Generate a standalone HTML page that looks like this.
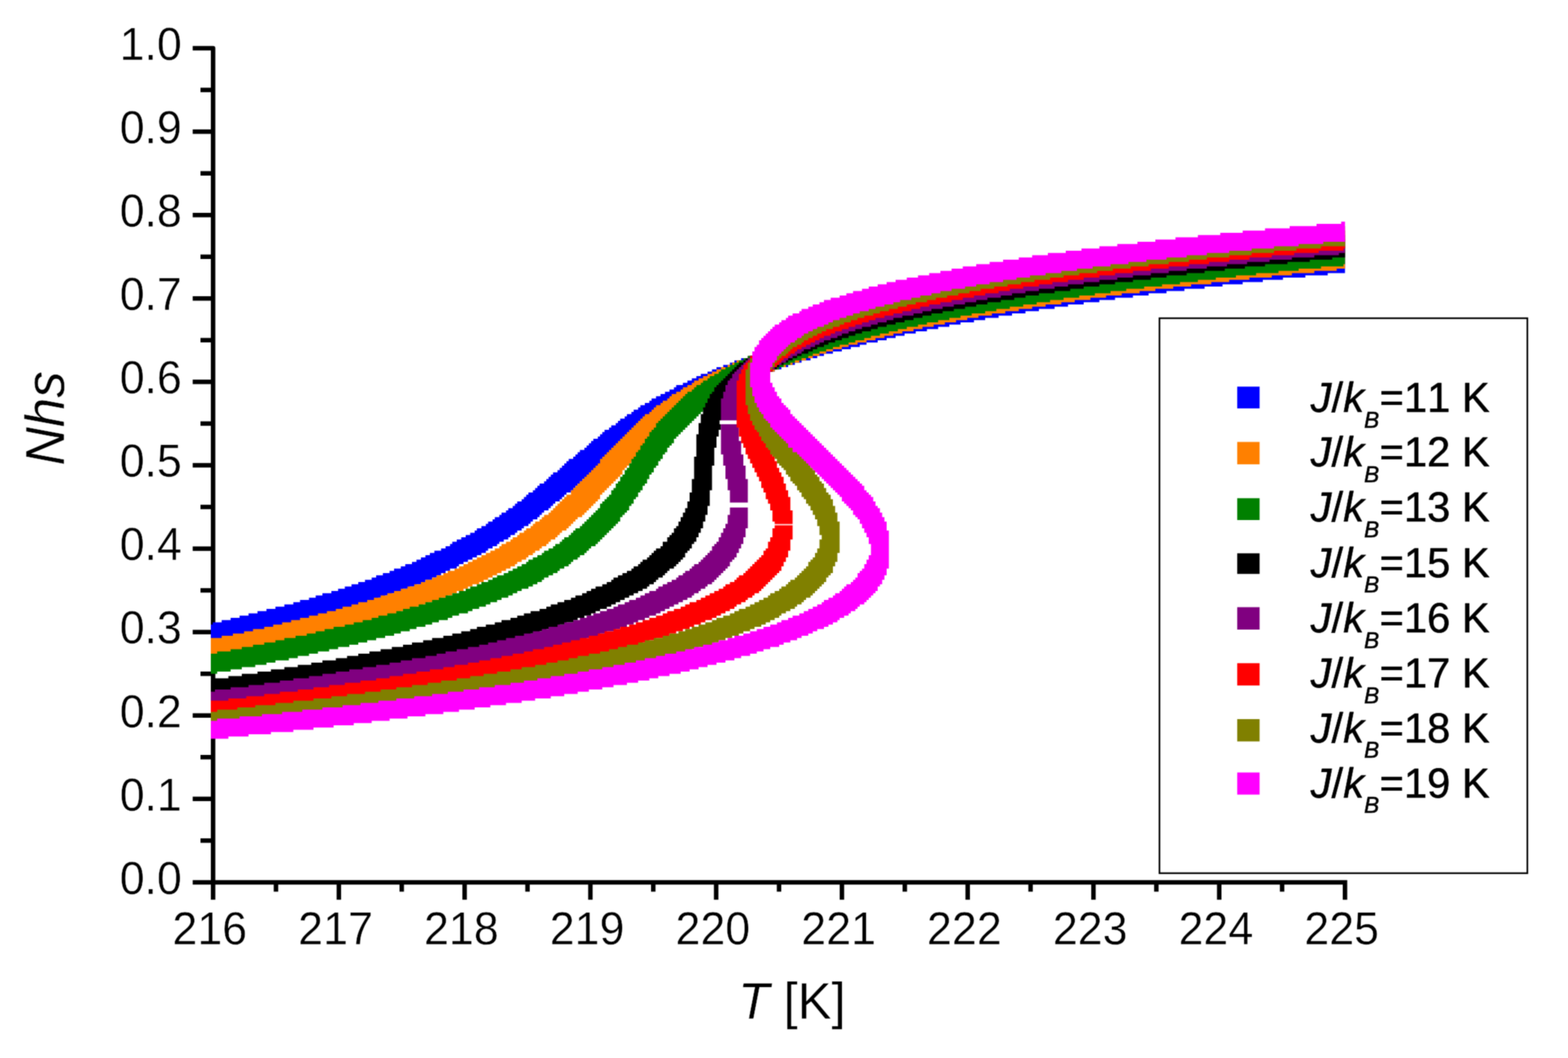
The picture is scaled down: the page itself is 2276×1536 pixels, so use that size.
<!DOCTYPE html>
<html lang="en"><head><meta charset="utf-8"><title>Nhs vs T</title>
<style>html,body{margin:0;padding:0;background:#fff;}body{width:2276px;height:1536px;overflow:hidden;}svg{display:block;}text{font-family:"Liberation Sans",sans-serif;fill:#000;font-kerning:none;font-variant-ligatures:none;text-rendering:geometricPrecision;}.lgt text{stroke:#000;stroke-width:0.7px;stroke-linejoin:round;}.tx{stroke:#fff;stroke-width:0.5px;stroke-linejoin:round;}.tk{font-size:65px;}.lg{font-size:60.5px;}.sub{font-size:33px;font-style:italic;}.it{font-style:italic;}</style></head><body>
<svg width="2276" height="1536" viewBox="0 0 2276 1536">
<rect x="0" y="0" width="2276" height="1536" fill="#fff"/>
<defs><filter id="sf" x="0" y="0" width="100%" height="100%" color-interpolation-filters="sRGB"><feConvolveMatrix order="5" kernelMatrix="0.00003 0.00101 0.00331 0.00101 0.00003 0.00101 0.03529 0.11525 0.03529 0.00101 0.00331 0.11525 0.37636 0.11525 0.00331 0.00101 0.03529 0.11525 0.03529 0.00101 0.00003 0.00101 0.00331 0.00101 0.00003" divisor="1" edgeMode="duplicate" preserveAlpha="true"/></filter></defs>
<g filter="url(#sf)">
<rect x="0" y="0" width="2276" height="1536" fill="#fff"/>
<g stroke="#000" stroke-width="6.5" fill="none" stroke-linecap="butt" stroke-linejoin="round">
<path d="M279.70 70.05 H309.30 V1280.90"/>
<path stroke-linejoin="miter" d="M279.70 1280.90 H1952.30 V1306.20"/>
<path d="M291.00 1220.36 H309.30"/>
<path d="M279.70 1159.82 H309.30"/>
<path d="M291.00 1099.27 H309.30"/>
<path d="M279.70 1038.73 H309.30"/>
<path d="M291.00 978.19 H309.30"/>
<path d="M279.70 917.64 H309.30"/>
<path d="M291.00 857.10 H309.30"/>
<path d="M279.70 796.56 H309.30"/>
<path d="M291.00 736.02 H309.30"/>
<path d="M279.70 675.48 H309.30"/>
<path d="M291.00 614.93 H309.30"/>
<path d="M279.70 554.39 H309.30"/>
<path d="M291.00 493.85 H309.30"/>
<path d="M279.70 433.30 H309.30"/>
<path d="M291.00 372.76 H309.30"/>
<path d="M279.70 312.22 H309.30"/>
<path d="M291.00 251.68 H309.30"/>
<path d="M279.70 191.13 H309.30"/>
<path d="M291.00 130.59 H309.30"/>
<path d="M309.30 1280.90 V1306.20"/>
<path d="M400.58 1280.90 V1294.50"/>
<path d="M491.86 1280.90 V1306.20"/>
<path d="M583.13 1280.90 V1294.50"/>
<path d="M674.41 1280.90 V1306.20"/>
<path d="M765.69 1280.90 V1294.50"/>
<path d="M856.97 1280.90 V1306.20"/>
<path d="M948.24 1280.90 V1294.50"/>
<path d="M1039.52 1280.90 V1306.20"/>
<path d="M1130.80 1280.90 V1294.50"/>
<path d="M1222.08 1280.90 V1306.20"/>
<path d="M1313.36 1280.90 V1294.50"/>
<path d="M1404.63 1280.90 V1306.20"/>
<path d="M1495.91 1280.90 V1294.50"/>
<path d="M1587.19 1280.90 V1306.20"/>
<path d="M1678.47 1280.90 V1294.50"/>
<path d="M1769.74 1280.90 V1306.20"/>
<path d="M1861.02 1280.90 V1294.50"/>
</g>
<defs><clipPath id="pc"><rect x="306.00" y="0" width="1646.30" height="1536"/></clipPath></defs>
<g clip-path="url(#pc)" shape-rendering="auto">
<path fill="#0000ff" d="M256.75 916.5h26v26h-26zM260 916.5h22.75v22.75h-22.75zM260 916.5h26v22.75h-26zM263.25 916.5h22.75v22.75h-22.75zM263.25 913.25h26v26h-26zM266.5 913.25h22.75v26h-22.75zM266.5 913.25h26v26h-26zM269.75 913.25h22.75v26h-22.75zM269.75 913.25h26v26h-26zM273 913.25h22.75v26h-22.75zM273 913.25h26v26h-26zM273 913.25h26v22.75h-26zM276.25 913.25h22.75v22.75h-22.75zM276.25 913.25h26v22.75h-26zM279.5 910h22.75v26h-22.75zM279.5 910h26v26h-26zM282.75 910h22.75v26h-22.75zM282.75 910h26v26h-26zM286 910h22.75v26h-22.75zM286 910h26v26h-26zM289.25 910h22.75v22.75h-22.75zM289.25 910h26v22.75h-26zM292.5 910h22.75v22.75h-22.75zM292.5 910h26v22.75h-26zM292.5 906.75h26v26h-26zM295.75 906.75h22.75v26h-22.75zM295.75 906.75h26v26h-26zM299 906.75h22.75v26h-22.75zM299 906.75h26v26h-26zM302.25 906.75h22.75v26h-22.75zM302.25 906.75h26v26h-26zM302.25 906.75h26v22.75h-26zM305.5 906.75h22.75v22.75h-22.75zM305.5 906.75h26v22.75h-26zM308.75 903.5h22.75v26h-22.75zM308.75 903.5h26v26h-26zM312 903.5h22.75v26h-22.75zM312 903.5h26v26h-26zM315.25 903.5h22.75v26h-22.75zM315.25 903.5h26v26h-26zM318.5 903.5h22.75v22.75h-22.75zM318.5 903.5h26v22.75h-26zM321.75 903.5h22.75v22.75h-22.75zM321.75 900.25h26v26h-26zM325 900.25h22.75v26h-22.75zM325 900.25h26v26h-26zM328.25 900.25h22.75v26h-22.75zM328.25 900.25h26v26h-26zM331.5 900.25h22.75v26h-22.75zM331.5 900.25h26v22.75h-26zM334.75 900.25h22.75v22.75h-22.75zM334.75 900.25h26v22.75h-26zM334.75 897h26v26h-26zM338 897h22.75v26h-22.75zM338 897h26v26h-26zM341.25 897h22.75v26h-22.75zM341.25 897h26v26h-26zM344.5 897h22.75v26h-22.75zM344.5 897h26v26h-26zM344.5 897h26v22.75h-26zM347.75 897h22.75v22.75h-22.75zM347.75 897h26v22.75h-26zM347.75 893.75h26v26h-26zM351 893.75h22.75v26h-22.75zM351 893.75h26v26h-26zM354.25 893.75h22.75v26h-22.75zM354.25 893.75h26v26h-26zM357.5 893.75h22.75v26h-22.75zM357.5 893.75h26v26h-26zM357.5 893.75h26v22.75h-26zM360.75 893.75h22.75v22.75h-22.75zM360.75 893.75h26v22.75h-26zM360.75 890.5h26v26h-26zM364 890.5h22.75v26h-22.75zM364 890.5h26v26h-26zM367.25 890.5h22.75v26h-22.75zM367.25 890.5h26v26h-26zM370.5 890.5h22.75v26h-22.75zM370.5 890.5h26v26h-26zM370.5 890.5h26v22.75h-26zM373.75 890.5h22.75v22.75h-22.75zM373.75 890.5h26v22.75h-26zM373.75 887.25h26v26h-26zM377 887.25h22.75v26h-22.75zM377 887.25h26v26h-26zM380.25 887.25h22.75v26h-22.75zM380.25 887.25h26v26h-26zM383.5 887.25h22.75v26h-22.75zM383.5 887.25h26v22.75h-26zM386.75 887.25h22.75v22.75h-22.75zM386.75 887.25h26v22.75h-26zM386.75 884h26v26h-26zM390 884h22.75v26h-22.75zM390 884h26v26h-26zM393.25 884h22.75v26h-22.75zM393.25 884h26v26h-26zM396.5 884h22.75v26h-22.75zM396.5 884h26v22.75h-26zM399.75 884h22.75v22.75h-22.75zM399.75 884h26v22.75h-26zM399.75 880.75h26v26h-26zM403 880.75h22.75v26h-22.75zM403 880.75h26v26h-26zM406.25 880.75h22.75v26h-22.75zM406.25 880.75h26v26h-26zM409.5 880.75h22.75v22.75h-22.75zM409.5 880.75h26v22.75h-26zM412.75 880.75h22.75v22.75h-22.75zM412.75 877.5h26v26h-26zM416 877.5h22.75v26h-22.75zM416 877.5h26v26h-26zM419.25 877.5h22.75v26h-22.75zM419.25 877.5h26v26h-26zM419.25 877.5h26v22.75h-26zM422.5 877.5h22.75v22.75h-22.75zM422.5 877.5h26v22.75h-26zM425.75 874.25h22.75v26h-22.75zM425.75 874.25h26v26h-26zM429 874.25h22.75v26h-22.75zM429 874.25h26v26h-26zM432.25 874.25h22.75v26h-22.75zM432.25 874.25h26v26h-26zM432.25 874.25h26v22.75h-26zM435.5 874.25h22.75v22.75h-22.75zM435.5 871h26v26h-26zM438.75 871h22.75v26h-22.75zM438.75 871h26v26h-26zM442 871h22.75v26h-22.75zM442 871h26v26h-26zM442 871h26v22.75h-26zM445.25 871h22.75v22.75h-22.75zM445.25 871h26v22.75h-26zM448.5 867.75h22.75v26h-22.75zM448.5 867.75h26v26h-26zM451.75 867.75h22.75v26h-22.75zM451.75 867.75h26v26h-26zM455 867.75h22.75v26h-22.75zM455 867.75h26v22.75h-26zM458.25 867.75h22.75v22.75h-22.75zM458.25 867.75h26v22.75h-26zM458.25 864.5h26v26h-26zM461.5 864.5h22.75v26h-22.75zM461.5 864.5h26v26h-26zM464.75 864.5h22.75v26h-22.75zM464.75 864.5h26v26h-26zM464.75 864.5h26v22.75h-26zM468 864.5h22.75v22.75h-22.75zM468 864.5h26v22.75h-26zM468 861.25h26v26h-26zM471.25 861.25h22.75v26h-22.75zM471.25 861.25h26v26h-26zM474.5 861.25h22.75v26h-22.75zM474.5 861.25h26v26h-26zM477.75 861.25h22.75v22.75h-22.75zM477.75 861.25h26v22.75h-26zM481 858h22.75v26h-22.75zM481 858h26v26h-26zM484.25 858h22.75v26h-22.75zM484.25 858h26v26h-26zM487.5 858h22.75v22.75h-22.75zM487.5 858h26v22.75h-26zM490.75 858h22.75v22.75h-22.75zM490.75 854.75h26v26h-26zM494 854.75h22.75v26h-22.75zM494 854.75h26v26h-26zM497.25 854.75h22.75v26h-22.75zM497.25 854.75h26v22.75h-26zM500.5 854.75h22.75v22.75h-22.75zM500.5 851.5h26v26h-26zM503.75 851.5h22.75v26h-22.75zM503.75 851.5h26v26h-26zM507 851.5h22.75v26h-22.75zM507 851.5h26v26h-26zM507 851.5h26v22.75h-26zM510.25 851.5h22.75v22.75h-22.75zM510.25 848.25h26v26h-26zM513.5 848.25h22.75v26h-22.75zM513.5 848.25h26v26h-26zM516.75 848.25h22.75v26h-22.75zM516.75 848.25h26v22.75h-26zM520 848.25h22.75v22.75h-22.75zM520 845h26v26h-26zM523.25 845h22.75v26h-22.75zM523.25 845h26v26h-26zM526.5 845h22.75v26h-22.75zM526.5 845h26v22.75h-26zM529.75 845h22.75v22.75h-22.75zM529.75 841.75h26v26h-26zM533 841.75h22.75v26h-22.75zM533 841.75h26v26h-26zM536.25 841.75h22.75v26h-22.75zM536.25 841.75h26v22.75h-26zM539.5 838.5h22.75v26h-22.75zM539.5 838.5h26v26h-26zM542.75 838.5h22.75v26h-22.75zM542.75 838.5h26v26h-26zM542.75 838.5h26v22.75h-26zM546 838.5h22.75v22.75h-22.75zM546 838.5h26v22.75h-26zM546 835.25h26v26h-26zM549.25 835.25h22.75v26h-22.75zM549.25 835.25h26v26h-26zM552.5 835.25h22.75v26h-22.75zM552.5 835.25h26v26h-26zM552.5 835.25h26v22.75h-26zM555.75 835.25h22.75v22.75h-22.75zM555.75 832h26v26h-26zM559 832h22.75v26h-22.75zM559 832h26v26h-26zM562.25 832h22.75v26h-22.75zM562.25 832h26v22.75h-26zM565.5 832h22.75v22.75h-22.75zM565.5 828.75h26v26h-26zM568.75 828.75h22.75v26h-22.75zM568.75 828.75h26v26h-26zM572 828.75h22.75v22.75h-22.75zM572 828.75h26v22.75h-26zM572 825.5h26v26h-26zM575.25 825.5h22.75v26h-22.75zM575.25 825.5h26v26h-26zM578.5 825.5h22.75v26h-22.75zM578.5 825.5h26v26h-26zM578.5 825.5h26v22.75h-26zM581.75 822.25h22.75v26h-22.75zM581.75 822.25h26v26h-26zM585 822.25h22.75v26h-22.75zM585 822.25h26v26h-26zM585 822.25h26v22.75h-26zM588.25 822.25h22.75v22.75h-22.75zM588.25 822.25h26v22.75h-26zM588.25 819h26v26h-26zM591.5 819h22.75v26h-22.75zM591.5 819h26v26h-26zM594.75 819h22.75v22.75h-22.75zM594.75 819h26v22.75h-26zM598 815.75h22.75v26h-22.75zM598 815.75h26v26h-26zM601.25 815.75h22.75v26h-22.75zM601.25 815.75h26v26h-26zM601.25 815.75h26v22.75h-26zM604.5 812.5h22.75v26h-22.75zM604.5 812.5h26v26h-26zM607.75 812.5h22.75v26h-22.75zM607.75 812.5h26v26h-26zM607.75 812.5h26v22.75h-26zM611 812.5h22.75v22.75h-22.75zM611 809.25h26v26h-26zM614.25 809.25h22.75v26h-22.75zM614.25 809.25h26v26h-26zM617.5 809.25h22.75v22.75h-22.75zM617.5 809.25h26v22.75h-26zM617.5 806h26v26h-26zM620.75 806h22.75v26h-22.75zM620.75 806h26v26h-26zM624 806h22.75v22.75h-22.75zM624 806h26v22.75h-26zM624 802.75h26v26h-26zM627.25 802.75h22.75v26h-22.75zM627.25 802.75h26v26h-26zM630.5 802.75h22.75v26h-22.75zM630.5 802.75h26v22.75h-26zM630.5 799.5h26v26h-26zM633.75 799.5h22.75v26h-22.75zM633.75 799.5h26v26h-26zM637 799.5h22.75v26h-22.75zM637 799.5h26v26h-26zM637 799.5h26v22.75h-26zM640.25 796.25h22.75v26h-22.75zM640.25 796.25h26v26h-26zM643.5 796.25h22.75v26h-22.75zM643.5 796.25h26v22.75h-26zM646.75 793h22.75v26h-22.75zM646.75 793h26v26h-26zM650 793h22.75v26h-22.75zM650 793h26v22.75h-26zM653.25 789.75h22.75v26h-22.75zM653.25 789.75h26v26h-26zM656.5 789.75h22.75v26h-22.75zM656.5 789.75h26v22.75h-26zM656.5 786.5h26v26h-26zM659.75 786.5h22.75v26h-22.75zM659.75 786.5h26v26h-26zM663 786.5h22.75v26h-22.75zM663 786.5h22.75v22.75h-22.75zM663 786.5h26v22.75h-26zM663 783.25h26v26h-26zM666.25 783.25h22.75v26h-22.75zM666.25 783.25h26v26h-26zM669.5 783.25h22.75v22.75h-22.75zM669.5 783.25h26v22.75h-26zM669.5 780h26v26h-26zM672.75 780h22.75v26h-22.75zM672.75 780h26v26h-26zM676 780h22.75v22.75h-22.75zM676 780h26v22.75h-26zM676 776.75h26v26h-26zM679.25 776.75h22.75v26h-22.75zM679.25 776.75h26v26h-26zM679.25 776.75h26v22.75h-26zM682.5 773.5h22.75v26h-22.75zM682.5 773.5h26v26h-26zM685.75 773.5h22.75v26h-22.75zM685.75 773.5h26v22.75h-26zM689 770.25h22.75v26h-22.75zM689 770.25h26v26h-26zM692.25 770.25h22.75v22.75h-22.75zM692.25 770.25h26v22.75h-26zM692.25 767h26v26h-26zM695.5 767h22.75v26h-22.75zM695.5 767h26v26h-26zM695.5 767h26v22.75h-26zM698.75 767h22.75v22.75h-22.75zM698.75 763.75h26v26h-26zM702 763.75h22.75v26h-22.75zM702 763.75h26v22.75h-26zM705.25 760.5h22.75v26h-22.75zM705.25 760.5h26v26h-26zM708.5 760.5h22.75v22.75h-22.75zM708.5 760.5h26v22.75h-26zM708.5 757.25h26v26h-26zM711.75 757.25h22.75v26h-22.75zM711.75 757.25h26v26h-26zM711.75 757.25h26v22.75h-26zM715 754h22.75v26h-22.75zM715 754h26v26h-26zM718.25 754h22.75v22.75h-22.75zM718.25 754h26v22.75h-26zM718.25 750.75h26v26h-26zM721.5 750.75h22.75v26h-22.75zM721.5 750.75h26v26h-26zM721.5 750.75h26v22.75h-26zM724.75 750.75h22.75v22.75h-22.75zM724.75 747.5h22.75v26h-22.75zM724.75 747.5h26v26h-26zM728 747.5h22.75v26h-22.75zM728 747.5h22.75v22.75h-22.75zM728 747.5h26v22.75h-26zM728 744.25h26v26h-26zM731.25 744.25h22.75v26h-22.75zM731.25 744.25h26v26h-26zM731.25 744.25h26v22.75h-26zM734.5 741h22.75v26h-22.75zM734.5 741h26v26h-26zM737.75 741h22.75v22.75h-22.75zM737.75 741h26v22.75h-26zM737.75 737.75h26v26h-26zM741 737.75h22.75v26h-22.75zM741 737.75h26v26h-26zM741 737.75h26v22.75h-26zM744.25 734.5h22.75v26h-22.75zM744.25 734.5h26v26h-26zM744.25 734.5h26v22.75h-26zM747.5 734.5h22.75v22.75h-22.75zM747.5 731.25h26v26h-26zM750.75 731.25h22.75v26h-22.75zM750.75 731.25h26v22.75h-26zM750.75 728h26v26h-26zM754 728h22.75v26h-22.75zM754 728h26v26h-26zM754 728h26v22.75h-26zM757.25 724.75h22.75v26h-22.75zM757.25 724.75h26v26h-26zM760.5 724.75h22.75v22.75h-22.75zM760.5 721.5h22.75v26h-22.75zM760.5 721.5h26v26h-26zM763.75 721.5h22.75v26h-22.75zM763.75 721.5h22.75v22.75h-22.75zM763.75 721.5h26v22.75h-26zM763.75 718.25h26v26h-26zM767 718.25h22.75v26h-22.75zM767 718.25h26v22.75h-26zM767 715h26v26h-26zM770.25 715h22.75v26h-22.75zM770.25 715h26v26h-26zM770.25 715h26v22.75h-26zM773.5 711.75h22.75v26h-22.75zM773.5 711.75h26v26h-26zM776.75 711.75h22.75v22.75h-22.75zM776.75 711.75h26v22.75h-26zM776.75 708.5h26v26h-26zM780 708.5h22.75v26h-22.75zM780 708.5h26v22.75h-26zM780 705.25h26v26h-26zM783.25 705.25h22.75v26h-22.75zM783.25 705.25h26v22.75h-26zM783.25 702h26v26h-26zM786.5 702h22.75v26h-22.75zM786.5 702h26v26h-26zM786.5 702h26v22.75h-26zM789.75 698.75h22.75v26h-22.75zM789.75 698.75h26v26h-26zM793 698.75h22.75v22.75h-22.75zM793 695.5h26v26h-26zM796.25 695.5h22.75v26h-22.75zM796.25 695.5h26v22.75h-26zM796.25 692.25h26v26h-26zM799.5 692.25h22.75v26h-22.75zM799.5 692.25h26v22.75h-26zM799.5 689h26v26h-26zM802.75 689h22.75v26h-22.75zM802.75 689h26v26h-26zM802.75 689h26v22.75h-26zM802.75 685.75h26v26h-26zM806 685.75h22.75v26h-22.75zM806 685.75h26v26h-26zM806 685.75h26v22.75h-26zM809.25 682.5h22.75v26h-22.75zM809.25 682.5h26v26h-26zM812.5 682.5h22.75v22.75h-22.75zM812.5 679.25h22.75v26h-22.75zM812.5 679.25h26v26h-26zM815.75 679.25h22.75v22.75h-22.75zM815.75 676h26v26h-26zM819 676h22.75v26h-22.75zM819 676h26v22.75h-26zM819 672.75h26v26h-26zM822.25 672.75h22.75v26h-22.75zM822.25 672.75h26v22.75h-26zM822.25 669.5h26v26h-26zM825.5 669.5h22.75v26h-22.75zM825.5 669.5h26v26h-26zM825.5 669.5h26v22.75h-26zM825.5 666.25h26v26h-26zM828.75 666.25h22.75v26h-22.75zM828.75 666.25h26v26h-26zM828.75 666.25h26v22.75h-26zM832 663h22.75v26h-22.75zM832 663h26v26h-26zM835.25 663h22.75v22.75h-22.75zM835.25 659.75h22.75v26h-22.75zM835.25 659.75h26v26h-26zM838.5 659.75h22.75v22.75h-22.75zM838.5 656.5h26v26h-26zM841.75 656.5h22.75v26h-22.75zM841.75 656.5h26v22.75h-26zM841.75 653.25h26v26h-26zM845 653.25h22.75v26h-22.75zM845 653.25h26v26h-26zM845 653.25h26v22.75h-26zM848.25 650h22.75v26h-22.75zM848.25 650h26v26h-26zM848.25 650h26v22.75h-26zM851.5 646.75h22.75v26h-22.75zM851.5 646.75h26v26h-26zM851.5 646.75h26v22.75h-26zM854.75 646.75h22.75v22.75h-22.75zM854.75 643.5h26v26h-26zM858 643.5h22.75v22.75h-22.75zM858 643.5h26v22.75h-26zM858 640.25h26v26h-26zM861.25 640.25h22.75v26h-22.75zM861.25 640.25h26v26h-26zM861.25 640.25h26v22.75h-26zM861.25 637h26v26h-26zM864.5 637h22.75v26h-22.75zM864.5 637h26v26h-26zM864.5 637h26v22.75h-26zM867.75 633.75h22.75v26h-22.75zM867.75 633.75h26v26h-26zM867.75 633.75h26v22.75h-26zM871 633.75h22.75v22.75h-22.75zM871 630.5h26v26h-26zM874.25 630.5h22.75v22.75h-22.75zM874.25 630.5h26v22.75h-26zM874.25 627.25h26v26h-26zM877.5 627.25h22.75v26h-22.75zM877.5 627.25h26v26h-26zM877.5 627.25h26v22.75h-26zM877.5 624h26v26h-26zM880.75 624h22.75v26h-22.75zM880.75 624h26v26h-26zM880.75 624h26v22.75h-26zM884 624h22.75v22.75h-22.75zM884 620.75h26v26h-26zM887.25 620.75h22.75v22.75h-22.75zM887.25 620.75h26v22.75h-26zM887.25 617.5h26v26h-26zM890.5 617.5h22.75v26h-22.75zM890.5 617.5h26v26h-26zM890.5 617.5h26v22.75h-26zM893.75 614.25h22.75v26h-22.75zM893.75 614.25h26v26h-26zM893.75 614.25h26v22.75h-26zM897 614.25h22.75v22.75h-22.75zM897 611h26v26h-26zM900.25 611h22.75v26h-22.75zM900.25 611h26v22.75h-26zM900.25 607.75h26v26h-26zM903.5 607.75h22.75v26h-22.75zM903.5 607.75h26v26h-26zM903.5 607.75h26v22.75h-26zM906.75 604.5h22.75v26h-22.75zM906.75 604.5h26v26h-26zM910 604.5h22.75v22.75h-22.75zM910 604.5h26v22.75h-26zM910 601.25h26v26h-26zM913.25 601.25h22.75v26h-22.75zM913.25 601.25h26v26h-26zM913.25 601.25h26v22.75h-26zM916.5 598h22.75v26h-22.75zM916.5 598h26v26h-26zM919.75 598h22.75v22.75h-22.75zM919.75 598h26v22.75h-26zM919.75 594.75h26v26h-26zM923 594.75h22.75v26h-22.75zM923 594.75h26v26h-26zM923 594.75h26v22.75h-26zM926.25 594.75h22.75v22.75h-22.75zM926.25 591.5h22.75v26h-22.75zM926.25 591.5h26v26h-26zM929.5 591.5h22.75v26h-22.75zM929.5 591.5h26v22.75h-26zM929.5 588.25h26v26h-26zM932.75 588.25h22.75v26h-22.75zM932.75 588.25h26v26h-26zM932.75 588.25h26v22.75h-26zM936 588.25h22.75v22.75h-22.75zM936 585h26v26h-26zM939.25 585h22.75v26h-22.75zM939.25 585h26v26h-26zM939.25 585h26v22.75h-26zM942.5 581.75h22.75v26h-22.75zM942.5 581.75h26v26h-26zM945.75 581.75h22.75v26h-22.75zM945.75 581.75h26v22.75h-26zM945.75 578.5h26v26h-26zM949 578.5h22.75v26h-22.75zM949 578.5h26v26h-26zM952.25 578.5h22.75v22.75h-22.75zM952.25 578.5h26v22.75h-26zM952.25 575.25h26v26h-26zM955.5 575.25h22.75v26h-22.75zM955.5 575.25h26v26h-26zM955.5 575.25h26v22.75h-26zM958.75 575.25h22.75v22.75h-22.75zM958.75 572h26v26h-26zM962 572h22.75v26h-22.75zM962 572h26v26h-26zM962 572h26v22.75h-26zM965.25 568.75h22.75v26h-22.75zM965.25 568.75h26v26h-26zM968.5 568.75h22.75v26h-22.75zM968.5 568.75h26v26h-26zM968.5 568.75h26v22.75h-26zM971.75 565.5h22.75v26h-22.75zM971.75 565.5h26v26h-26zM975 565.5h22.75v26h-22.75zM975 565.5h26v22.75h-26zM978.25 562.25h22.75v26h-22.75zM978.25 562.25h26v26h-26zM981.5 562.25h22.75v26h-22.75zM981.5 562.25h26v22.75h-26zM981.5 559h26v26h-26zM984.75 559h22.75v26h-22.75zM984.75 559h26v26h-26zM988 559h22.75v26h-22.75zM988 559h26v22.75h-26zM991.25 555.75h22.75v26h-22.75zM991.25 555.75h26v26h-26zM994.5 555.75h22.75v26h-22.75zM994.5 555.75h26v22.75h-26zM997.75 552.5h22.75v26h-22.75zM997.75 552.5h26v26h-26zM1001 552.5h22.75v26h-22.75zM1001 552.5h26v22.75h-26zM1004.25 552.5h22.75v22.75h-22.75zM1004.25 549.25h26v26h-26zM1007.5 549.25h22.75v26h-22.75zM1007.5 549.25h26v26h-26zM1007.5 549.25h26v22.75h-26zM1010.75 549.25h22.75v22.75h-22.75zM1010.75 549.25h26v22.75h-26zM1010.75 546h26v26h-26zM1014 546h22.75v26h-22.75zM1014 546h26v26h-26zM1014 546h26v22.75h-26zM1017.25 546h22.75v22.75h-22.75zM1017.25 546h26v22.75h-26zM1017.25 542.75h26v26h-26zM1020.5 542.75h22.75v26h-22.75zM1020.5 542.75h26v26h-26zM1023.75 542.75h22.75v22.75h-22.75zM1023.75 542.75h26v22.75h-26zM1027 539.5h22.75v26h-22.75zM1027 539.5h26v26h-26zM1030.25 539.5h22.75v26h-22.75zM1030.25 539.5h26v26h-26zM1030.25 539.5h26v22.75h-26zM1033.5 539.5h22.75v22.75h-22.75zM1033.5 536.25h26v26h-26zM1036.75 536.25h22.75v26h-22.75zM1036.75 536.25h26v26h-26zM1040 536.25h22.75v22.75h-22.75zM1040 536.25h26v22.75h-26zM1040 533h26v26h-26zM1043.25 533h22.75v26h-22.75zM1043.25 533h26v26h-26zM1046.5 533h22.75v26h-22.75zM1046.5 533h26v26h-26zM1046.5 533h26v22.75h-26zM1049.75 533h22.75v22.75h-22.75zM1049.75 529.75h26v26h-26zM1053 529.75h22.75v26h-22.75zM1053 529.75h26v26h-26zM1056.25 529.75h22.75v22.75h-22.75zM1056.25 529.75h26v22.75h-26zM1059.5 526.5h22.75v26h-22.75zM1059.5 526.5h26v26h-26zM1062.75 526.5h22.75v26h-22.75zM1062.75 526.5h26v26h-26zM1062.75 526.5h26v22.75h-26zM1066 526.5h22.75v22.75h-22.75zM1066 526.5h26v22.75h-26zM1066 523.25h26v26h-26zM1069.25 523.25h22.75v26h-22.75zM1069.25 523.25h26v26h-26zM1072.5 523.25h22.75v26h-22.75zM1072.5 523.25h26v22.75h-26zM1075.75 520h22.75v26h-22.75zM1075.75 520h26v26h-26zM1079 520h22.75v26h-22.75zM1079 520h26v26h-26zM1082.25 520h22.75v26h-22.75zM1082.25 520h26v22.75h-26zM1085.5 516.75h22.75v26h-22.75zM1085.5 516.75h26v26h-26zM1088.75 516.75h22.75v26h-22.75zM1088.75 516.75h26v26h-26zM1092 516.75h22.75v22.75h-22.75zM1092 516.75h26v22.75h-26zM1095.25 513.5h22.75v26h-22.75zM1095.25 513.5h26v26h-26zM1098.5 513.5h22.75v26h-22.75zM1098.5 513.5h26v26h-26zM1101.75 513.5h22.75v22.75h-22.75zM1101.75 513.5h26v22.75h-26zM1105 510.25h22.75v26h-22.75zM1105 510.25h26v26h-26zM1108.25 510.25h22.75v26h-22.75zM1108.25 510.25h26v26h-26zM1111.5 510.25h22.75v22.75h-22.75zM1111.5 510.25h26v22.75h-26zM1111.5 507h26v26h-26zM1114.75 507h22.75v26h-22.75zM1114.75 507h26v26h-26zM1118 507h22.75v26h-22.75zM1118 507h26v26h-26zM1118 507h26v22.75h-26zM1121.25 507h22.75v22.75h-22.75zM1121.25 507h26v22.75h-26zM1124.5 503.75h22.75v26h-22.75zM1124.5 503.75h26v26h-26zM1127.75 503.75h22.75v26h-22.75zM1127.75 503.75h26v26h-26zM1131 503.75h22.75v22.75h-22.75zM1131 503.75h26v22.75h-26zM1134.25 500.5h22.75v26h-22.75zM1134.25 500.5h26v26h-26zM1137.5 500.5h22.75v26h-22.75zM1137.5 500.5h26v26h-26zM1140.75 500.5h22.75v26h-22.75zM1140.75 500.5h26v22.75h-26zM1144 500.5h22.75v22.75h-22.75zM1144 497.25h26v26h-26zM1147.25 497.25h22.75v26h-22.75zM1147.25 497.25h26v26h-26zM1150.5 497.25h22.75v26h-22.75zM1150.5 497.25h26v26h-26zM1150.5 497.25h26v22.75h-26zM1153.75 497.25h22.75v22.75h-22.75zM1153.75 497.25h26v22.75h-26zM1153.75 494h26v26h-26zM1157 494h22.75v26h-22.75zM1157 494h26v26h-26zM1160.25 494h22.75v26h-22.75zM1160.25 494h26v26h-26zM1163.5 494h22.75v22.75h-22.75zM1163.5 494h26v22.75h-26zM1166.75 490.75h22.75v26h-22.75zM1166.75 490.75h26v26h-26zM1170 490.75h22.75v26h-22.75zM1170 490.75h26v26h-26zM1173.25 490.75h22.75v26h-22.75zM1173.25 490.75h26v22.75h-26zM1176.5 490.75h22.75v22.75h-22.75zM1176.5 490.75h26v22.75h-26zM1176.5 487.5h26v26h-26zM1179.75 487.5h22.75v26h-22.75zM1179.75 487.5h26v26h-26zM1183 487.5h22.75v26h-22.75zM1183 487.5h26v26h-26zM1186.25 487.5h22.75v22.75h-22.75zM1186.25 487.5h26v22.75h-26zM1189.5 484.25h22.75v26h-22.75zM1189.5 484.25h26v26h-26zM1192.75 484.25h22.75v26h-22.75zM1192.75 484.25h26v26h-26zM1196 484.25h22.75v26h-22.75zM1196 484.25h26v26h-26zM1196 484.25h26v22.75h-26zM1199.25 484.25h22.75v22.75h-22.75zM1199.25 484.25h26v22.75h-26zM1202.5 481h22.75v26h-22.75zM1202.5 481h26v26h-26zM1205.75 481h22.75v26h-22.75zM1205.75 481h26v26h-26zM1209 481h22.75v26h-22.75zM1209 481h26v26h-26zM1209 481h26v22.75h-26zM1212.25 481h22.75v22.75h-22.75zM1212.25 481h26v22.75h-26zM1212.25 477.75h26v26h-26zM1215.5 477.75h22.75v26h-22.75zM1215.5 477.75h26v26h-26zM1218.75 477.75h22.75v26h-22.75zM1218.75 477.75h26v26h-26zM1222 477.75h22.75v26h-22.75zM1222 477.75h26v26h-26zM1222 477.75h26v22.75h-26zM1225.25 477.75h22.75v22.75h-22.75zM1225.25 477.75h26v22.75h-26zM1225.25 474.5h26v26h-26zM1228.5 474.5h22.75v26h-22.75zM1228.5 474.5h26v26h-26zM1231.75 474.5h22.75v26h-22.75zM1231.75 474.5h26v26h-26zM1235 474.5h22.75v26h-22.75zM1235 474.5h26v22.75h-26zM1238.25 474.5h22.75v22.75h-22.75zM1238.25 474.5h26v22.75h-26zM1238.25 471.25h26v26h-26zM1241.5 471.25h22.75v26h-22.75zM1241.5 471.25h26v26h-26zM1244.75 471.25h22.75v26h-22.75zM1244.75 471.25h26v26h-26zM1248 471.25h22.75v26h-22.75zM1248 471.25h26v26h-26zM1248 471.25h26v22.75h-26zM1251.25 471.25h22.75v22.75h-22.75zM1251.25 471.25h26v22.75h-26zM1251.25 468h26v26h-26zM1254.5 468h22.75v26h-22.75zM1254.5 468h26v26h-26zM1257.75 468h22.75v26h-22.75zM1257.75 468h26v26h-26zM1261 468h22.75v26h-22.75zM1261 468h26v26h-26zM1261 468h26v22.75h-26zM1264.25 468h22.75v22.75h-22.75zM1264.25 468h26v22.75h-26zM1267.5 464.75h22.75v26h-22.75zM1267.5 464.75h26v26h-26zM1270.75 464.75h22.75v26h-22.75zM1270.75 464.75h26v26h-26zM1274 464.75h22.75v26h-22.75zM1274 464.75h26v26h-26zM1277.25 464.75h22.75v22.75h-22.75zM1277.25 464.75h26v22.75h-26zM1280.5 464.75h22.75v22.75h-22.75zM1280.5 461.5h26v26h-26zM1283.75 461.5h22.75v26h-22.75zM1283.75 461.5h26v26h-26zM1287 461.5h22.75v26h-22.75zM1287 461.5h26v26h-26zM1290.25 461.5h22.75v26h-22.75zM1290.25 461.5h26v22.75h-26zM1293.5 461.5h22.75v22.75h-22.75zM1293.5 461.5h26v22.75h-26zM1296.75 458.25h22.75v26h-22.75zM1296.75 458.25h26v26h-26zM1300 458.25h22.75v26h-22.75zM1300 458.25h26v26h-26zM1303.25 458.25h22.75v26h-22.75zM1303.25 458.25h26v26h-26zM1306.5 458.25h22.75v26h-22.75zM1306.5 458.25h26v22.75h-26zM1309.75 458.25h22.75v22.75h-22.75zM1309.75 458.25h26v22.75h-26zM1309.75 455h26v26h-26zM1313 455h22.75v26h-22.75zM1313 455h26v26h-26zM1316.25 455h22.75v26h-22.75zM1316.25 455h26v26h-26zM1319.5 455h22.75v26h-22.75zM1319.5 455h26v26h-26zM1322.75 455h22.75v22.75h-22.75zM1322.75 455h26v22.75h-26zM1326 455h22.75v22.75h-22.75zM1326 455h26v22.75h-26zM1326 451.75h26v26h-26zM1329.25 451.75h22.75v26h-22.75zM1329.25 451.75h26v26h-26zM1332.5 451.75h22.75v26h-22.75zM1332.5 451.75h26v26h-26zM1335.75 451.75h22.75v26h-22.75zM1335.75 451.75h26v26h-26zM1339 451.75h22.75v22.75h-22.75zM1339 451.75h26v22.75h-26zM1342.25 451.75h22.75v22.75h-22.75zM1342.25 448.5h26v26h-26zM1345.5 448.5h22.75v26h-22.75zM1345.5 448.5h26v26h-26zM1348.75 448.5h22.75v26h-22.75zM1348.75 448.5h26v26h-26zM1352 448.5h22.75v26h-22.75zM1352 448.5h26v26h-26zM1355.25 448.5h22.75v22.75h-22.75zM1355.25 448.5h26v22.75h-26zM1358.5 448.5h22.75v22.75h-22.75zM1358.5 448.5h26v22.75h-26zM1358.5 445.25h26v26h-26zM1361.75 445.25h22.75v26h-22.75zM1361.75 445.25h26v26h-26zM1365 445.25h22.75v26h-22.75zM1365 445.25h26v26h-26zM1368.25 445.25h22.75v26h-22.75zM1368.25 445.25h26v26h-26zM1371.5 445.25h22.75v26h-22.75zM1371.5 445.25h26v22.75h-26zM1374.75 445.25h22.75v22.75h-22.75zM1374.75 445.25h26v22.75h-26zM1378 442h22.75v26h-22.75zM1378 442h26v26h-26zM1381.25 442h22.75v26h-22.75zM1381.25 442h26v26h-26zM1384.5 442h22.75v26h-22.75zM1384.5 442h26v26h-26zM1387.75 442h22.75v26h-22.75zM1387.75 442h26v26h-26zM1387.75 442h26v22.75h-26zM1391 442h22.75v22.75h-22.75zM1391 442h26v22.75h-26zM1394.25 442h22.75v22.75h-22.75zM1394.25 438.75h26v26h-26zM1397.5 438.75h22.75v26h-22.75zM1397.5 438.75h26v26h-26zM1400.75 438.75h22.75v26h-22.75zM1400.75 438.75h26v26h-26zM1404 438.75h22.75v26h-22.75zM1404 438.75h26v26h-26zM1407.25 438.75h22.75v22.75h-22.75zM1407.25 438.75h26v22.75h-26zM1410.5 438.75h22.75v22.75h-22.75zM1410.5 438.75h26v22.75h-26zM1413.75 435.5h22.75v26h-22.75zM1413.75 435.5h26v26h-26zM1417 435.5h22.75v26h-22.75zM1417 435.5h26v26h-26zM1420.25 435.5h22.75v26h-22.75zM1420.25 435.5h26v26h-26zM1423.5 435.5h22.75v26h-22.75zM1423.5 435.5h26v26h-26zM1423.5 435.5h26v22.75h-26zM1426.75 435.5h22.75v22.75h-22.75zM1426.75 435.5h26v22.75h-26zM1430 435.5h22.75v22.75h-22.75zM1430 435.5h26v22.75h-26zM1430 432.25h26v26h-26zM1433.25 432.25h22.75v26h-22.75zM1433.25 432.25h26v26h-26zM1436.5 432.25h22.75v26h-22.75zM1436.5 432.25h26v26h-26zM1439.75 432.25h22.75v26h-22.75zM1439.75 432.25h26v26h-26zM1443 432.25h22.75v26h-22.75zM1443 432.25h26v26h-26zM1446.25 432.25h22.75v22.75h-22.75zM1446.25 432.25h26v22.75h-26zM1449.5 432.25h22.75v22.75h-22.75zM1449.5 432.25h26v22.75h-26zM1449.5 429h26v26h-26zM1452.75 429h22.75v26h-22.75zM1452.75 429h26v26h-26zM1456 429h22.75v26h-22.75zM1456 429h26v26h-26zM1459.25 429h22.75v26h-22.75zM1459.25 429h26v26h-26zM1462.5 429h22.75v26h-22.75zM1462.5 429h26v26h-26zM1465.75 429h22.75v22.75h-22.75zM1465.75 429h26v22.75h-26zM1469 429h22.75v22.75h-22.75zM1469 429h26v22.75h-26zM1469 425.75h26v26h-26zM1472.25 425.75h22.75v26h-22.75zM1472.25 425.75h26v26h-26zM1475.5 425.75h22.75v26h-22.75zM1475.5 425.75h26v26h-26zM1478.75 425.75h22.75v26h-22.75zM1478.75 425.75h26v26h-26zM1482 425.75h22.75v26h-22.75zM1482 425.75h26v26h-26zM1485.25 425.75h22.75v26h-22.75zM1485.25 425.75h26v22.75h-26zM1488.5 425.75h22.75v22.75h-22.75zM1488.5 425.75h26v22.75h-26zM1491.75 425.75h22.75v22.75h-22.75zM1491.75 422.5h26v26h-26zM1495 422.5h22.75v26h-22.75zM1495 422.5h26v26h-26zM1498.25 422.5h22.75v26h-22.75zM1498.25 422.5h26v26h-26zM1501.5 422.5h22.75v26h-22.75zM1501.5 422.5h26v26h-26zM1504.75 422.5h22.75v26h-22.75zM1504.75 422.5h26v26h-26zM1504.75 422.5h26v22.75h-26zM1508 422.5h22.75v22.75h-22.75zM1508 422.5h26v22.75h-26zM1511.25 422.5h22.75v22.75h-22.75zM1511.25 422.5h26v22.75h-26zM1514.5 419.25h22.75v26h-22.75zM1514.5 419.25h26v26h-26zM1517.75 419.25h22.75v26h-22.75zM1517.75 419.25h26v26h-26zM1521 419.25h22.75v26h-22.75zM1521 419.25h26v26h-26zM1524.25 419.25h22.75v26h-22.75zM1524.25 419.25h26v26h-26zM1527.5 419.25h22.75v26h-22.75zM1527.5 419.25h26v22.75h-26zM1530.75 419.25h22.75v22.75h-22.75zM1530.75 419.25h26v22.75h-26zM1534 419.25h22.75v22.75h-22.75zM1534 419.25h26v22.75h-26zM1534 416h26v26h-26zM1537.25 416h22.75v26h-22.75zM1537.25 416h26v26h-26zM1540.5 416h22.75v26h-22.75zM1540.5 416h26v26h-26zM1543.75 416h22.75v26h-22.75zM1543.75 416h26v26h-26zM1547 416h22.75v26h-22.75zM1547 416h26v26h-26zM1550.25 416h22.75v22.75h-22.75zM1550.25 416h26v22.75h-26zM1553.5 416h22.75v22.75h-22.75zM1553.5 416h26v22.75h-26zM1556.75 416h22.75v22.75h-22.75zM1556.75 412.75h26v26h-26zM1560 412.75h22.75v26h-22.75zM1560 412.75h26v26h-26zM1563.25 412.75h22.75v26h-22.75zM1563.25 412.75h26v26h-26zM1566.5 412.75h22.75v26h-22.75zM1566.5 412.75h26v26h-26zM1569.75 412.75h22.75v26h-22.75zM1569.75 412.75h26v26h-26zM1573 412.75h22.75v22.75h-22.75zM1573 412.75h26v22.75h-26zM1576.25 412.75h22.75v22.75h-22.75zM1576.25 412.75h26v22.75h-26zM1579.5 412.75h22.75v22.75h-22.75zM1579.5 409.5h26v26h-26zM1582.75 409.5h22.75v26h-22.75zM1582.75 409.5h26v26h-26zM1586 409.5h22.75v26h-22.75zM1586 409.5h26v26h-26zM1589.25 409.5h22.75v26h-22.75zM1589.25 409.5h26v26h-26zM1592.5 409.5h22.75v26h-22.75zM1592.5 409.5h26v26h-26zM1595.75 409.5h22.75v26h-22.75zM1595.75 409.5h26v22.75h-26zM1599 409.5h22.75v22.75h-22.75zM1599 409.5h26v22.75h-26zM1602.25 409.5h22.75v22.75h-22.75zM1602.25 409.5h26v22.75h-26zM1602.25 406.25h26v26h-26zM1605.5 406.25h22.75v26h-22.75zM1605.5 406.25h26v26h-26zM1608.75 406.25h22.75v26h-22.75zM1608.75 406.25h26v26h-26zM1612 406.25h22.75v26h-22.75zM1612 406.25h26v26h-26zM1615.25 406.25h22.75v26h-22.75zM1615.25 406.25h26v26h-26zM1618.5 406.25h22.75v26h-22.75zM1618.5 406.25h26v26h-26zM1618.5 406.25h26v22.75h-26zM1621.75 406.25h22.75v22.75h-22.75zM1621.75 406.25h26v22.75h-26zM1625 406.25h22.75v22.75h-22.75zM1625 406.25h26v22.75h-26zM1628.25 406.25h22.75v22.75h-22.75zM1628.25 403h26v26h-26zM1631.5 403h22.75v26h-22.75zM1631.5 403h26v26h-26zM1634.75 403h22.75v26h-22.75zM1634.75 403h26v26h-26zM1638 403h22.75v26h-22.75zM1638 403h26v26h-26zM1641.25 403h22.75v26h-22.75zM1641.25 403h26v26h-26zM1644.5 403h22.75v26h-22.75zM1644.5 403h26v22.75h-26zM1647.75 403h22.75v22.75h-22.75zM1647.75 403h26v22.75h-26zM1651 403h22.75v22.75h-22.75zM1651 403h26v22.75h-26zM1651 399.75h26v26h-26zM1654.25 399.75h22.75v26h-22.75zM1654.25 399.75h26v26h-26zM1657.5 399.75h22.75v26h-22.75zM1657.5 399.75h26v26h-26zM1660.75 399.75h22.75v26h-22.75zM1660.75 399.75h26v26h-26zM1664 399.75h22.75v26h-22.75zM1664 399.75h26v26h-26zM1667.25 399.75h22.75v26h-22.75zM1667.25 399.75h26v26h-26zM1670.5 399.75h22.75v26h-22.75zM1670.5 399.75h26v22.75h-26zM1673.75 399.75h22.75v22.75h-22.75zM1673.75 399.75h26v22.75h-26zM1677 399.75h22.75v22.75h-22.75zM1677 399.75h26v22.75h-26zM1677 396.5h26v26h-26zM1680.25 396.5h22.75v26h-22.75zM1680.25 396.5h26v26h-26zM1683.5 396.5h22.75v26h-22.75zM1683.5 396.5h26v26h-26zM1686.75 396.5h22.75v26h-22.75zM1686.75 396.5h26v26h-26zM1690 396.5h22.75v26h-22.75zM1690 396.5h26v26h-26zM1693.25 396.5h22.75v26h-22.75zM1693.25 396.5h26v26h-26zM1696.5 396.5h22.75v26h-22.75zM1696.5 396.5h26v22.75h-26zM1699.75 396.5h22.75v22.75h-22.75zM1699.75 396.5h26v22.75h-26zM1703 396.5h22.75v22.75h-22.75zM1703 396.5h26v22.75h-26zM1706.25 393.25h22.75v26h-22.75zM1706.25 393.25h26v26h-26zM1709.5 393.25h22.75v26h-22.75zM1709.5 393.25h26v26h-26zM1712.75 393.25h22.75v26h-22.75zM1712.75 393.25h26v26h-26zM1716 393.25h22.75v26h-22.75zM1716 393.25h26v26h-26zM1719.25 393.25h22.75v26h-22.75zM1719.25 393.25h26v26h-26zM1722.5 393.25h22.75v26h-22.75zM1722.5 393.25h26v26h-26zM1722.5 393.25h26v22.75h-26zM1725.75 393.25h22.75v22.75h-22.75zM1725.75 393.25h26v22.75h-26zM1729 393.25h22.75v22.75h-22.75zM1729 393.25h26v22.75h-26zM1732.25 393.25h22.75v22.75h-22.75zM1732.25 390h26v26h-26zM1735.5 390h22.75v26h-22.75zM1735.5 390h26v26h-26zM1738.75 390h22.75v26h-22.75zM1738.75 390h26v26h-26zM1742 390h22.75v26h-22.75zM1742 390h26v26h-26zM1745.25 390h22.75v26h-22.75zM1745.25 390h26v26h-26zM1748.5 390h22.75v26h-22.75zM1748.5 390h26v26h-26zM1751.75 390h22.75v26h-22.75zM1751.75 390h26v22.75h-26zM1755 390h22.75v22.75h-22.75zM1755 390h26v22.75h-26zM1758.25 390h22.75v22.75h-22.75zM1758.25 390h26v22.75h-26zM1758.25 386.75h26v26h-26zM1761.5 386.75h22.75v26h-22.75zM1761.5 386.75h26v26h-26zM1764.75 386.75h22.75v26h-22.75zM1764.75 386.75h26v26h-26zM1768 386.75h22.75v26h-22.75zM1768 386.75h26v26h-26zM1771.25 386.75h22.75v26h-22.75zM1771.25 386.75h26v26h-26zM1774.5 386.75h22.75v26h-22.75zM1774.5 386.75h26v26h-26zM1777.75 386.75h22.75v26h-22.75zM1777.75 386.75h26v26h-26zM1781 386.75h22.75v22.75h-22.75zM1781 386.75h26v22.75h-26zM1784.25 386.75h22.75v22.75h-22.75zM1784.25 386.75h26v22.75h-26zM1787.5 386.75h22.75v22.75h-22.75zM1787.5 386.75h26v22.75h-26zM1787.5 383.5h26v26h-26zM1790.75 383.5h22.75v26h-22.75zM1790.75 383.5h26v26h-26zM1794 383.5h22.75v26h-22.75zM1794 383.5h26v26h-26zM1797.25 383.5h22.75v26h-22.75zM1797.25 383.5h26v26h-26zM1800.5 383.5h22.75v26h-22.75zM1800.5 383.5h26v26h-26zM1803.75 383.5h22.75v26h-22.75zM1803.75 383.5h26v26h-26zM1807 383.5h22.75v26h-22.75zM1807 383.5h26v26h-26zM1810.25 383.5h22.75v22.75h-22.75zM1810.25 383.5h26v22.75h-26zM1813.5 383.5h22.75v22.75h-22.75zM1813.5 383.5h26v22.75h-26zM1816.75 383.5h22.75v22.75h-22.75zM1816.75 383.5h26v22.75h-26zM1820 380.25h22.75v26h-22.75zM1820 380.25h26v26h-26zM1823.25 380.25h22.75v26h-22.75zM1823.25 380.25h26v26h-26zM1826.5 380.25h22.75v26h-22.75zM1826.5 380.25h26v26h-26zM1829.75 380.25h22.75v26h-22.75zM1829.75 380.25h26v26h-26zM1833 380.25h22.75v26h-22.75zM1833 380.25h26v26h-26zM1836.25 380.25h22.75v26h-22.75zM1836.25 380.25h26v26h-26zM1839.5 380.25h22.75v26h-22.75zM1839.5 380.25h26v22.75h-26zM1842.75 380.25h22.75v22.75h-22.75zM1842.75 380.25h26v22.75h-26zM1846 380.25h22.75v22.75h-22.75zM1846 380.25h26v22.75h-26zM1849.25 380.25h22.75v22.75h-22.75zM1849.25 377h26v26h-26zM1852.5 377h22.75v26h-22.75zM1852.5 377h26v26h-26zM1855.75 377h22.75v26h-22.75zM1855.75 377h26v26h-26zM1859 377h22.75v26h-22.75zM1859 377h26v26h-26zM1862.25 377h22.75v26h-22.75zM1862.25 377h26v26h-26zM1865.5 377h22.75v26h-22.75zM1865.5 377h26v26h-26zM1868.75 377h22.75v26h-22.75zM1868.75 377h26v26h-26zM1868.75 377h26v22.75h-26zM1872 377h22.75v22.75h-22.75zM1872 377h26v22.75h-26zM1875.25 377h22.75v22.75h-22.75zM1875.25 377h26v22.75h-26zM1878.5 377h22.75v22.75h-22.75zM1878.5 377h26v22.75h-26zM1878.5 373.75h26v26h-26zM1881.75 373.75h22.75v26h-22.75zM1881.75 373.75h26v26h-26zM1885 373.75h22.75v26h-22.75zM1885 373.75h26v26h-26zM1888.25 373.75h22.75v26h-22.75zM1888.25 373.75h26v26h-26zM1891.5 373.75h22.75v26h-22.75zM1891.5 373.75h26v26h-26zM1894.75 373.75h22.75v26h-22.75zM1894.75 373.75h26v26h-26zM1898 373.75h22.75v26h-22.75zM1898 373.75h26v26h-26zM1901.25 373.75h22.75v26h-22.75zM1901.25 373.75h26v26h-26zM1904.5 373.75h22.75v22.75h-22.75zM1904.5 373.75h26v22.75h-26zM1907.75 373.75h22.75v22.75h-22.75zM1907.75 373.75h26v22.75h-26zM1911 373.75h22.75v22.75h-22.75zM1911 373.75h26v22.75h-26zM1914.25 370.5h22.75v26h-22.75zM1914.25 370.5h26v26h-26zM1917.5 370.5h22.75v26h-22.75zM1917.5 370.5h26v26h-26zM1920.75 370.5h22.75v26h-22.75zM1920.75 370.5h26v26h-26zM1924 370.5h22.75v26h-22.75zM1924 370.5h26v26h-26zM1927.25 370.5h22.75v26h-22.75zM1927.25 370.5h26v26h-26zM1930.5 370.5h22.75v26h-22.75zM1930.5 370.5h26v26h-26zM1933.75 370.5h22.75v26h-22.75zM1933.75 370.5h26v26h-26zM1937 370.5h22.75v22.75h-22.75zM1937 370.5h26v22.75h-26zM1940.25 370.5h22.75v22.75h-22.75zM1940.25 370.5h26v22.75h-26zM1943.5 370.5h22.75v22.75h-22.75zM1943.5 370.5h26v22.75h-26zM1946.75 367.25h22.75v26h-22.75zM1946.75 367.25h26v26h-26zM1950 367.25h22.75v26h-22.75zM1950 367.25h26v26h-26zM1953.25 367.25h22.75v26h-22.75zM1953.25 367.25h26v26h-26zM1956.5 367.25h22.75v26h-22.75zM1956.5 367.25h26v26h-26zM1959.75 367.25h22.75v26h-22.75zM1959.75 367.25h26v26h-26zM1963 367.25h22.75v26h-22.75zM1963 367.25h26v26h-26zM1966.25 367.25h22.75v26h-22.75zM1966.25 367.25h26v26h-26zM1969.5 367.25h22.75v26h-22.75zM1969.5 367.25h26v22.75h-26zM1972.75 367.25h22.75v22.75h-22.75zM1972.75 367.25h26v22.75h-26zM1976 367.25h22.75v22.75h-22.75zM1976 367.25h26v22.75h-26z"/>
<path fill="#ff8000" d="M256.75 936h26v26h-26zM260 936h22.75v26h-22.75zM260 936h26v26h-26zM263.25 936h22.75v26h-22.75zM263.25 936h26v26h-26zM266.5 936h22.75v26h-22.75zM266.5 936h26v26h-26zM269.75 936h22.75v26h-22.75zM269.75 936h26v22.75h-26zM273 936h22.75v22.75h-22.75zM273 936h26v22.75h-26zM273 932.75h26v26h-26zM276.25 932.75h22.75v26h-22.75zM276.25 932.75h26v26h-26zM279.5 932.75h22.75v26h-22.75zM279.5 932.75h26v26h-26zM282.75 932.75h22.75v26h-22.75zM282.75 932.75h26v26h-26zM286 932.75h22.75v26h-22.75zM286 932.75h26v22.75h-26zM289.25 932.75h22.75v22.75h-22.75zM289.25 932.75h26v22.75h-26zM289.25 929.5h26v26h-26zM292.5 929.5h22.75v26h-22.75zM292.5 929.5h26v26h-26zM295.75 929.5h22.75v26h-22.75zM295.75 929.5h26v26h-26zM299 929.5h22.75v26h-22.75zM299 929.5h26v26h-26zM302.25 929.5h22.75v22.75h-22.75zM302.25 929.5h26v22.75h-26zM305.5 929.5h22.75v22.75h-22.75zM305.5 929.5h26v22.75h-26zM305.5 926.25h26v26h-26zM308.75 926.25h22.75v26h-22.75zM308.75 926.25h26v26h-26zM312 926.25h22.75v26h-22.75zM312 926.25h26v26h-26zM315.25 926.25h22.75v26h-22.75zM315.25 926.25h26v26h-26zM318.5 926.25h22.75v26h-22.75zM318.5 926.25h26v22.75h-26zM321.75 926.25h22.75v22.75h-22.75zM321.75 926.25h26v22.75h-26zM321.75 923h26v26h-26zM325 923h22.75v26h-22.75zM325 923h26v26h-26zM328.25 923h22.75v26h-22.75zM328.25 923h26v26h-26zM331.5 923h22.75v26h-22.75zM331.5 923h26v26h-26zM331.5 923h26v22.75h-26zM334.75 923h22.75v22.75h-22.75zM334.75 923h26v22.75h-26zM338 923h22.75v22.75h-22.75zM338 919.75h26v26h-26zM341.25 919.75h22.75v26h-22.75zM341.25 919.75h26v26h-26zM344.5 919.75h22.75v26h-22.75zM344.5 919.75h26v26h-26zM347.75 919.75h22.75v26h-22.75zM347.75 919.75h26v26h-26zM347.75 919.75h26v22.75h-26zM351 919.75h22.75v22.75h-22.75zM351 919.75h26v22.75h-26zM354.25 916.5h22.75v26h-22.75zM354.25 916.5h26v26h-26zM357.5 916.5h22.75v26h-22.75zM357.5 916.5h26v26h-26zM360.75 916.5h22.75v26h-22.75zM360.75 916.5h26v26h-26zM364 916.5h22.75v22.75h-22.75zM364 916.5h26v22.75h-26zM367.25 916.5h22.75v22.75h-22.75zM367.25 916.5h26v22.75h-26zM367.25 913.25h26v26h-26zM370.5 913.25h22.75v26h-22.75zM370.5 913.25h26v26h-26zM373.75 913.25h22.75v26h-22.75zM373.75 913.25h26v26h-26zM377 913.25h22.75v26h-22.75zM377 913.25h26v26h-26zM377 913.25h26v22.75h-26zM380.25 913.25h22.75v22.75h-22.75zM380.25 913.25h26v22.75h-26zM383.5 910h22.75v26h-22.75zM383.5 910h26v26h-26zM386.75 910h22.75v26h-22.75zM386.75 910h26v26h-26zM390 910h22.75v26h-22.75zM390 910h26v26h-26zM393.25 910h22.75v22.75h-22.75zM393.25 910h26v22.75h-26zM396.5 910h22.75v22.75h-22.75zM396.5 906.75h26v26h-26zM399.75 906.75h22.75v26h-22.75zM399.75 906.75h26v26h-26zM403 906.75h22.75v26h-22.75zM403 906.75h26v26h-26zM406.25 906.75h22.75v26h-22.75zM406.25 906.75h26v22.75h-26zM409.5 906.75h22.75v22.75h-22.75zM409.5 906.75h26v22.75h-26zM409.5 903.5h26v26h-26zM412.75 903.5h22.75v26h-22.75zM412.75 903.5h26v26h-26zM416 903.5h22.75v26h-22.75zM416 903.5h26v26h-26zM419.25 903.5h22.75v26h-22.75zM419.25 903.5h26v26h-26zM419.25 903.5h26v22.75h-26zM422.5 903.5h22.75v22.75h-22.75zM422.5 903.5h26v22.75h-26zM422.5 900.25h26v26h-26zM425.75 900.25h22.75v26h-22.75zM425.75 900.25h26v26h-26zM429 900.25h22.75v26h-22.75zM429 900.25h26v26h-26zM432.25 900.25h22.75v26h-22.75zM432.25 900.25h26v22.75h-26zM435.5 900.25h22.75v22.75h-22.75zM435.5 900.25h26v22.75h-26zM435.5 897h26v26h-26zM438.75 897h22.75v26h-22.75zM438.75 897h26v26h-26zM442 897h22.75v26h-22.75zM442 897h26v26h-26zM445.25 897h22.75v26h-22.75zM445.25 897h26v26h-26zM445.25 897h26v22.75h-26zM448.5 897h22.75v22.75h-22.75zM448.5 897h26v22.75h-26zM448.5 893.75h26v26h-26zM451.75 893.75h22.75v26h-22.75zM451.75 893.75h26v26h-26zM455 893.75h22.75v26h-22.75zM455 893.75h26v26h-26zM458.25 893.75h22.75v26h-22.75zM458.25 893.75h26v22.75h-26zM461.5 893.75h22.75v22.75h-22.75zM461.5 893.75h26v22.75h-26zM461.5 890.5h26v26h-26zM464.75 890.5h22.75v26h-22.75zM464.75 890.5h26v26h-26zM468 890.5h22.75v26h-22.75zM468 890.5h26v26h-26zM471.25 890.5h22.75v26h-22.75zM471.25 890.5h26v22.75h-26zM474.5 890.5h22.75v22.75h-22.75zM474.5 890.5h26v22.75h-26zM474.5 887.25h26v26h-26zM477.75 887.25h22.75v26h-22.75zM477.75 887.25h26v26h-26zM481 887.25h22.75v26h-22.75zM481 887.25h26v26h-26zM481 887.25h26v22.75h-26zM484.25 887.25h22.75v22.75h-22.75zM484.25 887.25h26v22.75h-26zM487.5 884h22.75v26h-22.75zM487.5 884h26v26h-26zM490.75 884h22.75v26h-22.75zM490.75 884h26v26h-26zM494 884h22.75v26h-22.75zM494 884h26v22.75h-26zM497.25 884h22.75v22.75h-22.75zM497.25 884h26v22.75h-26zM497.25 880.75h26v26h-26zM500.5 880.75h22.75v26h-22.75zM500.5 880.75h26v26h-26zM503.75 880.75h22.75v26h-22.75zM503.75 880.75h26v26h-26zM507 880.75h22.75v22.75h-22.75zM507 880.75h26v22.75h-26zM510.25 877.5h22.75v26h-22.75zM510.25 877.5h26v26h-26zM513.5 877.5h22.75v26h-22.75zM513.5 877.5h26v26h-26zM516.75 877.5h22.75v26h-22.75zM516.75 877.5h26v26h-26zM516.75 877.5h26v22.75h-26zM520 877.5h22.75v22.75h-22.75zM520 877.5h26v22.75h-26zM520 874.25h26v26h-26zM523.25 874.25h22.75v26h-22.75zM523.25 874.25h26v26h-26zM526.5 874.25h22.75v26h-22.75zM526.5 874.25h26v26h-26zM529.75 874.25h22.75v22.75h-22.75zM529.75 874.25h26v22.75h-26zM533 871h22.75v26h-22.75zM533 871h26v26h-26zM536.25 871h22.75v26h-22.75zM536.25 871h26v26h-26zM539.5 871h22.75v26h-22.75zM539.5 871h26v22.75h-26zM542.75 871h22.75v22.75h-22.75zM542.75 867.75h26v26h-26zM546 867.75h22.75v26h-22.75zM546 867.75h26v26h-26zM549.25 867.75h22.75v26h-22.75zM549.25 867.75h26v26h-26zM549.25 867.75h26v22.75h-26zM552.5 867.75h22.75v22.75h-22.75zM552.5 864.5h26v26h-26zM555.75 864.5h22.75v26h-22.75zM555.75 864.5h26v26h-26zM559 864.5h22.75v26h-22.75zM559 864.5h26v22.75h-26zM562.25 864.5h22.75v22.75h-22.75zM562.25 864.5h26v22.75h-26zM562.25 861.25h26v26h-26zM565.5 861.25h22.75v26h-22.75zM565.5 861.25h26v26h-26zM568.75 861.25h22.75v26h-22.75zM568.75 861.25h26v26h-26zM568.75 861.25h26v22.75h-26zM572 861.25h22.75v22.75h-22.75zM572 861.25h26v22.75h-26zM572 858h26v26h-26zM575.25 858h22.75v26h-22.75zM575.25 858h26v26h-26zM578.5 858h22.75v26h-22.75zM578.5 858h26v26h-26zM578.5 858h26v22.75h-26zM581.75 858h22.75v22.75h-22.75zM581.75 858h26v22.75h-26zM581.75 854.75h26v26h-26zM585 854.75h22.75v26h-22.75zM585 854.75h26v26h-26zM588.25 854.75h22.75v26h-22.75zM588.25 854.75h26v26h-26zM588.25 854.75h26v22.75h-26zM591.5 854.75h22.75v22.75h-22.75zM591.5 851.5h26v26h-26zM594.75 851.5h22.75v26h-22.75zM594.75 851.5h26v26h-26zM598 851.5h22.75v26h-22.75zM598 851.5h26v22.75h-26zM601.25 851.5h22.75v22.75h-22.75zM601.25 848.25h26v26h-26zM604.5 848.25h22.75v26h-22.75zM604.5 848.25h26v26h-26zM607.75 848.25h22.75v22.75h-22.75zM607.75 848.25h26v22.75h-26zM611 845h22.75v26h-22.75zM611 845h26v26h-26zM614.25 845h22.75v26h-22.75zM614.25 845h26v26h-26zM617.5 845h22.75v22.75h-22.75zM617.5 845h26v22.75h-26zM617.5 841.75h26v26h-26zM620.75 841.75h22.75v26h-22.75zM620.75 841.75h26v26h-26zM624 841.75h22.75v26h-22.75zM624 841.75h26v26h-26zM624 841.75h26v22.75h-26zM627.25 841.75h22.75v22.75h-22.75zM627.25 838.5h26v26h-26zM630.5 838.5h22.75v26h-22.75zM630.5 838.5h26v26h-26zM633.75 838.5h22.75v22.75h-22.75zM633.75 838.5h26v22.75h-26zM633.75 835.25h26v26h-26zM637 835.25h22.75v26h-22.75zM637 835.25h26v26h-26zM640.25 835.25h22.75v26h-22.75zM640.25 835.25h26v22.75h-26zM643.5 835.25h22.75v22.75h-22.75zM643.5 832h26v26h-26zM646.75 832h22.75v26h-22.75zM646.75 832h26v26h-26zM650 832h22.75v22.75h-22.75zM650 832h26v22.75h-26zM650 828.75h26v26h-26zM653.25 828.75h22.75v26h-22.75zM653.25 828.75h26v26h-26zM656.5 828.75h22.75v26h-22.75zM656.5 828.75h22.75v22.75h-22.75zM656.5 828.75h26v22.75h-26zM659.75 825.5h22.75v26h-22.75zM659.75 825.5h26v26h-26zM663 825.5h22.75v26h-22.75zM663 825.5h26v22.75h-26zM666.25 825.5h22.75v22.75h-22.75zM666.25 822.25h26v26h-26zM669.5 822.25h22.75v26h-22.75zM669.5 822.25h26v26h-26zM669.5 822.25h26v22.75h-26zM672.75 822.25h22.75v22.75h-22.75zM672.75 822.25h26v22.75h-26zM672.75 819h26v26h-26zM676 819h22.75v26h-22.75zM676 819h26v26h-26zM679.25 819h22.75v22.75h-22.75zM679.25 815.75h26v26h-26zM682.5 815.75h22.75v26h-22.75zM682.5 815.75h26v26h-26zM682.5 815.75h26v22.75h-26zM685.75 815.75h22.75v22.75h-22.75zM685.75 815.75h26v22.75h-26zM685.75 812.5h26v26h-26zM689 812.5h22.75v26h-22.75zM689 812.5h26v26h-26zM692.25 812.5h22.75v22.75h-22.75zM692.25 812.5h26v22.75h-26zM692.25 809.25h26v26h-26zM695.5 809.25h22.75v26h-22.75zM695.5 809.25h26v26h-26zM698.75 809.25h22.75v22.75h-22.75zM698.75 809.25h26v22.75h-26zM698.75 806h26v26h-26zM702 806h22.75v26h-22.75zM702 806h26v26h-26zM705.25 806h22.75v22.75h-22.75zM705.25 802.75h26v26h-26zM708.5 802.75h22.75v26h-22.75zM708.5 802.75h26v26h-26zM708.5 802.75h26v22.75h-26zM711.75 802.75h22.75v22.75h-22.75zM711.75 799.5h26v26h-26zM715 799.5h22.75v26h-22.75zM715 799.5h26v26h-26zM715 799.5h26v22.75h-26zM718.25 799.5h22.75v22.75h-22.75zM718.25 796.25h26v26h-26zM721.5 796.25h22.75v26h-22.75zM721.5 796.25h26v26h-26zM721.5 796.25h26v22.75h-26zM724.75 793h22.75v26h-22.75zM724.75 793h26v26h-26zM728 793h22.75v26h-22.75zM728 793h22.75v22.75h-22.75zM728 793h26v22.75h-26zM728 789.75h26v26h-26zM731.25 789.75h22.75v26h-22.75zM731.25 789.75h26v26h-26zM734.5 789.75h22.75v22.75h-22.75zM734.5 786.5h26v26h-26zM737.75 786.5h22.75v26h-22.75zM737.75 786.5h26v26h-26zM737.75 786.5h26v22.75h-26zM741 783.25h22.75v26h-22.75zM741 783.25h26v26h-26zM744.25 783.25h22.75v26h-22.75zM744.25 783.25h22.75v22.75h-22.75zM744.25 783.25h26v22.75h-26zM744.25 780h26v26h-26zM747.5 780h22.75v26h-22.75zM747.5 780h26v26h-26zM747.5 780h26v22.75h-26zM750.75 780h22.75v22.75h-22.75zM750.75 776.75h26v26h-26zM754 776.75h22.75v26h-22.75zM754 776.75h26v22.75h-26zM754 773.5h26v26h-26zM757.25 773.5h22.75v26h-22.75zM757.25 773.5h26v26h-26zM757.25 773.5h26v22.75h-26zM760.5 773.5h22.75v22.75h-22.75zM760.5 770.25h26v26h-26zM763.75 770.25h22.75v26h-22.75zM763.75 770.25h26v22.75h-26zM763.75 767h26v26h-26zM767 767h22.75v26h-22.75zM767 767h26v26h-26zM767 767h26v22.75h-26zM770.25 763.75h22.75v26h-22.75zM770.25 763.75h26v26h-26zM773.5 763.75h22.75v22.75h-22.75zM773.5 763.75h26v22.75h-26zM773.5 760.5h26v26h-26zM776.75 760.5h22.75v26h-22.75zM776.75 760.5h26v22.75h-26zM776.75 757.25h26v26h-26zM780 757.25h22.75v26h-22.75zM780 757.25h26v26h-26zM780 757.25h26v22.75h-26zM783.25 754h22.75v26h-22.75zM783.25 754h26v26h-26zM786.5 754h22.75v22.75h-22.75zM786.5 754h26v22.75h-26zM786.5 750.75h26v26h-26zM789.75 750.75h22.75v26h-22.75zM789.75 750.75h26v22.75h-26zM789.75 747.5h26v26h-26zM793 747.5h22.75v26h-22.75zM793 747.5h26v22.75h-26zM796.25 744.25h22.75v26h-22.75zM796.25 744.25h26v26h-26zM796.25 744.25h26v22.75h-26zM799.5 741h22.75v26h-22.75zM799.5 741h26v26h-26zM802.75 741h22.75v22.75h-22.75zM802.75 737.75h26v26h-26zM806 737.75h22.75v26h-22.75zM806 737.75h22.75v22.75h-22.75zM806 734.5h26v26h-26zM809.25 734.5h22.75v22.75h-22.75zM809.25 734.5h26v22.75h-26zM809.25 731.25h26v26h-26zM812.5 731.25h22.75v26h-22.75zM812.5 731.25h26v22.75h-26zM812.5 728h26v26h-26zM815.75 728h22.75v26h-22.75zM815.75 728h26v22.75h-26zM815.75 724.75h26v26h-26zM819 724.75h22.75v26h-22.75zM819 724.75h26v26h-26zM819 724.75h26v22.75h-26zM819 721.5h26v26h-26zM822.25 721.5h22.75v26h-22.75zM822.25 721.5h26v26h-26zM822.25 721.5h26v22.75h-26zM822.25 718.25h26v26h-26zM825.5 718.25h22.75v26h-22.75zM825.5 718.25h26v26h-26zM825.5 718.25h26v22.75h-26zM828.75 715h22.75v26h-22.75zM828.75 715h26v26h-26zM828.75 715h26v22.75h-26zM828.75 711.75h26v26h-26zM832 711.75h22.75v26h-22.75zM832 711.75h26v26h-26zM832 711.75h26v22.75h-26zM832 708.5h26v26h-26zM835.25 708.5h22.75v26h-22.75zM835.25 708.5h26v26h-26zM835.25 708.5h26v22.75h-26zM835.25 705.25h26v26h-26zM838.5 705.25h22.75v26h-22.75zM838.5 705.25h26v26h-26zM838.5 705.25h26v22.75h-26zM838.5 702h26v26h-26zM841.75 702h22.75v26h-22.75zM841.75 702h26v26h-26zM841.75 702h26v22.75h-26zM841.75 698.75h26v26h-26zM845 698.75h22.75v26h-22.75zM845 698.75h26v26h-26zM845 698.75h26v22.75h-26zM845 695.5h26v26h-26zM848.25 695.5h22.75v26h-22.75zM848.25 695.5h26v22.75h-26zM848.25 692.25h26v26h-26zM851.5 692.25h22.75v26h-22.75zM851.5 692.25h22.75v22.75h-22.75zM851.5 692.25h26v22.75h-26zM851.5 689h26v26h-26zM854.75 689h22.75v26h-22.75zM854.75 689h26v22.75h-26zM854.75 685.75h26v26h-26zM858 685.75h22.75v22.75h-22.75zM858 685.75h26v22.75h-26zM858 682.5h26v26h-26zM861.25 682.5h22.75v22.75h-22.75zM861.25 679.25h26v26h-26zM864.5 679.25h22.75v22.75h-22.75zM864.5 676h22.75v26h-22.75zM864.5 676h26v26h-26zM864.5 676h26v22.75h-26zM867.75 676h22.75v22.75h-22.75zM867.75 672.75h22.75v26h-22.75zM867.75 672.75h26v26h-26zM867.75 672.75h26v22.75h-26zM871 669.5h22.75v26h-22.75zM871 669.5h26v26h-26zM871 669.5h26v22.75h-26zM871 666.25h26v26h-26zM874.25 666.25h22.75v26h-22.75zM874.25 666.25h26v26h-26zM874.25 666.25h26v22.75h-26zM874.25 663h26v26h-26zM877.5 663h22.75v26h-22.75zM877.5 663h26v26h-26zM877.5 663h26v22.75h-26zM877.5 659.75h26v26h-26zM880.75 659.75h22.75v26h-22.75zM880.75 659.75h26v22.75h-26zM880.75 656.5h26v26h-26zM884 656.5h22.75v26h-22.75zM884 656.5h26v22.75h-26zM884 653.25h26v26h-26zM887.25 653.25h22.75v26h-22.75zM887.25 653.25h22.75v22.75h-22.75zM887.25 650h26v26h-26zM890.5 650h22.75v22.75h-22.75zM890.5 646.75h26v26h-26zM893.75 646.75h22.75v22.75h-22.75zM893.75 643.5h26v26h-26zM893.75 643.5h26v22.75h-26zM897 643.5h22.75v22.75h-22.75zM897 640.25h26v26h-26zM900.25 640.25h22.75v22.75h-22.75zM900.25 637h22.75v26h-22.75zM900.25 637h26v26h-26zM900.25 637h26v22.75h-26zM903.5 637h22.75v22.75h-22.75zM903.5 633.75h26v26h-26zM903.5 633.75h26v22.75h-26zM906.75 630.5h22.75v26h-22.75zM906.75 630.5h26v26h-26zM910 630.5h22.75v22.75h-22.75zM910 627.25h22.75v26h-22.75zM910 627.25h26v26h-26zM910 627.25h26v22.75h-26zM913.25 627.25h22.75v22.75h-22.75zM913.25 624h26v26h-26zM916.5 624h22.75v22.75h-22.75zM916.5 620.75h22.75v26h-22.75zM916.5 620.75h26v26h-26zM919.75 620.75h22.75v22.75h-22.75zM919.75 617.5h26v26h-26zM923 617.5h22.75v22.75h-22.75zM923 614.25h26v26h-26zM926.25 614.25h22.75v22.75h-22.75zM926.25 614.25h26v22.75h-26zM926.25 611h26v26h-26zM929.5 611h22.75v26h-22.75zM929.5 611h26v22.75h-26zM929.5 607.75h26v26h-26zM932.75 607.75h22.75v26h-22.75zM932.75 607.75h26v22.75h-26zM932.75 604.5h26v26h-26zM936 604.5h22.75v26h-22.75zM936 604.5h26v26h-26zM936 604.5h26v22.75h-26zM936 601.25h26v26h-26zM939.25 601.25h22.75v26h-22.75zM939.25 601.25h26v26h-26zM939.25 601.25h26v22.75h-26zM942.5 598h22.75v26h-22.75zM942.5 598h26v26h-26zM945.75 598h22.75v22.75h-22.75zM945.75 594.75h26v26h-26zM949 594.75h22.75v22.75h-22.75zM949 594.75h26v22.75h-26zM949 591.5h26v26h-26zM952.25 591.5h22.75v26h-22.75zM952.25 591.5h26v26h-26zM952.25 591.5h26v22.75h-26zM952.25 588.25h26v26h-26zM955.5 588.25h22.75v26h-22.75zM955.5 588.25h26v26h-26zM955.5 588.25h26v22.75h-26zM958.75 588.25h22.75v22.75h-22.75zM958.75 585h26v26h-26zM962 585h22.75v22.75h-22.75zM962 585h26v22.75h-26zM962 581.75h26v26h-26zM965.25 581.75h22.75v26h-22.75zM965.25 581.75h26v26h-26zM965.25 581.75h26v22.75h-26zM968.5 578.5h22.75v26h-22.75zM968.5 578.5h26v26h-26zM971.75 578.5h22.75v22.75h-22.75zM971.75 575.25h26v26h-26zM975 575.25h22.75v26h-22.75zM975 575.25h26v22.75h-26zM975 572h26v26h-26zM978.25 572h22.75v26h-22.75zM978.25 572h26v26h-26zM978.25 572h26v22.75h-26zM981.5 572h22.75v22.75h-22.75zM981.5 568.75h26v26h-26zM984.75 568.75h22.75v26h-22.75zM984.75 568.75h26v22.75h-26zM988 565.5h22.75v26h-22.75zM988 565.5h26v26h-26zM991.25 565.5h22.75v26h-22.75zM991.25 565.5h26v22.75h-26zM991.25 562.25h26v26h-26zM994.5 562.25h22.75v26h-22.75zM994.5 562.25h26v26h-26zM994.5 562.25h26v22.75h-26zM997.75 562.25h22.75v22.75h-22.75zM997.75 559h26v26h-26zM1001 559h22.75v26h-22.75zM1001 559h26v22.75h-26zM1004.25 555.75h22.75v26h-22.75zM1004.25 555.75h26v26h-26zM1007.5 555.75h22.75v26h-22.75zM1007.5 555.75h26v22.75h-26zM1007.5 552.5h26v26h-26zM1010.75 552.5h22.75v26h-22.75zM1010.75 552.5h26v26h-26zM1014 552.5h22.75v26h-22.75zM1014 552.5h26v22.75h-26zM1014 549.25h26v26h-26zM1017.25 549.25h22.75v26h-22.75zM1017.25 549.25h26v26h-26zM1017.25 549.25h26v22.75h-26zM1020.5 549.25h22.75v22.75h-22.75zM1020.5 549.25h26v22.75h-26zM1020.5 546h26v26h-26zM1023.75 546h22.75v26h-22.75zM1023.75 546h26v26h-26zM1023.75 546h26v22.75h-26zM1027 546h22.75v22.75h-22.75zM1027 546h26v22.75h-26zM1027 542.75h26v26h-26zM1030.25 542.75h22.75v26h-22.75zM1030.25 542.75h26v26h-26zM1033.5 542.75h22.75v22.75h-22.75zM1033.5 542.75h26v22.75h-26zM1033.5 539.5h26v26h-26zM1036.75 539.5h22.75v26h-22.75zM1036.75 539.5h26v26h-26zM1036.75 539.5h26v22.75h-26zM1040 539.5h22.75v22.75h-22.75zM1040 536.25h26v26h-26zM1043.25 536.25h22.75v26h-22.75zM1043.25 536.25h26v26h-26zM1046.5 536.25h22.75v22.75h-22.75zM1046.5 536.25h26v22.75h-26zM1046.5 533h26v26h-26zM1049.75 533h22.75v26h-22.75zM1049.75 533h26v26h-26zM1053 533h22.75v22.75h-22.75zM1053 533h26v22.75h-26zM1056.25 529.75h22.75v26h-22.75zM1056.25 529.75h26v26h-26zM1059.5 529.75h22.75v26h-22.75zM1059.5 529.75h26v22.75h-26zM1062.75 526.5h22.75v26h-22.75zM1062.75 526.5h26v26h-26zM1066 526.5h22.75v26h-22.75zM1066 526.5h26v26h-26zM1066 526.5h26v22.75h-26zM1069.25 526.5h22.75v22.75h-22.75zM1069.25 523.25h26v26h-26zM1072.5 523.25h22.75v26h-22.75zM1072.5 523.25h26v26h-26zM1075.75 523.25h22.75v22.75h-22.75zM1075.75 523.25h26v22.75h-26zM1079 520h22.75v26h-22.75zM1079 520h26v26h-26zM1082.25 520h22.75v26h-22.75zM1082.25 520h26v26h-26zM1082.25 520h26v22.75h-26zM1085.5 520h22.75v22.75h-22.75zM1085.5 516.75h26v26h-26zM1088.75 516.75h22.75v26h-22.75zM1088.75 516.75h26v26h-26zM1092 516.75h22.75v22.75h-22.75zM1092 516.75h26v22.75h-26zM1092 513.5h26v26h-26zM1095.25 513.5h22.75v26h-22.75zM1095.25 513.5h26v26h-26zM1098.5 513.5h22.75v26h-22.75zM1098.5 513.5h26v26h-26zM1098.5 513.5h26v22.75h-26zM1101.75 513.5h22.75v22.75h-22.75zM1101.75 510.25h26v26h-26zM1105 510.25h22.75v26h-22.75zM1105 510.25h26v26h-26zM1108.25 510.25h22.75v26h-22.75zM1108.25 510.25h26v22.75h-26zM1111.5 510.25h22.75v22.75h-22.75zM1111.5 507h26v26h-26zM1114.75 507h22.75v26h-22.75zM1114.75 507h26v26h-26zM1118 507h22.75v22.75h-22.75zM1118 507h26v22.75h-26zM1121.25 503.75h22.75v26h-22.75zM1121.25 503.75h26v26h-26zM1124.5 503.75h22.75v26h-22.75zM1124.5 503.75h26v26h-26zM1127.75 503.75h22.75v22.75h-22.75zM1127.75 503.75h26v22.75h-26zM1127.75 500.5h26v26h-26zM1131 500.5h22.75v26h-22.75zM1131 500.5h26v26h-26zM1134.25 500.5h22.75v26h-22.75zM1134.25 500.5h26v26h-26zM1134.25 500.5h26v22.75h-26zM1137.5 500.5h22.75v22.75h-22.75zM1137.5 500.5h26v22.75h-26zM1137.5 497.25h26v26h-26zM1140.75 497.25h22.75v26h-22.75zM1140.75 497.25h26v26h-26zM1144 497.25h22.75v26h-22.75zM1144 497.25h26v26h-26zM1144 497.25h26v22.75h-26zM1147.25 497.25h22.75v22.75h-22.75zM1147.25 497.25h26v22.75h-26zM1147.25 494h26v26h-26zM1150.5 494h22.75v26h-22.75zM1150.5 494h26v26h-26zM1153.75 494h22.75v26h-22.75zM1153.75 494h26v26h-26zM1153.75 494h26v22.75h-26zM1157 494h22.75v22.75h-22.75zM1157 494h26v22.75h-26zM1157 490.75h26v26h-26zM1160.25 490.75h22.75v26h-22.75zM1160.25 490.75h26v26h-26zM1163.5 490.75h22.75v26h-22.75zM1163.5 490.75h26v26h-26zM1166.75 490.75h22.75v22.75h-22.75zM1166.75 490.75h26v22.75h-26zM1166.75 487.5h26v26h-26zM1170 487.5h22.75v26h-22.75zM1170 487.5h26v26h-26zM1173.25 487.5h22.75v26h-22.75zM1173.25 487.5h26v26h-26zM1176.5 487.5h22.75v22.75h-22.75zM1176.5 487.5h26v22.75h-26zM1179.75 484.25h22.75v26h-22.75zM1179.75 484.25h26v26h-26zM1183 484.25h22.75v26h-22.75zM1183 484.25h26v26h-26zM1186.25 484.25h22.75v26h-22.75zM1186.25 484.25h26v22.75h-26zM1189.5 484.25h22.75v22.75h-22.75zM1189.5 484.25h26v22.75h-26zM1189.5 481h26v26h-26zM1192.75 481h22.75v26h-22.75zM1192.75 481h26v26h-26zM1196 481h22.75v26h-22.75zM1196 481h26v26h-26zM1199.25 481h22.75v22.75h-22.75zM1199.25 481h26v22.75h-26zM1202.5 477.75h22.75v26h-22.75zM1202.5 477.75h26v26h-26zM1205.75 477.75h22.75v26h-22.75zM1205.75 477.75h26v26h-26zM1209 477.75h22.75v26h-22.75zM1209 477.75h26v22.75h-26zM1212.25 477.75h22.75v22.75h-22.75zM1212.25 477.75h26v22.75h-26zM1212.25 474.5h26v26h-26zM1215.5 474.5h22.75v26h-22.75zM1215.5 474.5h26v26h-26zM1218.75 474.5h22.75v26h-22.75zM1218.75 474.5h26v26h-26zM1222 474.5h22.75v22.75h-22.75zM1222 474.5h26v22.75h-26zM1225.25 474.5h22.75v22.75h-22.75zM1225.25 471.25h26v26h-26zM1228.5 471.25h22.75v26h-22.75zM1228.5 471.25h26v26h-26zM1231.75 471.25h22.75v26h-22.75zM1231.75 471.25h26v26h-26zM1235 471.25h22.75v22.75h-22.75zM1235 471.25h26v22.75h-26zM1238.25 468h22.75v26h-22.75zM1238.25 468h26v26h-26zM1241.5 468h22.75v26h-22.75zM1241.5 468h26v26h-26zM1244.75 468h22.75v26h-22.75zM1244.75 468h26v26h-26zM1244.75 468h26v22.75h-26zM1248 468h22.75v22.75h-22.75zM1248 468h26v22.75h-26zM1251.25 464.75h22.75v26h-22.75zM1251.25 464.75h26v26h-26zM1254.5 464.75h22.75v26h-22.75zM1254.5 464.75h26v26h-26zM1257.75 464.75h22.75v26h-22.75zM1257.75 464.75h26v26h-26zM1257.75 464.75h26v22.75h-26zM1261 464.75h22.75v22.75h-22.75zM1261 464.75h26v22.75h-26zM1264.25 461.5h22.75v26h-22.75zM1264.25 461.5h26v26h-26zM1267.5 461.5h22.75v26h-22.75zM1267.5 461.5h26v26h-26zM1270.75 461.5h22.75v26h-22.75zM1270.75 461.5h26v26h-26zM1270.75 461.5h26v22.75h-26zM1274 461.5h22.75v22.75h-22.75zM1274 461.5h26v22.75h-26zM1277.25 461.5h22.75v22.75h-22.75zM1277.25 458.25h26v26h-26zM1280.5 458.25h22.75v26h-22.75zM1280.5 458.25h26v26h-26zM1283.75 458.25h22.75v26h-22.75zM1283.75 458.25h26v26h-26zM1287 458.25h22.75v26h-22.75zM1287 458.25h26v22.75h-26zM1290.25 458.25h22.75v22.75h-22.75zM1290.25 458.25h26v22.75h-26zM1290.25 455h26v26h-26zM1293.5 455h22.75v26h-22.75zM1293.5 455h26v26h-26zM1296.75 455h22.75v26h-22.75zM1296.75 455h26v26h-26zM1300 455h22.75v26h-22.75zM1300 455h26v26h-26zM1300 455h26v22.75h-26zM1303.25 455h22.75v22.75h-22.75zM1303.25 455h26v22.75h-26zM1306.5 451.75h22.75v26h-22.75zM1306.5 451.75h26v26h-26zM1309.75 451.75h22.75v26h-22.75zM1309.75 451.75h26v26h-26zM1313 451.75h22.75v26h-22.75zM1313 451.75h26v26h-26zM1316.25 451.75h22.75v26h-22.75zM1316.25 451.75h26v22.75h-26zM1319.5 451.75h22.75v22.75h-22.75zM1319.5 451.75h26v22.75h-26zM1319.5 448.5h26v26h-26zM1322.75 448.5h22.75v26h-22.75zM1322.75 448.5h26v26h-26zM1326 448.5h22.75v26h-22.75zM1326 448.5h26v26h-26zM1329.25 448.5h22.75v26h-22.75zM1329.25 448.5h26v26h-26zM1329.25 448.5h26v22.75h-26zM1332.5 448.5h22.75v22.75h-22.75zM1332.5 448.5h26v22.75h-26zM1335.75 448.5h22.75v22.75h-22.75zM1335.75 445.25h26v26h-26zM1339 445.25h22.75v26h-22.75zM1339 445.25h26v26h-26zM1342.25 445.25h22.75v26h-22.75zM1342.25 445.25h26v26h-26zM1345.5 445.25h22.75v26h-22.75zM1345.5 445.25h26v26h-26zM1345.5 445.25h26v22.75h-26zM1348.75 445.25h22.75v22.75h-22.75zM1348.75 445.25h26v22.75h-26zM1352 445.25h22.75v22.75h-22.75zM1352 445.25h26v22.75h-26zM1352 442h26v26h-26zM1355.25 442h22.75v26h-22.75zM1355.25 442h26v26h-26zM1358.5 442h22.75v26h-22.75zM1358.5 442h26v26h-26zM1361.75 442h22.75v26h-22.75zM1361.75 442h26v26h-26zM1361.75 442h26v22.75h-26zM1365 442h22.75v22.75h-22.75zM1365 442h26v22.75h-26zM1368.25 442h22.75v22.75h-22.75zM1368.25 438.75h26v26h-26zM1371.5 438.75h22.75v26h-22.75zM1371.5 438.75h26v26h-26zM1374.75 438.75h22.75v26h-22.75zM1374.75 438.75h26v26h-26zM1378 438.75h22.75v26h-22.75zM1378 438.75h26v26h-26zM1381.25 438.75h22.75v22.75h-22.75zM1381.25 438.75h26v22.75h-26zM1384.5 438.75h22.75v22.75h-22.75zM1384.5 438.75h26v22.75h-26zM1384.5 435.5h26v26h-26zM1387.75 435.5h22.75v26h-22.75zM1387.75 435.5h26v26h-26zM1391 435.5h22.75v26h-22.75zM1391 435.5h26v26h-26zM1394.25 435.5h22.75v26h-22.75zM1394.25 435.5h26v26h-26zM1397.5 435.5h22.75v26h-22.75zM1397.5 435.5h26v22.75h-26zM1400.75 435.5h22.75v22.75h-22.75zM1400.75 435.5h26v22.75h-26zM1404 435.5h22.75v22.75h-22.75zM1404 432.25h26v26h-26zM1407.25 432.25h22.75v26h-22.75zM1407.25 432.25h26v26h-26zM1410.5 432.25h22.75v26h-22.75zM1410.5 432.25h26v26h-26zM1413.75 432.25h22.75v26h-22.75zM1413.75 432.25h26v26h-26zM1417 432.25h22.75v22.75h-22.75zM1417 432.25h26v22.75h-26zM1420.25 432.25h22.75v22.75h-22.75zM1420.25 432.25h26v22.75h-26zM1420.25 429h26v26h-26zM1423.5 429h22.75v26h-22.75zM1423.5 429h26v26h-26zM1426.75 429h22.75v26h-22.75zM1426.75 429h26v26h-26zM1430 429h22.75v26h-22.75zM1430 429h26v26h-26zM1433.25 429h22.75v26h-22.75zM1433.25 429h26v26h-26zM1433.25 429h26v22.75h-26zM1436.5 429h22.75v22.75h-22.75zM1436.5 429h26v22.75h-26zM1439.75 429h22.75v22.75h-22.75zM1439.75 425.75h26v26h-26zM1443 425.75h22.75v26h-22.75zM1443 425.75h26v26h-26zM1446.25 425.75h22.75v26h-22.75zM1446.25 425.75h26v26h-26zM1449.5 425.75h22.75v26h-22.75zM1449.5 425.75h26v26h-26zM1452.75 425.75h22.75v26h-22.75zM1452.75 425.75h26v26h-26zM1452.75 425.75h26v22.75h-26zM1456 425.75h22.75v22.75h-22.75zM1456 425.75h26v22.75h-26zM1459.25 425.75h22.75v22.75h-22.75zM1459.25 425.75h26v22.75h-26zM1459.25 422.5h26v26h-26zM1462.5 422.5h22.75v26h-22.75zM1462.5 422.5h26v26h-26zM1465.75 422.5h22.75v26h-22.75zM1465.75 422.5h26v26h-26zM1469 422.5h22.75v26h-22.75zM1469 422.5h26v26h-26zM1472.25 422.5h22.75v26h-22.75zM1472.25 422.5h26v26h-26zM1472.25 422.5h26v22.75h-26zM1475.5 422.5h22.75v22.75h-22.75zM1475.5 422.5h26v22.75h-26zM1478.75 422.5h22.75v22.75h-22.75zM1478.75 422.5h26v22.75h-26zM1478.75 419.25h26v26h-26zM1482 419.25h22.75v26h-22.75zM1482 419.25h26v26h-26zM1485.25 419.25h22.75v26h-22.75zM1485.25 419.25h26v26h-26zM1488.5 419.25h22.75v26h-22.75zM1488.5 419.25h26v26h-26zM1491.75 419.25h22.75v26h-22.75zM1491.75 419.25h26v26h-26zM1495 419.25h22.75v22.75h-22.75zM1495 419.25h26v22.75h-26zM1498.25 419.25h22.75v22.75h-22.75zM1498.25 419.25h26v22.75h-26zM1501.5 416h22.75v26h-22.75zM1501.5 416h26v26h-26zM1504.75 416h22.75v26h-22.75zM1504.75 416h26v26h-26zM1508 416h22.75v26h-22.75zM1508 416h26v26h-26zM1511.25 416h22.75v26h-22.75zM1511.25 416h26v26h-26zM1514.5 416h22.75v26h-22.75zM1514.5 416h26v26h-26zM1514.5 416h26v22.75h-26zM1517.75 416h22.75v22.75h-22.75zM1517.75 416h26v22.75h-26zM1521 416h22.75v22.75h-22.75zM1521 412.75h26v26h-26zM1524.25 412.75h22.75v26h-22.75zM1524.25 412.75h26v26h-26zM1527.5 412.75h22.75v26h-22.75zM1527.5 412.75h26v26h-26zM1530.75 412.75h22.75v26h-22.75zM1530.75 412.75h26v26h-26zM1534 412.75h22.75v26h-22.75zM1534 412.75h26v26h-26zM1537.25 412.75h22.75v26h-22.75zM1537.25 412.75h26v22.75h-26zM1540.5 412.75h22.75v22.75h-22.75zM1540.5 412.75h26v22.75h-26zM1543.75 409.5h22.75v26h-22.75zM1543.75 409.5h26v26h-26zM1547 409.5h22.75v26h-22.75zM1547 409.5h26v26h-26zM1550.25 409.5h22.75v26h-22.75zM1550.25 409.5h26v26h-26zM1553.5 409.5h22.75v26h-22.75zM1553.5 409.5h26v26h-26zM1556.75 409.5h22.75v26h-22.75zM1556.75 409.5h26v26h-26zM1560 409.5h22.75v22.75h-22.75zM1560 409.5h26v22.75h-26zM1563.25 409.5h22.75v22.75h-22.75zM1563.25 409.5h26v22.75h-26zM1566.5 406.25h22.75v26h-22.75zM1566.5 406.25h26v26h-26zM1569.75 406.25h22.75v26h-22.75zM1569.75 406.25h26v26h-26zM1573 406.25h22.75v26h-22.75zM1573 406.25h26v26h-26zM1576.25 406.25h22.75v26h-22.75zM1576.25 406.25h26v26h-26zM1579.5 406.25h22.75v26h-22.75zM1579.5 406.25h26v26h-26zM1582.75 406.25h22.75v22.75h-22.75zM1582.75 406.25h26v22.75h-26zM1586 406.25h22.75v22.75h-22.75zM1586 406.25h26v22.75h-26zM1589.25 403h22.75v26h-22.75zM1589.25 403h26v26h-26zM1592.5 403h22.75v26h-22.75zM1592.5 403h26v26h-26zM1595.75 403h22.75v26h-22.75zM1595.75 403h26v26h-26zM1599 403h22.75v26h-22.75zM1599 403h26v26h-26zM1602.25 403h22.75v26h-22.75zM1602.25 403h26v26h-26zM1605.5 403h22.75v26h-22.75zM1605.5 403h26v22.75h-26zM1608.75 403h22.75v22.75h-22.75zM1608.75 403h26v22.75h-26zM1612 403h22.75v22.75h-22.75zM1612 399.75h26v26h-26zM1615.25 399.75h22.75v26h-22.75zM1615.25 399.75h26v26h-26zM1618.5 399.75h22.75v26h-22.75zM1618.5 399.75h26v26h-26zM1621.75 399.75h22.75v26h-22.75zM1621.75 399.75h26v26h-26zM1625 399.75h22.75v26h-22.75zM1625 399.75h26v26h-26zM1628.25 399.75h22.75v26h-22.75zM1628.25 399.75h26v26h-26zM1628.25 399.75h26v22.75h-26zM1631.5 399.75h22.75v22.75h-22.75zM1631.5 399.75h26v22.75h-26zM1634.75 399.75h22.75v22.75h-22.75zM1634.75 399.75h26v22.75h-26zM1638 396.5h22.75v26h-22.75zM1638 396.5h26v26h-26zM1641.25 396.5h22.75v26h-22.75zM1641.25 396.5h26v26h-26zM1644.5 396.5h22.75v26h-22.75zM1644.5 396.5h26v26h-26zM1647.75 396.5h22.75v26h-22.75zM1647.75 396.5h26v26h-26zM1651 396.5h22.75v26h-22.75zM1651 396.5h26v26h-26zM1654.25 396.5h22.75v26h-22.75zM1654.25 396.5h26v22.75h-26zM1657.5 396.5h22.75v22.75h-22.75zM1657.5 396.5h26v22.75h-26zM1660.75 396.5h22.75v22.75h-22.75zM1660.75 396.5h26v22.75h-26zM1664 393.25h22.75v26h-22.75zM1664 393.25h26v26h-26zM1667.25 393.25h22.75v26h-22.75zM1667.25 393.25h26v26h-26zM1670.5 393.25h22.75v26h-22.75zM1670.5 393.25h26v26h-26zM1673.75 393.25h22.75v26h-22.75zM1673.75 393.25h26v26h-26zM1677 393.25h22.75v26h-22.75zM1677 393.25h26v26h-26zM1680.25 393.25h22.75v26h-22.75zM1680.25 393.25h26v22.75h-26zM1683.5 393.25h22.75v22.75h-22.75zM1683.5 393.25h26v22.75h-26zM1686.75 393.25h22.75v22.75h-22.75zM1686.75 393.25h26v22.75h-26zM1686.75 390h26v26h-26zM1690 390h22.75v26h-22.75zM1690 390h26v26h-26zM1693.25 390h22.75v26h-22.75zM1693.25 390h26v26h-26zM1696.5 390h22.75v26h-22.75zM1696.5 390h26v26h-26zM1699.75 390h22.75v26h-22.75zM1699.75 390h26v26h-26zM1703 390h22.75v26h-22.75zM1703 390h26v26h-26zM1706.25 390h22.75v26h-22.75zM1706.25 390h26v22.75h-26zM1709.5 390h22.75v22.75h-22.75zM1709.5 390h26v22.75h-26zM1712.75 390h22.75v22.75h-22.75zM1712.75 390h26v22.75h-26zM1716 386.75h22.75v26h-22.75zM1716 386.75h26v26h-26zM1719.25 386.75h22.75v26h-22.75zM1719.25 386.75h26v26h-26zM1722.5 386.75h22.75v26h-22.75zM1722.5 386.75h26v26h-26zM1725.75 386.75h22.75v26h-22.75zM1725.75 386.75h26v26h-26zM1729 386.75h22.75v26h-22.75zM1729 386.75h26v26h-26zM1732.25 386.75h22.75v26h-22.75zM1732.25 386.75h26v26h-26zM1735.5 386.75h22.75v22.75h-22.75zM1735.5 386.75h26v22.75h-26zM1738.75 386.75h22.75v22.75h-22.75zM1738.75 386.75h26v22.75h-26zM1742 386.75h22.75v22.75h-22.75zM1742 383.5h26v26h-26zM1745.25 383.5h22.75v26h-22.75zM1745.25 383.5h26v26h-26zM1748.5 383.5h22.75v26h-22.75zM1748.5 383.5h26v26h-26zM1751.75 383.5h22.75v26h-22.75zM1751.75 383.5h26v26h-26zM1755 383.5h22.75v26h-22.75zM1755 383.5h26v26h-26zM1758.25 383.5h22.75v26h-22.75zM1758.25 383.5h26v26h-26zM1761.5 383.5h22.75v26h-22.75zM1761.5 383.5h26v22.75h-26zM1764.75 383.5h22.75v22.75h-22.75zM1764.75 383.5h26v22.75h-26zM1768 383.5h22.75v22.75h-22.75zM1768 383.5h26v22.75h-26zM1771.25 383.5h22.75v22.75h-22.75zM1771.25 380.25h26v26h-26zM1774.5 380.25h22.75v26h-22.75zM1774.5 380.25h26v26h-26zM1777.75 380.25h22.75v26h-22.75zM1777.75 380.25h26v26h-26zM1781 380.25h22.75v26h-22.75zM1781 380.25h26v26h-26zM1784.25 380.25h22.75v26h-22.75zM1784.25 380.25h26v26h-26zM1787.5 380.25h22.75v26h-22.75zM1787.5 380.25h26v26h-26zM1790.75 380.25h22.75v26h-22.75zM1790.75 380.25h26v22.75h-26zM1794 380.25h22.75v22.75h-22.75zM1794 380.25h26v22.75h-26zM1797.25 380.25h22.75v22.75h-22.75zM1797.25 380.25h26v22.75h-26zM1800.5 377h22.75v26h-22.75zM1800.5 377h26v26h-26zM1803.75 377h22.75v26h-22.75zM1803.75 377h26v26h-26zM1807 377h22.75v26h-22.75zM1807 377h26v26h-26zM1810.25 377h22.75v26h-22.75zM1810.25 377h26v26h-26zM1813.5 377h22.75v26h-22.75zM1813.5 377h26v26h-26zM1816.75 377h22.75v26h-22.75zM1816.75 377h26v26h-26zM1820 377h22.75v26h-22.75zM1820 377h26v26h-26zM1820 377h26v22.75h-26zM1823.25 377h22.75v22.75h-22.75zM1823.25 377h26v22.75h-26zM1826.5 377h22.75v22.75h-22.75zM1826.5 377h26v22.75h-26zM1829.75 377h22.75v22.75h-22.75zM1829.75 377h26v22.75h-26zM1829.75 373.75h26v26h-26zM1833 373.75h22.75v26h-22.75zM1833 373.75h26v26h-26zM1836.25 373.75h22.75v26h-22.75zM1836.25 373.75h26v26h-26zM1839.5 373.75h22.75v26h-22.75zM1839.5 373.75h26v26h-26zM1842.75 373.75h22.75v26h-22.75zM1842.75 373.75h26v26h-26zM1846 373.75h22.75v26h-22.75zM1846 373.75h26v26h-26zM1849.25 373.75h22.75v26h-22.75zM1849.25 373.75h26v26h-26zM1852.5 373.75h22.75v22.75h-22.75zM1852.5 373.75h26v22.75h-26zM1855.75 373.75h22.75v22.75h-22.75zM1855.75 373.75h26v22.75h-26zM1859 373.75h22.75v22.75h-22.75zM1859 373.75h26v22.75h-26zM1862.25 370.5h22.75v26h-22.75zM1862.25 370.5h26v26h-26zM1865.5 370.5h22.75v26h-22.75zM1865.5 370.5h26v26h-26zM1868.75 370.5h22.75v26h-22.75zM1868.75 370.5h26v26h-26zM1872 370.5h22.75v26h-22.75zM1872 370.5h26v26h-26zM1875.25 370.5h22.75v26h-22.75zM1875.25 370.5h26v26h-26zM1878.5 370.5h22.75v26h-22.75zM1878.5 370.5h26v26h-26zM1881.75 370.5h22.75v26h-22.75zM1881.75 370.5h26v26h-26zM1881.75 370.5h26v22.75h-26zM1885 370.5h22.75v22.75h-22.75zM1885 370.5h26v22.75h-26zM1888.25 370.5h22.75v22.75h-22.75zM1888.25 370.5h26v22.75h-26zM1891.5 370.5h22.75v22.75h-22.75zM1891.5 370.5h26v22.75h-26zM1891.5 367.25h26v26h-26zM1894.75 367.25h22.75v26h-22.75zM1894.75 367.25h26v26h-26zM1898 367.25h22.75v26h-22.75zM1898 367.25h26v26h-26zM1901.25 367.25h22.75v26h-22.75zM1901.25 367.25h26v26h-26zM1904.5 367.25h22.75v26h-22.75zM1904.5 367.25h26v26h-26zM1907.75 367.25h22.75v26h-22.75zM1907.75 367.25h26v26h-26zM1911 367.25h22.75v26h-22.75zM1911 367.25h26v26h-26zM1914.25 367.25h22.75v26h-22.75zM1914.25 367.25h26v26h-26zM1917.5 367.25h22.75v22.75h-22.75zM1917.5 367.25h26v22.75h-26zM1920.75 367.25h22.75v22.75h-22.75zM1920.75 367.25h26v22.75h-26zM1924 367.25h22.75v22.75h-22.75zM1924 367.25h26v22.75h-26zM1927.25 364h22.75v26h-22.75zM1927.25 364h26v26h-26zM1930.5 364h22.75v26h-22.75zM1930.5 364h26v26h-26zM1933.75 364h22.75v26h-22.75zM1933.75 364h26v26h-26zM1937 364h22.75v26h-22.75zM1937 364h26v26h-26zM1940.25 364h22.75v26h-22.75zM1940.25 364h26v26h-26zM1943.5 364h22.75v26h-22.75zM1943.5 364h26v26h-26zM1946.75 364h22.75v26h-22.75zM1946.75 364h26v26h-26zM1950 364h22.75v22.75h-22.75zM1950 364h26v22.75h-26zM1953.25 364h22.75v22.75h-22.75zM1953.25 364h26v22.75h-26zM1956.5 364h22.75v22.75h-22.75zM1956.5 364h26v22.75h-26zM1959.75 364h22.75v22.75h-22.75zM1959.75 360.75h26v26h-26zM1963 360.75h22.75v26h-22.75zM1963 360.75h26v26h-26zM1966.25 360.75h22.75v26h-22.75zM1966.25 360.75h26v26h-26zM1969.5 360.75h22.75v26h-22.75zM1969.5 360.75h26v26h-26zM1972.75 360.75h22.75v26h-22.75zM1972.75 360.75h26v26h-26zM1976 360.75h22.75v26h-22.75zM1976 360.75h26v26h-26z"/>
<path fill="#008000" d="M256.75 958.75h26v22.75h-26zM260 958.75h22.75v22.75h-22.75zM260 958.75h26v22.75h-26zM260 955.5h26v26h-26zM263.25 955.5h22.75v26h-22.75zM263.25 955.5h26v26h-26zM266.5 955.5h22.75v26h-22.75zM266.5 955.5h26v26h-26zM269.75 955.5h22.75v26h-22.75zM269.75 955.5h26v26h-26zM273 955.5h22.75v26h-22.75zM273 955.5h26v26h-26zM273 955.5h26v22.75h-26zM276.25 955.5h22.75v22.75h-22.75zM276.25 955.5h26v22.75h-26zM279.5 955.5h22.75v22.75h-22.75zM279.5 955.5h26v22.75h-26zM279.5 952.25h26v26h-26zM282.75 952.25h22.75v26h-22.75zM282.75 952.25h26v26h-26zM286 952.25h22.75v26h-22.75zM286 952.25h26v26h-26zM289.25 952.25h22.75v26h-22.75zM289.25 952.25h26v26h-26zM292.5 952.25h22.75v26h-22.75zM292.5 952.25h26v22.75h-26zM295.75 952.25h22.75v22.75h-22.75zM295.75 952.25h26v22.75h-26zM299 949h22.75v26h-22.75zM299 949h26v26h-26zM302.25 949h22.75v26h-22.75zM302.25 949h26v26h-26zM305.5 949h22.75v26h-22.75zM305.5 949h26v26h-26zM308.75 949h22.75v26h-22.75zM308.75 949h26v26h-26zM312 949h22.75v22.75h-22.75zM312 949h26v22.75h-26zM315.25 949h22.75v22.75h-22.75zM315.25 945.75h26v26h-26zM318.5 945.75h22.75v26h-22.75zM318.5 945.75h26v26h-26zM321.75 945.75h22.75v26h-22.75zM321.75 945.75h26v26h-26zM325 945.75h22.75v26h-22.75zM325 945.75h26v26h-26zM328.25 945.75h22.75v26h-22.75zM328.25 945.75h26v22.75h-26zM331.5 945.75h22.75v22.75h-22.75zM331.5 945.75h26v22.75h-26zM334.75 942.5h22.75v26h-22.75zM334.75 942.5h26v26h-26zM338 942.5h22.75v26h-22.75zM338 942.5h26v26h-26zM341.25 942.5h22.75v26h-22.75zM341.25 942.5h26v26h-26zM344.5 942.5h22.75v26h-22.75zM344.5 942.5h26v26h-26zM344.5 942.5h26v22.75h-26zM347.75 942.5h22.75v22.75h-22.75zM347.75 942.5h26v22.75h-26zM351 939.25h22.75v26h-22.75zM351 939.25h26v26h-26zM354.25 939.25h22.75v26h-22.75zM354.25 939.25h26v26h-26zM357.5 939.25h22.75v26h-22.75zM357.5 939.25h26v26h-26zM360.75 939.25h22.75v26h-22.75zM360.75 939.25h26v26h-26zM360.75 939.25h26v22.75h-26zM364 939.25h22.75v22.75h-22.75zM364 939.25h26v22.75h-26zM367.25 936h22.75v26h-22.75zM367.25 936h26v26h-26zM370.5 936h22.75v26h-22.75zM370.5 936h26v26h-26zM373.75 936h22.75v26h-22.75zM373.75 936h26v26h-26zM377 936h22.75v26h-22.75zM377 936h26v22.75h-26zM380.25 936h22.75v22.75h-22.75zM380.25 936h26v22.75h-26zM383.5 936h22.75v22.75h-22.75zM383.5 932.75h26v26h-26zM386.75 932.75h22.75v26h-22.75zM386.75 932.75h26v26h-26zM390 932.75h22.75v26h-22.75zM390 932.75h26v26h-26zM393.25 932.75h22.75v26h-22.75zM393.25 932.75h26v26h-26zM393.25 932.75h26v22.75h-26zM396.5 932.75h22.75v22.75h-22.75zM396.5 932.75h26v22.75h-26zM399.75 929.5h22.75v26h-22.75zM399.75 929.5h26v26h-26zM403 929.5h22.75v26h-22.75zM403 929.5h26v26h-26zM406.25 929.5h22.75v26h-22.75zM406.25 929.5h26v26h-26zM409.5 929.5h22.75v26h-22.75zM409.5 929.5h26v22.75h-26zM412.75 929.5h22.75v22.75h-22.75zM412.75 929.5h26v22.75h-26zM412.75 926.25h26v26h-26zM416 926.25h22.75v26h-22.75zM416 926.25h26v26h-26zM419.25 926.25h22.75v26h-22.75zM419.25 926.25h26v26h-26zM422.5 926.25h22.75v26h-22.75zM422.5 926.25h26v26h-26zM425.75 926.25h22.75v22.75h-22.75zM425.75 926.25h26v22.75h-26zM429 926.25h22.75v22.75h-22.75zM429 923h26v26h-26zM432.25 923h22.75v26h-22.75zM432.25 923h26v26h-26zM435.5 923h22.75v26h-22.75zM435.5 923h26v26h-26zM438.75 923h22.75v26h-22.75zM438.75 923h26v22.75h-26zM442 923h22.75v22.75h-22.75zM442 923h26v22.75h-26zM445.25 919.75h22.75v26h-22.75zM445.25 919.75h26v26h-26zM448.5 919.75h22.75v26h-22.75zM448.5 919.75h26v26h-26zM451.75 919.75h22.75v26h-22.75zM451.75 919.75h26v26h-26zM455 919.75h22.75v22.75h-22.75zM455 919.75h26v22.75h-26zM458.25 919.75h22.75v22.75h-22.75zM458.25 916.5h26v26h-26zM461.5 916.5h22.75v26h-22.75zM461.5 916.5h26v26h-26zM464.75 916.5h22.75v26h-22.75zM464.75 916.5h26v26h-26zM468 916.5h22.75v26h-22.75zM468 916.5h26v22.75h-26zM471.25 916.5h22.75v22.75h-22.75zM471.25 916.5h26v22.75h-26zM471.25 913.25h26v26h-26zM474.5 913.25h22.75v26h-22.75zM474.5 913.25h26v26h-26zM477.75 913.25h22.75v26h-22.75zM477.75 913.25h26v26h-26zM481 913.25h22.75v26h-22.75zM481 913.25h26v26h-26zM481 913.25h26v22.75h-26zM484.25 913.25h22.75v22.75h-22.75zM484.25 913.25h26v22.75h-26zM484.25 910h26v26h-26zM487.5 910h22.75v26h-22.75zM487.5 910h26v26h-26zM490.75 910h22.75v26h-22.75zM490.75 910h26v26h-26zM494 910h22.75v26h-22.75zM494 910h26v26h-26zM494 910h26v22.75h-26zM497.25 910h22.75v22.75h-22.75zM497.25 910h26v22.75h-26zM500.5 906.75h22.75v26h-22.75zM500.5 906.75h26v26h-26zM503.75 906.75h22.75v26h-22.75zM503.75 906.75h26v26h-26zM507 906.75h22.75v26h-22.75zM507 906.75h26v26h-26zM510.25 906.75h22.75v22.75h-22.75zM510.25 906.75h26v22.75h-26zM513.5 906.75h22.75v22.75h-22.75zM513.5 903.5h26v26h-26zM516.75 903.5h22.75v26h-22.75zM516.75 903.5h26v26h-26zM520 903.5h22.75v26h-22.75zM520 903.5h26v26h-26zM523.25 903.5h22.75v22.75h-22.75zM523.25 903.5h26v22.75h-26zM526.5 900.25h22.75v26h-22.75zM526.5 900.25h26v26h-26zM529.75 900.25h22.75v26h-22.75zM529.75 900.25h26v26h-26zM533 900.25h22.75v26h-22.75zM533 900.25h26v26h-26zM533 900.25h26v22.75h-26zM536.25 900.25h22.75v22.75h-22.75zM536.25 900.25h26v22.75h-26zM539.5 897h22.75v26h-22.75zM539.5 897h26v26h-26zM542.75 897h22.75v26h-22.75zM542.75 897h26v26h-26zM546 897h22.75v26h-22.75zM546 897h26v26h-26zM546 897h26v22.75h-26zM549.25 897h22.75v22.75h-22.75zM549.25 897h26v22.75h-26zM549.25 893.75h26v26h-26zM552.5 893.75h22.75v26h-22.75zM552.5 893.75h26v26h-26zM555.75 893.75h22.75v26h-22.75zM555.75 893.75h26v26h-26zM559 893.75h22.75v26h-22.75zM559 893.75h26v22.75h-26zM562.25 893.75h22.75v22.75h-22.75zM562.25 890.5h26v26h-26zM565.5 890.5h22.75v26h-22.75zM565.5 890.5h26v26h-26zM568.75 890.5h22.75v26h-22.75zM568.75 890.5h26v26h-26zM568.75 890.5h26v22.75h-26zM572 890.5h22.75v22.75h-22.75zM572 890.5h26v22.75h-26zM575.25 887.25h22.75v26h-22.75zM575.25 887.25h26v26h-26zM578.5 887.25h22.75v26h-22.75zM578.5 887.25h26v26h-26zM581.75 887.25h22.75v26h-22.75zM581.75 887.25h26v22.75h-26zM585 887.25h22.75v22.75h-22.75zM585 884h26v26h-26zM588.25 884h22.75v26h-22.75zM588.25 884h26v26h-26zM591.5 884h22.75v26h-22.75zM591.5 884h26v26h-26zM591.5 884h26v22.75h-26zM594.75 884h22.75v22.75h-22.75zM594.75 884h26v22.75h-26zM594.75 880.75h26v26h-26zM598 880.75h22.75v26h-22.75zM598 880.75h26v26h-26zM601.25 880.75h22.75v26h-22.75zM601.25 880.75h26v26h-26zM604.5 880.75h22.75v22.75h-22.75zM604.5 880.75h26v22.75h-26zM607.75 877.5h22.75v26h-22.75zM607.75 877.5h26v26h-26zM611 877.5h22.75v26h-22.75zM611 877.5h26v26h-26zM614.25 877.5h22.75v26h-22.75zM614.25 877.5h26v22.75h-26zM617.5 877.5h22.75v22.75h-22.75zM617.5 874.25h26v26h-26zM620.75 874.25h22.75v26h-22.75zM620.75 874.25h26v26h-26zM624 874.25h22.75v26h-22.75zM624 874.25h26v26h-26zM624 874.25h26v22.75h-26zM627.25 874.25h22.75v22.75h-22.75zM627.25 871h26v26h-26zM630.5 871h22.75v26h-22.75zM630.5 871h26v26h-26zM633.75 871h22.75v26h-22.75zM633.75 871h26v22.75h-26zM637 871h22.75v22.75h-22.75zM637 867.75h26v26h-26zM640.25 867.75h22.75v26h-22.75zM640.25 867.75h26v26h-26zM643.5 867.75h22.75v26h-22.75zM643.5 867.75h26v22.75h-26zM646.75 867.75h22.75v22.75h-22.75zM646.75 867.75h26v22.75h-26zM646.75 864.5h26v26h-26zM650 864.5h22.75v26h-22.75zM650 864.5h26v26h-26zM653.25 864.5h22.75v26h-22.75zM653.25 864.5h26v26h-26zM653.25 864.5h26v22.75h-26zM656.5 864.5h22.75v22.75h-22.75zM656.5 861.25h26v26h-26zM659.75 861.25h22.75v26h-22.75zM659.75 861.25h26v26h-26zM663 861.25h22.75v26h-22.75zM663 861.25h26v22.75h-26zM666.25 858h22.75v26h-22.75zM666.25 858h26v26h-26zM669.5 858h22.75v26h-22.75zM669.5 858h26v26h-26zM672.75 858h22.75v22.75h-22.75zM672.75 858h26v22.75h-26zM676 854.75h22.75v26h-22.75zM676 854.75h26v26h-26zM679.25 854.75h22.75v26h-22.75zM679.25 854.75h26v26h-26zM679.25 854.75h26v22.75h-26zM682.5 854.75h22.75v22.75h-22.75zM682.5 854.75h26v22.75h-26zM682.5 851.5h26v26h-26zM685.75 851.5h22.75v26h-22.75zM685.75 851.5h26v26h-26zM689 851.5h22.75v26h-22.75zM689 851.5h26v22.75h-26zM692.25 848.25h22.75v26h-22.75zM692.25 848.25h26v26h-26zM695.5 848.25h22.75v26h-22.75zM695.5 848.25h26v26h-26zM695.5 848.25h26v22.75h-26zM698.75 848.25h22.75v22.75h-22.75zM698.75 848.25h26v22.75h-26zM698.75 845h26v26h-26zM702 845h22.75v26h-22.75zM702 845h26v26h-26zM705.25 845h22.75v26h-22.75zM705.25 845h26v22.75h-26zM708.5 841.75h22.75v26h-22.75zM708.5 841.75h26v26h-26zM711.75 841.75h22.75v26h-22.75zM711.75 841.75h26v26h-26zM711.75 841.75h26v22.75h-26zM715 841.75h22.75v22.75h-22.75zM715 841.75h26v22.75h-26zM715 838.5h26v26h-26zM718.25 838.5h22.75v26h-22.75zM718.25 838.5h26v26h-26zM721.5 838.5h22.75v22.75h-22.75zM721.5 838.5h26v22.75h-26zM721.5 835.25h26v26h-26zM724.75 835.25h22.75v26h-22.75zM724.75 835.25h26v26h-26zM728 835.25h22.75v26h-22.75zM728 835.25h26v22.75h-26zM731.25 832h22.75v26h-22.75zM731.25 832h26v26h-26zM734.5 832h22.75v26h-22.75zM734.5 832h26v22.75h-26zM737.75 832h22.75v22.75h-22.75zM737.75 828.75h26v26h-26zM741 828.75h22.75v26h-22.75zM741 828.75h26v26h-26zM741 828.75h26v22.75h-26zM744.25 828.75h22.75v22.75h-22.75zM744.25 825.5h26v26h-26zM747.5 825.5h22.75v26h-22.75zM747.5 825.5h26v26h-26zM747.5 825.5h26v22.75h-26zM750.75 825.5h22.75v22.75h-22.75zM750.75 822.25h26v26h-26zM754 822.25h22.75v26h-22.75zM754 822.25h26v26h-26zM754 822.25h26v22.75h-26zM757.25 822.25h22.75v22.75h-22.75zM757.25 819h26v26h-26zM760.5 819h22.75v26h-22.75zM760.5 819h26v26h-26zM760.5 819h26v22.75h-26zM763.75 819h22.75v22.75h-22.75zM763.75 815.75h26v26h-26zM767 815.75h22.75v26h-22.75zM767 815.75h26v22.75h-26zM767 812.5h26v26h-26zM770.25 812.5h22.75v26h-22.75zM770.25 812.5h26v26h-26zM773.5 812.5h22.75v26h-22.75zM773.5 812.5h26v22.75h-26zM773.5 809.25h26v26h-26zM776.75 809.25h22.75v26h-22.75zM776.75 809.25h26v26h-26zM780 809.25h22.75v22.75h-22.75zM780 809.25h26v22.75h-26zM780 806h26v26h-26zM783.25 806h22.75v26h-22.75zM783.25 806h26v26h-26zM783.25 806h26v22.75h-26zM786.5 806h22.75v22.75h-22.75zM786.5 802.75h26v26h-26zM789.75 802.75h22.75v26h-22.75zM789.75 802.75h26v22.75h-26zM789.75 799.5h26v26h-26zM793 799.5h22.75v26h-22.75zM793 799.5h26v26h-26zM793 799.5h26v22.75h-26zM796.25 799.5h22.75v22.75h-22.75zM796.25 796.25h26v26h-26zM799.5 796.25h22.75v26h-22.75zM799.5 796.25h26v26h-26zM799.5 796.25h26v22.75h-26zM802.75 793h22.75v26h-22.75zM802.75 793h26v26h-26zM806 793h22.75v22.75h-22.75zM806 789.75h26v26h-26zM809.25 789.75h22.75v26h-22.75zM809.25 789.75h26v22.75h-26zM812.5 786.5h22.75v26h-22.75zM812.5 786.5h26v26h-26zM815.75 786.5h22.75v22.75h-22.75zM815.75 783.25h22.75v26h-22.75zM815.75 783.25h26v26h-26zM819 783.25h22.75v26h-22.75zM819 783.25h22.75v22.75h-22.75zM819 783.25h26v22.75h-26zM819 780h26v26h-26zM822.25 780h22.75v26h-22.75zM822.25 780h26v26h-26zM822.25 780h26v22.75h-26zM825.5 776.75h22.75v26h-22.75zM825.5 776.75h26v26h-26zM825.5 776.75h26v22.75h-26zM828.75 776.75h22.75v22.75h-22.75zM828.75 773.5h26v26h-26zM832 773.5h22.75v22.75h-22.75zM832 773.5h26v22.75h-26zM832 770.25h26v26h-26zM835.25 770.25h22.75v26h-22.75zM835.25 770.25h26v22.75h-26zM835.25 767h26v26h-26zM838.5 767h22.75v26h-22.75zM838.5 767h26v26h-26zM838.5 767h26v22.75h-26zM841.75 763.75h22.75v26h-22.75zM841.75 763.75h26v26h-26zM841.75 763.75h26v22.75h-26zM845 760.5h22.75v26h-22.75zM845 760.5h26v26h-26zM845 760.5h26v22.75h-26zM848.25 760.5h22.75v22.75h-22.75zM848.25 757.25h22.75v26h-22.75zM848.25 757.25h26v26h-26zM848.25 757.25h26v22.75h-26zM851.5 754h22.75v26h-22.75zM851.5 754h26v26h-26zM854.75 754h22.75v22.75h-22.75zM854.75 750.75h26v26h-26zM854.75 750.75h26v22.75h-26zM858 750.75h22.75v22.75h-22.75zM858 747.5h26v26h-26zM861.25 747.5h22.75v22.75h-22.75zM861.25 744.25h22.75v26h-22.75zM861.25 744.25h26v26h-26zM861.25 744.25h26v22.75h-26zM864.5 744.25h22.75v22.75h-22.75zM864.5 741h26v26h-26zM864.5 741h26v22.75h-26zM867.75 737.75h22.75v26h-22.75zM867.75 737.75h26v26h-26zM867.75 737.75h26v22.75h-26zM871 734.5h22.75v26h-22.75zM871 734.5h26v26h-26zM871 734.5h26v22.75h-26zM871 731.25h26v26h-26zM874.25 731.25h22.75v26h-22.75zM874.25 731.25h26v26h-26zM874.25 731.25h26v22.75h-26zM874.25 728h26v26h-26zM877.5 728h22.75v26h-22.75zM877.5 728h26v22.75h-26zM877.5 724.75h26v26h-26zM880.75 724.75h22.75v22.75h-22.75zM880.75 721.5h26v26h-26zM880.75 721.5h26v22.75h-26zM884 721.5h22.75v22.75h-22.75zM884 718.25h22.75v26h-22.75zM884 718.25h26v26h-26zM884 718.25h26v22.75h-26zM887.25 715h22.75v26h-22.75zM887.25 715h26v26h-26zM887.25 715h26v22.75h-26zM887.25 711.75h26v26h-26zM890.5 711.75h22.75v26h-22.75zM890.5 711.75h22.75v22.75h-22.75zM890.5 708.5h26v26h-26zM893.75 708.5h22.75v22.75h-22.75zM893.75 705.25h22.75v26h-22.75zM893.75 705.25h26v26h-26zM893.75 705.25h26v22.75h-26zM893.75 702h26v26h-26zM897 702h22.75v26h-22.75zM897 702h22.75v22.75h-22.75zM897 702h26v22.75h-26zM897 698.75h26v26h-26zM897 698.75h26v22.75h-26zM900.25 698.75h22.75v22.75h-22.75zM900.25 695.5h22.75v26h-22.75zM900.25 695.5h26v26h-26zM900.25 695.5h26v22.75h-26zM900.25 692.25h26v26h-26zM903.5 692.25h22.75v26h-22.75zM903.5 692.25h22.75v22.75h-22.75zM903.5 689h26v26h-26zM903.5 689h26v22.75h-26zM906.75 685.75h22.75v26h-22.75zM906.75 685.75h26v26h-26zM906.75 685.75h26v22.75h-26zM906.75 682.5h26v26h-26zM910 682.5h22.75v26h-22.75zM910 682.5h22.75v22.75h-22.75zM910 679.25h26v26h-26zM910 679.25h26v22.75h-26zM913.25 676h22.75v26h-22.75zM913.25 676h26v26h-26zM913.25 676h26v22.75h-26zM913.25 672.75h26v26h-26zM916.5 672.75h22.75v22.75h-22.75zM916.5 669.5h26v26h-26zM916.5 669.5h26v22.75h-26zM916.5 666.25h26v26h-26zM919.75 666.25h22.75v26h-22.75zM919.75 666.25h26v22.75h-26zM919.75 663h26v26h-26zM923 663h22.75v22.75h-22.75zM923 659.75h22.75v26h-22.75zM923 659.75h26v26h-26zM923 659.75h26v22.75h-26zM923 656.5h26v26h-26zM926.25 656.5h22.75v26h-22.75zM926.25 656.5h26v22.75h-26zM926.25 653.25h26v26h-26zM926.25 653.25h26v22.75h-26zM929.5 653.25h22.75v22.75h-22.75zM929.5 650h22.75v26h-22.75zM929.5 650h26v26h-26zM929.5 650h26v22.75h-26zM929.5 646.75h26v26h-26zM932.75 646.75h22.75v26h-22.75zM932.75 646.75h22.75v22.75h-22.75zM932.75 643.5h26v26h-26zM932.75 643.5h26v22.75h-26zM936 640.25h22.75v26h-22.75zM936 640.25h26v26h-26zM936 640.25h26v22.75h-26zM936 637h26v26h-26zM939.25 637h22.75v26h-22.75zM939.25 637h22.75v22.75h-22.75zM939.25 633.75h26v26h-26zM939.25 633.75h26v22.75h-26zM942.5 630.5h22.75v26h-22.75zM942.5 630.5h26v26h-26zM942.5 630.5h26v22.75h-26zM942.5 627.25h26v26h-26zM945.75 627.25h22.75v26h-22.75zM945.75 627.25h26v22.75h-26zM945.75 624h26v26h-26zM949 624h22.75v22.75h-22.75zM949 620.75h26v26h-26zM949 620.75h26v22.75h-26zM952.25 617.5h22.75v26h-22.75zM952.25 617.5h26v26h-26zM952.25 617.5h26v22.75h-26zM952.25 614.25h26v26h-26zM955.5 614.25h22.75v26h-22.75zM955.5 614.25h26v22.75h-26zM955.5 611h26v26h-26zM958.75 611h22.75v26h-22.75zM958.75 611h22.75v22.75h-22.75zM958.75 611h26v22.75h-26zM958.75 607.75h26v26h-26zM962 607.75h22.75v26h-22.75zM962 607.75h22.75v22.75h-22.75zM962 604.5h26v26h-26zM965.25 604.5h22.75v22.75h-22.75zM965.25 601.25h22.75v26h-22.75zM965.25 601.25h26v26h-26zM965.25 601.25h26v22.75h-26zM968.5 601.25h22.75v22.75h-22.75zM968.5 598h22.75v26h-22.75zM968.5 598h26v26h-26zM968.5 598h26v22.75h-26zM971.75 594.75h22.75v26h-22.75zM971.75 594.75h26v26h-26zM971.75 594.75h26v22.75h-26zM975 591.5h22.75v26h-22.75zM975 591.5h26v26h-26zM975 591.5h26v22.75h-26zM978.25 588.25h22.75v26h-22.75zM978.25 588.25h26v26h-26zM978.25 588.25h26v22.75h-26zM981.5 585h22.75v26h-22.75zM981.5 585h26v26h-26zM981.5 585h26v22.75h-26zM984.75 585h22.75v22.75h-22.75zM984.75 581.75h22.75v26h-22.75zM984.75 581.75h26v26h-26zM984.75 581.75h26v22.75h-26zM988 581.75h22.75v22.75h-22.75zM988 578.5h26v26h-26zM991.25 578.5h22.75v22.75h-22.75zM991.25 578.5h26v22.75h-26zM991.25 575.25h26v26h-26zM994.5 575.25h22.75v26h-22.75zM994.5 575.25h22.75v22.75h-22.75zM994.5 575.25h26v22.75h-26zM994.5 572h26v26h-26zM997.75 572h22.75v26h-22.75zM997.75 572h26v22.75h-26zM997.75 568.75h26v26h-26zM1001 568.75h22.75v26h-22.75zM1001 568.75h26v26h-26zM1001 568.75h26v22.75h-26zM1004.25 565.5h22.75v26h-22.75zM1004.25 565.5h26v26h-26zM1007.5 565.5h22.75v22.75h-22.75zM1007.5 562.25h26v26h-26zM1010.75 562.25h22.75v26h-22.75zM1010.75 562.25h26v22.75h-26zM1010.75 559h26v26h-26zM1014 559h22.75v26h-22.75zM1014 559h26v26h-26zM1014 559h26v22.75h-26zM1017.25 555.75h22.75v26h-22.75zM1017.25 555.75h26v26h-26zM1020.5 555.75h22.75v22.75h-22.75zM1020.5 555.75h26v22.75h-26zM1020.5 552.5h26v26h-26zM1023.75 552.5h22.75v26h-22.75zM1023.75 552.5h26v26h-26zM1023.75 552.5h26v22.75h-26zM1027 549.25h22.75v26h-22.75zM1027 549.25h26v26h-26zM1030.25 549.25h22.75v22.75h-22.75zM1030.25 549.25h26v22.75h-26zM1030.25 546h26v26h-26zM1033.5 546h22.75v26h-22.75zM1033.5 546h26v26h-26zM1033.5 546h26v22.75h-26zM1036.75 546h22.75v22.75h-22.75zM1036.75 542.75h26v26h-26zM1040 542.75h22.75v26h-22.75zM1040 542.75h26v26h-26zM1040 542.75h26v22.75h-26zM1043.25 539.5h22.75v26h-22.75zM1043.25 539.5h26v26h-26zM1046.5 539.5h22.75v22.75h-22.75zM1046.5 539.5h26v22.75h-26zM1046.5 536.25h26v26h-26zM1049.75 536.25h22.75v26h-22.75zM1049.75 536.25h26v26h-26zM1053 536.25h22.75v22.75h-22.75zM1053 536.25h26v22.75h-26zM1053 533h26v26h-26zM1056.25 533h22.75v26h-22.75zM1056.25 533h26v26h-26zM1059.5 533h22.75v22.75h-22.75zM1059.5 529.75h26v26h-26zM1062.75 529.75h22.75v26h-22.75zM1062.75 529.75h26v26h-26zM1062.75 529.75h26v22.75h-26zM1066 529.75h22.75v22.75h-22.75zM1066 526.5h26v26h-26zM1069.25 526.5h22.75v26h-22.75zM1069.25 526.5h26v26h-26zM1069.25 526.5h26v22.75h-26zM1072.5 526.5h22.75v22.75h-22.75zM1072.5 523.25h26v26h-26zM1075.75 523.25h22.75v26h-22.75zM1075.75 523.25h26v26h-26zM1075.75 523.25h26v22.75h-26zM1079 523.25h22.75v22.75h-22.75zM1079 523.25h26v22.75h-26zM1079 520h26v26h-26zM1082.25 520h22.75v26h-22.75zM1082.25 520h26v26h-26zM1085.5 520h22.75v22.75h-22.75zM1085.5 520h26v22.75h-26zM1085.5 516.75h26v26h-26zM1088.75 516.75h22.75v26h-22.75zM1088.75 516.75h26v26h-26zM1092 516.75h22.75v22.75h-22.75zM1092 516.75h26v22.75h-26zM1092 513.5h26v26h-26zM1095.25 513.5h22.75v26h-22.75zM1095.25 513.5h26v26h-26zM1098.5 513.5h22.75v26h-22.75zM1098.5 513.5h26v22.75h-26zM1101.75 513.5h22.75v22.75h-22.75zM1101.75 510.25h26v26h-26zM1105 510.25h22.75v26h-22.75zM1105 510.25h26v26h-26zM1105 510.25h26v22.75h-26zM1108.25 510.25h22.75v22.75h-22.75zM1108.25 510.25h26v22.75h-26zM1108.25 507h26v26h-26zM1111.5 507h22.75v26h-22.75zM1111.5 507h26v26h-26zM1114.75 507h22.75v26h-22.75zM1114.75 507h26v22.75h-26zM1114.75 503.75h26v26h-26zM1118 503.75h22.75v26h-22.75zM1118 503.75h26v26h-26zM1121.25 503.75h22.75v26h-22.75zM1121.25 503.75h26v26h-26zM1121.25 503.75h26v22.75h-26zM1124.5 503.75h22.75v22.75h-22.75zM1124.5 500.5h26v26h-26zM1127.75 500.5h22.75v26h-22.75zM1127.75 500.5h26v26h-26zM1131 500.5h22.75v22.75h-22.75zM1131 500.5h26v22.75h-26zM1134.25 497.25h22.75v26h-22.75zM1134.25 497.25h26v26h-26zM1137.5 497.25h22.75v26h-22.75zM1137.5 497.25h26v26h-26zM1137.5 497.25h26v22.75h-26zM1140.75 497.25h22.75v22.75h-22.75zM1140.75 497.25h26v22.75h-26zM1140.75 494h26v26h-26zM1144 494h22.75v26h-22.75zM1144 494h26v26h-26zM1147.25 494h22.75v26h-22.75zM1147.25 494h26v26h-26zM1147.25 494h26v22.75h-26zM1150.5 494h22.75v22.75h-22.75zM1150.5 490.75h26v26h-26zM1153.75 490.75h22.75v26h-22.75zM1153.75 490.75h26v26h-26zM1157 490.75h22.75v26h-22.75zM1157 490.75h26v22.75h-26zM1160.25 490.75h22.75v22.75h-22.75zM1160.25 487.5h26v26h-26zM1163.5 487.5h22.75v26h-22.75zM1163.5 487.5h26v26h-26zM1166.75 487.5h22.75v22.75h-22.75zM1166.75 487.5h26v22.75h-26zM1170 487.5h22.75v22.75h-22.75zM1170 484.25h26v26h-26zM1173.25 484.25h22.75v26h-22.75zM1173.25 484.25h26v26h-26zM1176.5 484.25h22.75v26h-22.75zM1176.5 484.25h26v22.75h-26zM1179.75 481h22.75v26h-22.75zM1179.75 481h26v26h-26zM1183 481h22.75v26h-22.75zM1183 481h26v26h-26zM1186.25 481h22.75v26h-22.75zM1186.25 481h26v22.75h-26zM1189.5 481h22.75v22.75h-22.75zM1189.5 477.75h26v26h-26zM1192.75 477.75h22.75v26h-22.75zM1192.75 477.75h26v26h-26zM1196 477.75h22.75v26h-22.75zM1196 477.75h26v22.75h-26zM1199.25 477.75h22.75v22.75h-22.75zM1199.25 477.75h26v22.75h-26zM1199.25 474.5h26v26h-26zM1202.5 474.5h22.75v26h-22.75zM1202.5 474.5h26v26h-26zM1205.75 474.5h22.75v26h-22.75zM1205.75 474.5h26v26h-26zM1205.75 474.5h26v22.75h-26zM1209 474.5h22.75v22.75h-22.75zM1209 474.5h26v22.75h-26zM1209 471.25h26v26h-26zM1212.25 471.25h22.75v26h-22.75zM1212.25 471.25h26v26h-26zM1215.5 471.25h22.75v26h-22.75zM1215.5 471.25h26v26h-26zM1218.75 471.25h22.75v26h-22.75zM1218.75 471.25h26v22.75h-26zM1222 471.25h22.75v22.75h-22.75zM1222 468h26v26h-26zM1225.25 468h22.75v26h-22.75zM1225.25 468h26v26h-26zM1228.5 468h22.75v26h-22.75zM1228.5 468h26v26h-26zM1228.5 468h26v22.75h-26zM1231.75 468h22.75v22.75h-22.75zM1231.75 468h26v22.75h-26zM1235 464.75h22.75v26h-22.75zM1235 464.75h26v26h-26zM1238.25 464.75h22.75v26h-22.75zM1238.25 464.75h26v26h-26zM1241.5 464.75h22.75v26h-22.75zM1241.5 464.75h26v22.75h-26zM1244.75 464.75h22.75v22.75h-22.75zM1244.75 464.75h26v22.75h-26zM1244.75 461.5h26v26h-26zM1248 461.5h22.75v26h-22.75zM1248 461.5h26v26h-26zM1251.25 461.5h22.75v26h-22.75zM1251.25 461.5h26v26h-26zM1254.5 461.5h22.75v26h-22.75zM1254.5 461.5h26v22.75h-26zM1257.75 461.5h22.75v22.75h-22.75zM1257.75 458.25h26v26h-26zM1261 458.25h22.75v26h-22.75zM1261 458.25h26v26h-26zM1264.25 458.25h22.75v26h-22.75zM1264.25 458.25h26v26h-26zM1267.5 458.25h22.75v22.75h-22.75zM1267.5 458.25h26v22.75h-26zM1270.75 458.25h22.75v22.75h-22.75zM1270.75 458.25h26v22.75h-26zM1270.75 455h26v26h-26zM1274 455h22.75v26h-22.75zM1274 455h26v26h-26zM1277.25 455h22.75v26h-22.75zM1277.25 455h26v26h-26zM1280.5 455h22.75v26h-22.75zM1280.5 455h26v22.75h-26zM1283.75 455h22.75v22.75h-22.75zM1283.75 451.75h26v26h-26zM1287 451.75h22.75v26h-22.75zM1287 451.75h26v26h-26zM1290.25 451.75h22.75v26h-22.75zM1290.25 451.75h26v26h-26zM1293.5 451.75h22.75v26h-22.75zM1293.5 451.75h26v22.75h-26zM1296.75 451.75h22.75v22.75h-22.75zM1296.75 451.75h26v22.75h-26zM1300 448.5h22.75v26h-22.75zM1300 448.5h26v26h-26zM1303.25 448.5h22.75v26h-22.75zM1303.25 448.5h26v26h-26zM1306.5 448.5h22.75v26h-22.75zM1306.5 448.5h26v26h-26zM1309.75 448.5h22.75v22.75h-22.75zM1309.75 448.5h26v22.75h-26zM1313 445.25h22.75v26h-22.75zM1313 445.25h26v26h-26zM1316.25 445.25h22.75v26h-22.75zM1316.25 445.25h26v26h-26zM1319.5 445.25h22.75v26h-22.75zM1319.5 445.25h26v26h-26zM1322.75 445.25h22.75v26h-22.75zM1322.75 445.25h26v22.75h-26zM1326 445.25h22.75v22.75h-22.75zM1326 445.25h26v22.75h-26zM1326 442h26v26h-26zM1329.25 442h22.75v26h-22.75zM1329.25 442h26v26h-26zM1332.5 442h22.75v26h-22.75zM1332.5 442h26v26h-26zM1335.75 442h22.75v26h-22.75zM1335.75 442h26v26h-26zM1339 442h22.75v22.75h-22.75zM1339 442h26v22.75h-26zM1342.25 442h22.75v22.75h-22.75zM1342.25 442h26v22.75h-26zM1342.25 438.75h26v26h-26zM1345.5 438.75h22.75v26h-22.75zM1345.5 438.75h26v26h-26zM1348.75 438.75h22.75v26h-22.75zM1348.75 438.75h26v26h-26zM1352 438.75h22.75v26h-22.75zM1352 438.75h26v26h-26zM1352 438.75h26v22.75h-26zM1355.25 438.75h22.75v22.75h-22.75zM1355.25 438.75h26v22.75h-26zM1358.5 438.75h22.75v22.75h-22.75zM1358.5 435.5h26v26h-26zM1361.75 435.5h22.75v26h-22.75zM1361.75 435.5h26v26h-26zM1365 435.5h22.75v26h-22.75zM1365 435.5h26v26h-26zM1368.25 435.5h22.75v26h-22.75zM1368.25 435.5h26v26h-26zM1371.5 435.5h22.75v22.75h-22.75zM1371.5 435.5h26v22.75h-26zM1374.75 435.5h22.75v22.75h-22.75zM1374.75 432.25h26v26h-26zM1378 432.25h22.75v26h-22.75zM1378 432.25h26v26h-26zM1381.25 432.25h22.75v26h-22.75zM1381.25 432.25h26v26h-26zM1384.5 432.25h22.75v26h-22.75zM1384.5 432.25h26v26h-26zM1387.75 432.25h22.75v22.75h-22.75zM1387.75 432.25h26v22.75h-26zM1391 432.25h22.75v22.75h-22.75zM1391 432.25h26v22.75h-26zM1394.25 429h22.75v26h-22.75zM1394.25 429h26v26h-26zM1397.5 429h22.75v26h-22.75zM1397.5 429h26v26h-26zM1400.75 429h22.75v26h-22.75zM1400.75 429h26v26h-26zM1404 429h22.75v26h-22.75zM1404 429h26v26h-26zM1404 429h26v22.75h-26zM1407.25 429h22.75v22.75h-22.75zM1407.25 429h26v22.75h-26zM1410.5 429h22.75v22.75h-22.75zM1410.5 425.75h26v26h-26zM1413.75 425.75h22.75v26h-22.75zM1413.75 425.75h26v26h-26zM1417 425.75h22.75v26h-22.75zM1417 425.75h26v26h-26zM1420.25 425.75h22.75v26h-22.75zM1420.25 425.75h26v26h-26zM1423.5 425.75h22.75v22.75h-22.75zM1423.5 425.75h26v22.75h-26zM1426.75 425.75h22.75v22.75h-22.75zM1426.75 425.75h26v22.75h-26zM1426.75 422.5h26v26h-26zM1430 422.5h22.75v26h-22.75zM1430 422.5h26v26h-26zM1433.25 422.5h22.75v26h-22.75zM1433.25 422.5h26v26h-26zM1436.5 422.5h22.75v26h-22.75zM1436.5 422.5h26v26h-26zM1439.75 422.5h22.75v26h-22.75zM1439.75 422.5h26v26h-26zM1439.75 422.5h26v22.75h-26zM1443 422.5h22.75v22.75h-22.75zM1443 422.5h26v22.75h-26zM1446.25 422.5h22.75v22.75h-22.75zM1446.25 422.5h26v22.75h-26zM1446.25 419.25h26v26h-26zM1449.5 419.25h22.75v26h-22.75zM1449.5 419.25h26v26h-26zM1452.75 419.25h22.75v26h-22.75zM1452.75 419.25h26v26h-26zM1456 419.25h22.75v26h-22.75zM1456 419.25h26v26h-26zM1459.25 419.25h22.75v26h-22.75zM1459.25 419.25h26v26h-26zM1459.25 419.25h26v22.75h-26zM1462.5 419.25h22.75v22.75h-22.75zM1462.5 419.25h26v22.75h-26zM1465.75 419.25h22.75v22.75h-22.75zM1465.75 419.25h26v22.75h-26zM1465.75 416h26v26h-26zM1469 416h22.75v26h-22.75zM1469 416h26v26h-26zM1472.25 416h22.75v26h-22.75zM1472.25 416h26v26h-26zM1475.5 416h22.75v26h-22.75zM1475.5 416h26v26h-26zM1478.75 416h22.75v26h-22.75zM1478.75 416h26v26h-26zM1478.75 416h26v22.75h-26zM1482 416h22.75v22.75h-22.75zM1482 416h26v22.75h-26zM1485.25 416h22.75v22.75h-22.75zM1485.25 416h26v22.75h-26zM1485.25 412.75h26v26h-26zM1488.5 412.75h22.75v26h-22.75zM1488.5 412.75h26v26h-26zM1491.75 412.75h22.75v26h-22.75zM1491.75 412.75h26v26h-26zM1495 412.75h22.75v26h-22.75zM1495 412.75h26v26h-26zM1498.25 412.75h22.75v26h-22.75zM1498.25 412.75h26v26h-26zM1501.5 412.75h22.75v22.75h-22.75zM1501.5 412.75h26v22.75h-26zM1504.75 412.75h22.75v22.75h-22.75zM1504.75 412.75h26v22.75h-26zM1508 409.5h22.75v26h-22.75zM1508 409.5h26v26h-26zM1511.25 409.5h22.75v26h-22.75zM1511.25 409.5h26v26h-26zM1514.5 409.5h22.75v26h-22.75zM1514.5 409.5h26v26h-26zM1517.75 409.5h22.75v26h-22.75zM1517.75 409.5h26v26h-26zM1521 409.5h22.75v26h-22.75zM1521 409.5h26v22.75h-26zM1524.25 409.5h22.75v22.75h-22.75zM1524.25 409.5h26v22.75h-26zM1527.5 409.5h22.75v22.75h-22.75zM1527.5 406.25h26v26h-26zM1530.75 406.25h22.75v26h-22.75zM1530.75 406.25h26v26h-26zM1534 406.25h22.75v26h-22.75zM1534 406.25h26v26h-26zM1537.25 406.25h22.75v26h-22.75zM1537.25 406.25h26v26h-26zM1540.5 406.25h22.75v26h-22.75zM1540.5 406.25h26v26h-26zM1543.75 406.25h22.75v22.75h-22.75zM1543.75 406.25h26v22.75h-26zM1547 406.25h22.75v22.75h-22.75zM1547 406.25h26v22.75h-26zM1550.25 403h22.75v26h-22.75zM1550.25 403h26v26h-26zM1553.5 403h22.75v26h-22.75zM1553.5 403h26v26h-26zM1556.75 403h22.75v26h-22.75zM1556.75 403h26v26h-26zM1560 403h22.75v26h-22.75zM1560 403h26v26h-26zM1563.25 403h22.75v26h-22.75zM1563.25 403h26v26h-26zM1566.5 403h22.75v22.75h-22.75zM1566.5 403h26v22.75h-26zM1569.75 403h22.75v22.75h-22.75zM1569.75 403h26v22.75h-26zM1573 399.75h22.75v26h-22.75zM1573 399.75h26v26h-26zM1576.25 399.75h22.75v26h-22.75zM1576.25 399.75h26v26h-26zM1579.5 399.75h22.75v26h-22.75zM1579.5 399.75h26v26h-26zM1582.75 399.75h22.75v26h-22.75zM1582.75 399.75h26v26h-26zM1586 399.75h22.75v26h-22.75zM1586 399.75h26v26h-26zM1589.25 399.75h22.75v22.75h-22.75zM1589.25 399.75h26v22.75h-26zM1592.5 399.75h22.75v22.75h-22.75zM1592.5 399.75h26v22.75h-26zM1595.75 396.5h22.75v26h-22.75zM1595.75 396.5h26v26h-26zM1599 396.5h22.75v26h-22.75zM1599 396.5h26v26h-26zM1602.25 396.5h22.75v26h-22.75zM1602.25 396.5h26v26h-26zM1605.5 396.5h22.75v26h-22.75zM1605.5 396.5h26v26h-26zM1608.75 396.5h22.75v26h-22.75zM1608.75 396.5h26v26h-26zM1612 396.5h22.75v26h-22.75zM1612 396.5h26v22.75h-26zM1615.25 396.5h22.75v22.75h-22.75zM1615.25 396.5h26v22.75h-26zM1618.5 396.5h22.75v22.75h-22.75zM1618.5 396.5h26v22.75h-26zM1618.5 393.25h26v26h-26zM1621.75 393.25h22.75v26h-22.75zM1621.75 393.25h26v26h-26zM1625 393.25h22.75v26h-22.75zM1625 393.25h26v26h-26zM1628.25 393.25h22.75v26h-22.75zM1628.25 393.25h26v26h-26zM1631.5 393.25h22.75v26h-22.75zM1631.5 393.25h26v26h-26zM1634.75 393.25h22.75v26h-22.75zM1634.75 393.25h26v26h-26zM1638 393.25h22.75v22.75h-22.75zM1638 393.25h26v22.75h-26zM1641.25 393.25h22.75v22.75h-22.75zM1641.25 393.25h26v22.75h-26zM1644.5 393.25h22.75v22.75h-22.75zM1644.5 390h26v26h-26zM1647.75 390h22.75v26h-22.75zM1647.75 390h26v26h-26zM1651 390h22.75v26h-22.75zM1651 390h26v26h-26zM1654.25 390h22.75v26h-22.75zM1654.25 390h26v26h-26zM1657.5 390h22.75v26h-22.75zM1657.5 390h26v26h-26zM1660.75 390h22.75v26h-22.75zM1660.75 390h26v26h-26zM1660.75 390h26v22.75h-26zM1664 390h22.75v22.75h-22.75zM1664 390h26v22.75h-26zM1667.25 390h22.75v22.75h-22.75zM1667.25 390h26v22.75h-26zM1670.5 386.75h22.75v26h-22.75zM1670.5 386.75h26v26h-26zM1673.75 386.75h22.75v26h-22.75zM1673.75 386.75h26v26h-26zM1677 386.75h22.75v26h-22.75zM1677 386.75h26v26h-26zM1680.25 386.75h22.75v26h-22.75zM1680.25 386.75h26v26h-26zM1683.5 386.75h22.75v26h-22.75zM1683.5 386.75h26v26h-26zM1686.75 386.75h22.75v26h-22.75zM1686.75 386.75h26v26h-26zM1686.75 386.75h26v22.75h-26zM1690 386.75h22.75v22.75h-22.75zM1690 386.75h26v22.75h-26zM1693.25 386.75h22.75v22.75h-22.75zM1693.25 386.75h26v22.75h-26zM1696.5 386.75h22.75v22.75h-22.75zM1696.5 383.5h26v26h-26zM1699.75 383.5h22.75v26h-22.75zM1699.75 383.5h26v26h-26zM1703 383.5h22.75v26h-22.75zM1703 383.5h26v26h-26zM1706.25 383.5h22.75v26h-22.75zM1706.25 383.5h26v26h-26zM1709.5 383.5h22.75v26h-22.75zM1709.5 383.5h26v26h-26zM1712.75 383.5h22.75v26h-22.75zM1712.75 383.5h26v26h-26zM1712.75 383.5h26v22.75h-26zM1716 383.5h22.75v22.75h-22.75zM1716 383.5h26v22.75h-26zM1719.25 383.5h22.75v22.75h-22.75zM1719.25 383.5h26v22.75h-26zM1722.5 383.5h22.75v22.75h-22.75zM1722.5 383.5h26v22.75h-26zM1722.5 380.25h26v26h-26zM1725.75 380.25h22.75v26h-22.75zM1725.75 380.25h26v26h-26zM1729 380.25h22.75v26h-22.75zM1729 380.25h26v26h-26zM1732.25 380.25h22.75v26h-22.75zM1732.25 380.25h26v26h-26zM1735.5 380.25h22.75v26h-22.75zM1735.5 380.25h26v26h-26zM1738.75 380.25h22.75v26h-22.75zM1738.75 380.25h26v26h-26zM1742 380.25h22.75v26h-22.75zM1742 380.25h26v22.75h-26zM1745.25 380.25h22.75v22.75h-22.75zM1745.25 380.25h26v22.75h-26zM1748.5 380.25h22.75v22.75h-22.75zM1748.5 380.25h26v22.75h-26zM1751.75 377h22.75v26h-22.75zM1751.75 377h26v26h-26zM1755 377h22.75v26h-22.75zM1755 377h26v26h-26zM1758.25 377h22.75v26h-22.75zM1758.25 377h26v26h-26zM1761.5 377h22.75v26h-22.75zM1761.5 377h26v26h-26zM1764.75 377h22.75v26h-22.75zM1764.75 377h26v26h-26zM1768 377h22.75v26h-22.75zM1768 377h26v26h-26zM1771.25 377h22.75v26h-22.75zM1771.25 377h26v22.75h-26zM1774.5 377h22.75v22.75h-22.75zM1774.5 377h26v22.75h-26zM1777.75 377h22.75v22.75h-22.75zM1777.75 377h26v22.75h-26zM1781 373.75h22.75v26h-22.75zM1781 373.75h26v26h-26zM1784.25 373.75h22.75v26h-22.75zM1784.25 373.75h26v26h-26zM1787.5 373.75h22.75v26h-22.75zM1787.5 373.75h26v26h-26zM1790.75 373.75h22.75v26h-22.75zM1790.75 373.75h26v26h-26zM1794 373.75h22.75v26h-22.75zM1794 373.75h26v26h-26zM1797.25 373.75h22.75v26h-22.75zM1797.25 373.75h26v26h-26zM1800.5 373.75h22.75v26h-22.75zM1800.5 373.75h26v22.75h-26zM1803.75 373.75h22.75v22.75h-22.75zM1803.75 373.75h26v22.75h-26zM1807 373.75h22.75v22.75h-22.75zM1807 373.75h26v22.75h-26zM1810.25 370.5h22.75v26h-22.75zM1810.25 370.5h26v26h-26zM1813.5 370.5h22.75v26h-22.75zM1813.5 370.5h26v26h-26zM1816.75 370.5h22.75v26h-22.75zM1816.75 370.5h26v26h-26zM1820 370.5h22.75v26h-22.75zM1820 370.5h26v26h-26zM1823.25 370.5h22.75v26h-22.75zM1823.25 370.5h26v26h-26zM1826.5 370.5h22.75v26h-22.75zM1826.5 370.5h26v26h-26zM1829.75 370.5h22.75v26h-22.75zM1829.75 370.5h26v26h-26zM1829.75 370.5h26v22.75h-26zM1833 370.5h22.75v22.75h-22.75zM1833 370.5h26v22.75h-26zM1836.25 370.5h22.75v22.75h-22.75zM1836.25 370.5h26v22.75h-26zM1839.5 370.5h22.75v22.75h-22.75zM1839.5 370.5h26v22.75h-26zM1839.5 367.25h26v26h-26zM1842.75 367.25h22.75v26h-22.75zM1842.75 367.25h26v26h-26zM1846 367.25h22.75v26h-22.75zM1846 367.25h26v26h-26zM1849.25 367.25h22.75v26h-22.75zM1849.25 367.25h26v26h-26zM1852.5 367.25h22.75v26h-22.75zM1852.5 367.25h26v26h-26zM1855.75 367.25h22.75v26h-22.75zM1855.75 367.25h26v26h-26zM1859 367.25h22.75v26h-22.75zM1859 367.25h26v26h-26zM1862.25 367.25h22.75v22.75h-22.75zM1862.25 367.25h26v22.75h-26zM1865.5 367.25h22.75v22.75h-22.75zM1865.5 367.25h26v22.75h-26zM1868.75 367.25h22.75v22.75h-22.75zM1868.75 367.25h26v22.75h-26zM1872 364h22.75v26h-22.75zM1872 364h26v26h-26zM1875.25 364h22.75v26h-22.75zM1875.25 364h26v26h-26zM1878.5 364h22.75v26h-22.75zM1878.5 364h26v26h-26zM1881.75 364h22.75v26h-22.75zM1881.75 364h26v26h-26zM1885 364h22.75v26h-22.75zM1885 364h26v26h-26zM1888.25 364h22.75v26h-22.75zM1888.25 364h26v26h-26zM1891.5 364h22.75v26h-22.75zM1891.5 364h26v26h-26zM1894.75 364h22.75v22.75h-22.75zM1894.75 364h26v22.75h-26zM1898 364h22.75v22.75h-22.75zM1898 364h26v22.75h-26zM1901.25 364h22.75v22.75h-22.75zM1901.25 364h26v22.75h-26zM1904.5 364h22.75v22.75h-22.75zM1904.5 360.75h26v26h-26zM1907.75 360.75h22.75v26h-22.75zM1907.75 360.75h26v26h-26zM1911 360.75h22.75v26h-22.75zM1911 360.75h26v26h-26zM1914.25 360.75h22.75v26h-22.75zM1914.25 360.75h26v26h-26zM1917.5 360.75h22.75v26h-22.75zM1917.5 360.75h26v26h-26zM1920.75 360.75h22.75v26h-22.75zM1920.75 360.75h26v26h-26zM1924 360.75h22.75v26h-22.75zM1924 360.75h26v26h-26zM1927.25 360.75h22.75v26h-22.75zM1927.25 360.75h26v22.75h-26zM1930.5 360.75h22.75v22.75h-22.75zM1930.5 360.75h26v22.75h-26zM1933.75 360.75h22.75v22.75h-22.75zM1933.75 360.75h26v22.75h-26zM1937 360.75h22.75v22.75h-22.75zM1937 357.5h26v26h-26zM1940.25 357.5h22.75v26h-22.75zM1940.25 357.5h26v26h-26zM1943.5 357.5h22.75v26h-22.75zM1943.5 357.5h26v26h-26zM1946.75 357.5h22.75v26h-22.75zM1946.75 357.5h26v26h-26zM1950 357.5h22.75v26h-22.75zM1950 357.5h26v26h-26zM1953.25 357.5h22.75v26h-22.75zM1953.25 357.5h26v26h-26zM1956.5 357.5h22.75v26h-22.75zM1956.5 357.5h26v26h-26zM1959.75 357.5h22.75v26h-22.75zM1959.75 357.5h26v26h-26zM1959.75 357.5h26v22.75h-26zM1963 357.5h22.75v22.75h-22.75zM1963 357.5h26v22.75h-26zM1966.25 357.5h22.75v22.75h-22.75zM1966.25 357.5h26v22.75h-26zM1969.5 357.5h22.75v22.75h-22.75zM1969.5 357.5h26v22.75h-26zM1972.75 354.25h22.75v26h-22.75zM1972.75 354.25h26v26h-26zM1976 354.25h22.75v26h-22.75zM1976 354.25h26v26h-26z"/>
<path fill="#000000" d="M256.75 994.5h26v22.75h-26zM260 994.5h22.75v22.75h-22.75zM260 994.5h26v22.75h-26zM263.25 994.5h22.75v22.75h-22.75zM263.25 991.25h22.75v26h-22.75zM263.25 991.25h26v26h-26zM266.5 991.25h22.75v26h-22.75zM266.5 991.25h26v26h-26zM269.75 991.25h22.75v26h-22.75zM269.75 991.25h26v26h-26zM273 991.25h22.75v26h-22.75zM273 991.25h26v26h-26zM276.25 991.25h22.75v26h-22.75zM276.25 991.25h26v26h-26zM279.5 991.25h22.75v22.75h-22.75zM279.5 991.25h26v22.75h-26zM282.75 991.25h22.75v22.75h-22.75zM282.75 991.25h26v22.75h-26zM286 991.25h22.75v22.75h-22.75zM286 988h26v26h-26zM289.25 988h22.75v26h-22.75zM289.25 988h26v26h-26zM292.5 988h22.75v26h-22.75zM292.5 988h26v26h-26zM295.75 988h22.75v26h-22.75zM295.75 988h26v26h-26zM299 988h22.75v26h-22.75zM299 988h26v26h-26zM302.25 988h22.75v22.75h-22.75zM302.25 988h26v22.75h-26zM305.5 988h22.75v22.75h-22.75zM305.5 988h26v22.75h-26zM308.75 988h22.75v22.75h-22.75zM308.75 984.75h26v26h-26zM312 984.75h22.75v26h-22.75zM312 984.75h26v26h-26zM315.25 984.75h22.75v26h-22.75zM315.25 984.75h26v26h-26zM318.5 984.75h22.75v26h-22.75zM318.5 984.75h26v26h-26zM321.75 984.75h22.75v26h-22.75zM321.75 984.75h26v26h-26zM321.75 984.75h26v22.75h-26zM325 984.75h22.75v22.75h-22.75zM325 984.75h26v22.75h-26zM328.25 984.75h22.75v22.75h-22.75zM328.25 984.75h26v22.75h-26zM331.5 981.5h22.75v26h-22.75zM331.5 981.5h26v26h-26zM334.75 981.5h22.75v26h-22.75zM334.75 981.5h26v26h-26zM338 981.5h22.75v26h-22.75zM338 981.5h26v26h-26zM341.25 981.5h22.75v26h-22.75zM341.25 981.5h26v26h-26zM344.5 981.5h22.75v26h-22.75zM344.5 981.5h26v22.75h-26zM347.75 981.5h22.75v22.75h-22.75zM347.75 981.5h26v22.75h-26zM351 981.5h22.75v22.75h-22.75zM351 981.5h26v22.75h-26zM351 978.25h26v26h-26zM354.25 978.25h22.75v26h-22.75zM354.25 978.25h26v26h-26zM357.5 978.25h22.75v26h-22.75zM357.5 978.25h26v26h-26zM360.75 978.25h22.75v26h-22.75zM360.75 978.25h26v26h-26zM364 978.25h22.75v26h-22.75zM364 978.25h26v26h-26zM364 978.25h26v22.75h-26zM367.25 978.25h22.75v22.75h-22.75zM367.25 978.25h26v22.75h-26zM370.5 978.25h22.75v22.75h-22.75zM370.5 978.25h26v22.75h-26zM373.75 975h22.75v26h-22.75zM373.75 975h26v26h-26zM377 975h22.75v26h-22.75zM377 975h26v26h-26zM380.25 975h22.75v26h-22.75zM380.25 975h26v26h-26zM383.5 975h22.75v26h-22.75zM383.5 975h26v26h-26zM386.75 975h22.75v26h-22.75zM386.75 975h26v22.75h-26zM390 975h22.75v22.75h-22.75zM390 975h26v22.75h-26zM393.25 971.75h22.75v26h-22.75zM393.25 971.75h26v26h-26zM396.5 971.75h22.75v26h-22.75zM396.5 971.75h26v26h-26zM399.75 971.75h22.75v26h-22.75zM399.75 971.75h26v26h-26zM403 971.75h22.75v26h-22.75zM403 971.75h26v26h-26zM406.25 971.75h22.75v26h-22.75zM406.25 971.75h26v22.75h-26zM409.5 971.75h22.75v22.75h-22.75zM409.5 971.75h26v22.75h-26zM412.75 968.5h22.75v26h-22.75zM412.75 968.5h26v26h-26zM416 968.5h22.75v26h-22.75zM416 968.5h26v26h-26zM419.25 968.5h22.75v26h-22.75zM419.25 968.5h26v26h-26zM422.5 968.5h22.75v26h-22.75zM422.5 968.5h26v26h-26zM425.75 968.5h22.75v26h-22.75zM425.75 968.5h26v22.75h-26zM429 968.5h22.75v22.75h-22.75zM429 968.5h26v22.75h-26zM432.25 968.5h22.75v22.75h-22.75zM432.25 965.25h22.75v26h-22.75zM432.25 965.25h26v26h-26zM435.5 965.25h22.75v26h-22.75zM435.5 965.25h26v26h-26zM438.75 965.25h22.75v26h-22.75zM438.75 965.25h26v26h-26zM442 965.25h22.75v26h-22.75zM442 965.25h26v26h-26zM445.25 965.25h22.75v22.75h-22.75zM445.25 965.25h26v22.75h-26zM448.5 965.25h22.75v22.75h-22.75zM448.5 965.25h26v22.75h-26zM451.75 962h22.75v26h-22.75zM451.75 962h26v26h-26zM455 962h22.75v26h-22.75zM455 962h26v26h-26zM458.25 962h22.75v26h-22.75zM458.25 962h26v26h-26zM461.5 962h22.75v26h-22.75zM461.5 962h26v26h-26zM464.75 962h22.75v22.75h-22.75zM464.75 962h26v22.75h-26zM468 962h22.75v22.75h-22.75zM468 962h26v22.75h-26zM468 958.75h26v26h-26zM471.25 958.75h22.75v26h-22.75zM471.25 958.75h26v26h-26zM474.5 958.75h22.75v26h-22.75zM474.5 958.75h26v26h-26zM477.75 958.75h22.75v26h-22.75zM477.75 958.75h26v26h-26zM481 958.75h22.75v26h-22.75zM481 958.75h26v22.75h-26zM484.25 958.75h22.75v22.75h-22.75zM484.25 958.75h26v22.75h-26zM487.5 955.5h22.75v26h-22.75zM487.5 955.5h26v26h-26zM490.75 955.5h22.75v26h-22.75zM490.75 955.5h26v26h-26zM494 955.5h22.75v26h-22.75zM494 955.5h26v26h-26zM497.25 955.5h22.75v26h-22.75zM497.25 955.5h26v26h-26zM497.25 955.5h26v22.75h-26zM500.5 955.5h22.75v22.75h-22.75zM500.5 955.5h26v22.75h-26zM503.75 955.5h22.75v22.75h-22.75zM503.75 955.5h26v22.75h-26zM503.75 952.25h26v26h-26zM507 952.25h22.75v26h-22.75zM507 952.25h26v26h-26zM510.25 952.25h22.75v26h-22.75zM510.25 952.25h26v26h-26zM513.5 952.25h22.75v26h-22.75zM513.5 952.25h26v26h-26zM516.75 952.25h22.75v26h-22.75zM516.75 952.25h26v22.75h-26zM520 952.25h22.75v22.75h-22.75zM520 952.25h26v22.75h-26zM520 949h26v26h-26zM523.25 949h22.75v26h-22.75zM523.25 949h26v26h-26zM526.5 949h22.75v26h-22.75zM526.5 949h26v26h-26zM529.75 949h22.75v26h-22.75zM529.75 949h26v26h-26zM533 949h22.75v26h-22.75zM533 949h26v22.75h-26zM536.25 949h22.75v22.75h-22.75zM536.25 949h26v22.75h-26zM536.25 945.75h26v26h-26zM539.5 945.75h22.75v26h-22.75zM539.5 945.75h26v26h-26zM542.75 945.75h22.75v26h-22.75zM542.75 945.75h26v26h-26zM546 945.75h22.75v26h-22.75zM546 945.75h26v26h-26zM549.25 945.75h22.75v26h-22.75zM549.25 945.75h22.75v22.75h-22.75zM549.25 945.75h26v22.75h-26zM552.5 945.75h22.75v22.75h-22.75zM552.5 945.75h26v22.75h-26zM552.5 942.5h26v26h-26zM555.75 942.5h22.75v26h-22.75zM555.75 942.5h26v26h-26zM559 942.5h22.75v26h-22.75zM559 942.5h26v26h-26zM562.25 942.5h22.75v26h-22.75zM562.25 942.5h26v26h-26zM565.5 942.5h22.75v22.75h-22.75zM565.5 942.5h26v22.75h-26zM568.75 942.5h22.75v22.75h-22.75zM568.75 942.5h26v22.75h-26zM568.75 939.25h26v26h-26zM572 939.25h22.75v26h-22.75zM572 939.25h26v26h-26zM575.25 939.25h22.75v26h-22.75zM575.25 939.25h26v26h-26zM578.5 939.25h22.75v26h-22.75zM578.5 939.25h26v26h-26zM578.5 939.25h26v22.75h-26zM581.75 939.25h22.75v22.75h-22.75zM581.75 939.25h26v22.75h-26zM585 939.25h22.75v22.75h-22.75zM585 936h26v26h-26zM588.25 936h22.75v26h-22.75zM588.25 936h26v26h-26zM591.5 936h22.75v26h-22.75zM591.5 936h26v26h-26zM594.75 936h22.75v26h-22.75zM594.75 936h26v22.75h-26zM598 936h22.75v22.75h-22.75zM598 936h26v22.75h-26zM598 932.75h26v26h-26zM601.25 932.75h22.75v26h-22.75zM601.25 932.75h26v26h-26zM604.5 932.75h22.75v26h-22.75zM604.5 932.75h26v26h-26zM607.75 932.75h22.75v26h-22.75zM607.75 932.75h26v26h-26zM607.75 932.75h26v22.75h-26zM611 932.75h22.75v22.75h-22.75zM611 932.75h26v22.75h-26zM614.25 932.75h22.75v22.75h-22.75zM614.25 929.5h26v26h-26zM617.5 929.5h22.75v26h-22.75zM617.5 929.5h26v26h-26zM620.75 929.5h22.75v26h-22.75zM620.75 929.5h26v26h-26zM624 929.5h22.75v26h-22.75zM624 929.5h26v22.75h-26zM627.25 929.5h22.75v22.75h-22.75zM627.25 929.5h26v22.75h-26zM627.25 926.25h26v26h-26zM630.5 926.25h22.75v26h-22.75zM630.5 926.25h26v26h-26zM633.75 926.25h22.75v26h-22.75zM633.75 926.25h26v26h-26zM637 926.25h22.75v26h-22.75zM637 926.25h26v26h-26zM637 926.25h26v22.75h-26zM640.25 926.25h22.75v22.75h-22.75zM640.25 926.25h26v22.75h-26zM643.5 923h22.75v26h-22.75zM643.5 923h26v26h-26zM646.75 923h22.75v26h-22.75zM646.75 923h26v26h-26zM650 923h22.75v26h-22.75zM650 923h26v26h-26zM650 923h26v22.75h-26zM653.25 923h22.75v22.75h-22.75zM653.25 923h26v22.75h-26zM656.5 919.75h22.75v26h-22.75zM656.5 919.75h26v26h-26zM659.75 919.75h22.75v26h-22.75zM659.75 919.75h26v26h-26zM663 919.75h22.75v26h-22.75zM663 919.75h26v26h-26zM666.25 919.75h22.75v22.75h-22.75zM666.25 919.75h26v22.75h-26zM669.5 916.5h22.75v26h-22.75zM669.5 916.5h26v26h-26zM672.75 916.5h22.75v26h-22.75zM672.75 916.5h26v26h-26zM676 916.5h22.75v26h-22.75zM676 916.5h26v26h-26zM676 916.5h26v22.75h-26zM679.25 916.5h22.75v22.75h-22.75zM679.25 916.5h26v22.75h-26zM682.5 913.25h22.75v26h-22.75zM682.5 913.25h26v26h-26zM685.75 913.25h22.75v26h-22.75zM685.75 913.25h26v26h-26zM689 913.25h22.75v26h-22.75zM689 913.25h26v26h-26zM689 913.25h26v22.75h-26zM692.25 913.25h22.75v22.75h-22.75zM692.25 913.25h26v22.75h-26zM692.25 910h26v26h-26zM695.5 910h22.75v26h-22.75zM695.5 910h26v26h-26zM698.75 910h22.75v26h-22.75zM698.75 910h26v26h-26zM702 910h22.75v26h-22.75zM702 910h26v26h-26zM702 910h26v22.75h-26zM705.25 910h22.75v22.75h-22.75zM705.25 906.75h26v26h-26zM708.5 906.75h22.75v26h-22.75zM708.5 906.75h26v26h-26zM711.75 906.75h22.75v26h-22.75zM711.75 906.75h26v26h-26zM715 906.75h22.75v22.75h-22.75zM715 906.75h26v22.75h-26zM718.25 906.75h22.75v22.75h-22.75zM718.25 903.5h26v26h-26zM721.5 903.5h22.75v26h-22.75zM721.5 903.5h26v26h-26zM724.75 903.5h22.75v26h-22.75zM724.75 903.5h26v26h-26zM724.75 903.5h26v22.75h-26zM728 903.5h22.75v22.75h-22.75zM728 903.5h26v22.75h-26zM728 900.25h26v26h-26zM731.25 900.25h22.75v26h-22.75zM731.25 900.25h26v26h-26zM734.5 900.25h22.75v26h-22.75zM734.5 900.25h26v26h-26zM737.75 900.25h22.75v26h-22.75zM737.75 900.25h22.75v22.75h-22.75zM737.75 900.25h26v22.75h-26zM741 897h22.75v26h-22.75zM741 897h26v26h-26zM744.25 897h22.75v26h-22.75zM744.25 897h26v26h-26zM747.5 897h22.75v26h-22.75zM747.5 897h26v22.75h-26zM750.75 897h22.75v22.75h-22.75zM750.75 897h26v22.75h-26zM750.75 893.75h26v26h-26zM754 893.75h22.75v26h-22.75zM754 893.75h26v26h-26zM757.25 893.75h22.75v26h-22.75zM757.25 893.75h26v26h-26zM757.25 893.75h26v22.75h-26zM760.5 893.75h22.75v22.75h-22.75zM760.5 893.75h26v22.75h-26zM760.5 890.5h26v26h-26zM763.75 890.5h22.75v26h-22.75zM763.75 890.5h26v26h-26zM767 890.5h22.75v26h-22.75zM767 890.5h26v26h-26zM770.25 890.5h22.75v22.75h-22.75zM770.25 890.5h26v22.75h-26zM770.25 887.25h26v26h-26zM773.5 887.25h22.75v26h-22.75zM773.5 887.25h26v26h-26zM776.75 887.25h22.75v26h-22.75zM776.75 887.25h26v26h-26zM780 887.25h22.75v22.75h-22.75zM780 887.25h26v22.75h-26zM783.25 884h22.75v26h-22.75zM783.25 884h26v26h-26zM786.5 884h22.75v26h-22.75zM786.5 884h26v26h-26zM789.75 884h22.75v22.75h-22.75zM789.75 884h26v22.75h-26zM793 880.75h22.75v26h-22.75zM793 880.75h26v26h-26zM796.25 880.75h22.75v26h-22.75zM796.25 880.75h26v26h-26zM799.5 880.75h22.75v22.75h-22.75zM799.5 880.75h26v22.75h-26zM799.5 877.5h26v26h-26zM802.75 877.5h22.75v26h-22.75zM802.75 877.5h26v26h-26zM806 877.5h22.75v26h-22.75zM806 877.5h26v26h-26zM806 877.5h26v22.75h-26zM809.25 877.5h22.75v22.75h-22.75zM809.25 874.25h26v26h-26zM812.5 874.25h22.75v26h-22.75zM812.5 874.25h26v26h-26zM815.75 874.25h22.75v26h-22.75zM815.75 874.25h26v22.75h-26zM819 874.25h22.75v22.75h-22.75zM819 871h26v26h-26zM822.25 871h22.75v26h-22.75zM822.25 871h26v26h-26zM825.5 871h22.75v22.75h-22.75zM825.5 871h26v22.75h-26zM828.75 867.75h22.75v26h-22.75zM828.75 867.75h26v26h-26zM832 867.75h22.75v26h-22.75zM832 867.75h26v26h-26zM832 867.75h26v22.75h-26zM835.25 867.75h22.75v22.75h-22.75zM835.25 864.5h26v26h-26zM838.5 864.5h22.75v26h-22.75zM838.5 864.5h26v26h-26zM841.75 864.5h22.75v26h-22.75zM841.75 864.5h22.75v22.75h-22.75zM841.75 864.5h26v22.75h-26zM845 861.25h22.75v26h-22.75zM845 861.25h26v26h-26zM848.25 861.25h22.75v26h-22.75zM848.25 861.25h26v22.75h-26zM851.5 861.25h22.75v22.75h-22.75zM851.5 858h26v26h-26zM854.75 858h22.75v26h-22.75zM854.75 858h26v26h-26zM858 858h22.75v22.75h-22.75zM858 858h26v22.75h-26zM858 854.75h26v26h-26zM861.25 854.75h22.75v26h-22.75zM861.25 854.75h26v26h-26zM864.5 854.75h22.75v26h-22.75zM864.5 854.75h26v22.75h-26zM864.5 851.5h26v26h-26zM867.75 851.5h22.75v26h-22.75zM867.75 851.5h26v26h-26zM871 851.5h22.75v26h-22.75zM871 851.5h26v22.75h-26zM874.25 848.25h22.75v26h-22.75zM874.25 848.25h26v26h-26zM877.5 848.25h22.75v26h-22.75zM877.5 848.25h26v22.75h-26zM880.75 845h22.75v26h-22.75zM880.75 845h26v26h-26zM884 845h22.75v26h-22.75zM884 845h26v22.75h-26zM887.25 841.75h22.75v26h-22.75zM887.25 841.75h26v26h-26zM890.5 841.75h22.75v26h-22.75zM890.5 841.75h26v22.75h-26zM890.5 838.5h26v26h-26zM893.75 838.5h22.75v26h-22.75zM893.75 838.5h26v26h-26zM897 838.5h22.75v26h-22.75zM897 838.5h22.75v22.75h-22.75zM897 838.5h26v22.75h-26zM897 835.25h26v26h-26zM900.25 835.25h22.75v26h-22.75zM900.25 835.25h26v26h-26zM903.5 835.25h22.75v22.75h-22.75zM903.5 835.25h26v22.75h-26zM903.5 832h26v26h-26zM906.75 832h22.75v26h-22.75zM906.75 832h26v26h-26zM906.75 832h26v22.75h-26zM910 832h22.75v22.75h-22.75zM910 828.75h22.75v26h-22.75zM910 828.75h26v26h-26zM913.25 828.75h22.75v26h-22.75zM913.25 828.75h26v26h-26zM913.25 828.75h26v22.75h-26zM916.5 825.5h22.75v26h-22.75zM916.5 825.5h26v26h-26zM919.75 825.5h22.75v22.75h-22.75zM919.75 825.5h26v22.75h-26zM919.75 822.25h26v26h-26zM923 822.25h22.75v26h-22.75zM923 822.25h26v26h-26zM923 822.25h26v22.75h-26zM926.25 819h22.75v26h-22.75zM926.25 819h26v26h-26zM926.25 819h26v22.75h-26zM929.5 819h22.75v22.75h-22.75zM929.5 815.75h26v26h-26zM932.75 815.75h22.75v26h-22.75zM932.75 815.75h26v22.75h-26zM932.75 812.5h26v26h-26zM936 812.5h22.75v26h-22.75zM936 812.5h26v26h-26zM936 812.5h26v22.75h-26zM939.25 809.25h22.75v26h-22.75zM939.25 809.25h26v26h-26zM942.5 809.25h22.75v22.75h-22.75zM942.5 806h26v26h-26zM945.75 806h22.75v26h-22.75zM945.75 806h26v22.75h-26zM945.75 802.75h26v26h-26zM949 802.75h22.75v26h-22.75zM949 802.75h26v22.75h-26zM949 799.5h26v26h-26zM952.25 799.5h22.75v26h-22.75zM952.25 799.5h26v26h-26zM952.25 799.5h26v22.75h-26zM952.25 796.25h26v26h-26zM955.5 796.25h22.75v26h-22.75zM955.5 796.25h26v26h-26zM955.5 796.25h26v22.75h-26zM958.75 793h22.75v26h-22.75zM958.75 793h26v26h-26zM958.75 793h26v22.75h-26zM962 789.75h22.75v26h-22.75zM962 789.75h26v26h-26zM962 789.75h26v22.75h-26zM962 786.5h26v26h-26zM965.25 786.5h22.75v26h-22.75zM965.25 786.5h26v26h-26zM965.25 786.5h26v22.75h-26zM968.5 783.25h22.75v26h-22.75zM968.5 783.25h26v26h-26zM968.5 783.25h26v22.75h-26zM968.5 780h26v26h-26zM971.75 780h22.75v26h-22.75zM971.75 780h26v22.75h-26zM971.75 776.75h26v26h-26zM975 776.75h22.75v22.75h-22.75zM975 773.5h26v26h-26zM975 773.5h26v22.75h-26zM978.25 770.25h22.75v26h-22.75zM978.25 770.25h26v26h-26zM978.25 770.25h26v22.75h-26zM978.25 767h26v26h-26zM981.5 767h22.75v26h-22.75zM981.5 767h26v22.75h-26zM981.5 763.75h26v26h-26zM984.75 763.75h22.75v22.75h-22.75zM984.75 760.5h22.75v26h-22.75zM984.75 760.5h26v26h-26zM984.75 760.5h26v22.75h-26zM984.75 757.25h26v26h-26zM988 757.25h22.75v26h-22.75zM988 757.25h22.75v22.75h-22.75zM988 754h26v26h-26zM988 754h26v22.75h-26zM988 750.75h26v26h-26zM991.25 750.75h22.75v26h-22.75zM991.25 750.75h22.75v22.75h-22.75zM991.25 747.5h26v26h-26zM991.25 747.5h26v22.75h-26zM991.25 744.25h26v26h-26zM994.5 744.25h22.75v26h-22.75zM994.5 744.25h22.75v22.75h-22.75zM994.5 741h22.75v26h-22.75zM994.5 741h26v26h-26zM994.5 741h26v22.75h-26zM994.5 737.75h26v26h-26zM994.5 737.75h26v22.75h-26zM997.75 734.5h22.75v26h-22.75zM997.75 734.5h26v22.75h-26zM997.75 731.25h26v26h-26zM997.75 731.25h26v22.75h-26zM997.75 728h26v26h-26zM1001 728h22.75v22.75h-22.75zM1001 724.75h22.75v26h-22.75zM1001 724.75h26v22.75h-26zM1001 721.5h26v26h-26zM1001 721.5h26v22.75h-26zM1001 718.25h26v26h-26zM1001 718.25h26v22.75h-26zM1001 715h26v26h-26zM1004.25 715h22.75v26h-22.75zM1004.25 715h22.75v22.75h-22.75zM1004.25 711.75h22.75v26h-22.75zM1004.25 711.75h22.75v22.75h-22.75zM1004.25 708.5h26v26h-26zM1004.25 708.5h26v22.75h-26zM1004.25 705.25h26v26h-26zM1004.25 705.25h26v22.75h-26zM1004.25 702h26v26h-26zM1004.25 702h26v22.75h-26zM1004.25 698.75h26v26h-26zM1004.25 698.75h26v22.75h-26zM1004.25 695.5h26v26h-26zM1007.5 695.5h22.75v26h-22.75zM1007.5 695.5h22.75v22.75h-22.75zM1007.5 692.25h22.75v26h-22.75zM1007.5 692.25h22.75v22.75h-22.75zM1007.5 689h22.75v26h-22.75zM1007.5 689h26v22.75h-26zM1007.5 685.75h26v26h-26zM1007.5 685.75h26v22.75h-26zM1007.5 682.5h26v26h-26zM1007.5 682.5h26v22.75h-26zM1007.5 679.25h26v26h-26zM1007.5 679.25h26v22.75h-26zM1007.5 676h26v26h-26zM1007.5 676h26v22.75h-26zM1007.5 672.75h26v26h-26zM1007.5 672.75h26v22.75h-26zM1007.5 669.5h26v26h-26zM1007.5 669.5h26v22.75h-26zM1007.5 666.25h26v26h-26zM1007.5 666.25h26v22.75h-26zM1007.5 663h26v26h-26zM1010.75 663h22.75v26h-22.75zM1010.75 663h22.75v22.75h-22.75zM1010.75 659.75h22.75v26h-22.75zM1010.75 659.75h22.75v22.75h-22.75zM1010.75 656.5h22.75v26h-22.75zM1010.75 656.5h22.75v22.75h-22.75zM1010.75 653.25h22.75v26h-22.75zM1010.75 653.25h22.75v22.75h-22.75zM1010.75 650h22.75v26h-22.75zM1010.75 650h26v26h-26zM1010.75 650h26v22.75h-26zM1010.75 646.75h26v26h-26zM1010.75 646.75h26v22.75h-26zM1010.75 643.5h26v26h-26zM1010.75 643.5h26v22.75h-26zM1010.75 640.25h26v26h-26zM1010.75 640.25h26v22.75h-26zM1010.75 637h26v26h-26zM1010.75 637h26v22.75h-26zM1010.75 633.75h26v26h-26zM1010.75 633.75h26v22.75h-26zM1010.75 630.5h26v26h-26zM1014 630.5h22.75v26h-22.75zM1014 630.5h22.75v22.75h-22.75zM1014 627.25h22.75v26h-22.75zM1014 627.25h22.75v22.75h-22.75zM1014 624h22.75v26h-22.75zM1014 624h26v26h-26zM1014 624h26v22.75h-26zM1014 620.75h26v26h-26zM1014 620.75h26v22.75h-26zM1014 617.5h26v26h-26zM1014 617.5h26v22.75h-26zM1014 614.25h26v26h-26zM1017.25 614.25h22.75v22.75h-22.75zM1017.25 611h22.75v26h-22.75zM1017.25 611h22.75v22.75h-22.75zM1017.25 607.75h26v26h-26zM1017.25 607.75h26v22.75h-26zM1017.25 604.5h26v26h-26zM1017.25 604.5h26v22.75h-26zM1017.25 601.25h26v26h-26zM1020.5 601.25h22.75v22.75h-22.75zM1020.5 598h22.75v26h-22.75zM1020.5 598h26v26h-26zM1020.5 598h26v22.75h-26zM1020.5 594.75h26v26h-26zM1020.5 594.75h26v22.75h-26zM1020.5 591.5h26v26h-26zM1023.75 591.5h22.75v26h-22.75zM1023.75 591.5h22.75v22.75h-22.75zM1023.75 588.25h26v26h-26zM1023.75 588.25h26v22.75h-26zM1023.75 585h26v26h-26zM1027 585h22.75v26h-22.75zM1027 585h22.75v22.75h-22.75zM1027 581.75h22.75v26h-22.75zM1027 581.75h26v26h-26zM1027 581.75h26v22.75h-26zM1027 578.5h26v26h-26zM1030.25 578.5h22.75v22.75h-22.75zM1030.25 575.25h22.75v26h-22.75zM1030.25 575.25h26v26h-26zM1030.25 575.25h26v22.75h-26zM1030.25 572h26v26h-26zM1033.5 572h22.75v26h-22.75zM1033.5 572h22.75v22.75h-22.75zM1033.5 572h26v22.75h-26zM1033.5 568.75h26v26h-26zM1033.5 568.75h26v22.75h-26zM1036.75 565.5h22.75v26h-22.75zM1036.75 565.5h26v26h-26zM1036.75 565.5h26v22.75h-26zM1036.75 562.25h26v26h-26zM1040 562.25h22.75v26h-22.75zM1040 562.25h26v22.75h-26zM1040 559h26v26h-26zM1043.25 559h22.75v22.75h-22.75zM1043.25 555.75h26v26h-26zM1046.5 555.75h22.75v22.75h-22.75zM1046.5 552.5h22.75v26h-22.75zM1046.5 552.5h26v26h-26zM1046.5 552.5h26v22.75h-26zM1049.75 549.25h22.75v26h-22.75zM1049.75 549.25h26v26h-26zM1049.75 549.25h26v22.75h-26zM1053 546h22.75v26h-22.75zM1053 546h26v26h-26zM1053 546h26v22.75h-26zM1056.25 542.75h22.75v26h-22.75zM1056.25 542.75h26v26h-26zM1056.25 542.75h26v22.75h-26zM1059.5 539.5h22.75v26h-22.75zM1059.5 539.5h26v26h-26zM1059.5 539.5h26v22.75h-26zM1062.75 539.5h22.75v22.75h-22.75zM1062.75 536.25h22.75v26h-22.75zM1062.75 536.25h26v26h-26zM1062.75 536.25h26v22.75h-26zM1066 536.25h22.75v22.75h-22.75zM1066 533h26v26h-26zM1069.25 533h22.75v22.75h-22.75zM1069.25 533h26v22.75h-26zM1069.25 529.75h26v26h-26zM1072.5 529.75h22.75v26h-22.75zM1072.5 529.75h26v26h-26zM1072.5 529.75h26v22.75h-26zM1072.5 526.5h26v26h-26zM1075.75 526.5h22.75v26h-22.75zM1075.75 526.5h26v26h-26zM1075.75 526.5h26v22.75h-26zM1079 526.5h22.75v22.75h-22.75zM1079 523.25h26v26h-26zM1082.25 523.25h22.75v26h-22.75zM1082.25 523.25h26v22.75h-26zM1082.25 520h26v26h-26zM1085.5 520h22.75v26h-22.75zM1085.5 520h26v26h-26zM1085.5 520h26v22.75h-26zM1088.75 516.75h22.75v26h-22.75zM1088.75 516.75h26v26h-26zM1092 516.75h22.75v26h-22.75zM1092 516.75h26v22.75h-26zM1092 513.5h26v26h-26zM1095.25 513.5h22.75v26h-22.75zM1095.25 513.5h26v26h-26zM1098.5 513.5h22.75v22.75h-22.75zM1098.5 513.5h26v22.75h-26zM1098.5 510.25h26v26h-26zM1101.75 510.25h22.75v26h-22.75zM1101.75 510.25h26v26h-26zM1101.75 510.25h26v22.75h-26zM1105 507h22.75v26h-22.75zM1105 507h26v26h-26zM1108.25 507h22.75v26h-22.75zM1108.25 507h26v22.75h-26zM1111.5 503.75h22.75v26h-22.75zM1111.5 503.75h26v26h-26zM1114.75 503.75h22.75v22.75h-22.75zM1114.75 503.75h26v22.75h-26zM1114.75 500.5h26v26h-26zM1118 500.5h22.75v26h-22.75zM1118 500.5h26v26h-26zM1121.25 500.5h22.75v22.75h-22.75zM1121.25 500.5h26v22.75h-26zM1121.25 497.25h26v26h-26zM1124.5 497.25h22.75v26h-22.75zM1124.5 497.25h26v26h-26zM1127.75 497.25h22.75v22.75h-22.75zM1127.75 497.25h26v22.75h-26zM1127.75 494h26v26h-26zM1131 494h22.75v26h-22.75zM1131 494h26v26h-26zM1134.25 494h22.75v22.75h-22.75zM1134.25 494h26v22.75h-26zM1134.25 490.75h26v26h-26zM1137.5 490.75h22.75v26h-22.75zM1137.5 490.75h26v26h-26zM1140.75 490.75h22.75v26h-22.75zM1140.75 490.75h26v22.75h-26zM1140.75 487.5h26v26h-26zM1144 487.5h22.75v26h-22.75zM1144 487.5h26v26h-26zM1147.25 487.5h22.75v26h-22.75zM1147.25 487.5h26v26h-26zM1147.25 487.5h26v22.75h-26zM1150.5 484.25h22.75v26h-22.75zM1150.5 484.25h26v26h-26zM1153.75 484.25h22.75v26h-22.75zM1153.75 484.25h26v26h-26zM1153.75 484.25h26v22.75h-26zM1157 484.25h22.75v22.75h-22.75zM1157 481h26v26h-26zM1160.25 481h22.75v26h-22.75zM1160.25 481h26v26h-26zM1163.5 481h22.75v22.75h-22.75zM1163.5 481h26v22.75h-26zM1166.75 477.75h22.75v26h-22.75zM1166.75 477.75h26v26h-26zM1170 477.75h22.75v26h-22.75zM1170 477.75h26v26h-26zM1170 477.75h26v22.75h-26zM1173.25 477.75h22.75v22.75h-22.75zM1173.25 477.75h26v22.75h-26zM1173.25 474.5h26v26h-26zM1176.5 474.5h22.75v26h-22.75zM1176.5 474.5h26v26h-26zM1179.75 474.5h22.75v26h-22.75zM1179.75 474.5h26v22.75h-26zM1183 471.25h22.75v26h-22.75zM1183 471.25h26v26h-26zM1186.25 471.25h22.75v26h-22.75zM1186.25 471.25h26v26h-26zM1189.5 471.25h22.75v22.75h-22.75zM1189.5 471.25h26v22.75h-26zM1192.75 468h22.75v26h-22.75zM1192.75 468h26v26h-26zM1196 468h22.75v26h-22.75zM1196 468h26v26h-26zM1199.25 468h22.75v22.75h-22.75zM1199.25 468h26v22.75h-26zM1202.5 464.75h22.75v26h-22.75zM1202.5 464.75h26v26h-26zM1205.75 464.75h22.75v26h-22.75zM1205.75 464.75h26v26h-26zM1209 464.75h22.75v22.75h-22.75zM1209 464.75h26v22.75h-26zM1209 461.5h26v26h-26zM1212.25 461.5h22.75v26h-22.75zM1212.25 461.5h26v26h-26zM1215.5 461.5h22.75v26h-22.75zM1215.5 461.5h26v26h-26zM1215.5 461.5h26v22.75h-26zM1218.75 461.5h22.75v22.75h-22.75zM1218.75 461.5h26v22.75h-26zM1222 458.25h22.75v26h-22.75zM1222 458.25h26v26h-26zM1225.25 458.25h22.75v26h-22.75zM1225.25 458.25h26v26h-26zM1228.5 458.25h22.75v22.75h-22.75zM1228.5 458.25h26v22.75h-26zM1231.75 458.25h22.75v22.75h-22.75zM1231.75 455h26v26h-26zM1235 455h22.75v26h-22.75zM1235 455h26v26h-26zM1238.25 455h22.75v26h-22.75zM1238.25 455h26v26h-26zM1238.25 455h26v22.75h-26zM1241.5 455h22.75v22.75h-22.75zM1241.5 455h26v22.75h-26zM1241.5 451.75h26v26h-26zM1244.75 451.75h22.75v26h-22.75zM1244.75 451.75h26v26h-26zM1248 451.75h22.75v26h-22.75zM1248 451.75h26v26h-26zM1251.25 451.75h22.75v26h-22.75zM1251.25 451.75h22.75v22.75h-22.75zM1251.25 451.75h26v22.75h-26zM1254.5 448.5h22.75v26h-22.75zM1254.5 448.5h26v26h-26zM1257.75 448.5h22.75v26h-22.75zM1257.75 448.5h26v26h-26zM1261 448.5h22.75v26h-22.75zM1261 448.5h26v26h-26zM1261 448.5h26v22.75h-26zM1264.25 448.5h22.75v22.75h-22.75zM1264.25 448.5h26v22.75h-26zM1267.5 445.25h22.75v26h-22.75zM1267.5 445.25h26v26h-26zM1270.75 445.25h22.75v26h-22.75zM1270.75 445.25h26v26h-26zM1274 445.25h22.75v26h-22.75zM1274 445.25h26v26h-26zM1274 445.25h26v22.75h-26zM1277.25 445.25h22.75v22.75h-22.75zM1277.25 445.25h26v22.75h-26zM1277.25 442h26v26h-26zM1280.5 442h22.75v26h-22.75zM1280.5 442h26v26h-26zM1283.75 442h22.75v26h-22.75zM1283.75 442h26v26h-26zM1287 442h22.75v26h-22.75zM1287 442h26v26h-26zM1287 442h26v22.75h-26zM1290.25 442h22.75v22.75h-22.75zM1290.25 442h26v22.75h-26zM1290.25 438.75h26v26h-26zM1293.5 438.75h22.75v26h-22.75zM1293.5 438.75h26v26h-26zM1296.75 438.75h22.75v26h-22.75zM1296.75 438.75h26v26h-26zM1300 438.75h22.75v26h-22.75zM1300 438.75h26v26h-26zM1300 438.75h26v22.75h-26zM1303.25 438.75h22.75v22.75h-22.75zM1303.25 438.75h26v22.75h-26zM1303.25 435.5h26v26h-26zM1306.5 435.5h22.75v26h-22.75zM1306.5 435.5h26v26h-26zM1309.75 435.5h22.75v26h-22.75zM1309.75 435.5h26v26h-26zM1313 435.5h22.75v26h-22.75zM1313 435.5h26v26h-26zM1313 435.5h26v22.75h-26zM1316.25 435.5h22.75v22.75h-22.75zM1316.25 435.5h26v22.75h-26zM1319.5 435.5h22.75v22.75h-22.75zM1319.5 432.25h26v26h-26zM1322.75 432.25h22.75v26h-22.75zM1322.75 432.25h26v26h-26zM1326 432.25h22.75v26h-22.75zM1326 432.25h26v26h-26zM1329.25 432.25h22.75v26h-22.75zM1329.25 432.25h26v22.75h-26zM1332.5 432.25h22.75v22.75h-22.75zM1332.5 432.25h26v22.75h-26zM1335.75 429h22.75v26h-22.75zM1335.75 429h26v26h-26zM1339 429h22.75v26h-22.75zM1339 429h26v26h-26zM1342.25 429h22.75v26h-22.75zM1342.25 429h26v26h-26zM1345.5 429h22.75v26h-22.75zM1345.5 429h26v22.75h-26zM1348.75 429h22.75v22.75h-22.75zM1348.75 425.75h26v26h-26zM1352 425.75h22.75v26h-22.75zM1352 425.75h26v26h-26zM1355.25 425.75h22.75v26h-22.75zM1355.25 425.75h26v26h-26zM1358.5 425.75h22.75v26h-22.75zM1358.5 425.75h26v26h-26zM1358.5 425.75h26v22.75h-26zM1361.75 425.75h22.75v22.75h-22.75zM1361.75 425.75h26v22.75h-26zM1365 425.75h22.75v22.75h-22.75zM1365 422.5h26v26h-26zM1368.25 422.5h22.75v26h-22.75zM1368.25 422.5h26v26h-26zM1371.5 422.5h22.75v26h-22.75zM1371.5 422.5h26v26h-26zM1374.75 422.5h22.75v26h-22.75zM1374.75 422.5h26v26h-26zM1374.75 422.5h26v22.75h-26zM1378 422.5h22.75v22.75h-22.75zM1378 422.5h26v22.75h-26zM1381.25 422.5h22.75v22.75h-22.75zM1381.25 419.25h26v26h-26zM1384.5 419.25h22.75v26h-22.75zM1384.5 419.25h26v26h-26zM1387.75 419.25h22.75v26h-22.75zM1387.75 419.25h26v26h-26zM1391 419.25h22.75v26h-22.75zM1391 419.25h26v26h-26zM1394.25 419.25h22.75v22.75h-22.75zM1394.25 419.25h26v22.75h-26zM1397.5 419.25h22.75v22.75h-22.75zM1397.5 416h26v26h-26zM1400.75 416h22.75v26h-22.75zM1400.75 416h26v26h-26zM1404 416h22.75v26h-22.75zM1404 416h26v26h-26zM1407.25 416h22.75v26h-22.75zM1407.25 416h26v26h-26zM1410.5 416h22.75v26h-22.75zM1410.5 416h26v22.75h-26zM1413.75 416h22.75v22.75h-22.75zM1413.75 416h26v22.75h-26zM1417 412.75h22.75v26h-22.75zM1417 412.75h26v26h-26zM1420.25 412.75h22.75v26h-22.75zM1420.25 412.75h26v26h-26zM1423.5 412.75h22.75v26h-22.75zM1423.5 412.75h26v26h-26zM1426.75 412.75h22.75v26h-22.75zM1426.75 412.75h26v26h-26zM1426.75 412.75h26v22.75h-26zM1430 412.75h22.75v22.75h-22.75zM1430 412.75h26v22.75h-26zM1433.25 412.75h22.75v22.75h-22.75zM1433.25 412.75h26v22.75h-26zM1433.25 409.5h26v26h-26zM1436.5 409.5h22.75v26h-22.75zM1436.5 409.5h26v26h-26zM1439.75 409.5h22.75v26h-22.75zM1439.75 409.5h26v26h-26zM1443 409.5h22.75v26h-22.75zM1443 409.5h26v26h-26zM1446.25 409.5h22.75v26h-22.75zM1446.25 409.5h26v26h-26zM1446.25 409.5h26v22.75h-26zM1449.5 409.5h22.75v22.75h-22.75zM1449.5 409.5h26v22.75h-26zM1452.75 409.5h22.75v22.75h-22.75zM1452.75 406.25h26v26h-26zM1456 406.25h22.75v26h-22.75zM1456 406.25h26v26h-26zM1459.25 406.25h22.75v26h-22.75zM1459.25 406.25h26v26h-26zM1462.5 406.25h22.75v26h-22.75zM1462.5 406.25h26v26h-26zM1465.75 406.25h22.75v26h-22.75zM1465.75 406.25h26v22.75h-26zM1469 406.25h22.75v22.75h-22.75zM1469 406.25h26v22.75h-26zM1472.25 406.25h22.75v22.75h-22.75zM1472.25 403h26v26h-26zM1475.5 403h22.75v26h-22.75zM1475.5 403h26v26h-26zM1478.75 403h22.75v26h-22.75zM1478.75 403h26v26h-26zM1482 403h22.75v26h-22.75zM1482 403h26v26h-26zM1485.25 403h22.75v26h-22.75zM1485.25 403h26v22.75h-26zM1488.5 403h22.75v22.75h-22.75zM1488.5 403h26v22.75h-26zM1491.75 403h22.75v22.75h-22.75zM1491.75 403h26v22.75h-26zM1491.75 399.75h26v26h-26zM1495 399.75h22.75v26h-22.75zM1495 399.75h26v26h-26zM1498.25 399.75h22.75v26h-22.75zM1498.25 399.75h26v26h-26zM1501.5 399.75h22.75v26h-22.75zM1501.5 399.75h26v26h-26zM1504.75 399.75h22.75v26h-22.75zM1504.75 399.75h26v26h-26zM1504.75 399.75h26v22.75h-26zM1508 399.75h22.75v22.75h-22.75zM1508 399.75h26v22.75h-26zM1511.25 399.75h22.75v22.75h-22.75zM1511.25 399.75h26v22.75h-26zM1514.5 396.5h22.75v26h-22.75zM1514.5 396.5h26v26h-26zM1517.75 396.5h22.75v26h-22.75zM1517.75 396.5h26v26h-26zM1521 396.5h22.75v26h-22.75zM1521 396.5h26v26h-26zM1524.25 396.5h22.75v26h-22.75zM1524.25 396.5h26v26h-26zM1527.5 396.5h22.75v26h-22.75zM1527.5 396.5h26v26h-26zM1527.5 396.5h26v22.75h-26zM1530.75 396.5h22.75v22.75h-22.75zM1530.75 396.5h26v22.75h-26zM1534 396.5h22.75v22.75h-22.75zM1534 393.25h26v26h-26zM1537.25 393.25h22.75v26h-22.75zM1537.25 393.25h26v26h-26zM1540.5 393.25h22.75v26h-22.75zM1540.5 393.25h26v26h-26zM1543.75 393.25h22.75v26h-22.75zM1543.75 393.25h26v26h-26zM1547 393.25h22.75v26h-22.75zM1547 393.25h26v26h-26zM1550.25 393.25h22.75v26h-22.75zM1550.25 393.25h26v22.75h-26zM1553.5 393.25h22.75v22.75h-22.75zM1553.5 393.25h26v22.75h-26zM1556.75 393.25h22.75v22.75h-22.75zM1556.75 390h26v26h-26zM1560 390h22.75v26h-22.75zM1560 390h26v26h-26zM1563.25 390h22.75v26h-22.75zM1563.25 390h26v26h-26zM1566.5 390h22.75v26h-22.75zM1566.5 390h26v26h-26zM1569.75 390h22.75v26h-22.75zM1569.75 390h26v26h-26zM1573 390h22.75v26h-22.75zM1573 390h26v22.75h-26zM1576.25 390h22.75v22.75h-22.75zM1576.25 390h26v22.75h-26zM1579.5 390h22.75v22.75h-22.75zM1579.5 386.75h26v26h-26zM1582.75 386.75h22.75v26h-22.75zM1582.75 386.75h26v26h-26zM1586 386.75h22.75v26h-22.75zM1586 386.75h26v26h-26zM1589.25 386.75h22.75v26h-22.75zM1589.25 386.75h26v26h-26zM1592.5 386.75h22.75v26h-22.75zM1592.5 386.75h26v26h-26zM1595.75 386.75h22.75v26h-22.75zM1595.75 386.75h26v22.75h-26zM1599 386.75h22.75v22.75h-22.75zM1599 386.75h26v22.75h-26zM1602.25 386.75h22.75v22.75h-22.75zM1602.25 386.75h26v22.75h-26zM1602.25 383.5h26v26h-26zM1605.5 383.5h22.75v26h-22.75zM1605.5 383.5h26v26h-26zM1608.75 383.5h22.75v26h-22.75zM1608.75 383.5h26v26h-26zM1612 383.5h22.75v26h-22.75zM1612 383.5h26v26h-26zM1615.25 383.5h22.75v26h-22.75zM1615.25 383.5h26v26h-26zM1618.5 383.5h22.75v26h-22.75zM1618.5 383.5h26v26h-26zM1618.5 383.5h26v22.75h-26zM1621.75 383.5h22.75v22.75h-22.75zM1621.75 383.5h26v22.75h-26zM1625 383.5h22.75v22.75h-22.75zM1625 383.5h26v22.75h-26zM1628.25 380.25h22.75v26h-22.75zM1628.25 380.25h26v26h-26zM1631.5 380.25h22.75v26h-22.75zM1631.5 380.25h26v26h-26zM1634.75 380.25h22.75v26h-22.75zM1634.75 380.25h26v26h-26zM1638 380.25h22.75v26h-22.75zM1638 380.25h26v26h-26zM1641.25 380.25h22.75v26h-22.75zM1641.25 380.25h26v26h-26zM1644.5 380.25h22.75v26h-22.75zM1644.5 380.25h26v26h-26zM1644.5 380.25h26v22.75h-26zM1647.75 380.25h22.75v22.75h-22.75zM1647.75 380.25h26v22.75h-26zM1651 380.25h22.75v22.75h-22.75zM1651 380.25h26v22.75h-26zM1654.25 377h22.75v26h-22.75zM1654.25 377h26v26h-26zM1657.5 377h22.75v26h-22.75zM1657.5 377h26v26h-26zM1660.75 377h22.75v26h-22.75zM1660.75 377h26v26h-26zM1664 377h22.75v26h-22.75zM1664 377h26v26h-26zM1667.25 377h22.75v26h-22.75zM1667.25 377h26v26h-26zM1670.5 377h22.75v26h-22.75zM1670.5 377h26v22.75h-26zM1673.75 377h22.75v22.75h-22.75zM1673.75 377h26v22.75h-26zM1677 377h22.75v22.75h-22.75zM1677 377h26v22.75h-26zM1680.25 373.75h22.75v26h-22.75zM1680.25 373.75h26v26h-26zM1683.5 373.75h22.75v26h-22.75zM1683.5 373.75h26v26h-26zM1686.75 373.75h22.75v26h-22.75zM1686.75 373.75h26v26h-26zM1690 373.75h22.75v26h-22.75zM1690 373.75h26v26h-26zM1693.25 373.75h22.75v26h-22.75zM1693.25 373.75h26v26h-26zM1696.5 373.75h22.75v26h-22.75zM1696.5 373.75h26v26h-26zM1696.5 373.75h26v22.75h-26zM1699.75 373.75h22.75v22.75h-22.75zM1699.75 373.75h26v22.75h-26zM1703 373.75h22.75v22.75h-22.75zM1703 373.75h26v22.75h-26zM1706.25 373.75h22.75v22.75h-22.75zM1706.25 370.5h26v26h-26zM1709.5 370.5h22.75v26h-22.75zM1709.5 370.5h26v26h-26zM1712.75 370.5h22.75v26h-22.75zM1712.75 370.5h26v26h-26zM1716 370.5h22.75v26h-22.75zM1716 370.5h26v26h-26zM1719.25 370.5h22.75v26h-22.75zM1719.25 370.5h26v26h-26zM1722.5 370.5h22.75v26h-22.75zM1722.5 370.5h26v26h-26zM1725.75 370.5h22.75v26h-22.75zM1725.75 370.5h26v22.75h-26zM1729 370.5h22.75v22.75h-22.75zM1729 370.5h26v22.75h-26zM1732.25 370.5h22.75v22.75h-22.75zM1732.25 370.5h26v22.75h-26zM1735.5 367.25h22.75v26h-22.75zM1735.5 367.25h26v26h-26zM1738.75 367.25h22.75v26h-22.75zM1738.75 367.25h26v26h-26zM1742 367.25h22.75v26h-22.75zM1742 367.25h26v26h-26zM1745.25 367.25h22.75v26h-22.75zM1745.25 367.25h26v26h-26zM1748.5 367.25h22.75v26h-22.75zM1748.5 367.25h26v26h-26zM1751.75 367.25h22.75v26h-22.75zM1751.75 367.25h26v26h-26zM1755 367.25h22.75v22.75h-22.75zM1755 367.25h26v22.75h-26zM1758.25 367.25h22.75v22.75h-22.75zM1758.25 367.25h26v22.75h-26zM1761.5 367.25h22.75v22.75h-22.75zM1761.5 367.25h26v22.75h-26zM1761.5 364h26v26h-26zM1764.75 364h22.75v26h-22.75zM1764.75 364h26v26h-26zM1768 364h22.75v26h-22.75zM1768 364h26v26h-26zM1771.25 364h22.75v26h-22.75zM1771.25 364h26v26h-26zM1774.5 364h22.75v26h-22.75zM1774.5 364h26v26h-26zM1777.75 364h22.75v26h-22.75zM1777.75 364h26v26h-26zM1781 364h22.75v26h-22.75zM1781 364h26v26h-26zM1784.25 364h22.75v22.75h-22.75zM1784.25 364h26v22.75h-26zM1787.5 364h22.75v22.75h-22.75zM1787.5 364h26v22.75h-26zM1790.75 364h22.75v22.75h-22.75zM1790.75 364h26v22.75h-26zM1794 360.75h22.75v26h-22.75zM1794 360.75h26v26h-26zM1797.25 360.75h22.75v26h-22.75zM1797.25 360.75h26v26h-26zM1800.5 360.75h22.75v26h-22.75zM1800.5 360.75h26v26h-26zM1803.75 360.75h22.75v26h-22.75zM1803.75 360.75h26v26h-26zM1807 360.75h22.75v26h-22.75zM1807 360.75h26v26h-26zM1810.25 360.75h22.75v26h-22.75zM1810.25 360.75h26v26h-26zM1813.5 360.75h22.75v26h-22.75zM1813.5 360.75h26v22.75h-26zM1816.75 360.75h22.75v22.75h-22.75zM1816.75 360.75h26v22.75h-26zM1820 360.75h22.75v22.75h-22.75zM1820 360.75h26v22.75h-26zM1823.25 360.75h22.75v22.75h-22.75zM1823.25 360.75h26v22.75h-26zM1823.25 357.5h26v26h-26zM1826.5 357.5h22.75v26h-22.75zM1826.5 357.5h26v26h-26zM1829.75 357.5h22.75v26h-22.75zM1829.75 357.5h26v26h-26zM1833 357.5h22.75v26h-22.75zM1833 357.5h26v26h-26zM1836.25 357.5h22.75v26h-22.75zM1836.25 357.5h26v26h-26zM1839.5 357.5h22.75v26h-22.75zM1839.5 357.5h26v26h-26zM1842.75 357.5h22.75v26h-22.75zM1842.75 357.5h26v26h-26zM1846 357.5h22.75v26h-22.75zM1846 357.5h26v22.75h-26zM1849.25 357.5h22.75v22.75h-22.75zM1849.25 357.5h26v22.75h-26zM1852.5 357.5h22.75v22.75h-22.75zM1852.5 357.5h26v22.75h-26zM1855.75 357.5h22.75v22.75h-22.75zM1855.75 354.25h26v26h-26zM1859 354.25h22.75v26h-22.75zM1859 354.25h26v26h-26zM1862.25 354.25h22.75v26h-22.75zM1862.25 354.25h26v26h-26zM1865.5 354.25h22.75v26h-22.75zM1865.5 354.25h26v26h-26zM1868.75 354.25h22.75v26h-22.75zM1868.75 354.25h26v26h-26zM1872 354.25h22.75v26h-22.75zM1872 354.25h26v26h-26zM1875.25 354.25h22.75v26h-22.75zM1875.25 354.25h26v26h-26zM1878.5 354.25h22.75v22.75h-22.75zM1878.5 354.25h26v22.75h-26zM1881.75 354.25h22.75v22.75h-22.75zM1881.75 354.25h26v22.75h-26zM1885 354.25h22.75v22.75h-22.75zM1885 354.25h26v22.75h-26zM1888.25 354.25h22.75v22.75h-22.75zM1888.25 351h26v26h-26zM1891.5 351h22.75v26h-22.75zM1891.5 351h26v26h-26zM1894.75 351h22.75v26h-22.75zM1894.75 351h26v26h-26zM1898 351h22.75v26h-22.75zM1898 351h26v26h-26zM1901.25 351h22.75v26h-22.75zM1901.25 351h26v26h-26zM1904.5 351h22.75v26h-22.75zM1904.5 351h26v26h-26zM1907.75 351h22.75v26h-22.75zM1907.75 351h26v26h-26zM1911 351h22.75v26h-22.75zM1911 351h26v22.75h-26zM1914.25 351h22.75v22.75h-22.75zM1914.25 351h26v22.75h-26zM1917.5 351h22.75v22.75h-22.75zM1917.5 351h26v22.75h-26zM1920.75 351h22.75v22.75h-22.75zM1920.75 351h26v22.75h-26zM1920.75 347.75h26v26h-26zM1924 347.75h22.75v26h-22.75zM1924 347.75h26v26h-26zM1927.25 347.75h22.75v26h-22.75zM1927.25 347.75h26v26h-26zM1930.5 347.75h22.75v26h-22.75zM1930.5 347.75h26v26h-26zM1933.75 347.75h22.75v26h-22.75zM1933.75 347.75h26v26h-26zM1937 347.75h22.75v26h-22.75zM1937 347.75h26v26h-26zM1940.25 347.75h22.75v26h-22.75zM1940.25 347.75h26v26h-26zM1943.5 347.75h22.75v26h-22.75zM1943.5 347.75h26v26h-26zM1946.75 347.75h22.75v26h-22.75zM1946.75 347.75h26v22.75h-26zM1950 347.75h22.75v22.75h-22.75zM1950 347.75h26v22.75h-26zM1953.25 347.75h22.75v22.75h-22.75zM1953.25 347.75h26v22.75h-26zM1956.5 347.75h22.75v22.75h-22.75zM1956.5 347.75h26v22.75h-26zM1956.5 344.5h26v26h-26zM1959.75 344.5h22.75v26h-22.75zM1959.75 344.5h26v26h-26zM1963 344.5h22.75v26h-22.75zM1963 344.5h26v26h-26zM1966.25 344.5h22.75v26h-22.75zM1966.25 344.5h26v26h-26zM1969.5 344.5h22.75v26h-22.75zM1969.5 344.5h26v26h-26zM1972.75 344.5h22.75v26h-22.75zM1972.75 344.5h26v26h-26zM1976 344.5h22.75v26h-22.75zM1976 344.5h26v26h-26z"/>
<path fill="#800080" d="M256.75 1010.75h26v22.75h-26zM260 1010.75h22.75v22.75h-22.75zM260 1010.75h26v22.75h-26zM260 1007.5h26v26h-26zM263.25 1007.5h22.75v26h-22.75zM263.25 1007.5h26v26h-26zM266.5 1007.5h22.75v26h-22.75zM266.5 1007.5h26v26h-26zM269.75 1007.5h22.75v26h-22.75zM269.75 1007.5h26v26h-26zM273 1007.5h22.75v26h-22.75zM273 1007.5h26v26h-26zM276.25 1007.5h22.75v26h-22.75zM276.25 1007.5h26v26h-26zM276.25 1007.5h26v22.75h-26zM279.5 1007.5h22.75v22.75h-22.75zM279.5 1007.5h26v22.75h-26zM282.75 1007.5h22.75v22.75h-22.75zM282.75 1007.5h26v22.75h-26zM286 1007.5h22.75v22.75h-22.75zM286 1004.25h26v26h-26zM289.25 1004.25h22.75v26h-22.75zM289.25 1004.25h26v26h-26zM292.5 1004.25h22.75v26h-22.75zM292.5 1004.25h26v26h-26zM295.75 1004.25h22.75v26h-22.75zM295.75 1004.25h26v26h-26zM299 1004.25h22.75v26h-22.75zM299 1004.25h26v26h-26zM302.25 1004.25h22.75v26h-22.75zM302.25 1004.25h26v26h-26zM302.25 1004.25h26v22.75h-26zM305.5 1004.25h22.75v22.75h-22.75zM305.5 1004.25h26v22.75h-26zM308.75 1004.25h22.75v22.75h-22.75zM308.75 1004.25h26v22.75h-26zM312 1001h22.75v26h-22.75zM312 1001h26v26h-26zM315.25 1001h22.75v26h-22.75zM315.25 1001h26v26h-26zM318.5 1001h22.75v26h-22.75zM318.5 1001h26v26h-26zM321.75 1001h22.75v26h-22.75zM321.75 1001h26v26h-26zM325 1001h22.75v26h-22.75zM325 1001h26v26h-26zM328.25 1001h22.75v22.75h-22.75zM328.25 1001h26v22.75h-26zM331.5 1001h22.75v22.75h-22.75zM331.5 1001h26v22.75h-26zM334.75 1001h22.75v22.75h-22.75zM334.75 1001h26v22.75h-26zM334.75 997.75h26v26h-26zM338 997.75h22.75v26h-22.75zM338 997.75h26v26h-26zM341.25 997.75h22.75v26h-22.75zM341.25 997.75h26v26h-26zM344.5 997.75h22.75v26h-22.75zM344.5 997.75h26v26h-26zM347.75 997.75h22.75v26h-22.75zM347.75 997.75h26v26h-26zM351 997.75h22.75v26h-22.75zM351 997.75h26v22.75h-26zM354.25 997.75h22.75v22.75h-22.75zM354.25 997.75h26v22.75h-26zM357.5 997.75h22.75v22.75h-22.75zM357.5 997.75h26v22.75h-26zM360.75 994.5h22.75v26h-22.75zM360.75 994.5h26v26h-26zM364 994.5h22.75v26h-22.75zM364 994.5h26v26h-26zM367.25 994.5h22.75v26h-22.75zM367.25 994.5h26v26h-26zM370.5 994.5h22.75v26h-22.75zM370.5 994.5h26v26h-26zM373.75 994.5h22.75v26h-22.75zM373.75 994.5h26v26h-26zM373.75 994.5h26v22.75h-26zM377 994.5h22.75v22.75h-22.75zM377 994.5h26v22.75h-26zM380.25 994.5h22.75v22.75h-22.75zM380.25 994.5h26v22.75h-26zM383.5 991.25h22.75v26h-22.75zM383.5 991.25h26v26h-26zM386.75 991.25h22.75v26h-22.75zM386.75 991.25h26v26h-26zM390 991.25h22.75v26h-22.75zM390 991.25h26v26h-26zM393.25 991.25h22.75v26h-22.75zM393.25 991.25h26v26h-26zM396.5 991.25h22.75v26h-22.75zM396.5 991.25h26v26h-26zM396.5 991.25h26v22.75h-26zM399.75 991.25h22.75v22.75h-22.75zM399.75 991.25h26v22.75h-26zM403 991.25h22.75v22.75h-22.75zM403 991.25h26v22.75h-26zM406.25 988h22.75v26h-22.75zM406.25 988h26v26h-26zM409.5 988h22.75v26h-22.75zM409.5 988h26v26h-26zM412.75 988h22.75v26h-22.75zM412.75 988h26v26h-26zM416 988h22.75v26h-22.75zM416 988h26v26h-26zM419.25 988h22.75v26h-22.75zM419.25 988h26v22.75h-26zM422.5 988h22.75v22.75h-22.75zM422.5 988h26v22.75h-26zM425.75 988h22.75v22.75h-22.75zM425.75 988h26v22.75h-26zM425.75 984.75h26v26h-26zM429 984.75h22.75v26h-22.75zM429 984.75h26v26h-26zM432.25 984.75h22.75v26h-22.75zM432.25 984.75h26v26h-26zM435.5 984.75h22.75v26h-22.75zM435.5 984.75h26v26h-26zM438.75 984.75h22.75v26h-22.75zM438.75 984.75h26v26h-26zM442 984.75h22.75v22.75h-22.75zM442 984.75h26v22.75h-26zM445.25 984.75h22.75v22.75h-22.75zM445.25 984.75h26v22.75h-26zM448.5 981.5h22.75v26h-22.75zM448.5 981.5h26v26h-26zM451.75 981.5h22.75v26h-22.75zM451.75 981.5h26v26h-26zM455 981.5h22.75v26h-22.75zM455 981.5h26v26h-26zM458.25 981.5h22.75v26h-22.75zM458.25 981.5h26v26h-26zM461.5 981.5h22.75v26h-22.75zM461.5 981.5h26v26h-26zM461.5 981.5h26v22.75h-26zM464.75 981.5h22.75v22.75h-22.75zM464.75 981.5h26v22.75h-26zM468 981.5h22.75v22.75h-22.75zM468 978.25h26v26h-26zM471.25 978.25h22.75v26h-22.75zM471.25 978.25h26v26h-26zM474.5 978.25h22.75v26h-22.75zM474.5 978.25h26v26h-26zM477.75 978.25h22.75v26h-22.75zM477.75 978.25h26v26h-26zM481 978.25h22.75v26h-22.75zM481 978.25h26v26h-26zM484.25 978.25h22.75v22.75h-22.75zM484.25 978.25h26v22.75h-26zM487.5 978.25h22.75v22.75h-22.75zM487.5 978.25h26v22.75h-26zM487.5 975h26v26h-26zM490.75 975h22.75v26h-22.75zM490.75 975h26v26h-26zM494 975h22.75v26h-22.75zM494 975h26v26h-26zM497.25 975h22.75v26h-22.75zM497.25 975h26v26h-26zM500.5 975h22.75v26h-22.75zM500.5 975h26v26h-26zM503.75 975h22.75v22.75h-22.75zM503.75 975h26v22.75h-26zM507 975h22.75v22.75h-22.75zM507 975h26v22.75h-26zM507 971.75h26v26h-26zM510.25 971.75h22.75v26h-22.75zM510.25 971.75h26v26h-26zM513.5 971.75h22.75v26h-22.75zM513.5 971.75h26v26h-26zM516.75 971.75h22.75v26h-22.75zM516.75 971.75h26v26h-26zM520 971.75h22.75v26h-22.75zM520 971.75h26v26h-26zM520 971.75h26v22.75h-26zM523.25 971.75h22.75v22.75h-22.75zM523.25 971.75h26v22.75h-26zM526.5 971.75h22.75v22.75h-22.75zM526.5 971.75h26v22.75h-26zM526.5 968.5h26v26h-26zM529.75 968.5h22.75v26h-22.75zM529.75 968.5h26v26h-26zM533 968.5h22.75v26h-22.75zM533 968.5h26v26h-26zM536.25 968.5h22.75v26h-22.75zM536.25 968.5h26v26h-26zM539.5 968.5h22.75v26h-22.75zM539.5 968.5h26v26h-26zM539.5 968.5h26v22.75h-26zM542.75 968.5h22.75v22.75h-22.75zM542.75 968.5h26v22.75h-26zM546 968.5h22.75v22.75h-22.75zM546 965.25h26v26h-26zM549.25 965.25h22.75v26h-22.75zM549.25 965.25h26v26h-26zM552.5 965.25h22.75v26h-22.75zM552.5 965.25h26v26h-26zM555.75 965.25h22.75v26h-22.75zM555.75 965.25h26v26h-26zM559 965.25h22.75v26h-22.75zM559 965.25h26v22.75h-26zM562.25 965.25h22.75v22.75h-22.75zM562.25 965.25h26v22.75h-26zM565.5 962h22.75v26h-22.75zM565.5 962h26v26h-26zM568.75 962h22.75v26h-22.75zM568.75 962h26v26h-26zM572 962h22.75v26h-22.75zM572 962h26v26h-26zM575.25 962h22.75v26h-22.75zM575.25 962h26v26h-26zM575.25 962h26v22.75h-26zM578.5 962h22.75v22.75h-22.75zM578.5 962h26v22.75h-26zM581.75 962h22.75v22.75h-22.75zM581.75 962h26v22.75h-26zM581.75 958.75h26v26h-26zM585 958.75h22.75v26h-22.75zM585 958.75h26v26h-26zM588.25 958.75h22.75v26h-22.75zM588.25 958.75h26v26h-26zM591.5 958.75h22.75v26h-22.75zM591.5 958.75h26v26h-26zM594.75 958.75h22.75v22.75h-22.75zM594.75 958.75h26v22.75h-26zM598 958.75h22.75v22.75h-22.75zM598 958.75h26v22.75h-26zM598 955.5h26v26h-26zM601.25 955.5h22.75v26h-22.75zM601.25 955.5h26v26h-26zM604.5 955.5h22.75v26h-22.75zM604.5 955.5h26v26h-26zM607.75 955.5h22.75v26h-22.75zM607.75 955.5h26v26h-26zM611 955.5h22.75v26h-22.75zM611 955.5h26v22.75h-26zM614.25 955.5h22.75v22.75h-22.75zM614.25 955.5h26v22.75h-26zM617.5 952.25h22.75v26h-22.75zM617.5 952.25h26v26h-26zM620.75 952.25h22.75v26h-22.75zM620.75 952.25h26v26h-26zM624 952.25h22.75v26h-22.75zM624 952.25h26v26h-26zM627.25 952.25h22.75v26h-22.75zM627.25 952.25h26v22.75h-26zM630.5 952.25h22.75v22.75h-22.75zM630.5 952.25h26v22.75h-26zM633.75 949h22.75v26h-22.75zM633.75 949h26v26h-26zM637 949h22.75v26h-22.75zM637 949h26v26h-26zM640.25 949h22.75v26h-22.75zM640.25 949h26v26h-26zM643.5 949h22.75v26h-22.75zM643.5 949h26v22.75h-26zM646.75 949h22.75v22.75h-22.75zM646.75 949h26v22.75h-26zM646.75 945.75h26v26h-26zM650 945.75h22.75v26h-22.75zM650 945.75h26v26h-26zM653.25 945.75h22.75v26h-22.75zM653.25 945.75h26v26h-26zM656.5 945.75h22.75v26h-22.75zM656.5 945.75h26v26h-26zM659.75 945.75h22.75v22.75h-22.75zM659.75 945.75h26v22.75h-26zM663 945.75h22.75v22.75h-22.75zM663 945.75h26v22.75h-26zM663 942.5h26v26h-26zM666.25 942.5h22.75v26h-22.75zM666.25 942.5h26v26h-26zM669.5 942.5h22.75v26h-22.75zM669.5 942.5h26v26h-26zM672.75 942.5h22.75v26h-22.75zM672.75 942.5h26v26h-26zM676 942.5h22.75v22.75h-22.75zM676 942.5h26v22.75h-26zM679.25 942.5h22.75v22.75h-22.75zM679.25 939.25h26v26h-26zM682.5 939.25h22.75v26h-22.75zM682.5 939.25h26v26h-26zM685.75 939.25h22.75v26h-22.75zM685.75 939.25h26v26h-26zM689 939.25h22.75v26h-22.75zM689 939.25h26v22.75h-26zM692.25 939.25h22.75v22.75h-22.75zM692.25 939.25h26v22.75h-26zM695.5 936h22.75v26h-22.75zM695.5 936h26v26h-26zM698.75 936h22.75v26h-22.75zM698.75 936h26v26h-26zM702 936h22.75v26h-22.75zM702 936h26v26h-26zM705.25 936h22.75v22.75h-22.75zM705.25 936h26v22.75h-26zM708.5 932.75h22.75v26h-22.75zM708.5 932.75h26v26h-26zM711.75 932.75h22.75v26h-22.75zM711.75 932.75h26v26h-26zM715 932.75h22.75v26h-22.75zM715 932.75h26v26h-26zM718.25 932.75h22.75v22.75h-22.75zM718.25 932.75h26v22.75h-26zM721.5 932.75h22.75v22.75h-22.75zM721.5 932.75h26v22.75h-26zM721.5 929.5h26v26h-26zM724.75 929.5h22.75v26h-22.75zM724.75 929.5h26v26h-26zM728 929.5h22.75v26h-22.75zM728 929.5h26v26h-26zM731.25 929.5h22.75v26h-22.75zM731.25 929.5h26v22.75h-26zM734.5 929.5h22.75v22.75h-22.75zM734.5 929.5h26v22.75h-26zM734.5 926.25h26v26h-26zM737.75 926.25h22.75v26h-22.75zM737.75 926.25h26v26h-26zM741 926.25h22.75v26h-22.75zM741 926.25h26v26h-26zM744.25 926.25h22.75v26h-22.75zM744.25 926.25h26v22.75h-26zM747.5 926.25h22.75v22.75h-22.75zM747.5 926.25h26v22.75h-26zM747.5 923h26v26h-26zM750.75 923h22.75v26h-22.75zM750.75 923h26v26h-26zM754 923h22.75v26h-22.75zM754 923h26v26h-26zM757.25 923h22.75v26h-22.75zM757.25 923h26v22.75h-26zM760.5 923h22.75v22.75h-22.75zM760.5 923h26v22.75h-26zM760.5 919.75h26v26h-26zM763.75 919.75h22.75v26h-22.75zM763.75 919.75h26v26h-26zM767 919.75h22.75v26h-22.75zM767 919.75h26v26h-26zM770.25 919.75h22.75v26h-22.75zM770.25 919.75h26v22.75h-26zM773.5 919.75h22.75v22.75h-22.75zM773.5 916.5h26v26h-26zM776.75 916.5h22.75v26h-22.75zM776.75 916.5h26v26h-26zM780 916.5h22.75v26h-22.75zM780 916.5h26v26h-26zM783.25 916.5h22.75v22.75h-22.75zM783.25 916.5h26v22.75h-26zM786.5 916.5h22.75v22.75h-22.75zM786.5 913.25h26v26h-26zM789.75 913.25h22.75v26h-22.75zM789.75 913.25h26v26h-26zM793 913.25h22.75v26h-22.75zM793 913.25h26v26h-26zM793 913.25h26v22.75h-26zM796.25 913.25h22.75v22.75h-22.75zM796.25 913.25h26v22.75h-26zM796.25 910h26v26h-26zM799.5 910h22.75v26h-22.75zM799.5 910h26v26h-26zM802.75 910h22.75v26h-22.75zM802.75 910h26v26h-26zM806 910h22.75v26h-22.75zM806 910h26v22.75h-26zM809.25 910h22.75v22.75h-22.75zM809.25 906.75h26v26h-26zM812.5 906.75h22.75v26h-22.75zM812.5 906.75h26v26h-26zM815.75 906.75h22.75v26h-22.75zM815.75 906.75h26v26h-26zM815.75 906.75h26v22.75h-26zM819 906.75h22.75v22.75h-22.75zM819 906.75h26v22.75h-26zM819 903.5h26v26h-26zM822.25 903.5h22.75v26h-22.75zM822.25 903.5h26v26h-26zM825.5 903.5h22.75v26h-22.75zM825.5 903.5h26v26h-26zM828.75 903.5h22.75v22.75h-22.75zM828.75 903.5h26v22.75h-26zM832 900.25h22.75v26h-22.75zM832 900.25h26v26h-26zM835.25 900.25h22.75v26h-22.75zM835.25 900.25h26v26h-26zM838.5 900.25h22.75v26h-22.75zM838.5 900.25h26v22.75h-26zM841.75 900.25h22.75v22.75h-22.75zM841.75 897h26v26h-26zM845 897h22.75v26h-22.75zM845 897h26v26h-26zM848.25 897h22.75v26h-22.75zM848.25 897h26v22.75h-26zM851.5 897h22.75v22.75h-22.75zM851.5 893.75h26v26h-26zM854.75 893.75h22.75v26h-22.75zM854.75 893.75h26v26h-26zM858 893.75h22.75v26h-22.75zM858 893.75h26v22.75h-26zM861.25 893.75h22.75v22.75h-22.75zM861.25 893.75h26v22.75h-26zM861.25 890.5h26v26h-26zM864.5 890.5h22.75v26h-22.75zM864.5 890.5h26v26h-26zM867.75 890.5h22.75v26h-22.75zM867.75 890.5h26v26h-26zM867.75 890.5h26v22.75h-26zM871 890.5h22.75v22.75h-22.75zM871 887.25h26v26h-26zM874.25 887.25h22.75v26h-22.75zM874.25 887.25h26v26h-26zM877.5 887.25h22.75v26h-22.75zM877.5 887.25h26v22.75h-26zM880.75 884h22.75v26h-22.75zM880.75 884h26v26h-26zM884 884h22.75v26h-22.75zM884 884h26v26h-26zM887.25 884h22.75v22.75h-22.75zM887.25 884h26v22.75h-26zM890.5 880.75h22.75v26h-22.75zM890.5 880.75h26v26h-26zM893.75 880.75h22.75v26h-22.75zM893.75 880.75h26v26h-26zM893.75 880.75h26v22.75h-26zM897 880.75h22.75v22.75h-22.75zM897 880.75h26v22.75h-26zM897 877.5h26v26h-26zM900.25 877.5h22.75v26h-22.75zM900.25 877.5h26v26h-26zM903.5 877.5h22.75v26h-22.75zM903.5 877.5h26v22.75h-26zM906.75 874.25h22.75v26h-22.75zM906.75 874.25h26v26h-26zM910 874.25h22.75v26h-22.75zM910 874.25h26v26h-26zM910 874.25h26v22.75h-26zM913.25 874.25h22.75v22.75h-22.75zM913.25 874.25h26v22.75h-26zM913.25 871h26v26h-26zM916.5 871h22.75v26h-22.75zM916.5 871h26v26h-26zM919.75 871h22.75v26h-22.75zM919.75 871h26v22.75h-26zM923 867.75h22.75v26h-22.75zM923 867.75h26v26h-26zM926.25 867.75h22.75v26h-22.75zM926.25 867.75h26v26h-26zM926.25 867.75h26v22.75h-26zM929.5 867.75h22.75v22.75h-22.75zM929.5 867.75h26v22.75h-26zM929.5 864.5h26v26h-26zM932.75 864.5h22.75v26h-22.75zM932.75 864.5h26v26h-26zM936 864.5h22.75v22.75h-22.75zM936 864.5h26v22.75h-26zM936 861.25h26v26h-26zM939.25 861.25h22.75v26h-22.75zM939.25 861.25h26v26h-26zM942.5 861.25h22.75v26h-22.75zM942.5 861.25h22.75v22.75h-22.75zM942.5 861.25h26v22.75h-26zM942.5 858h26v26h-26zM945.75 858h22.75v26h-22.75zM945.75 858h26v26h-26zM949 858h22.75v26h-22.75zM949 858h26v22.75h-26zM952.25 854.75h22.75v26h-22.75zM952.25 854.75h26v26h-26zM955.5 854.75h22.75v26h-22.75zM955.5 854.75h26v22.75h-26zM955.5 851.5h26v26h-26zM958.75 851.5h22.75v26h-22.75zM958.75 851.5h26v26h-26zM962 851.5h22.75v26h-22.75zM962 851.5h26v22.75h-26zM962 848.25h26v26h-26zM965.25 848.25h22.75v26h-22.75zM965.25 848.25h26v26h-26zM968.5 848.25h22.75v22.75h-22.75zM968.5 848.25h26v22.75h-26zM968.5 845h26v26h-26zM971.75 845h22.75v26h-22.75zM971.75 845h26v26h-26zM975 845h22.75v22.75h-22.75zM975 845h26v22.75h-26zM975 841.75h26v26h-26zM978.25 841.75h22.75v26h-22.75zM978.25 841.75h26v26h-26zM978.25 841.75h26v22.75h-26zM981.5 838.5h22.75v26h-22.75zM981.5 838.5h26v26h-26zM984.75 838.5h22.75v26h-22.75zM984.75 838.5h22.75v22.75h-22.75zM984.75 838.5h26v22.75h-26zM984.75 835.25h26v26h-26zM988 835.25h22.75v26h-22.75zM988 835.25h26v26h-26zM988 835.25h26v22.75h-26zM991.25 835.25h22.75v22.75h-22.75zM991.25 832h26v26h-26zM994.5 832h22.75v26h-22.75zM994.5 832h26v22.75h-26zM994.5 828.75h26v26h-26zM997.75 828.75h22.75v26h-22.75zM997.75 828.75h26v26h-26zM997.75 828.75h26v22.75h-26zM1001 828.75h22.75v22.75h-22.75zM1001 825.5h26v26h-26zM1004.25 825.5h22.75v22.75h-22.75zM1004.25 825.5h26v22.75h-26zM1004.25 822.25h26v26h-26zM1007.5 822.25h22.75v26h-22.75zM1007.5 822.25h26v26h-26zM1007.5 822.25h26v22.75h-26zM1007.5 819h26v26h-26zM1010.75 819h22.75v26h-22.75zM1010.75 819h26v26h-26zM1010.75 819h26v22.75h-26zM1014 815.75h22.75v26h-22.75zM1014 815.75h26v26h-26zM1014 815.75h26v22.75h-26zM1017.25 812.5h22.75v26h-22.75zM1017.25 812.5h26v26h-26zM1020.5 812.5h22.75v22.75h-22.75zM1020.5 809.25h26v26h-26zM1020.5 809.25h26v22.75h-26zM1023.75 809.25h22.75v22.75h-22.75zM1023.75 806h26v26h-26zM1027 806h22.75v22.75h-22.75zM1027 802.75h22.75v26h-22.75zM1027 802.75h26v26h-26zM1030.25 802.75h22.75v22.75h-22.75zM1030.25 799.5h26v26h-26zM1030.25 799.5h26v22.75h-26zM1033.5 796.25h22.75v26h-22.75zM1033.5 796.25h26v26h-26zM1033.5 796.25h26v22.75h-26zM1033.5 793h26v26h-26zM1036.75 793h22.75v26h-22.75zM1036.75 793h26v22.75h-26zM1036.75 789.75h26v26h-26zM1040 789.75h22.75v26h-22.75zM1040 789.75h22.75v22.75h-22.75zM1040 789.75h26v22.75h-26zM1040 786.5h26v26h-26zM1040 786.5h26v22.75h-26zM1043.25 786.5h22.75v22.75h-22.75zM1043.25 783.25h22.75v26h-22.75zM1043.25 783.25h26v26h-26zM1043.25 783.25h26v22.75h-26zM1043.25 780h26v26h-26zM1046.5 780h22.75v26h-22.75zM1046.5 780h22.75v22.75h-22.75zM1046.5 776.75h26v26h-26zM1046.5 776.75h26v22.75h-26zM1046.5 773.5h26v26h-26zM1049.75 773.5h22.75v26h-22.75zM1049.75 773.5h22.75v22.75h-22.75zM1049.75 770.25h26v26h-26zM1049.75 770.25h26v22.75h-26zM1049.75 767h26v26h-26zM1053 767h22.75v26h-22.75zM1053 767h22.75v22.75h-22.75zM1053 763.75h26v26h-26zM1053 763.75h26v22.75h-26zM1053 760.5h26v26h-26zM1056.25 760.5h22.75v22.75h-22.75zM1056.25 757.25h22.75v26h-22.75zM1056.25 757.25h26v22.75h-26zM1056.25 754h26v26h-26zM1056.25 754h26v22.75h-26zM1056.25 750.75h26v26h-26zM1056.25 750.75h26v22.75h-26zM1056.25 747.5h26v26h-26zM1059.5 747.5h22.75v26h-22.75zM1059.5 747.5h22.75v22.75h-22.75zM1059.5 744.25h22.75v26h-22.75zM1059.5 744.25h22.75v22.75h-22.75zM1059.5 741h26v26h-26zM1059.5 741h26v22.75h-26zM1059.5 737.75h26v26h-26zM1059.5 737.75h26v22.75h-26zM1059.5 734.5h26v26h-26zM1059.5 734.5h26v22.75h-26zM1059.5 731.25h26v26h-26zM1059.5 731.25h26v22.75h-26zM1059.5 728h26v26h-26zM1059.5 728h26v22.75h-26zM1059.5 724.75h26v26h-26zM1059.5 724.75h26v22.75h-26zM1059.5 721.5h26v26h-26zM1059.5 721.5h26v22.75h-26zM1059.5 718.25h26v26h-26zM1059.5 718.25h26v22.75h-26zM1059.5 715h26v26h-26zM1059.5 715h26v22.75h-26zM1059.5 711.75h26v26h-26zM1059.5 711.75h26v22.75h-26zM1059.5 708.5h26v26h-26zM1059.5 708.5h26v22.75h-26zM1059.5 705.25h26v26h-26zM1059.5 705.25h26v22.75h-26zM1059.5 702h26v26h-26zM1059.5 702h26v22.75h-26zM1059.5 698.75h26v26h-26zM1059.5 698.75h26v22.75h-26zM1059.5 695.5h26v26h-26zM1059.5 695.5h26v22.75h-26zM1059.5 692.25h22.75v26h-22.75zM1059.5 692.25h22.75v22.75h-22.75zM1059.5 689h22.75v26h-22.75zM1056.25 689h26v22.75h-26zM1056.25 685.75h26v26h-26zM1056.25 685.75h26v22.75h-26zM1056.25 682.5h26v26h-26zM1056.25 682.5h26v22.75h-26zM1056.25 679.25h26v26h-26zM1056.25 679.25h26v22.75h-26zM1056.25 676h26v26h-26zM1056.25 676h26v22.75h-26zM1056.25 672.75h22.75v26h-22.75zM1056.25 672.75h22.75v22.75h-22.75zM1056.25 669.5h22.75v26h-22.75zM1053 669.5h26v26h-26zM1053 669.5h26v22.75h-26zM1053 666.25h26v26h-26zM1053 666.25h26v22.75h-26zM1053 663h26v26h-26zM1053 663h26v22.75h-26zM1053 659.75h26v26h-26zM1053 659.75h22.75v22.75h-22.75zM1053 656.5h22.75v26h-22.75zM1053 656.5h22.75v22.75h-22.75zM1053 653.25h22.75v26h-22.75zM1049.75 653.25h26v22.75h-26zM1049.75 650h26v26h-26zM1049.75 650h26v22.75h-26zM1049.75 646.75h26v26h-26zM1049.75 646.75h26v22.75h-26zM1049.75 643.5h26v26h-26zM1049.75 643.5h26v22.75h-26zM1049.75 640.25h26v26h-26zM1049.75 640.25h22.75v26h-22.75zM1049.75 640.25h22.75v22.75h-22.75zM1049.75 637h22.75v26h-22.75zM1049.75 637h22.75v22.75h-22.75zM1046.5 633.75h26v26h-26zM1046.5 633.75h26v22.75h-26zM1046.5 630.5h26v26h-26zM1046.5 630.5h26v22.75h-26zM1046.5 627.25h26v26h-26zM1046.5 627.25h26v22.75h-26zM1046.5 624h26v26h-26zM1046.5 624h26v22.75h-26zM1046.5 620.75h26v26h-26zM1046.5 620.75h26v22.75h-26zM1046.5 617.5h26v26h-26zM1046.5 617.5h22.75v22.75h-22.75zM1046.5 614.25h22.75v26h-22.75zM1046.5 614.25h22.75v22.75h-22.75zM1046.5 611h22.75v26h-22.75zM1046.5 611h22.75v22.75h-22.75zM1046.5 607.75h22.75v26h-22.75zM1046.5 607.75h22.75v22.75h-22.75zM1046.5 604.5h22.75v26h-22.75zM1046.5 604.5h22.75v22.75h-22.75zM1046.5 601.25h22.75v26h-22.75zM1046.5 601.25h22.75v22.75h-22.75zM1046.5 598h22.75v26h-22.75zM1046.5 598h22.75v22.75h-22.75zM1046.5 594.75h22.75v26h-22.75zM1046.5 594.75h22.75v22.75h-22.75zM1046.5 591.5h26v26h-26zM1046.5 591.5h26v22.75h-26zM1046.5 588.25h26v26h-26zM1046.5 588.25h26v22.75h-26zM1046.5 585h26v26h-26zM1046.5 585h26v22.75h-26zM1046.5 581.75h26v26h-26zM1046.5 581.75h26v22.75h-26zM1046.5 578.5h26v26h-26zM1049.75 578.5h22.75v26h-22.75zM1049.75 578.5h22.75v22.75h-22.75zM1049.75 575.25h22.75v26h-22.75zM1049.75 575.25h26v22.75h-26zM1049.75 572h26v26h-26zM1049.75 572h26v22.75h-26zM1049.75 568.75h26v26h-26zM1053 568.75h22.75v22.75h-22.75zM1053 565.5h22.75v26h-22.75zM1053 565.5h26v22.75h-26zM1053 562.25h26v26h-26zM1053 562.25h26v22.75h-26zM1053 559h26v26h-26zM1056.25 559h22.75v26h-22.75zM1056.25 559h22.75v22.75h-22.75zM1056.25 559h26v22.75h-26zM1056.25 555.75h26v26h-26zM1056.25 555.75h26v22.75h-26zM1056.25 552.5h26v26h-26zM1059.5 552.5h22.75v26h-22.75zM1059.5 552.5h26v22.75h-26zM1059.5 549.25h26v26h-26zM1062.75 549.25h22.75v22.75h-22.75zM1062.75 546h22.75v26h-22.75zM1062.75 546h26v26h-26zM1062.75 546h26v22.75h-26zM1062.75 542.75h26v26h-26zM1066 542.75h22.75v26h-22.75zM1066 542.75h26v26h-26zM1066 542.75h26v22.75h-26zM1066 539.5h26v26h-26zM1069.25 539.5h22.75v26h-22.75zM1069.25 539.5h22.75v22.75h-22.75zM1069.25 536.25h26v26h-26zM1072.5 536.25h22.75v22.75h-22.75zM1072.5 533h22.75v26h-22.75zM1072.5 533h26v26h-26zM1072.5 533h26v22.75h-26zM1075.75 533h22.75v22.75h-22.75zM1075.75 529.75h26v26h-26zM1075.75 529.75h26v22.75h-26zM1079 526.5h22.75v26h-22.75zM1079 526.5h26v26h-26zM1079 526.5h26v22.75h-26zM1082.25 526.5h22.75v22.75h-22.75zM1082.25 523.25h22.75v26h-22.75zM1082.25 523.25h26v26h-26zM1082.25 523.25h26v22.75h-26zM1085.5 523.25h22.75v22.75h-22.75zM1085.5 520h26v26h-26zM1088.75 520h22.75v22.75h-22.75zM1088.75 520h26v22.75h-26zM1088.75 516.75h26v26h-26zM1092 516.75h22.75v26h-22.75zM1092 516.75h26v22.75h-26zM1092 513.5h26v26h-26zM1095.25 513.5h22.75v26h-22.75zM1095.25 513.5h26v26h-26zM1095.25 513.5h26v22.75h-26zM1098.5 510.25h22.75v26h-22.75zM1098.5 510.25h26v26h-26zM1101.75 510.25h22.75v22.75h-22.75zM1101.75 507h26v26h-26zM1105 507h22.75v26h-22.75zM1105 507h26v22.75h-26zM1108.25 503.75h22.75v26h-22.75zM1108.25 503.75h26v26h-26zM1111.5 503.75h22.75v22.75h-22.75zM1111.5 500.5h26v26h-26zM1114.75 500.5h22.75v26h-22.75zM1114.75 500.5h26v26h-26zM1114.75 500.5h26v22.75h-26zM1118 497.25h22.75v26h-22.75zM1118 497.25h26v26h-26zM1121.25 497.25h22.75v22.75h-22.75zM1121.25 497.25h26v22.75h-26zM1121.25 494h26v26h-26zM1124.5 494h22.75v26h-22.75zM1124.5 494h26v26h-26zM1124.5 494h26v22.75h-26zM1127.75 494h22.75v22.75h-22.75zM1127.75 490.75h26v26h-26zM1131 490.75h22.75v26h-22.75zM1131 490.75h26v26h-26zM1131 490.75h26v22.75h-26zM1134.25 487.5h22.75v26h-22.75zM1134.25 487.5h26v26h-26zM1137.5 487.5h22.75v26h-22.75zM1137.5 487.5h26v26h-26zM1137.5 487.5h26v22.75h-26zM1140.75 484.25h22.75v26h-22.75zM1140.75 484.25h26v26h-26zM1144 484.25h22.75v26h-22.75zM1144 484.25h26v22.75h-26zM1147.25 481h22.75v26h-22.75zM1147.25 481h26v26h-26zM1150.5 481h22.75v26h-22.75zM1150.5 481h26v26h-26zM1150.5 481h26v22.75h-26zM1153.75 481h22.75v22.75h-22.75zM1153.75 477.75h26v26h-26zM1157 477.75h22.75v26h-22.75zM1157 477.75h26v26h-26zM1157 477.75h26v22.75h-26zM1160.25 477.75h22.75v22.75h-22.75zM1160.25 474.5h26v26h-26zM1163.5 474.5h22.75v26h-22.75zM1163.5 474.5h26v26h-26zM1166.75 474.5h22.75v22.75h-22.75zM1166.75 474.5h26v22.75h-26zM1166.75 471.25h26v26h-26zM1170 471.25h22.75v26h-22.75zM1170 471.25h26v26h-26zM1173.25 471.25h22.75v26h-22.75zM1173.25 471.25h26v22.75h-26zM1176.5 471.25h22.75v22.75h-22.75zM1176.5 468h26v26h-26zM1179.75 468h22.75v26h-22.75zM1179.75 468h26v26h-26zM1183 468h22.75v22.75h-22.75zM1183 468h26v22.75h-26zM1183 464.75h26v26h-26zM1186.25 464.75h22.75v26h-22.75zM1186.25 464.75h26v26h-26zM1189.5 464.75h22.75v26h-22.75zM1189.5 464.75h26v26h-26zM1189.5 464.75h26v22.75h-26zM1192.75 464.75h22.75v22.75h-22.75zM1192.75 461.5h26v26h-26zM1196 461.5h22.75v26h-22.75zM1196 461.5h26v26h-26zM1199.25 461.5h22.75v22.75h-22.75zM1199.25 461.5h26v22.75h-26zM1202.5 458.25h22.75v26h-22.75zM1202.5 458.25h26v26h-26zM1205.75 458.25h22.75v26h-22.75zM1205.75 458.25h26v26h-26zM1209 458.25h22.75v22.75h-22.75zM1209 458.25h26v22.75h-26zM1212.25 458.25h22.75v22.75h-22.75zM1212.25 455h26v26h-26zM1215.5 455h22.75v26h-22.75zM1215.5 455h26v26h-26zM1218.75 455h22.75v26h-22.75zM1218.75 455h26v22.75h-26zM1222 451.75h22.75v26h-22.75zM1222 451.75h26v26h-26zM1225.25 451.75h22.75v26h-22.75zM1225.25 451.75h26v26h-26zM1228.5 451.75h22.75v26h-22.75zM1228.5 451.75h26v22.75h-26zM1231.75 451.75h22.75v22.75h-22.75zM1231.75 448.5h26v26h-26zM1235 448.5h22.75v26h-22.75zM1235 448.5h26v26h-26zM1238.25 448.5h22.75v26h-22.75zM1238.25 448.5h26v26h-26zM1238.25 448.5h26v22.75h-26zM1241.5 448.5h22.75v22.75h-22.75zM1241.5 448.5h26v22.75h-26zM1241.5 445.25h26v26h-26zM1244.75 445.25h22.75v26h-22.75zM1244.75 445.25h26v26h-26zM1248 445.25h22.75v26h-22.75zM1248 445.25h26v26h-26zM1251.25 445.25h22.75v22.75h-22.75zM1251.25 445.25h26v22.75h-26zM1254.5 445.25h22.75v22.75h-22.75zM1254.5 442h26v26h-26zM1257.75 442h22.75v26h-22.75zM1257.75 442h26v26h-26zM1261 442h22.75v26h-22.75zM1261 442h26v26h-26zM1261 442h26v22.75h-26zM1264.25 442h22.75v22.75h-22.75zM1264.25 442h26v22.75h-26zM1264.25 438.75h26v26h-26zM1267.5 438.75h22.75v26h-22.75zM1267.5 438.75h26v26h-26zM1270.75 438.75h22.75v26h-22.75zM1270.75 438.75h26v26h-26zM1274 438.75h22.75v26h-22.75zM1274 438.75h26v22.75h-26zM1277.25 438.75h22.75v22.75h-22.75zM1277.25 438.75h26v22.75h-26zM1277.25 435.5h26v26h-26zM1280.5 435.5h22.75v26h-22.75zM1280.5 435.5h26v26h-26zM1283.75 435.5h22.75v26h-22.75zM1283.75 435.5h26v26h-26zM1287 435.5h22.75v26h-22.75zM1287 435.5h26v22.75h-26zM1290.25 435.5h22.75v22.75h-22.75zM1290.25 435.5h26v22.75h-26zM1290.25 432.25h26v26h-26zM1293.5 432.25h22.75v26h-22.75zM1293.5 432.25h26v26h-26zM1296.75 432.25h22.75v26h-22.75zM1296.75 432.25h26v26h-26zM1300 432.25h22.75v26h-22.75zM1300 432.25h26v26h-26zM1300 432.25h26v22.75h-26zM1303.25 432.25h22.75v22.75h-22.75zM1303.25 432.25h26v22.75h-26zM1303.25 429h26v26h-26zM1306.5 429h22.75v26h-22.75zM1306.5 429h26v26h-26zM1309.75 429h22.75v26h-22.75zM1309.75 429h26v26h-26zM1313 429h22.75v26h-22.75zM1313 429h26v26h-26zM1313 429h26v22.75h-26zM1316.25 429h22.75v22.75h-22.75zM1316.25 429h26v22.75h-26zM1319.5 429h22.75v22.75h-22.75zM1319.5 425.75h26v26h-26zM1322.75 425.75h22.75v26h-22.75zM1322.75 425.75h26v26h-26zM1326 425.75h22.75v26h-22.75zM1326 425.75h26v26h-26zM1329.25 425.75h22.75v26h-22.75zM1329.25 425.75h26v22.75h-26zM1332.5 425.75h22.75v22.75h-22.75zM1332.5 425.75h26v22.75h-26zM1332.5 422.5h26v26h-26zM1335.75 422.5h22.75v26h-22.75zM1335.75 422.5h26v26h-26zM1339 422.5h22.75v26h-22.75zM1339 422.5h26v26h-26zM1342.25 422.5h22.75v26h-22.75zM1342.25 422.5h26v26h-26zM1342.25 422.5h26v22.75h-26zM1345.5 422.5h22.75v22.75h-22.75zM1345.5 422.5h26v22.75h-26zM1348.75 422.5h22.75v22.75h-22.75zM1348.75 419.25h26v26h-26zM1352 419.25h22.75v26h-22.75zM1352 419.25h26v26h-26zM1355.25 419.25h22.75v26h-22.75zM1355.25 419.25h26v26h-26zM1358.5 419.25h22.75v26h-22.75zM1358.5 419.25h26v26h-26zM1358.5 419.25h26v22.75h-26zM1361.75 419.25h22.75v22.75h-22.75zM1361.75 419.25h26v22.75h-26zM1365 416h22.75v26h-22.75zM1365 416h26v26h-26zM1368.25 416h22.75v26h-22.75zM1368.25 416h26v26h-26zM1371.5 416h22.75v26h-22.75zM1371.5 416h26v26h-26zM1374.75 416h22.75v26h-22.75zM1374.75 416h26v26h-26zM1374.75 416h26v22.75h-26zM1378 416h22.75v22.75h-22.75zM1378 416h26v22.75h-26zM1381.25 412.75h22.75v26h-22.75zM1381.25 412.75h26v26h-26zM1384.5 412.75h22.75v26h-22.75zM1384.5 412.75h26v26h-26zM1387.75 412.75h22.75v26h-22.75zM1387.75 412.75h26v26h-26zM1391 412.75h22.75v26h-22.75zM1391 412.75h26v26h-26zM1391 412.75h26v22.75h-26zM1394.25 412.75h22.75v22.75h-22.75zM1394.25 412.75h26v22.75h-26zM1397.5 412.75h22.75v22.75h-22.75zM1397.5 409.5h26v26h-26zM1400.75 409.5h22.75v26h-22.75zM1400.75 409.5h26v26h-26zM1404 409.5h22.75v26h-22.75zM1404 409.5h26v26h-26zM1407.25 409.5h22.75v26h-22.75zM1407.25 409.5h26v26h-26zM1410.5 409.5h22.75v22.75h-22.75zM1410.5 409.5h26v22.75h-26zM1413.75 409.5h22.75v22.75h-22.75zM1413.75 409.5h26v22.75h-26zM1413.75 406.25h26v26h-26zM1417 406.25h22.75v26h-22.75zM1417 406.25h26v26h-26zM1420.25 406.25h22.75v26h-22.75zM1420.25 406.25h26v26h-26zM1423.5 406.25h22.75v26h-22.75zM1423.5 406.25h26v26h-26zM1426.75 406.25h22.75v26h-22.75zM1426.75 406.25h26v26h-26zM1426.75 406.25h26v22.75h-26zM1430 406.25h22.75v22.75h-22.75zM1430 406.25h26v22.75h-26zM1433.25 406.25h22.75v22.75h-22.75zM1433.25 403h26v26h-26zM1436.5 403h22.75v26h-22.75zM1436.5 403h26v26h-26zM1439.75 403h22.75v26h-22.75zM1439.75 403h26v26h-26zM1443 403h22.75v26h-22.75zM1443 403h26v26h-26zM1446.25 403h22.75v26h-22.75zM1446.25 403h26v22.75h-26zM1449.5 403h22.75v22.75h-22.75zM1449.5 403h26v22.75h-26zM1452.75 403h22.75v22.75h-22.75zM1452.75 399.75h26v26h-26zM1456 399.75h22.75v26h-22.75zM1456 399.75h26v26h-26zM1459.25 399.75h22.75v26h-22.75zM1459.25 399.75h26v26h-26zM1462.5 399.75h22.75v26h-22.75zM1462.5 399.75h26v26h-26zM1465.75 399.75h22.75v26h-22.75zM1465.75 399.75h26v22.75h-26zM1469 399.75h22.75v22.75h-22.75zM1469 399.75h26v22.75h-26zM1472.25 396.5h22.75v26h-22.75zM1472.25 396.5h26v26h-26zM1475.5 396.5h22.75v26h-22.75zM1475.5 396.5h26v26h-26zM1478.75 396.5h22.75v26h-22.75zM1478.75 396.5h26v26h-26zM1482 396.5h22.75v26h-22.75zM1482 396.5h26v26h-26zM1485.25 396.5h22.75v26h-22.75zM1485.25 396.5h26v22.75h-26zM1488.5 396.5h22.75v22.75h-22.75zM1488.5 396.5h26v22.75h-26zM1491.75 396.5h22.75v22.75h-22.75zM1491.75 393.25h26v26h-26zM1495 393.25h22.75v26h-22.75zM1495 393.25h26v26h-26zM1498.25 393.25h22.75v26h-22.75zM1498.25 393.25h26v26h-26zM1501.5 393.25h22.75v26h-22.75zM1501.5 393.25h26v26h-26zM1504.75 393.25h22.75v26h-22.75zM1504.75 393.25h26v26h-26zM1504.75 393.25h26v22.75h-26zM1508 393.25h22.75v22.75h-22.75zM1508 393.25h26v22.75h-26zM1511.25 393.25h22.75v22.75h-22.75zM1511.25 393.25h26v22.75h-26zM1511.25 390h26v26h-26zM1514.5 390h22.75v26h-22.75zM1514.5 390h26v26h-26zM1517.75 390h22.75v26h-22.75zM1517.75 390h26v26h-26zM1521 390h22.75v26h-22.75zM1521 390h26v26h-26zM1524.25 390h22.75v26h-22.75zM1524.25 390h26v26h-26zM1527.5 390h22.75v26h-22.75zM1527.5 390h26v22.75h-26zM1530.75 390h22.75v22.75h-22.75zM1530.75 390h26v22.75h-26zM1534 390h22.75v22.75h-22.75zM1534 386.75h26v26h-26zM1537.25 386.75h22.75v26h-22.75zM1537.25 386.75h26v26h-26zM1540.5 386.75h22.75v26h-22.75zM1540.5 386.75h26v26h-26zM1543.75 386.75h22.75v26h-22.75zM1543.75 386.75h26v26h-26zM1547 386.75h22.75v26h-22.75zM1547 386.75h26v26h-26zM1550.25 386.75h22.75v22.75h-22.75zM1550.25 386.75h26v22.75h-26zM1553.5 386.75h22.75v22.75h-22.75zM1553.5 386.75h26v22.75h-26zM1556.75 383.5h22.75v26h-22.75zM1556.75 383.5h26v26h-26zM1560 383.5h22.75v26h-22.75zM1560 383.5h26v26h-26zM1563.25 383.5h22.75v26h-22.75zM1563.25 383.5h26v26h-26zM1566.5 383.5h22.75v26h-22.75zM1566.5 383.5h26v26h-26zM1569.75 383.5h22.75v26h-22.75zM1569.75 383.5h26v26h-26zM1573 383.5h22.75v26h-22.75zM1573 383.5h26v22.75h-26zM1576.25 383.5h22.75v22.75h-22.75zM1576.25 383.5h26v22.75h-26zM1579.5 383.5h22.75v22.75h-22.75zM1579.5 383.5h26v22.75h-26zM1579.5 380.25h26v26h-26zM1582.75 380.25h22.75v26h-22.75zM1582.75 380.25h26v26h-26zM1586 380.25h22.75v26h-22.75zM1586 380.25h26v26h-26zM1589.25 380.25h22.75v26h-22.75zM1589.25 380.25h26v26h-26zM1592.5 380.25h22.75v26h-22.75zM1592.5 380.25h26v26h-26zM1595.75 380.25h22.75v26h-22.75zM1595.75 380.25h26v26h-26zM1595.75 380.25h26v22.75h-26zM1599 380.25h22.75v22.75h-22.75zM1599 380.25h26v22.75h-26zM1602.25 380.25h22.75v22.75h-22.75zM1602.25 380.25h26v22.75h-26zM1602.25 377h26v26h-26zM1605.5 377h22.75v26h-22.75zM1605.5 377h26v26h-26zM1608.75 377h22.75v26h-22.75zM1608.75 377h26v26h-26zM1612 377h22.75v26h-22.75zM1612 377h26v26h-26zM1615.25 377h22.75v26h-22.75zM1615.25 377h26v26h-26zM1618.5 377h22.75v26h-22.75zM1618.5 377h26v26h-26zM1621.75 377h22.75v22.75h-22.75zM1621.75 377h26v22.75h-26zM1625 377h22.75v22.75h-22.75zM1625 377h26v22.75h-26zM1628.25 377h22.75v22.75h-22.75zM1628.25 373.75h26v26h-26zM1631.5 373.75h22.75v26h-22.75zM1631.5 373.75h26v26h-26zM1634.75 373.75h22.75v26h-22.75zM1634.75 373.75h26v26h-26zM1638 373.75h22.75v26h-22.75zM1638 373.75h26v26h-26zM1641.25 373.75h22.75v26h-22.75zM1641.25 373.75h26v26h-26zM1644.5 373.75h22.75v26h-22.75zM1644.5 373.75h26v26h-26zM1647.75 373.75h22.75v22.75h-22.75zM1647.75 373.75h26v22.75h-26zM1651 373.75h22.75v22.75h-22.75zM1651 373.75h26v22.75h-26zM1654.25 373.75h22.75v22.75h-22.75zM1654.25 370.5h26v26h-26zM1657.5 370.5h22.75v26h-22.75zM1657.5 370.5h26v26h-26zM1660.75 370.5h22.75v26h-22.75zM1660.75 370.5h26v26h-26zM1664 370.5h22.75v26h-22.75zM1664 370.5h26v26h-26zM1667.25 370.5h22.75v26h-22.75zM1667.25 370.5h26v26h-26zM1670.5 370.5h22.75v26h-22.75zM1670.5 370.5h26v26h-26zM1673.75 370.5h22.75v22.75h-22.75zM1673.75 370.5h26v22.75h-26zM1677 370.5h22.75v22.75h-22.75zM1677 370.5h26v22.75h-26zM1680.25 370.5h22.75v22.75h-22.75zM1680.25 370.5h26v22.75h-26zM1680.25 367.25h26v26h-26zM1683.5 367.25h22.75v26h-22.75zM1683.5 367.25h26v26h-26zM1686.75 367.25h22.75v26h-22.75zM1686.75 367.25h26v26h-26zM1690 367.25h22.75v26h-22.75zM1690 367.25h26v26h-26zM1693.25 367.25h22.75v26h-22.75zM1693.25 367.25h26v26h-26zM1696.5 367.25h22.75v26h-22.75zM1696.5 367.25h26v26h-26zM1699.75 367.25h22.75v26h-22.75zM1699.75 367.25h26v22.75h-26zM1703 367.25h22.75v22.75h-22.75zM1703 367.25h26v22.75h-26zM1706.25 367.25h22.75v22.75h-22.75zM1706.25 367.25h26v22.75h-26zM1709.5 364h22.75v26h-22.75zM1709.5 364h26v26h-26zM1712.75 364h22.75v26h-22.75zM1712.75 364h26v26h-26zM1716 364h22.75v26h-22.75zM1716 364h26v26h-26zM1719.25 364h22.75v26h-22.75zM1719.25 364h26v26h-26zM1722.5 364h22.75v26h-22.75zM1722.5 364h26v26h-26zM1725.75 364h22.75v26h-22.75zM1725.75 364h26v26h-26zM1729 364h22.75v22.75h-22.75zM1729 364h26v22.75h-26zM1732.25 364h22.75v22.75h-22.75zM1732.25 364h26v22.75h-26zM1735.5 364h22.75v22.75h-22.75zM1735.5 364h26v22.75h-26zM1735.5 360.75h26v26h-26zM1738.75 360.75h22.75v26h-22.75zM1738.75 360.75h26v26h-26zM1742 360.75h22.75v26h-22.75zM1742 360.75h26v26h-26zM1745.25 360.75h22.75v26h-22.75zM1745.25 360.75h26v26h-26zM1748.5 360.75h22.75v26h-22.75zM1748.5 360.75h26v26h-26zM1751.75 360.75h22.75v26h-22.75zM1751.75 360.75h26v26h-26zM1755 360.75h22.75v26h-22.75zM1755 360.75h26v26h-26zM1758.25 360.75h22.75v22.75h-22.75zM1758.25 360.75h26v22.75h-26zM1761.5 360.75h22.75v22.75h-22.75zM1761.5 360.75h26v22.75h-26zM1764.75 360.75h22.75v22.75h-22.75zM1764.75 360.75h26v22.75h-26zM1768 357.5h22.75v26h-22.75zM1768 357.5h26v26h-26zM1771.25 357.5h22.75v26h-22.75zM1771.25 357.5h26v26h-26zM1774.5 357.5h22.75v26h-22.75zM1774.5 357.5h26v26h-26zM1777.75 357.5h22.75v26h-22.75zM1777.75 357.5h26v26h-26zM1781 357.5h22.75v26h-22.75zM1781 357.5h26v26h-26zM1784.25 357.5h22.75v26h-22.75zM1784.25 357.5h26v26h-26zM1787.5 357.5h22.75v26h-22.75zM1787.5 357.5h26v22.75h-26zM1790.75 357.5h22.75v22.75h-22.75zM1790.75 357.5h26v22.75h-26zM1794 357.5h22.75v22.75h-22.75zM1794 357.5h26v22.75h-26zM1797.25 357.5h22.75v22.75h-22.75zM1797.25 354.25h26v26h-26zM1800.5 354.25h22.75v26h-22.75zM1800.5 354.25h26v26h-26zM1803.75 354.25h22.75v26h-22.75zM1803.75 354.25h26v26h-26zM1807 354.25h22.75v26h-22.75zM1807 354.25h26v26h-26zM1810.25 354.25h22.75v26h-22.75zM1810.25 354.25h26v26h-26zM1813.5 354.25h22.75v26h-22.75zM1813.5 354.25h26v26h-26zM1816.75 354.25h22.75v26h-22.75zM1816.75 354.25h26v26h-26zM1816.75 354.25h26v22.75h-26zM1820 354.25h22.75v22.75h-22.75zM1820 354.25h26v22.75h-26zM1823.25 354.25h22.75v22.75h-22.75zM1823.25 354.25h26v22.75h-26zM1826.5 354.25h22.75v22.75h-22.75zM1826.5 354.25h26v22.75h-26zM1829.75 351h22.75v26h-22.75zM1829.75 351h26v26h-26zM1833 351h22.75v26h-22.75zM1833 351h26v26h-26zM1836.25 351h22.75v26h-22.75zM1836.25 351h26v26h-26zM1839.5 351h22.75v26h-22.75zM1839.5 351h26v26h-26zM1842.75 351h22.75v26h-22.75zM1842.75 351h26v26h-26zM1846 351h22.75v26h-22.75zM1846 351h26v26h-26zM1849.25 351h22.75v26h-22.75zM1849.25 351h26v26h-26zM1852.5 351h22.75v22.75h-22.75zM1852.5 351h26v22.75h-26zM1855.75 351h22.75v22.75h-22.75zM1855.75 351h26v22.75h-26zM1859 351h22.75v22.75h-22.75zM1859 351h26v22.75h-26zM1862.25 347.75h22.75v26h-22.75zM1862.25 347.75h26v26h-26zM1865.5 347.75h22.75v26h-22.75zM1865.5 347.75h26v26h-26zM1868.75 347.75h22.75v26h-22.75zM1868.75 347.75h26v26h-26zM1872 347.75h22.75v26h-22.75zM1872 347.75h26v26h-26zM1875.25 347.75h22.75v26h-22.75zM1875.25 347.75h26v26h-26zM1878.5 347.75h22.75v26h-22.75zM1878.5 347.75h26v26h-26zM1881.75 347.75h22.75v26h-22.75zM1881.75 347.75h26v26h-26zM1885 347.75h22.75v22.75h-22.75zM1885 347.75h26v22.75h-26zM1888.25 347.75h22.75v22.75h-22.75zM1888.25 347.75h26v22.75h-26zM1891.5 347.75h22.75v22.75h-22.75zM1891.5 347.75h26v22.75h-26zM1894.75 347.75h22.75v22.75h-22.75zM1894.75 344.5h26v26h-26zM1898 344.5h22.75v26h-22.75zM1898 344.5h26v26h-26zM1901.25 344.5h22.75v26h-22.75zM1901.25 344.5h26v26h-26zM1904.5 344.5h22.75v26h-22.75zM1904.5 344.5h26v26h-26zM1907.75 344.5h22.75v26h-22.75zM1907.75 344.5h26v26h-26zM1911 344.5h22.75v26h-22.75zM1911 344.5h26v26h-26zM1914.25 344.5h22.75v26h-22.75zM1914.25 344.5h26v26h-26zM1917.5 344.5h22.75v26h-22.75zM1917.5 344.5h26v26h-26zM1917.5 344.5h26v22.75h-26zM1920.75 344.5h22.75v22.75h-22.75zM1920.75 344.5h26v22.75h-26zM1924 344.5h22.75v22.75h-22.75zM1924 344.5h26v22.75h-26zM1927.25 344.5h22.75v22.75h-22.75zM1927.25 344.5h26v22.75h-26zM1930.5 341.25h22.75v26h-22.75zM1930.5 341.25h26v26h-26zM1933.75 341.25h22.75v26h-22.75zM1933.75 341.25h26v26h-26zM1937 341.25h22.75v26h-22.75zM1937 341.25h26v26h-26zM1940.25 341.25h22.75v26h-22.75zM1940.25 341.25h26v26h-26zM1943.5 341.25h22.75v26h-22.75zM1943.5 341.25h26v26h-26zM1946.75 341.25h22.75v26h-22.75zM1946.75 341.25h26v26h-26zM1950 341.25h22.75v26h-22.75zM1950 341.25h26v26h-26zM1953.25 341.25h22.75v26h-22.75zM1953.25 341.25h26v26h-26zM1953.25 341.25h26v22.75h-26zM1956.5 341.25h22.75v22.75h-22.75zM1956.5 341.25h26v22.75h-26zM1959.75 341.25h22.75v22.75h-22.75zM1959.75 341.25h26v22.75h-26zM1963 341.25h22.75v22.75h-22.75zM1963 341.25h26v22.75h-26zM1966.25 338h22.75v26h-22.75zM1966.25 338h26v26h-26zM1969.5 338h22.75v26h-22.75zM1969.5 338h26v26h-26zM1972.75 338h22.75v26h-22.75zM1972.75 338h26v26h-26zM1976 338h22.75v26h-22.75zM1976 338h26v26h-26z"/>
<rect x="1044.5" y="610.3" width="26.5" height="5.6" fill="#fff" fill-opacity="1"/>
<rect x="1054" y="729.6" width="37" height="7.2" fill="#fff" fill-opacity="1"/>
<path fill="#ff0000" d="M256.75 1023.75h26v26h-26zM260 1023.75h22.75v26h-22.75zM260 1023.75h26v26h-26zM263.25 1023.75h22.75v26h-22.75zM263.25 1023.75h26v26h-26zM266.5 1023.75h22.75v26h-22.75zM266.5 1023.75h26v26h-26zM266.5 1023.75h26v22.75h-26zM269.75 1023.75h22.75v22.75h-22.75zM269.75 1023.75h26v22.75h-26zM273 1023.75h22.75v22.75h-22.75zM273 1023.75h26v22.75h-26zM276.25 1023.75h22.75v22.75h-22.75zM276.25 1020.5h26v26h-26zM279.5 1020.5h22.75v26h-22.75zM279.5 1020.5h26v26h-26zM282.75 1020.5h22.75v26h-22.75zM282.75 1020.5h26v26h-26zM286 1020.5h22.75v26h-22.75zM286 1020.5h26v26h-26zM289.25 1020.5h22.75v26h-22.75zM289.25 1020.5h26v26h-26zM292.5 1020.5h22.75v26h-22.75zM292.5 1020.5h26v26h-26zM295.75 1020.5h22.75v22.75h-22.75zM295.75 1020.5h26v22.75h-26zM299 1020.5h22.75v22.75h-22.75zM299 1020.5h26v22.75h-26zM302.25 1020.5h22.75v22.75h-22.75zM302.25 1020.5h26v22.75h-26zM305.5 1017.25h22.75v26h-22.75zM305.5 1017.25h26v26h-26zM308.75 1017.25h22.75v26h-22.75zM308.75 1017.25h26v26h-26zM312 1017.25h22.75v26h-22.75zM312 1017.25h26v26h-26zM315.25 1017.25h22.75v26h-22.75zM315.25 1017.25h26v26h-26zM318.5 1017.25h22.75v26h-22.75zM318.5 1017.25h26v26h-26zM321.75 1017.25h22.75v26h-22.75zM321.75 1017.25h26v26h-26zM321.75 1017.25h26v22.75h-26zM325 1017.25h22.75v22.75h-22.75zM325 1017.25h26v22.75h-26zM328.25 1017.25h22.75v22.75h-22.75zM328.25 1017.25h26v22.75h-26zM331.5 1014h22.75v26h-22.75zM331.5 1014h26v26h-26zM334.75 1014h22.75v26h-22.75zM334.75 1014h26v26h-26zM338 1014h22.75v26h-22.75zM338 1014h26v26h-26zM341.25 1014h22.75v26h-22.75zM341.25 1014h26v26h-26zM344.5 1014h22.75v26h-22.75zM344.5 1014h26v26h-26zM347.75 1014h22.75v26h-22.75zM347.75 1014h26v26h-26zM347.75 1014h26v22.75h-26zM351 1014h22.75v22.75h-22.75zM351 1014h26v22.75h-26zM354.25 1014h22.75v22.75h-22.75zM354.25 1014h26v22.75h-26zM357.5 1010.75h22.75v26h-22.75zM357.5 1010.75h26v26h-26zM360.75 1010.75h22.75v26h-22.75zM360.75 1010.75h26v26h-26zM364 1010.75h22.75v26h-22.75zM364 1010.75h26v26h-26zM367.25 1010.75h22.75v26h-22.75zM367.25 1010.75h26v26h-26zM370.5 1010.75h22.75v26h-22.75zM370.5 1010.75h26v26h-26zM373.75 1010.75h22.75v26h-22.75zM373.75 1010.75h26v26h-26zM373.75 1010.75h26v22.75h-26zM377 1010.75h22.75v22.75h-22.75zM377 1010.75h26v22.75h-26zM380.25 1010.75h22.75v22.75h-22.75zM380.25 1010.75h26v22.75h-26zM383.5 1007.5h22.75v26h-22.75zM383.5 1007.5h26v26h-26zM386.75 1007.5h22.75v26h-22.75zM386.75 1007.5h26v26h-26zM390 1007.5h22.75v26h-22.75zM390 1007.5h26v26h-26zM393.25 1007.5h22.75v26h-22.75zM393.25 1007.5h26v26h-26zM396.5 1007.5h22.75v26h-22.75zM396.5 1007.5h26v26h-26zM399.75 1007.5h22.75v26h-22.75zM399.75 1007.5h26v26h-26zM399.75 1007.5h26v22.75h-26zM403 1007.5h22.75v22.75h-22.75zM403 1007.5h26v22.75h-26zM406.25 1007.5h22.75v22.75h-22.75zM406.25 1007.5h26v22.75h-26zM406.25 1004.25h26v26h-26zM409.5 1004.25h22.75v26h-22.75zM409.5 1004.25h26v26h-26zM412.75 1004.25h22.75v26h-22.75zM412.75 1004.25h26v26h-26zM416 1004.25h22.75v26h-22.75zM416 1004.25h26v26h-26zM419.25 1004.25h22.75v26h-22.75zM419.25 1004.25h26v26h-26zM422.5 1004.25h22.75v26h-22.75zM422.5 1004.25h26v26h-26zM425.75 1004.25h22.75v22.75h-22.75zM425.75 1004.25h26v22.75h-26zM429 1004.25h22.75v22.75h-22.75zM429 1004.25h26v22.75h-26zM432.25 1004.25h22.75v22.75h-22.75zM432.25 1001h26v26h-26zM435.5 1001h22.75v26h-22.75zM435.5 1001h26v26h-26zM438.75 1001h22.75v26h-22.75zM438.75 1001h26v26h-26zM442 1001h22.75v26h-22.75zM442 1001h26v26h-26zM445.25 1001h22.75v26h-22.75zM445.25 1001h26v26h-26zM448.5 1001h22.75v26h-22.75zM448.5 1001h26v22.75h-26zM451.75 1001h22.75v22.75h-22.75zM451.75 1001h26v22.75h-26zM455 1001h22.75v22.75h-22.75zM455 1001h26v22.75h-26zM455 997.75h26v26h-26zM458.25 997.75h22.75v26h-22.75zM458.25 997.75h26v26h-26zM461.5 997.75h22.75v26h-22.75zM461.5 997.75h26v26h-26zM464.75 997.75h22.75v26h-22.75zM464.75 997.75h26v26h-26zM468 997.75h22.75v26h-22.75zM468 997.75h26v26h-26zM471.25 997.75h22.75v26h-22.75zM471.25 997.75h26v22.75h-26zM474.5 997.75h22.75v22.75h-22.75zM474.5 997.75h26v22.75h-26zM477.75 997.75h22.75v22.75h-22.75zM477.75 997.75h26v22.75h-26zM477.75 994.5h26v26h-26zM481 994.5h22.75v26h-22.75zM481 994.5h26v26h-26zM484.25 994.5h22.75v26h-22.75zM484.25 994.5h26v26h-26zM487.5 994.5h22.75v26h-22.75zM487.5 994.5h26v26h-26zM490.75 994.5h22.75v26h-22.75zM490.75 994.5h26v26h-26zM494 994.5h22.75v26h-22.75zM494 994.5h26v22.75h-26zM497.25 994.5h22.75v22.75h-22.75zM497.25 994.5h26v22.75h-26zM500.5 994.5h22.75v22.75h-22.75zM500.5 994.5h26v22.75h-26zM500.5 991.25h26v26h-26zM503.75 991.25h22.75v26h-22.75zM503.75 991.25h26v26h-26zM507 991.25h22.75v26h-22.75zM507 991.25h26v26h-26zM510.25 991.25h22.75v26h-22.75zM510.25 991.25h26v26h-26zM513.5 991.25h22.75v26h-22.75zM513.5 991.25h26v26h-26zM516.75 991.25h22.75v22.75h-22.75zM516.75 991.25h26v22.75h-26zM520 991.25h22.75v22.75h-22.75zM520 991.25h26v22.75h-26zM523.25 991.25h22.75v22.75h-22.75zM523.25 988h26v26h-26zM526.5 988h22.75v26h-22.75zM526.5 988h26v26h-26zM529.75 988h22.75v26h-22.75zM529.75 988h26v26h-26zM533 988h22.75v26h-22.75zM533 988h26v26h-26zM536.25 988h22.75v26h-22.75zM536.25 988h26v26h-26zM536.25 988h26v22.75h-26zM539.5 988h22.75v22.75h-22.75zM539.5 988h26v22.75h-26zM542.75 988h22.75v22.75h-22.75zM542.75 988h26v22.75h-26zM546 984.75h22.75v26h-22.75zM546 984.75h26v26h-26zM549.25 984.75h22.75v26h-22.75zM549.25 984.75h26v26h-26zM552.5 984.75h22.75v26h-22.75zM552.5 984.75h26v26h-26zM555.75 984.75h22.75v26h-22.75zM555.75 984.75h26v26h-26zM559 984.75h22.75v26h-22.75zM559 984.75h26v22.75h-26zM562.25 984.75h22.75v22.75h-22.75zM562.25 984.75h26v22.75h-26zM565.5 984.75h22.75v22.75h-22.75zM565.5 981.5h26v26h-26zM568.75 981.5h22.75v26h-22.75zM568.75 981.5h26v26h-26zM572 981.5h22.75v26h-22.75zM572 981.5h26v26h-26zM575.25 981.5h22.75v26h-22.75zM575.25 981.5h26v26h-26zM578.5 981.5h22.75v26h-22.75zM578.5 981.5h26v26h-26zM578.5 981.5h26v22.75h-26zM581.75 981.5h22.75v22.75h-22.75zM581.75 981.5h26v22.75h-26zM585 981.5h22.75v22.75h-22.75zM585 978.25h26v26h-26zM588.25 978.25h22.75v26h-22.75zM588.25 978.25h26v26h-26zM591.5 978.25h22.75v26h-22.75zM591.5 978.25h26v26h-26zM594.75 978.25h22.75v26h-22.75zM594.75 978.25h26v26h-26zM598 978.25h22.75v26h-22.75zM598 978.25h26v26h-26zM598 978.25h26v22.75h-26zM601.25 978.25h22.75v22.75h-22.75zM601.25 978.25h26v22.75h-26zM604.5 978.25h22.75v22.75h-22.75zM604.5 978.25h26v22.75h-26zM604.5 975h26v26h-26zM607.75 975h22.75v26h-22.75zM607.75 975h26v26h-26zM611 975h22.75v26h-22.75zM611 975h26v26h-26zM614.25 975h22.75v26h-22.75zM614.25 975h26v26h-26zM617.5 975h22.75v26h-22.75zM617.5 975h26v22.75h-26zM620.75 975h22.75v22.75h-22.75zM620.75 975h26v22.75h-26zM624 975h22.75v22.75h-22.75zM624 971.75h26v26h-26zM627.25 971.75h22.75v26h-22.75zM627.25 971.75h26v26h-26zM630.5 971.75h22.75v26h-22.75zM630.5 971.75h26v26h-26zM633.75 971.75h22.75v26h-22.75zM633.75 971.75h26v26h-26zM637 971.75h22.75v26h-22.75zM637 971.75h26v26h-26zM637 971.75h26v22.75h-26zM640.25 971.75h22.75v22.75h-22.75zM640.25 971.75h26v22.75h-26zM643.5 968.5h22.75v26h-22.75zM643.5 968.5h26v26h-26zM646.75 968.5h22.75v26h-22.75zM646.75 968.5h26v26h-26zM650 968.5h22.75v26h-22.75zM650 968.5h26v26h-26zM653.25 968.5h22.75v26h-22.75zM653.25 968.5h26v26h-26zM656.5 968.5h22.75v22.75h-22.75zM656.5 968.5h26v22.75h-26zM659.75 968.5h22.75v22.75h-22.75zM659.75 968.5h26v22.75h-26zM659.75 965.25h26v26h-26zM663 965.25h22.75v26h-22.75zM663 965.25h26v26h-26zM666.25 965.25h22.75v26h-22.75zM666.25 965.25h26v26h-26zM669.5 965.25h22.75v26h-22.75zM669.5 965.25h26v26h-26zM672.75 965.25h22.75v26h-22.75zM672.75 965.25h26v22.75h-26zM676 965.25h22.75v22.75h-22.75zM676 965.25h26v22.75h-26zM679.25 965.25h22.75v22.75h-22.75zM679.25 962h26v26h-26zM682.5 962h22.75v26h-22.75zM682.5 962h26v26h-26zM685.75 962h22.75v26h-22.75zM685.75 962h26v26h-26zM689 962h22.75v26h-22.75zM689 962h26v26h-26zM689 962h26v22.75h-26zM692.25 962h22.75v22.75h-22.75zM692.25 962h26v22.75h-26zM695.5 962h22.75v22.75h-22.75zM695.5 958.75h26v26h-26zM698.75 958.75h22.75v26h-22.75zM698.75 958.75h26v26h-26zM702 958.75h22.75v26h-22.75zM702 958.75h26v26h-26zM705.25 958.75h22.75v26h-22.75zM705.25 958.75h26v26h-26zM708.5 958.75h22.75v22.75h-22.75zM708.5 958.75h26v22.75h-26zM711.75 958.75h22.75v22.75h-22.75zM711.75 958.75h26v22.75h-26zM711.75 955.5h26v26h-26zM715 955.5h22.75v26h-22.75zM715 955.5h26v26h-26zM718.25 955.5h22.75v26h-22.75zM718.25 955.5h26v26h-26zM721.5 955.5h22.75v26h-22.75zM721.5 955.5h26v26h-26zM721.5 955.5h26v22.75h-26zM724.75 955.5h22.75v22.75h-22.75zM724.75 955.5h26v22.75h-26zM728 955.5h22.75v22.75h-22.75zM728 952.25h26v26h-26zM731.25 952.25h22.75v26h-22.75zM731.25 952.25h26v26h-26zM734.5 952.25h22.75v26h-22.75zM734.5 952.25h26v26h-26zM737.75 952.25h22.75v26h-22.75zM737.75 952.25h26v26h-26zM741 952.25h22.75v22.75h-22.75zM741 952.25h26v22.75h-26zM744.25 952.25h22.75v22.75h-22.75zM744.25 949h26v26h-26zM747.5 949h22.75v26h-22.75zM747.5 949h26v26h-26zM750.75 949h22.75v26h-22.75zM750.75 949h26v26h-26zM754 949h22.75v26h-22.75zM754 949h26v22.75h-26zM757.25 949h22.75v22.75h-22.75zM757.25 949h26v22.75h-26zM760.5 945.75h22.75v26h-22.75zM760.5 945.75h26v26h-26zM763.75 945.75h22.75v26h-22.75zM763.75 945.75h26v26h-26zM767 945.75h22.75v26h-22.75zM767 945.75h26v26h-26zM770.25 945.75h22.75v26h-22.75zM770.25 945.75h26v22.75h-26zM773.5 945.75h22.75v22.75h-22.75zM773.5 942.5h26v26h-26zM776.75 942.5h22.75v26h-22.75zM776.75 942.5h26v26h-26zM780 942.5h22.75v26h-22.75zM780 942.5h26v26h-26zM783.25 942.5h22.75v26h-22.75zM783.25 942.5h26v26h-26zM783.25 942.5h26v22.75h-26zM786.5 942.5h22.75v22.75h-22.75zM786.5 942.5h26v22.75h-26zM789.75 939.25h22.75v26h-22.75zM789.75 939.25h26v26h-26zM793 939.25h22.75v26h-22.75zM793 939.25h26v26h-26zM796.25 939.25h22.75v26h-22.75zM796.25 939.25h26v26h-26zM799.5 939.25h22.75v22.75h-22.75zM799.5 939.25h26v22.75h-26zM802.75 939.25h22.75v22.75h-22.75zM802.75 936h26v26h-26zM806 936h22.75v26h-22.75zM806 936h26v26h-26zM809.25 936h22.75v26h-22.75zM809.25 936h26v26h-26zM812.5 936h22.75v22.75h-22.75zM812.5 936h26v22.75h-26zM815.75 936h22.75v22.75h-22.75zM815.75 936h26v22.75h-26zM815.75 932.75h26v26h-26zM819 932.75h22.75v26h-22.75zM819 932.75h26v26h-26zM822.25 932.75h22.75v26h-22.75zM822.25 932.75h26v26h-26zM825.5 932.75h22.75v26h-22.75zM825.5 932.75h26v22.75h-26zM828.75 932.75h22.75v22.75h-22.75zM828.75 932.75h26v22.75h-26zM828.75 929.5h26v26h-26zM832 929.5h22.75v26h-22.75zM832 929.5h26v26h-26zM835.25 929.5h22.75v26h-22.75zM835.25 929.5h26v26h-26zM838.5 929.5h22.75v26h-22.75zM838.5 929.5h26v22.75h-26zM841.75 929.5h22.75v22.75h-22.75zM841.75 926.25h26v26h-26zM845 926.25h22.75v26h-22.75zM845 926.25h26v26h-26zM848.25 926.25h22.75v26h-22.75zM848.25 926.25h26v26h-26zM851.5 926.25h22.75v22.75h-22.75zM851.5 926.25h26v22.75h-26zM854.75 926.25h22.75v22.75h-22.75zM854.75 923h26v26h-26zM858 923h22.75v26h-22.75zM858 923h26v26h-26zM861.25 923h22.75v26h-22.75zM861.25 923h26v26h-26zM864.5 923h22.75v22.75h-22.75zM864.5 923h26v22.75h-26zM867.75 919.75h22.75v26h-22.75zM867.75 919.75h26v26h-26zM871 919.75h22.75v26h-22.75zM871 919.75h26v26h-26zM874.25 919.75h22.75v26h-22.75zM874.25 919.75h26v26h-26zM874.25 919.75h26v22.75h-26zM877.5 919.75h22.75v22.75h-22.75zM877.5 919.75h26v22.75h-26zM877.5 916.5h26v26h-26zM880.75 916.5h22.75v26h-22.75zM880.75 916.5h26v26h-26zM884 916.5h22.75v26h-22.75zM884 916.5h26v26h-26zM887.25 916.5h22.75v22.75h-22.75zM887.25 916.5h26v22.75h-26zM890.5 916.5h22.75v22.75h-22.75zM890.5 913.25h26v26h-26zM893.75 913.25h22.75v26h-22.75zM893.75 913.25h26v26h-26zM897 913.25h22.75v26h-22.75zM897 913.25h26v26h-26zM897 913.25h26v22.75h-26zM900.25 913.25h22.75v22.75h-22.75zM900.25 913.25h26v22.75h-26zM900.25 910h26v26h-26zM903.5 910h22.75v26h-22.75zM903.5 910h26v26h-26zM906.75 910h22.75v26h-22.75zM906.75 910h26v26h-26zM910 910h22.75v26h-22.75zM910 910h22.75v22.75h-22.75zM910 910h26v22.75h-26zM913.25 906.75h22.75v26h-22.75zM913.25 906.75h26v26h-26zM916.5 906.75h22.75v26h-22.75zM916.5 906.75h26v26h-26zM919.75 906.75h22.75v26h-22.75zM919.75 906.75h26v22.75h-26zM923 906.75h22.75v22.75h-22.75zM923 903.5h26v26h-26zM926.25 903.5h22.75v26h-22.75zM926.25 903.5h26v26h-26zM929.5 903.5h22.75v26h-22.75zM929.5 903.5h26v22.75h-26zM932.75 903.5h22.75v22.75h-22.75zM932.75 903.5h26v22.75h-26zM932.75 900.25h26v26h-26zM936 900.25h22.75v26h-22.75zM936 900.25h26v26h-26zM939.25 900.25h22.75v26h-22.75zM939.25 900.25h26v26h-26zM939.25 900.25h26v22.75h-26zM942.5 900.25h22.75v22.75h-22.75zM942.5 897h26v26h-26zM945.75 897h22.75v26h-22.75zM945.75 897h26v26h-26zM949 897h22.75v26h-22.75zM949 897h26v22.75h-26zM952.25 897h22.75v22.75h-22.75zM952.25 893.75h26v26h-26zM955.5 893.75h22.75v26h-22.75zM955.5 893.75h26v26h-26zM958.75 893.75h22.75v26h-22.75zM958.75 893.75h26v22.75h-26zM962 893.75h22.75v22.75h-22.75zM962 890.5h26v26h-26zM965.25 890.5h22.75v26h-22.75zM965.25 890.5h26v26h-26zM968.5 890.5h22.75v22.75h-22.75zM968.5 890.5h26v22.75h-26zM968.5 887.25h26v26h-26zM971.75 887.25h22.75v26h-22.75zM971.75 887.25h26v26h-26zM975 887.25h22.75v26h-22.75zM975 887.25h26v26h-26zM975 887.25h26v22.75h-26zM978.25 887.25h22.75v22.75h-22.75zM978.25 884h26v26h-26zM981.5 884h22.75v26h-22.75zM981.5 884h26v26h-26zM984.75 884h22.75v22.75h-22.75zM984.75 884h26v22.75h-26zM988 880.75h22.75v26h-22.75zM988 880.75h26v26h-26zM991.25 880.75h22.75v26h-22.75zM991.25 880.75h26v26h-26zM991.25 880.75h26v22.75h-26zM994.5 880.75h22.75v22.75h-22.75zM994.5 880.75h26v22.75h-26zM994.5 877.5h26v26h-26zM997.75 877.5h22.75v26h-22.75zM997.75 877.5h26v26h-26zM1001 877.5h22.75v26h-22.75zM1001 877.5h26v22.75h-26zM1001 874.25h26v26h-26zM1004.25 874.25h22.75v26h-22.75zM1004.25 874.25h26v26h-26zM1007.5 874.25h22.75v26h-22.75zM1007.5 874.25h26v26h-26zM1007.5 874.25h26v22.75h-26zM1010.75 871h22.75v26h-22.75zM1010.75 871h26v26h-26zM1014 871h22.75v26h-22.75zM1014 871h26v26h-26zM1014 871h26v22.75h-26zM1017.25 871h22.75v22.75h-22.75zM1017.25 867.75h26v26h-26zM1020.5 867.75h22.75v26h-22.75zM1020.5 867.75h26v26h-26zM1020.5 867.75h26v22.75h-26zM1023.75 867.75h22.75v22.75h-22.75zM1023.75 867.75h26v22.75h-26zM1023.75 864.5h26v26h-26zM1027 864.5h22.75v26h-22.75zM1027 864.5h26v26h-26zM1030.25 864.5h22.75v22.75h-22.75zM1030.25 864.5h26v22.75h-26zM1030.25 861.25h26v26h-26zM1033.5 861.25h22.75v26h-22.75zM1033.5 861.25h26v26h-26zM1033.5 861.25h26v22.75h-26zM1036.75 861.25h22.75v22.75h-22.75zM1036.75 858h26v26h-26zM1040 858h22.75v26h-22.75zM1040 858h26v26h-26zM1040 858h26v22.75h-26zM1043.25 858h22.75v22.75h-22.75zM1043.25 854.75h26v26h-26zM1046.5 854.75h22.75v26h-22.75zM1046.5 854.75h26v22.75h-26zM1049.75 854.75h22.75v22.75h-22.75zM1049.75 851.5h22.75v26h-22.75zM1049.75 851.5h26v26h-26zM1053 851.5h22.75v26h-22.75zM1053 851.5h26v22.75h-26zM1053 848.25h26v26h-26zM1056.25 848.25h22.75v26h-22.75zM1056.25 848.25h26v26h-26zM1056.25 848.25h26v22.75h-26zM1059.5 848.25h22.75v22.75h-22.75zM1059.5 845h26v26h-26zM1062.75 845h22.75v26h-22.75zM1062.75 845h26v22.75h-26zM1066 841.75h22.75v26h-22.75zM1066 841.75h26v26h-26zM1069.25 841.75h22.75v22.75h-22.75zM1069.25 838.5h26v26h-26zM1072.5 838.5h22.75v26h-22.75zM1072.5 838.5h26v22.75h-26zM1072.5 835.25h26v26h-26zM1075.75 835.25h22.75v26h-22.75zM1075.75 835.25h26v26h-26zM1075.75 835.25h26v22.75h-26zM1079 835.25h22.75v22.75h-22.75zM1079 832h22.75v26h-22.75zM1079 832h26v26h-26zM1082.25 832h22.75v22.75h-22.75zM1082.25 828.75h26v26h-26zM1085.5 828.75h22.75v26h-22.75zM1085.5 828.75h26v22.75h-26zM1085.5 825.5h26v26h-26zM1088.75 825.5h22.75v26h-22.75zM1088.75 825.5h26v22.75h-26zM1088.75 822.25h26v26h-26zM1092 822.25h22.75v26h-22.75zM1092 822.25h26v22.75h-26zM1092 819h26v26h-26zM1095.25 819h22.75v26h-22.75zM1095.25 819h26v22.75h-26zM1095.25 815.75h26v26h-26zM1098.5 815.75h22.75v26h-22.75zM1098.5 815.75h26v22.75h-26zM1098.5 812.5h26v26h-26zM1101.75 812.5h22.75v26h-22.75zM1101.75 812.5h26v22.75h-26zM1101.75 809.25h26v26h-26zM1105 809.25h22.75v22.75h-22.75zM1105 806h26v26h-26zM1105 806h26v22.75h-26zM1108.25 802.75h22.75v26h-22.75zM1108.25 802.75h26v26h-26zM1108.25 802.75h26v22.75h-26zM1108.25 799.5h26v26h-26zM1111.5 799.5h22.75v26h-22.75zM1111.5 799.5h22.75v22.75h-22.75zM1111.5 796.25h26v26h-26zM1111.5 796.25h26v22.75h-26zM1114.75 793h22.75v26h-22.75zM1114.75 793h22.75v22.75h-22.75zM1114.75 789.75h26v26h-26zM1114.75 789.75h26v22.75h-26zM1114.75 786.5h26v26h-26zM1118 786.5h22.75v26h-22.75zM1118 786.5h22.75v22.75h-22.75zM1118 786.5h26v22.75h-26zM1118 783.25h26v26h-26zM1118 783.25h26v22.75h-26zM1118 780h26v26h-26zM1121.25 780h22.75v22.75h-22.75zM1121.25 776.75h22.75v26h-22.75zM1121.25 776.75h26v22.75h-26zM1121.25 773.5h26v26h-26zM1121.25 773.5h26v22.75h-26zM1121.25 770.25h26v26h-26zM1121.25 770.25h26v22.75h-26zM1121.25 767h26v26h-26zM1124.5 767h22.75v26h-22.75zM1124.5 767h22.75v22.75h-22.75zM1124.5 763.75h22.75v26h-22.75zM1124.5 763.75h22.75v22.75h-22.75zM1124.5 760.5h22.75v26h-22.75zM1124.5 760.5h26v22.75h-26zM1124.5 757.25h26v26h-26zM1124.5 757.25h26v22.75h-26zM1124.5 754h26v26h-26zM1124.5 754h26v22.75h-26zM1124.5 750.75h26v26h-26zM1124.5 750.75h26v22.75h-26zM1124.5 747.5h26v26h-26zM1124.5 747.5h26v22.75h-26zM1124.5 744.25h26v26h-26zM1124.5 744.25h26v22.75h-26zM1124.5 741h26v26h-26zM1124.5 741h22.75v22.75h-22.75zM1124.5 737.75h22.75v26h-22.75zM1124.5 737.75h22.75v22.75h-22.75zM1124.5 734.5h22.75v26h-22.75zM1124.5 734.5h22.75v22.75h-22.75zM1121.25 731.25h26v26h-26zM1121.25 731.25h26v22.75h-26zM1121.25 728h26v26h-26zM1121.25 728h26v22.75h-26zM1121.25 724.75h26v26h-26zM1121.25 724.75h26v22.75h-26zM1121.25 721.5h26v26h-26zM1121.25 721.5h22.75v26h-22.75zM1121.25 721.5h22.75v22.75h-22.75zM1121.25 718.25h22.75v26h-22.75zM1118 718.25h26v22.75h-26zM1118 715h26v26h-26zM1118 715h26v22.75h-26zM1118 711.75h26v26h-26zM1118 711.75h26v22.75h-26zM1118 708.5h22.75v26h-22.75zM1118 708.5h22.75v22.75h-22.75zM1114.75 705.25h26v26h-26zM1114.75 705.25h26v22.75h-26zM1114.75 702h26v26h-26zM1114.75 702h26v22.75h-26zM1114.75 698.75h22.75v26h-22.75zM1111.5 698.75h26v26h-26zM1111.5 698.75h26v22.75h-26zM1111.5 695.5h26v26h-26zM1111.5 695.5h26v22.75h-26zM1111.5 692.25h26v26h-26zM1111.5 692.25h22.75v26h-22.75zM1111.5 692.25h22.75v22.75h-22.75zM1108.25 689h26v26h-26zM1108.25 689h26v22.75h-26zM1108.25 685.75h26v26h-26zM1108.25 685.75h22.75v22.75h-22.75zM1108.25 682.5h22.75v26h-22.75zM1105 682.5h26v26h-26zM1105 682.5h26v22.75h-26zM1105 679.25h26v26h-26zM1105 679.25h26v22.75h-26zM1105 676h22.75v26h-22.75zM1101.75 676h26v22.75h-26zM1101.75 672.75h26v26h-26zM1101.75 672.75h26v22.75h-26zM1101.75 669.5h26v26h-26zM1101.75 669.5h22.75v26h-22.75zM1098.5 669.5h26v22.75h-26zM1098.5 666.25h26v26h-26zM1098.5 666.25h26v22.75h-26zM1098.5 663h26v26h-26zM1098.5 663h22.75v26h-22.75zM1098.5 663h22.75v22.75h-22.75zM1095.25 659.75h26v26h-26zM1095.25 659.75h26v22.75h-26zM1095.25 656.5h26v26h-26zM1095.25 656.5h22.75v26h-22.75zM1095.25 656.5h22.75v22.75h-22.75zM1092 653.25h26v26h-26zM1092 653.25h26v22.75h-26zM1092 650h26v26h-26zM1092 650h22.75v26h-22.75zM1092 650h22.75v22.75h-22.75zM1092 646.75h22.75v26h-22.75zM1088.75 646.75h26v26h-26zM1088.75 646.75h26v22.75h-26zM1088.75 643.5h26v26h-26zM1088.75 643.5h22.75v22.75h-22.75zM1085.5 640.25h26v26h-26zM1085.5 640.25h26v22.75h-26zM1085.5 637h26v26h-26zM1085.5 637h22.75v22.75h-22.75zM1085.5 633.75h22.75v26h-22.75zM1082.25 633.75h26v26h-26zM1082.25 633.75h26v22.75h-26zM1082.25 630.5h26v26h-26zM1082.25 630.5h26v22.75h-26zM1082.25 627.25h22.75v26h-22.75zM1082.25 627.25h22.75v22.75h-22.75zM1079 624h26v26h-26zM1079 624h26v22.75h-26zM1079 620.75h26v26h-26zM1079 620.75h22.75v22.75h-22.75zM1079 617.5h22.75v26h-22.75zM1075.75 617.5h26v26h-26zM1075.75 617.5h26v22.75h-26zM1075.75 614.25h26v26h-26zM1075.75 614.25h26v22.75h-26zM1075.75 611h26v26h-26zM1075.75 611h22.75v26h-22.75zM1075.75 611h22.75v22.75h-22.75zM1072.5 607.75h26v26h-26zM1072.5 607.75h26v22.75h-26zM1072.5 604.5h26v26h-26zM1072.5 604.5h26v22.75h-26zM1072.5 601.25h26v26h-26zM1072.5 601.25h22.75v26h-22.75zM1072.5 601.25h22.75v22.75h-22.75zM1072.5 598h22.75v26h-22.75zM1069.25 598h26v22.75h-26zM1069.25 594.75h26v26h-26zM1069.25 594.75h26v22.75h-26zM1069.25 591.5h26v26h-26zM1069.25 591.5h26v22.75h-26zM1069.25 588.25h26v26h-26zM1069.25 588.25h26v22.75h-26zM1069.25 585h26v26h-26zM1069.25 585h22.75v22.75h-22.75zM1069.25 581.75h22.75v26h-22.75zM1069.25 581.75h22.75v22.75h-22.75zM1069.25 578.5h22.75v26h-22.75zM1069.25 578.5h22.75v22.75h-22.75zM1069.25 575.25h22.75v26h-22.75zM1069.25 575.25h22.75v22.75h-22.75zM1069.25 572h22.75v26h-22.75zM1069.25 572h22.75v22.75h-22.75zM1069.25 568.75h22.75v26h-22.75zM1069.25 568.75h22.75v22.75h-22.75zM1069.25 565.5h22.75v26h-22.75zM1069.25 565.5h22.75v22.75h-22.75zM1069.25 562.25h22.75v26h-22.75zM1069.25 562.25h22.75v22.75h-22.75zM1069.25 559h26v26h-26zM1069.25 559h26v22.75h-26zM1069.25 555.75h26v26h-26zM1069.25 555.75h26v22.75h-26zM1069.25 552.5h26v26h-26zM1069.25 552.5h26v22.75h-26zM1072.5 549.25h22.75v26h-22.75zM1072.5 549.25h22.75v22.75h-22.75zM1072.5 549.25h26v22.75h-26zM1072.5 546h26v26h-26zM1072.5 546h26v22.75h-26zM1072.5 542.75h26v26h-26zM1072.5 542.75h26v22.75h-26zM1075.75 542.75h22.75v22.75h-22.75zM1075.75 539.5h22.75v26h-22.75zM1075.75 539.5h26v26h-26zM1075.75 539.5h26v22.75h-26zM1075.75 536.25h26v26h-26zM1079 536.25h22.75v22.75h-22.75zM1079 533h22.75v26h-22.75zM1079 533h26v26h-26zM1079 533h26v22.75h-26zM1079 529.75h26v26h-26zM1082.25 529.75h22.75v26h-22.75zM1082.25 529.75h22.75v22.75h-22.75zM1082.25 529.75h26v22.75h-26zM1082.25 526.5h26v26h-26zM1082.25 526.5h26v22.75h-26zM1085.5 526.5h22.75v22.75h-22.75zM1085.5 523.25h22.75v26h-22.75zM1085.5 523.25h26v26h-26zM1085.5 523.25h26v22.75h-26zM1088.75 520h22.75v26h-22.75zM1088.75 520h26v26h-26zM1088.75 520h26v22.75h-26zM1088.75 516.75h26v26h-26zM1092 516.75h22.75v26h-22.75zM1092 516.75h26v22.75h-26zM1092 513.5h26v26h-26zM1095.25 513.5h22.75v26h-22.75zM1095.25 513.5h26v26h-26zM1095.25 513.5h26v22.75h-26zM1095.25 510.25h26v26h-26zM1098.5 510.25h22.75v26h-22.75zM1098.5 510.25h26v22.75h-26zM1098.5 507h26v26h-26zM1101.75 507h22.75v26h-22.75zM1101.75 507h26v26h-26zM1101.75 507h26v22.75h-26zM1101.75 503.75h26v26h-26zM1105 503.75h22.75v26h-22.75zM1105 503.75h26v26h-26zM1105 503.75h26v22.75h-26zM1108.25 503.75h22.75v22.75h-22.75zM1108.25 500.5h22.75v26h-22.75zM1108.25 500.5h26v26h-26zM1108.25 500.5h26v22.75h-26zM1111.5 500.5h22.75v22.75h-22.75zM1111.5 497.25h26v26h-26zM1114.75 497.25h22.75v22.75h-22.75zM1114.75 497.25h26v22.75h-26zM1114.75 494h26v26h-26zM1118 494h22.75v26h-22.75zM1118 494h26v26h-26zM1118 494h26v22.75h-26zM1121.25 490.75h22.75v26h-22.75zM1121.25 490.75h26v26h-26zM1124.5 490.75h22.75v22.75h-22.75zM1124.5 490.75h26v22.75h-26zM1124.5 487.5h26v26h-26zM1127.75 487.5h22.75v26h-22.75zM1127.75 487.5h26v26h-26zM1127.75 487.5h26v22.75h-26zM1131 487.5h22.75v22.75h-22.75zM1131 484.25h22.75v26h-22.75zM1131 484.25h26v26h-26zM1134.25 484.25h22.75v26h-22.75zM1134.25 484.25h26v22.75h-26zM1134.25 481h26v26h-26zM1137.5 481h22.75v26h-22.75zM1137.5 481h26v26h-26zM1137.5 481h26v22.75h-26zM1140.75 481h22.75v22.75h-22.75zM1140.75 481h26v22.75h-26zM1140.75 477.75h26v26h-26zM1144 477.75h22.75v26h-22.75zM1144 477.75h26v26h-26zM1144 477.75h26v22.75h-26zM1147.25 477.75h22.75v22.75h-22.75zM1147.25 474.5h26v26h-26zM1150.5 474.5h22.75v26h-22.75zM1150.5 474.5h26v26h-26zM1150.5 474.5h26v22.75h-26zM1153.75 474.5h22.75v22.75h-22.75zM1153.75 471.25h26v26h-26zM1157 471.25h22.75v26h-22.75zM1157 471.25h26v26h-26zM1157 471.25h26v22.75h-26zM1160.25 471.25h22.75v22.75h-22.75zM1160.25 468h26v26h-26zM1163.5 468h22.75v26h-22.75zM1163.5 468h26v26h-26zM1166.75 468h22.75v22.75h-22.75zM1166.75 468h26v22.75h-26zM1166.75 464.75h26v26h-26zM1170 464.75h22.75v26h-22.75zM1170 464.75h26v26h-26zM1173.25 464.75h22.75v26h-22.75zM1173.25 464.75h26v22.75h-26zM1176.5 461.5h22.75v26h-22.75zM1176.5 461.5h26v26h-26zM1179.75 461.5h22.75v26h-22.75zM1179.75 461.5h26v26h-26zM1179.75 461.5h26v22.75h-26zM1183 461.5h22.75v22.75h-22.75zM1183 458.25h26v26h-26zM1186.25 458.25h22.75v26h-22.75zM1186.25 458.25h26v26h-26zM1189.5 458.25h22.75v26h-22.75zM1189.5 458.25h22.75v22.75h-22.75zM1189.5 458.25h26v22.75h-26zM1192.75 455h22.75v26h-22.75zM1192.75 455h26v26h-26zM1196 455h22.75v26h-22.75zM1196 455h26v26h-26zM1196 455h26v22.75h-26zM1199.25 455h22.75v22.75h-22.75zM1199.25 455h26v22.75h-26zM1199.25 451.75h26v26h-26zM1202.5 451.75h22.75v26h-22.75zM1202.5 451.75h26v26h-26zM1205.75 451.75h22.75v26h-22.75zM1205.75 451.75h26v26h-26zM1205.75 451.75h26v22.75h-26zM1209 451.75h22.75v22.75h-22.75zM1209 451.75h26v22.75h-26zM1209 448.5h26v26h-26zM1212.25 448.5h22.75v26h-22.75zM1212.25 448.5h26v26h-26zM1215.5 448.5h22.75v26h-22.75zM1215.5 448.5h26v26h-26zM1215.5 448.5h26v22.75h-26zM1218.75 448.5h22.75v22.75h-22.75zM1218.75 445.25h26v26h-26zM1222 445.25h22.75v26h-22.75zM1222 445.25h26v26h-26zM1225.25 445.25h22.75v26h-22.75zM1225.25 445.25h26v26h-26zM1225.25 445.25h26v22.75h-26zM1228.5 445.25h22.75v22.75h-22.75zM1228.5 445.25h26v22.75h-26zM1228.5 442h26v26h-26zM1231.75 442h22.75v26h-22.75zM1231.75 442h26v26h-26zM1235 442h22.75v26h-22.75zM1235 442h26v26h-26zM1238.25 442h22.75v22.75h-22.75zM1238.25 442h26v22.75h-26zM1241.5 438.75h22.75v26h-22.75zM1241.5 438.75h26v26h-26zM1244.75 438.75h22.75v26h-22.75zM1244.75 438.75h26v26h-26zM1248 438.75h22.75v26h-22.75zM1248 438.75h26v22.75h-26zM1251.25 438.75h22.75v22.75h-22.75zM1251.25 435.5h26v26h-26zM1254.5 435.5h22.75v26h-22.75zM1254.5 435.5h26v26h-26zM1257.75 435.5h22.75v26h-22.75zM1257.75 435.5h26v26h-26zM1257.75 435.5h26v22.75h-26zM1261 435.5h22.75v22.75h-22.75zM1261 435.5h26v22.75h-26zM1264.25 432.25h22.75v26h-22.75zM1264.25 432.25h26v26h-26zM1267.5 432.25h22.75v26h-22.75zM1267.5 432.25h26v26h-26zM1270.75 432.25h22.75v26h-22.75zM1270.75 432.25h26v26h-26zM1270.75 432.25h26v22.75h-26zM1274 432.25h22.75v22.75h-22.75zM1274 432.25h26v22.75h-26zM1277.25 429h22.75v26h-22.75zM1277.25 429h26v26h-26zM1280.5 429h22.75v26h-22.75zM1280.5 429h26v26h-26zM1283.75 429h22.75v26h-22.75zM1283.75 429h26v26h-26zM1283.75 429h26v22.75h-26zM1287 429h22.75v22.75h-22.75zM1287 429h26v22.75h-26zM1287 425.75h26v26h-26zM1290.25 425.75h22.75v26h-22.75zM1290.25 425.75h26v26h-26zM1293.5 425.75h22.75v26h-22.75zM1293.5 425.75h26v26h-26zM1296.75 425.75h22.75v26h-22.75zM1296.75 425.75h26v26h-26zM1296.75 425.75h26v22.75h-26zM1300 425.75h22.75v22.75h-22.75zM1300 425.75h26v22.75h-26zM1303.25 422.5h22.75v26h-22.75zM1303.25 422.5h26v26h-26zM1306.5 422.5h22.75v26h-22.75zM1306.5 422.5h26v26h-26zM1309.75 422.5h22.75v26h-22.75zM1309.75 422.5h26v26h-26zM1313 422.5h22.75v22.75h-22.75zM1313 422.5h26v22.75h-26zM1316.25 419.25h22.75v26h-22.75zM1316.25 419.25h26v26h-26zM1319.5 419.25h22.75v26h-22.75zM1319.5 419.25h26v26h-26zM1322.75 419.25h22.75v26h-22.75zM1322.75 419.25h26v26h-26zM1326 419.25h22.75v22.75h-22.75zM1326 419.25h26v22.75h-26zM1329.25 419.25h22.75v22.75h-22.75zM1329.25 419.25h26v22.75h-26zM1329.25 416h26v26h-26zM1332.5 416h22.75v26h-22.75zM1332.5 416h26v26h-26zM1335.75 416h22.75v26h-22.75zM1335.75 416h26v26h-26zM1339 416h22.75v26h-22.75zM1339 416h26v26h-26zM1342.25 416h22.75v22.75h-22.75zM1342.25 416h26v22.75h-26zM1345.5 416h22.75v22.75h-22.75zM1345.5 412.75h22.75v26h-22.75zM1345.5 412.75h26v26h-26zM1348.75 412.75h22.75v26h-22.75zM1348.75 412.75h26v26h-26zM1352 412.75h22.75v26h-22.75zM1352 412.75h26v26h-26zM1355.25 412.75h22.75v26h-22.75zM1355.25 412.75h26v26h-26zM1355.25 412.75h26v22.75h-26zM1358.5 412.75h22.75v22.75h-22.75zM1358.5 412.75h26v22.75h-26zM1361.75 409.5h22.75v26h-22.75zM1361.75 409.5h26v26h-26zM1365 409.5h22.75v26h-22.75zM1365 409.5h26v26h-26zM1368.25 409.5h22.75v26h-22.75zM1368.25 409.5h26v26h-26zM1371.5 409.5h22.75v26h-22.75zM1371.5 409.5h26v26h-26zM1371.5 409.5h26v22.75h-26zM1374.75 409.5h22.75v22.75h-22.75zM1374.75 409.5h26v22.75h-26zM1378 406.25h22.75v26h-22.75zM1378 406.25h26v26h-26zM1381.25 406.25h22.75v26h-22.75zM1381.25 406.25h26v26h-26zM1384.5 406.25h22.75v26h-22.75zM1384.5 406.25h26v26h-26zM1387.75 406.25h22.75v26h-22.75zM1387.75 406.25h26v26h-26zM1387.75 406.25h26v22.75h-26zM1391 406.25h22.75v22.75h-22.75zM1391 406.25h26v22.75h-26zM1394.25 406.25h22.75v22.75h-22.75zM1394.25 403h26v26h-26zM1397.5 403h22.75v26h-22.75zM1397.5 403h26v26h-26zM1400.75 403h22.75v26h-22.75zM1400.75 403h26v26h-26zM1404 403h22.75v26h-22.75zM1404 403h26v26h-26zM1407.25 403h22.75v26h-22.75zM1407.25 403h26v22.75h-26zM1410.5 403h22.75v22.75h-22.75zM1410.5 403h26v22.75h-26zM1410.5 399.75h26v26h-26zM1413.75 399.75h22.75v26h-22.75zM1413.75 399.75h26v26h-26zM1417 399.75h22.75v26h-22.75zM1417 399.75h26v26h-26zM1420.25 399.75h22.75v26h-22.75zM1420.25 399.75h26v26h-26zM1423.5 399.75h22.75v26h-22.75zM1423.5 399.75h26v26h-26zM1423.5 399.75h26v22.75h-26zM1426.75 399.75h22.75v22.75h-22.75zM1426.75 399.75h26v22.75h-26zM1430 399.75h22.75v22.75h-22.75zM1430 396.5h26v26h-26zM1433.25 396.5h22.75v26h-22.75zM1433.25 396.5h26v26h-26zM1436.5 396.5h22.75v26h-22.75zM1436.5 396.5h26v26h-26zM1439.75 396.5h22.75v26h-22.75zM1439.75 396.5h26v26h-26zM1443 396.5h22.75v26h-22.75zM1443 396.5h26v22.75h-26zM1446.25 396.5h22.75v22.75h-22.75zM1446.25 396.5h26v22.75h-26zM1449.5 396.5h22.75v22.75h-22.75zM1449.5 393.25h26v26h-26zM1452.75 393.25h22.75v26h-22.75zM1452.75 393.25h26v26h-26zM1456 393.25h22.75v26h-22.75zM1456 393.25h26v26h-26zM1459.25 393.25h22.75v26h-22.75zM1459.25 393.25h26v26h-26zM1462.5 393.25h22.75v26h-22.75zM1462.5 393.25h26v22.75h-26zM1465.75 393.25h22.75v22.75h-22.75zM1465.75 393.25h26v22.75h-26zM1469 393.25h22.75v22.75h-22.75zM1469 390h26v26h-26zM1472.25 390h22.75v26h-22.75zM1472.25 390h26v26h-26zM1475.5 390h22.75v26h-22.75zM1475.5 390h26v26h-26zM1478.75 390h22.75v26h-22.75zM1478.75 390h26v26h-26zM1482 390h22.75v26h-22.75zM1482 390h26v26h-26zM1482 390h26v22.75h-26zM1485.25 390h22.75v22.75h-22.75zM1485.25 390h26v22.75h-26zM1488.5 390h22.75v22.75h-22.75zM1488.5 386.75h26v26h-26zM1491.75 386.75h22.75v26h-22.75zM1491.75 386.75h26v26h-26zM1495 386.75h22.75v26h-22.75zM1495 386.75h26v26h-26zM1498.25 386.75h22.75v26h-22.75zM1498.25 386.75h26v26h-26zM1501.5 386.75h22.75v26h-22.75zM1501.5 386.75h26v26h-26zM1504.75 386.75h22.75v22.75h-22.75zM1504.75 386.75h26v22.75h-26zM1508 386.75h22.75v22.75h-22.75zM1508 386.75h26v22.75h-26zM1511.25 383.5h22.75v26h-22.75zM1511.25 383.5h26v26h-26zM1514.5 383.5h22.75v26h-22.75zM1514.5 383.5h26v26h-26zM1517.75 383.5h22.75v26h-22.75zM1517.75 383.5h26v26h-26zM1521 383.5h22.75v26h-22.75zM1521 383.5h26v26h-26zM1524.25 383.5h22.75v26h-22.75zM1524.25 383.5h26v26h-26zM1524.25 383.5h26v22.75h-26zM1527.5 383.5h22.75v22.75h-22.75zM1527.5 383.5h26v22.75h-26zM1530.75 383.5h22.75v22.75h-22.75zM1530.75 383.5h26v22.75h-26zM1530.75 380.25h26v26h-26zM1534 380.25h22.75v26h-22.75zM1534 380.25h26v26h-26zM1537.25 380.25h22.75v26h-22.75zM1537.25 380.25h26v26h-26zM1540.5 380.25h22.75v26h-22.75zM1540.5 380.25h26v26h-26zM1543.75 380.25h22.75v26h-22.75zM1543.75 380.25h26v26h-26zM1547 380.25h22.75v26h-22.75zM1547 380.25h26v26h-26zM1547 380.25h26v22.75h-26zM1550.25 380.25h22.75v22.75h-22.75zM1550.25 380.25h26v22.75h-26zM1553.5 380.25h22.75v22.75h-22.75zM1553.5 380.25h26v22.75h-26zM1553.5 377h26v26h-26zM1556.75 377h22.75v26h-22.75zM1556.75 377h26v26h-26zM1560 377h22.75v26h-22.75zM1560 377h26v26h-26zM1563.25 377h22.75v26h-22.75zM1563.25 377h26v26h-26zM1566.5 377h22.75v26h-22.75zM1566.5 377h26v26h-26zM1569.75 377h22.75v26h-22.75zM1569.75 377h26v26h-26zM1569.75 377h26v22.75h-26zM1573 377h22.75v22.75h-22.75zM1573 377h26v22.75h-26zM1576.25 377h22.75v22.75h-22.75zM1576.25 377h26v22.75h-26zM1579.5 373.75h22.75v26h-22.75zM1579.5 373.75h26v26h-26zM1582.75 373.75h22.75v26h-22.75zM1582.75 373.75h26v26h-26zM1586 373.75h22.75v26h-22.75zM1586 373.75h26v26h-26zM1589.25 373.75h22.75v26h-22.75zM1589.25 373.75h26v26h-26zM1592.5 373.75h22.75v26h-22.75zM1592.5 373.75h26v26h-26zM1595.75 373.75h22.75v26h-22.75zM1595.75 373.75h26v22.75h-26zM1599 373.75h22.75v22.75h-22.75zM1599 373.75h26v22.75h-26zM1602.25 373.75h22.75v22.75h-22.75zM1602.25 370.5h26v26h-26zM1605.5 370.5h22.75v26h-22.75zM1605.5 370.5h26v26h-26zM1608.75 370.5h22.75v26h-22.75zM1608.75 370.5h26v26h-26zM1612 370.5h22.75v26h-22.75zM1612 370.5h26v26h-26zM1615.25 370.5h22.75v26h-22.75zM1615.25 370.5h26v26h-26zM1618.5 370.5h22.75v26h-22.75zM1618.5 370.5h26v26h-26zM1621.75 370.5h22.75v22.75h-22.75zM1621.75 370.5h26v22.75h-26zM1625 370.5h22.75v22.75h-22.75zM1625 370.5h26v22.75h-26zM1628.25 370.5h22.75v22.75h-22.75zM1628.25 367.25h26v26h-26zM1631.5 367.25h22.75v26h-22.75zM1631.5 367.25h26v26h-26zM1634.75 367.25h22.75v26h-22.75zM1634.75 367.25h26v26h-26zM1638 367.25h22.75v26h-22.75zM1638 367.25h26v26h-26zM1641.25 367.25h22.75v26h-22.75zM1641.25 367.25h26v26h-26zM1644.5 367.25h22.75v26h-22.75zM1644.5 367.25h26v26h-26zM1644.5 367.25h26v22.75h-26zM1647.75 367.25h22.75v22.75h-22.75zM1647.75 367.25h26v22.75h-26zM1651 367.25h22.75v22.75h-22.75zM1651 367.25h26v22.75h-26zM1654.25 367.25h22.75v22.75h-22.75zM1654.25 364h26v26h-26zM1657.5 364h22.75v26h-22.75zM1657.5 364h26v26h-26zM1660.75 364h22.75v26h-22.75zM1660.75 364h26v26h-26zM1664 364h22.75v26h-22.75zM1664 364h26v26h-26zM1667.25 364h22.75v26h-22.75zM1667.25 364h26v26h-26zM1670.5 364h22.75v26h-22.75zM1670.5 364h26v26h-26zM1673.75 364h22.75v22.75h-22.75zM1673.75 364h26v22.75h-26zM1677 364h22.75v22.75h-22.75zM1677 364h26v22.75h-26zM1680.25 364h22.75v22.75h-22.75zM1680.25 364h26v22.75h-26zM1680.25 360.75h26v26h-26zM1683.5 360.75h22.75v26h-22.75zM1683.5 360.75h26v26h-26zM1686.75 360.75h22.75v26h-22.75zM1686.75 360.75h26v26h-26zM1690 360.75h22.75v26h-22.75zM1690 360.75h26v26h-26zM1693.25 360.75h22.75v26h-22.75zM1693.25 360.75h26v26h-26zM1696.5 360.75h22.75v26h-22.75zM1696.5 360.75h26v26h-26zM1699.75 360.75h22.75v26h-22.75zM1699.75 360.75h26v26h-26zM1699.75 360.75h26v22.75h-26zM1703 360.75h22.75v22.75h-22.75zM1703 360.75h26v22.75h-26zM1706.25 360.75h22.75v22.75h-22.75zM1706.25 360.75h26v22.75h-26zM1709.5 360.75h22.75v22.75h-22.75zM1709.5 357.5h26v26h-26zM1712.75 357.5h22.75v26h-22.75zM1712.75 357.5h26v26h-26zM1716 357.5h22.75v26h-22.75zM1716 357.5h26v26h-26zM1719.25 357.5h22.75v26h-22.75zM1719.25 357.5h26v26h-26zM1722.5 357.5h22.75v26h-22.75zM1722.5 357.5h26v26h-26zM1725.75 357.5h22.75v26h-22.75zM1725.75 357.5h26v26h-26zM1729 357.5h22.75v26h-22.75zM1729 357.5h26v26h-26zM1729 357.5h26v22.75h-26zM1732.25 357.5h22.75v22.75h-22.75zM1732.25 357.5h26v22.75h-26zM1735.5 357.5h22.75v22.75h-22.75zM1735.5 357.5h26v22.75h-26zM1738.75 357.5h22.75v22.75h-22.75zM1738.75 354.25h26v26h-26zM1742 354.25h22.75v26h-22.75zM1742 354.25h26v26h-26zM1745.25 354.25h22.75v26h-22.75zM1745.25 354.25h26v26h-26zM1748.5 354.25h22.75v26h-22.75zM1748.5 354.25h26v26h-26zM1751.75 354.25h22.75v26h-22.75zM1751.75 354.25h26v26h-26zM1755 354.25h22.75v26h-22.75zM1755 354.25h26v26h-26zM1758.25 354.25h22.75v26h-22.75zM1758.25 354.25h26v26h-26zM1758.25 354.25h26v22.75h-26zM1761.5 354.25h22.75v22.75h-22.75zM1761.5 354.25h26v22.75h-26zM1764.75 354.25h22.75v22.75h-22.75zM1764.75 354.25h26v22.75h-26zM1768 354.25h22.75v22.75h-22.75zM1768 354.25h26v22.75h-26zM1768 351h26v26h-26zM1771.25 351h22.75v26h-22.75zM1771.25 351h26v26h-26zM1774.5 351h22.75v26h-22.75zM1774.5 351h26v26h-26zM1777.75 351h22.75v26h-22.75zM1777.75 351h26v26h-26zM1781 351h22.75v26h-22.75zM1781 351h26v26h-26zM1784.25 351h22.75v26h-22.75zM1784.25 351h26v26h-26zM1787.5 351h22.75v26h-22.75zM1787.5 351h26v26h-26zM1790.75 351h22.75v22.75h-22.75zM1790.75 351h26v22.75h-26zM1794 351h22.75v22.75h-22.75zM1794 351h26v22.75h-26zM1797.25 351h22.75v22.75h-22.75zM1797.25 351h26v22.75h-26zM1800.5 351h22.75v22.75h-22.75zM1800.5 347.75h26v26h-26zM1803.75 347.75h22.75v26h-22.75zM1803.75 347.75h26v26h-26zM1807 347.75h22.75v26h-22.75zM1807 347.75h26v26h-26zM1810.25 347.75h22.75v26h-22.75zM1810.25 347.75h26v26h-26zM1813.5 347.75h22.75v26h-22.75zM1813.5 347.75h26v26h-26zM1816.75 347.75h22.75v26h-22.75zM1816.75 347.75h26v26h-26zM1820 347.75h22.75v26h-22.75zM1820 347.75h26v26h-26zM1823.25 347.75h22.75v22.75h-22.75zM1823.25 347.75h26v22.75h-26zM1826.5 347.75h22.75v22.75h-22.75zM1826.5 347.75h26v22.75h-26zM1829.75 347.75h22.75v22.75h-22.75zM1829.75 347.75h26v22.75h-26zM1833 344.5h22.75v26h-22.75zM1833 344.5h26v26h-26zM1836.25 344.5h22.75v26h-22.75zM1836.25 344.5h26v26h-26zM1839.5 344.5h22.75v26h-22.75zM1839.5 344.5h26v26h-26zM1842.75 344.5h22.75v26h-22.75zM1842.75 344.5h26v26h-26zM1846 344.5h22.75v26h-22.75zM1846 344.5h26v26h-26zM1849.25 344.5h22.75v26h-22.75zM1849.25 344.5h26v26h-26zM1852.5 344.5h22.75v26h-22.75zM1852.5 344.5h26v26h-26zM1855.75 344.5h22.75v22.75h-22.75zM1855.75 344.5h26v22.75h-26zM1859 344.5h22.75v22.75h-22.75zM1859 344.5h26v22.75h-26zM1862.25 344.5h22.75v22.75h-22.75zM1862.25 344.5h26v22.75h-26zM1865.5 344.5h22.75v22.75h-22.75zM1865.5 341.25h26v26h-26zM1868.75 341.25h22.75v26h-22.75zM1868.75 341.25h26v26h-26zM1872 341.25h22.75v26h-22.75zM1872 341.25h26v26h-26zM1875.25 341.25h22.75v26h-22.75zM1875.25 341.25h26v26h-26zM1878.5 341.25h22.75v26h-22.75zM1878.5 341.25h26v26h-26zM1881.75 341.25h22.75v26h-22.75zM1881.75 341.25h26v26h-26zM1885 341.25h22.75v26h-22.75zM1885 341.25h26v26h-26zM1888.25 341.25h22.75v26h-22.75zM1888.25 341.25h26v26h-26zM1888.25 341.25h26v22.75h-26zM1891.5 341.25h22.75v22.75h-22.75zM1891.5 341.25h26v22.75h-26zM1894.75 341.25h22.75v22.75h-22.75zM1894.75 341.25h26v22.75h-26zM1898 341.25h22.75v22.75h-22.75zM1898 341.25h26v22.75h-26zM1901.25 338h22.75v26h-22.75zM1901.25 338h26v26h-26zM1904.5 338h22.75v26h-22.75zM1904.5 338h26v26h-26zM1907.75 338h22.75v26h-22.75zM1907.75 338h26v26h-26zM1911 338h22.75v26h-22.75zM1911 338h26v26h-26zM1914.25 338h22.75v26h-22.75zM1914.25 338h26v26h-26zM1917.5 338h22.75v26h-22.75zM1917.5 338h26v26h-26zM1920.75 338h22.75v26h-22.75zM1920.75 338h26v26h-26zM1924 338h22.75v26h-22.75zM1924 338h26v26h-26zM1924 338h26v22.75h-26zM1927.25 338h22.75v22.75h-22.75zM1927.25 338h26v22.75h-26zM1930.5 338h22.75v22.75h-22.75zM1930.5 338h26v22.75h-26zM1933.75 338h22.75v22.75h-22.75zM1933.75 338h26v22.75h-26zM1937 338h22.75v22.75h-22.75zM1937 334.75h26v26h-26zM1940.25 334.75h22.75v26h-22.75zM1940.25 334.75h26v26h-26zM1943.5 334.75h22.75v26h-22.75zM1943.5 334.75h26v26h-26zM1946.75 334.75h22.75v26h-22.75zM1946.75 334.75h26v26h-26zM1950 334.75h22.75v26h-22.75zM1950 334.75h26v26h-26zM1953.25 334.75h22.75v26h-22.75zM1953.25 334.75h26v26h-26zM1956.5 334.75h22.75v26h-22.75zM1956.5 334.75h26v26h-26zM1959.75 334.75h22.75v26h-22.75zM1959.75 334.75h26v26h-26zM1959.75 334.75h26v22.75h-26zM1963 334.75h22.75v22.75h-22.75zM1963 334.75h26v22.75h-26zM1966.25 334.75h22.75v22.75h-22.75zM1966.25 334.75h26v22.75h-26zM1969.5 334.75h22.75v22.75h-22.75zM1969.5 334.75h26v22.75h-26zM1972.75 334.75h22.75v22.75h-22.75zM1972.75 334.75h26v22.75h-26zM1972.75 331.5h26v26h-26zM1976 331.5h22.75v26h-22.75zM1976 331.5h26v26h-26z"/>
<rect x="1117" y="760.7" width="38" height="2.0" fill="#fff" fill-opacity="0.85"/>
<path fill="#808000" d="M256.75 1036.75h26v26h-26zM260 1036.75h22.75v26h-22.75zM260 1036.75h26v26h-26zM263.25 1036.75h22.75v26h-22.75zM263.25 1036.75h26v26h-26zM266.5 1036.75h22.75v26h-22.75zM266.5 1036.75h26v26h-26zM269.75 1036.75h22.75v26h-22.75zM269.75 1036.75h26v26h-26zM273 1036.75h22.75v26h-22.75zM273 1036.75h26v26h-26zM273 1036.75h26v22.75h-26zM276.25 1036.75h22.75v22.75h-22.75zM276.25 1036.75h26v22.75h-26zM279.5 1036.75h22.75v22.75h-22.75zM279.5 1036.75h26v22.75h-26zM282.75 1036.75h22.75v22.75h-22.75zM282.75 1036.75h26v22.75h-26zM282.75 1033.5h26v26h-26zM286 1033.5h22.75v26h-22.75zM286 1033.5h26v26h-26zM289.25 1033.5h22.75v26h-22.75zM289.25 1033.5h26v26h-26zM292.5 1033.5h22.75v26h-22.75zM292.5 1033.5h26v26h-26zM295.75 1033.5h22.75v26h-22.75zM295.75 1033.5h26v26h-26zM299 1033.5h22.75v26h-22.75zM299 1033.5h26v26h-26zM302.25 1033.5h22.75v26h-22.75zM302.25 1033.5h26v26h-26zM305.5 1033.5h22.75v26h-22.75zM305.5 1033.5h26v22.75h-26zM308.75 1033.5h22.75v22.75h-22.75zM308.75 1033.5h26v22.75h-26zM312 1033.5h22.75v22.75h-22.75zM312 1033.5h26v22.75h-26zM315.25 1030.25h22.75v26h-22.75zM315.25 1030.25h26v26h-26zM318.5 1030.25h22.75v26h-22.75zM318.5 1030.25h26v26h-26zM321.75 1030.25h22.75v26h-22.75zM321.75 1030.25h26v26h-26zM325 1030.25h22.75v26h-22.75zM325 1030.25h26v26h-26zM328.25 1030.25h22.75v26h-22.75zM328.25 1030.25h26v26h-26zM331.5 1030.25h22.75v26h-22.75zM331.5 1030.25h26v26h-26zM334.75 1030.25h22.75v26h-22.75zM334.75 1030.25h26v22.75h-26zM338 1030.25h22.75v22.75h-22.75zM338 1030.25h26v22.75h-26zM341.25 1030.25h22.75v22.75h-22.75zM341.25 1030.25h26v22.75h-26zM344.5 1027h22.75v26h-22.75zM344.5 1027h26v26h-26zM347.75 1027h22.75v26h-22.75zM347.75 1027h26v26h-26zM351 1027h22.75v26h-22.75zM351 1027h26v26h-26zM354.25 1027h22.75v26h-22.75zM354.25 1027h26v26h-26zM357.5 1027h22.75v26h-22.75zM357.5 1027h26v26h-26zM360.75 1027h22.75v26h-22.75zM360.75 1027h26v26h-26zM364 1027h22.75v26h-22.75zM364 1027h26v22.75h-26zM367.25 1027h22.75v22.75h-22.75zM367.25 1027h26v22.75h-26zM370.5 1027h22.75v22.75h-22.75zM370.5 1027h26v22.75h-26zM370.5 1023.75h26v26h-26zM373.75 1023.75h22.75v26h-22.75zM373.75 1023.75h26v26h-26zM377 1023.75h22.75v26h-22.75zM377 1023.75h26v26h-26zM380.25 1023.75h22.75v26h-22.75zM380.25 1023.75h26v26h-26zM383.5 1023.75h22.75v26h-22.75zM383.5 1023.75h26v26h-26zM386.75 1023.75h22.75v26h-22.75zM386.75 1023.75h26v26h-26zM390 1023.75h22.75v26h-22.75zM390 1023.75h26v26h-26zM390 1023.75h26v22.75h-26zM393.25 1023.75h22.75v22.75h-22.75zM393.25 1023.75h26v22.75h-26zM396.5 1023.75h22.75v22.75h-22.75zM396.5 1023.75h26v22.75h-26zM399.75 1023.75h22.75v22.75h-22.75zM399.75 1023.75h26v22.75h-26zM399.75 1020.5h26v26h-26zM403 1020.5h22.75v26h-22.75zM403 1020.5h26v26h-26zM406.25 1020.5h22.75v26h-22.75zM406.25 1020.5h26v26h-26zM409.5 1020.5h22.75v26h-22.75zM409.5 1020.5h26v26h-26zM412.75 1020.5h22.75v26h-22.75zM412.75 1020.5h26v26h-26zM416 1020.5h22.75v26h-22.75zM416 1020.5h26v26h-26zM419.25 1020.5h22.75v26h-22.75zM419.25 1020.5h26v22.75h-26zM422.5 1020.5h22.75v22.75h-22.75zM422.5 1020.5h26v22.75h-26zM425.75 1020.5h22.75v22.75h-22.75zM425.75 1020.5h26v22.75h-26zM425.75 1017.25h26v26h-26zM429 1017.25h22.75v26h-22.75zM429 1017.25h26v26h-26zM432.25 1017.25h22.75v26h-22.75zM432.25 1017.25h26v26h-26zM435.5 1017.25h22.75v26h-22.75zM435.5 1017.25h26v26h-26zM438.75 1017.25h22.75v26h-22.75zM438.75 1017.25h26v26h-26zM442 1017.25h22.75v26h-22.75zM442 1017.25h26v26h-26zM445.25 1017.25h22.75v26h-22.75zM445.25 1017.25h26v22.75h-26zM448.5 1017.25h22.75v22.75h-22.75zM448.5 1017.25h26v22.75h-26zM451.75 1017.25h22.75v22.75h-22.75zM451.75 1017.25h26v22.75h-26zM455 1014h22.75v26h-22.75zM455 1014h26v26h-26zM458.25 1014h22.75v26h-22.75zM458.25 1014h26v26h-26zM461.5 1014h22.75v26h-22.75zM461.5 1014h26v26h-26zM464.75 1014h22.75v26h-22.75zM464.75 1014h26v26h-26zM468 1014h22.75v26h-22.75zM468 1014h26v26h-26zM471.25 1014h22.75v26h-22.75zM471.25 1014h26v26h-26zM471.25 1014h26v22.75h-26zM474.5 1014h22.75v22.75h-22.75zM474.5 1014h26v22.75h-26zM477.75 1014h22.75v22.75h-22.75zM477.75 1014h26v22.75h-26zM481 1010.75h22.75v26h-22.75zM481 1010.75h26v26h-26zM484.25 1010.75h22.75v26h-22.75zM484.25 1010.75h26v26h-26zM487.5 1010.75h22.75v26h-22.75zM487.5 1010.75h26v26h-26zM490.75 1010.75h22.75v26h-22.75zM490.75 1010.75h26v26h-26zM494 1010.75h22.75v26h-22.75zM494 1010.75h26v26h-26zM497.25 1010.75h22.75v26h-22.75zM497.25 1010.75h26v22.75h-26zM500.5 1010.75h22.75v22.75h-22.75zM500.5 1010.75h26v22.75h-26zM503.75 1010.75h22.75v22.75h-22.75zM503.75 1010.75h26v22.75h-26zM503.75 1007.5h26v26h-26zM507 1007.5h22.75v26h-22.75zM507 1007.5h26v26h-26zM510.25 1007.5h22.75v26h-22.75zM510.25 1007.5h26v26h-26zM513.5 1007.5h22.75v26h-22.75zM513.5 1007.5h26v26h-26zM516.75 1007.5h22.75v26h-22.75zM516.75 1007.5h26v26h-26zM520 1007.5h22.75v26h-22.75zM520 1007.5h26v26h-26zM520 1007.5h26v22.75h-26zM523.25 1007.5h22.75v22.75h-22.75zM523.25 1007.5h26v22.75h-26zM526.5 1007.5h22.75v22.75h-22.75zM526.5 1007.5h26v22.75h-26zM529.75 1007.5h22.75v22.75h-22.75zM529.75 1004.25h26v26h-26zM533 1004.25h22.75v26h-22.75zM533 1004.25h26v26h-26zM536.25 1004.25h22.75v26h-22.75zM536.25 1004.25h26v26h-26zM539.5 1004.25h22.75v26h-22.75zM539.5 1004.25h26v26h-26zM542.75 1004.25h22.75v26h-22.75zM542.75 1004.25h26v26h-26zM546 1004.25h22.75v22.75h-22.75zM546 1004.25h26v22.75h-26zM549.25 1004.25h22.75v22.75h-22.75zM549.25 1004.25h26v22.75h-26zM552.5 1004.25h22.75v22.75h-22.75zM552.5 1004.25h26v22.75h-26zM552.5 1001h26v26h-26zM555.75 1001h22.75v26h-22.75zM555.75 1001h26v26h-26zM559 1001h22.75v26h-22.75zM559 1001h26v26h-26zM562.25 1001h22.75v26h-22.75zM562.25 1001h26v26h-26zM565.5 1001h22.75v26h-22.75zM565.5 1001h26v26h-26zM568.75 1001h22.75v26h-22.75zM568.75 1001h26v22.75h-26zM572 1001h22.75v22.75h-22.75zM572 1001h26v22.75h-26zM575.25 1001h22.75v22.75h-22.75zM575.25 1001h26v22.75h-26zM575.25 997.75h26v26h-26zM578.5 997.75h22.75v26h-22.75zM578.5 997.75h26v26h-26zM581.75 997.75h22.75v26h-22.75zM581.75 997.75h26v26h-26zM585 997.75h22.75v26h-22.75zM585 997.75h26v26h-26zM588.25 997.75h22.75v26h-22.75zM588.25 997.75h26v26h-26zM591.5 997.75h22.75v26h-22.75zM591.5 997.75h26v22.75h-26zM594.75 997.75h22.75v22.75h-22.75zM594.75 997.75h26v22.75h-26zM598 997.75h22.75v22.75h-22.75zM598 997.75h26v22.75h-26zM598 994.5h26v26h-26zM601.25 994.5h22.75v26h-22.75zM601.25 994.5h26v26h-26zM604.5 994.5h22.75v26h-22.75zM604.5 994.5h26v26h-26zM607.75 994.5h22.75v26h-22.75zM607.75 994.5h26v26h-26zM611 994.5h22.75v26h-22.75zM611 994.5h26v26h-26zM614.25 994.5h22.75v22.75h-22.75zM614.25 994.5h26v22.75h-26zM617.5 994.5h22.75v22.75h-22.75zM617.5 994.5h26v22.75h-26zM620.75 994.5h22.75v22.75h-22.75zM620.75 991.25h26v26h-26zM624 991.25h22.75v26h-22.75zM624 991.25h26v26h-26zM627.25 991.25h22.75v26h-22.75zM627.25 991.25h26v26h-26zM630.5 991.25h22.75v26h-22.75zM630.5 991.25h26v26h-26zM633.75 991.25h22.75v26h-22.75zM633.75 991.25h26v26h-26zM633.75 991.25h26v22.75h-26zM637 991.25h22.75v22.75h-22.75zM637 991.25h26v22.75h-26zM640.25 991.25h22.75v22.75h-22.75zM640.25 991.25h26v22.75h-26zM640.25 988h26v26h-26zM643.5 988h22.75v26h-22.75zM643.5 988h26v26h-26zM646.75 988h22.75v26h-22.75zM646.75 988h26v26h-26zM650 988h22.75v26h-22.75zM650 988h26v26h-26zM653.25 988h22.75v26h-22.75zM653.25 988h26v26h-26zM656.5 988h22.75v26h-22.75zM656.5 988h26v22.75h-26zM659.75 988h22.75v22.75h-22.75zM659.75 988h26v22.75h-26zM663 984.75h22.75v26h-22.75zM663 984.75h26v26h-26zM666.25 984.75h22.75v26h-22.75zM666.25 984.75h26v26h-26zM669.5 984.75h22.75v26h-22.75zM669.5 984.75h26v26h-26zM672.75 984.75h22.75v26h-22.75zM672.75 984.75h26v26h-26zM676 984.75h22.75v26h-22.75zM676 984.75h26v26h-26zM676 984.75h26v22.75h-26zM679.25 984.75h22.75v22.75h-22.75zM679.25 984.75h26v22.75h-26zM682.5 984.75h22.75v22.75h-22.75zM682.5 981.5h26v26h-26zM685.75 981.5h22.75v26h-22.75zM685.75 981.5h26v26h-26zM689 981.5h22.75v26h-22.75zM689 981.5h26v26h-26zM692.25 981.5h22.75v26h-22.75zM692.25 981.5h26v26h-26zM695.5 981.5h22.75v26h-22.75zM695.5 981.5h26v26h-26zM695.5 981.5h26v22.75h-26zM698.75 981.5h22.75v22.75h-22.75zM698.75 981.5h26v22.75h-26zM702 981.5h22.75v22.75h-22.75zM702 981.5h26v22.75h-26zM702 978.25h26v26h-26zM705.25 978.25h22.75v26h-22.75zM705.25 978.25h26v26h-26zM708.5 978.25h22.75v26h-22.75zM708.5 978.25h26v26h-26zM711.75 978.25h22.75v26h-22.75zM711.75 978.25h26v26h-26zM715 978.25h22.75v26h-22.75zM715 978.25h26v22.75h-26zM718.25 978.25h22.75v22.75h-22.75zM718.25 978.25h26v22.75h-26zM721.5 978.25h22.75v22.75h-22.75zM721.5 975h26v26h-26zM724.75 975h22.75v26h-22.75zM724.75 975h26v26h-26zM728 975h22.75v26h-22.75zM728 975h26v26h-26zM731.25 975h22.75v26h-22.75zM731.25 975h26v26h-26zM734.5 975h22.75v26h-22.75zM734.5 975h26v22.75h-26zM737.75 975h22.75v22.75h-22.75zM737.75 975h26v22.75h-26zM741 971.75h22.75v26h-22.75zM741 971.75h26v26h-26zM744.25 971.75h22.75v26h-22.75zM744.25 971.75h26v26h-26zM747.5 971.75h22.75v26h-22.75zM747.5 971.75h26v26h-26zM750.75 971.75h22.75v26h-22.75zM750.75 971.75h26v26h-26zM754 971.75h22.75v22.75h-22.75zM754 971.75h26v22.75h-26zM757.25 971.75h22.75v22.75h-22.75zM757.25 971.75h26v22.75h-26zM757.25 968.5h26v26h-26zM760.5 968.5h22.75v26h-22.75zM760.5 968.5h26v26h-26zM763.75 968.5h22.75v26h-22.75zM763.75 968.5h26v26h-26zM767 968.5h22.75v26h-22.75zM767 968.5h26v26h-26zM770.25 968.5h22.75v26h-22.75zM770.25 968.5h26v22.75h-26zM773.5 968.5h22.75v22.75h-22.75zM773.5 968.5h26v22.75h-26zM776.75 965.25h22.75v26h-22.75zM776.75 965.25h26v26h-26zM780 965.25h22.75v26h-22.75zM780 965.25h26v26h-26zM783.25 965.25h22.75v26h-22.75zM783.25 965.25h26v26h-26zM786.5 965.25h22.75v26h-22.75zM786.5 965.25h26v26h-26zM786.5 965.25h26v22.75h-26zM789.75 965.25h22.75v22.75h-22.75zM789.75 965.25h26v22.75h-26zM793 962h22.75v26h-22.75zM793 962h26v26h-26zM796.25 962h22.75v26h-22.75zM796.25 962h26v26h-26zM799.5 962h22.75v26h-22.75zM799.5 962h26v26h-26zM802.75 962h22.75v26h-22.75zM802.75 962h26v26h-26zM802.75 962h26v22.75h-26zM806 962h22.75v22.75h-22.75zM806 962h26v22.75h-26zM809.25 962h22.75v22.75h-22.75zM809.25 958.75h26v26h-26zM812.5 958.75h22.75v26h-22.75zM812.5 958.75h26v26h-26zM815.75 958.75h22.75v26h-22.75zM815.75 958.75h26v26h-26zM819 958.75h22.75v26h-22.75zM819 958.75h26v26h-26zM819 958.75h26v22.75h-26zM822.25 958.75h22.75v22.75h-22.75zM822.25 958.75h26v22.75h-26zM825.5 958.75h22.75v22.75h-22.75zM825.5 955.5h26v26h-26zM828.75 955.5h22.75v26h-22.75zM828.75 955.5h26v26h-26zM832 955.5h22.75v26h-22.75zM832 955.5h26v26h-26zM835.25 955.5h22.75v26h-22.75zM835.25 955.5h26v26h-26zM835.25 955.5h26v22.75h-26zM838.5 955.5h22.75v22.75h-22.75zM838.5 955.5h26v22.75h-26zM838.5 952.25h26v26h-26zM841.75 952.25h22.75v26h-22.75zM841.75 952.25h26v26h-26zM845 952.25h22.75v26h-22.75zM845 952.25h26v26h-26zM848.25 952.25h22.75v26h-22.75zM848.25 952.25h26v26h-26zM851.5 952.25h22.75v22.75h-22.75zM851.5 952.25h26v22.75h-26zM854.75 952.25h22.75v22.75h-22.75zM854.75 952.25h26v22.75h-26zM854.75 949h26v26h-26zM858 949h22.75v26h-22.75zM858 949h26v26h-26zM861.25 949h22.75v26h-22.75zM861.25 949h26v26h-26zM864.5 949h22.75v26h-22.75zM864.5 949h26v26h-26zM864.5 949h26v22.75h-26zM867.75 949h22.75v22.75h-22.75zM867.75 949h26v22.75h-26zM871 945.75h22.75v26h-22.75zM871 945.75h26v26h-26zM874.25 945.75h22.75v26h-22.75zM874.25 945.75h26v26h-26zM877.5 945.75h22.75v26h-22.75zM877.5 945.75h26v26h-26zM880.75 945.75h22.75v22.75h-22.75zM880.75 945.75h26v22.75h-26zM884 945.75h22.75v22.75h-22.75zM884 942.5h26v26h-26zM887.25 942.5h22.75v26h-22.75zM887.25 942.5h26v26h-26zM890.5 942.5h22.75v26h-22.75zM890.5 942.5h26v26h-26zM893.75 942.5h22.75v26h-22.75zM893.75 942.5h26v22.75h-26zM897 942.5h22.75v22.75h-22.75zM897 942.5h26v22.75h-26zM897 939.25h26v26h-26zM900.25 939.25h22.75v26h-22.75zM900.25 939.25h26v26h-26zM903.5 939.25h22.75v26h-22.75zM903.5 939.25h26v26h-26zM906.75 939.25h22.75v26h-22.75zM906.75 939.25h26v26h-26zM906.75 939.25h26v22.75h-26zM910 939.25h22.75v22.75h-22.75zM910 939.25h26v22.75h-26zM910 936h26v26h-26zM913.25 936h22.75v26h-22.75zM913.25 936h26v26h-26zM916.5 936h22.75v26h-22.75zM916.5 936h26v26h-26zM919.75 936h22.75v26h-22.75zM919.75 936h26v26h-26zM919.75 936h26v22.75h-26zM923 936h22.75v22.75h-22.75zM923 936h26v22.75h-26zM926.25 932.75h22.75v26h-22.75zM926.25 932.75h26v26h-26zM929.5 932.75h22.75v26h-22.75zM929.5 932.75h26v26h-26zM932.75 932.75h22.75v26h-22.75zM932.75 932.75h26v26h-26zM932.75 932.75h26v22.75h-26zM936 932.75h22.75v22.75h-22.75zM936 932.75h26v22.75h-26zM936 929.5h26v26h-26zM939.25 929.5h22.75v26h-22.75zM939.25 929.5h26v26h-26zM942.5 929.5h22.75v26h-22.75zM942.5 929.5h26v26h-26zM945.75 929.5h22.75v26h-22.75zM945.75 929.5h22.75v22.75h-22.75zM945.75 929.5h26v22.75h-26zM949 929.5h22.75v22.75h-22.75zM949 926.25h26v26h-26zM952.25 926.25h22.75v26h-22.75zM952.25 926.25h26v26h-26zM955.5 926.25h22.75v26h-22.75zM955.5 926.25h26v26h-26zM958.75 926.25h22.75v22.75h-22.75zM958.75 926.25h26v22.75h-26zM962 923h22.75v26h-22.75zM962 923h26v26h-26zM965.25 923h22.75v26h-22.75zM965.25 923h26v26h-26zM968.5 923h22.75v26h-22.75zM968.5 923h26v26h-26zM968.5 923h26v22.75h-26zM971.75 923h22.75v22.75h-22.75zM971.75 919.75h26v26h-26zM975 919.75h22.75v26h-22.75zM975 919.75h26v26h-26zM978.25 919.75h22.75v26h-22.75zM978.25 919.75h26v26h-26zM978.25 919.75h26v22.75h-26zM981.5 919.75h22.75v22.75h-22.75zM981.5 919.75h26v22.75h-26zM984.75 916.5h22.75v26h-22.75zM984.75 916.5h26v26h-26zM988 916.5h22.75v26h-22.75zM988 916.5h26v26h-26zM991.25 916.5h22.75v22.75h-22.75zM991.25 916.5h26v22.75h-26zM994.5 916.5h22.75v22.75h-22.75zM994.5 913.25h26v26h-26zM997.75 913.25h22.75v26h-22.75zM997.75 913.25h26v26h-26zM1001 913.25h22.75v26h-22.75zM1001 913.25h26v22.75h-26zM1004.25 913.25h22.75v22.75h-22.75zM1004.25 910h26v26h-26zM1007.5 910h22.75v26h-22.75zM1007.5 910h26v26h-26zM1010.75 910h22.75v26h-22.75zM1010.75 910h26v26h-26zM1010.75 910h26v22.75h-26zM1014 910h22.75v22.75h-22.75zM1014 906.75h26v26h-26zM1017.25 906.75h22.75v26h-22.75zM1017.25 906.75h26v26h-26zM1020.5 906.75h22.75v26h-22.75zM1020.5 906.75h26v22.75h-26zM1023.75 906.75h22.75v22.75h-22.75zM1023.75 903.5h26v26h-26zM1027 903.5h22.75v26h-22.75zM1027 903.5h26v26h-26zM1030.25 903.5h22.75v26h-22.75zM1030.25 903.5h26v22.75h-26zM1033.5 903.5h22.75v22.75h-22.75zM1033.5 900.25h26v26h-26zM1036.75 900.25h22.75v26h-22.75zM1036.75 900.25h26v26h-26zM1040 900.25h22.75v26h-22.75zM1040 900.25h26v22.75h-26zM1040 897h26v26h-26zM1043.25 897h22.75v26h-22.75zM1043.25 897h26v26h-26zM1046.5 897h22.75v26h-22.75zM1046.5 897h26v26h-26zM1046.5 897h26v22.75h-26zM1049.75 897h22.75v22.75h-22.75zM1049.75 897h26v22.75h-26zM1049.75 893.75h26v26h-26zM1053 893.75h22.75v26h-22.75zM1053 893.75h26v26h-26zM1056.25 893.75h22.75v26h-22.75zM1056.25 893.75h26v22.75h-26zM1059.5 890.5h22.75v26h-22.75zM1059.5 890.5h26v26h-26zM1062.75 890.5h22.75v26h-22.75zM1062.75 890.5h26v26h-26zM1062.75 890.5h26v22.75h-26zM1066 890.5h22.75v22.75h-22.75zM1066 890.5h26v22.75h-26zM1066 887.25h26v26h-26zM1069.25 887.25h22.75v26h-22.75zM1069.25 887.25h26v26h-26zM1072.5 887.25h22.75v26h-22.75zM1072.5 887.25h26v22.75h-26zM1072.5 884h26v26h-26zM1075.75 884h22.75v26h-22.75zM1075.75 884h26v26h-26zM1079 884h22.75v26h-22.75zM1079 884h26v26h-26zM1079 884h26v22.75h-26zM1082.25 880.75h22.75v26h-22.75zM1082.25 880.75h26v26h-26zM1085.5 880.75h22.75v26h-22.75zM1085.5 880.75h26v26h-26zM1085.5 880.75h26v22.75h-26zM1088.75 880.75h22.75v22.75h-22.75zM1088.75 877.5h26v26h-26zM1092 877.5h22.75v26h-22.75zM1092 877.5h26v26h-26zM1092 877.5h26v22.75h-26zM1095.25 877.5h22.75v22.75h-22.75zM1095.25 877.5h26v22.75h-26zM1095.25 874.25h26v26h-26zM1098.5 874.25h22.75v26h-22.75zM1098.5 874.25h26v26h-26zM1098.5 874.25h26v22.75h-26zM1101.75 874.25h22.75v22.75h-22.75zM1101.75 871h26v26h-26zM1105 871h22.75v26h-22.75zM1105 871h26v26h-26zM1105 871h26v22.75h-26zM1108.25 871h22.75v22.75h-22.75zM1108.25 867.75h26v26h-26zM1111.5 867.75h22.75v26h-22.75zM1111.5 867.75h26v22.75h-26zM1114.75 864.5h22.75v26h-22.75zM1114.75 864.5h26v26h-26zM1118 864.5h22.75v26h-22.75zM1118 864.5h26v22.75h-26zM1118 861.25h26v26h-26zM1121.25 861.25h22.75v26h-22.75zM1121.25 861.25h26v26h-26zM1121.25 861.25h26v22.75h-26zM1124.5 861.25h22.75v22.75h-22.75zM1124.5 858h26v26h-26zM1127.75 858h22.75v26h-22.75zM1127.75 858h26v26h-26zM1127.75 858h26v22.75h-26zM1131 854.75h22.75v26h-22.75zM1131 854.75h26v26h-26zM1134.25 854.75h22.75v26h-22.75zM1134.25 854.75h26v22.75h-26zM1134.25 851.5h26v26h-26zM1137.5 851.5h22.75v26h-22.75zM1137.5 851.5h26v26h-26zM1137.5 851.5h26v22.75h-26zM1140.75 848.25h22.75v26h-22.75zM1140.75 848.25h26v26h-26zM1144 848.25h22.75v22.75h-22.75zM1144 848.25h26v22.75h-26zM1144 845h26v26h-26zM1147.25 845h22.75v26h-22.75zM1147.25 845h26v22.75h-26zM1147.25 841.75h26v26h-26zM1150.5 841.75h22.75v26h-22.75zM1150.5 841.75h26v26h-26zM1150.5 841.75h26v22.75h-26zM1153.75 838.5h22.75v26h-22.75zM1153.75 838.5h26v26h-26zM1153.75 838.5h26v22.75h-26zM1157 835.25h22.75v26h-22.75zM1157 835.25h26v26h-26zM1160.25 835.25h22.75v22.75h-22.75zM1160.25 832h26v26h-26zM1163.5 832h22.75v22.75h-22.75zM1163.5 828.75h26v26h-26zM1166.75 828.75h22.75v22.75h-22.75zM1166.75 825.5h26v26h-26zM1166.75 825.5h26v22.75h-26zM1170 825.5h22.75v22.75h-22.75zM1170 822.25h26v26h-26zM1170 822.25h26v22.75h-26zM1173.25 819h22.75v26h-22.75zM1173.25 819h26v26h-26zM1173.25 819h26v22.75h-26zM1173.25 815.75h26v26h-26zM1176.5 815.75h22.75v26h-22.75zM1176.5 815.75h26v22.75h-26zM1176.5 812.5h26v26h-26zM1179.75 812.5h22.75v26h-22.75zM1179.75 812.5h22.75v22.75h-22.75zM1179.75 809.25h26v26h-26zM1179.75 809.25h26v22.75h-26zM1183 806h22.75v26h-22.75zM1183 806h26v26h-26zM1183 806h26v22.75h-26zM1183 802.75h26v26h-26zM1183 802.75h26v22.75h-26zM1186.25 799.5h22.75v26h-22.75zM1186.25 799.5h26v22.75h-26zM1186.25 796.25h26v26h-26zM1186.25 796.25h26v22.75h-26zM1189.5 793h22.75v26h-22.75zM1189.5 793h22.75v22.75h-22.75zM1189.5 789.75h26v26h-26zM1189.5 789.75h26v22.75h-26zM1189.5 786.5h26v26h-26zM1189.5 786.5h26v22.75h-26zM1189.5 783.25h26v26h-26zM1192.75 783.25h22.75v22.75h-22.75zM1192.75 780h22.75v26h-22.75zM1192.75 780h22.75v22.75h-22.75zM1192.75 776.75h22.75v26h-22.75zM1192.75 776.75h26v26h-26zM1192.75 776.75h26v22.75h-26zM1192.75 773.5h26v26h-26zM1192.75 773.5h26v22.75h-26zM1192.75 770.25h26v26h-26zM1192.75 770.25h26v22.75h-26zM1192.75 767h26v26h-26zM1192.75 767h26v22.75h-26zM1192.75 763.75h26v26h-26zM1192.75 763.75h26v22.75h-26zM1192.75 760.5h26v26h-26zM1192.75 760.5h26v22.75h-26zM1192.75 757.25h26v26h-26zM1192.75 757.25h22.75v26h-22.75zM1192.75 757.25h22.75v22.75h-22.75zM1192.75 754h22.75v26h-22.75zM1192.75 754h22.75v22.75h-22.75zM1192.75 750.75h22.75v26h-22.75zM1189.5 750.75h26v26h-26zM1189.5 750.75h26v22.75h-26zM1189.5 747.5h26v26h-26zM1189.5 747.5h26v22.75h-26zM1189.5 744.25h26v26h-26zM1189.5 744.25h26v22.75h-26zM1189.5 741h22.75v26h-22.75zM1189.5 741h22.75v22.75h-22.75zM1186.25 737.75h26v26h-26zM1186.25 737.75h26v22.75h-26zM1186.25 734.5h26v26h-26zM1186.25 734.5h26v22.75h-26zM1186.25 731.25h22.75v26h-22.75zM1183 731.25h26v22.75h-26zM1183 728h26v26h-26zM1183 728h26v22.75h-26zM1183 724.75h26v26h-26zM1183 724.75h22.75v26h-22.75zM1183 724.75h22.75v22.75h-22.75zM1179.75 724.75h26v22.75h-26zM1179.75 721.5h26v26h-26zM1179.75 721.5h26v22.75h-26zM1179.75 718.25h26v26h-26zM1179.75 718.25h22.75v26h-22.75zM1176.5 718.25h26v22.75h-26zM1176.5 715h26v26h-26zM1176.5 715h26v22.75h-26zM1176.5 711.75h22.75v26h-22.75zM1173.25 711.75h26v22.75h-26zM1173.25 708.5h26v26h-26zM1173.25 708.5h22.75v22.75h-22.75zM1173.25 705.25h22.75v26h-22.75zM1170 705.25h26v26h-26zM1170 705.25h26v22.75h-26zM1170 702h26v26h-26zM1170 702h22.75v26h-22.75zM1166.75 702h26v22.75h-26zM1166.75 698.75h26v26h-26zM1166.75 698.75h26v22.75h-26zM1166.75 698.75h22.75v22.75h-22.75zM1166.75 695.5h22.75v26h-22.75zM1163.5 695.5h26v26h-26zM1163.5 695.5h26v22.75h-26zM1163.5 692.25h26v26h-26zM1163.5 692.25h22.75v26h-22.75zM1163.5 692.25h22.75v22.75h-22.75zM1160.25 692.25h26v22.75h-26zM1160.25 689h26v26h-26zM1160.25 689h26v22.75h-26zM1160.25 685.75h22.75v26h-22.75zM1157 685.75h26v26h-26zM1157 685.75h26v22.75h-26zM1157 682.5h26v26h-26zM1157 682.5h22.75v26h-22.75zM1153.75 682.5h26v22.75h-26zM1153.75 679.25h26v26h-26zM1153.75 679.25h22.75v22.75h-22.75zM1153.75 676h22.75v26h-22.75zM1150.5 676h26v26h-26zM1150.5 676h26v22.75h-26zM1150.5 672.75h26v26h-26zM1150.5 672.75h22.75v26h-22.75zM1147.25 672.75h26v26h-26zM1147.25 672.75h26v22.75h-26zM1147.25 669.5h26v26h-26zM1147.25 669.5h22.75v26h-22.75zM1147.25 669.5h22.75v22.75h-22.75zM1144 669.5h26v22.75h-26zM1144 666.25h26v26h-26zM1144 666.25h26v22.75h-26zM1144 666.25h22.75v22.75h-22.75zM1140.75 663h26v26h-26zM1140.75 663h26v22.75h-26zM1140.75 659.75h22.75v26h-22.75zM1137.5 659.75h26v22.75h-26zM1137.5 656.5h26v26h-26zM1137.5 656.5h22.75v26h-22.75zM1134.25 656.5h26v22.75h-26zM1134.25 653.25h26v26h-26zM1134.25 653.25h22.75v22.75h-22.75zM1134.25 650h22.75v26h-22.75zM1131 650h26v26h-26zM1131 650h26v22.75h-26zM1131 646.75h22.75v26h-22.75zM1127.75 646.75h26v26h-26zM1127.75 646.75h26v22.75h-26zM1127.75 643.5h26v26h-26zM1127.75 643.5h22.75v26h-22.75zM1124.5 643.5h26v22.75h-26zM1124.5 640.25h26v26h-26zM1124.5 640.25h22.75v22.75h-22.75zM1124.5 637h22.75v26h-22.75zM1121.25 637h26v26h-26zM1121.25 637h26v22.75h-26zM1121.25 633.75h26v26h-26zM1121.25 633.75h22.75v26h-22.75zM1118 633.75h26v26h-26zM1118 633.75h26v22.75h-26zM1118 630.5h26v26h-26zM1118 630.5h22.75v26h-22.75zM1118 630.5h22.75v22.75h-22.75zM1114.75 627.25h26v26h-26zM1114.75 627.25h26v22.75h-26zM1114.75 624h22.75v26h-22.75zM1111.5 624h26v26h-26zM1111.5 624h26v22.75h-26zM1111.5 620.75h26v26h-26zM1111.5 620.75h22.75v26h-22.75zM1108.25 620.75h26v22.75h-26zM1108.25 617.5h26v26h-26zM1108.25 617.5h26v22.75h-26zM1108.25 614.25h22.75v26h-22.75zM1105 614.25h26v26h-26zM1105 614.25h26v22.75h-26zM1105 611h26v26h-26zM1105 611h22.75v22.75h-22.75zM1101.75 611h26v22.75h-26zM1101.75 607.75h26v26h-26zM1101.75 607.75h26v22.75h-26zM1101.75 604.5h26v26h-26zM1101.75 604.5h22.75v26h-22.75zM1098.5 604.5h26v22.75h-26zM1098.5 601.25h26v26h-26zM1098.5 601.25h22.75v22.75h-22.75zM1098.5 598h22.75v26h-22.75zM1095.25 598h26v26h-26zM1095.25 598h26v22.75h-26zM1095.25 594.75h26v26h-26zM1095.25 594.75h22.75v22.75h-22.75zM1095.25 591.5h22.75v26h-22.75zM1092 591.5h26v26h-26zM1092 591.5h26v22.75h-26zM1092 588.25h26v26h-26zM1092 588.25h26v22.75h-26zM1092 585h22.75v26h-22.75zM1088.75 585h26v26h-26zM1088.75 585h26v22.75h-26zM1088.75 581.75h26v26h-26zM1088.75 581.75h26v22.75h-26zM1088.75 578.5h26v26h-26zM1088.75 578.5h22.75v26h-22.75zM1088.75 578.5h22.75v22.75h-22.75zM1085.5 575.25h26v26h-26zM1085.5 575.25h26v22.75h-26zM1085.5 572h26v26h-26zM1085.5 572h26v22.75h-26zM1085.5 568.75h26v26h-26zM1085.5 568.75h22.75v26h-22.75zM1085.5 568.75h22.75v22.75h-22.75zM1085.5 565.5h22.75v26h-22.75zM1082.25 565.5h26v22.75h-26zM1082.25 562.25h26v26h-26zM1082.25 562.25h26v22.75h-26zM1082.25 559h26v26h-26zM1082.25 559h26v22.75h-26zM1082.25 555.75h26v26h-26zM1082.25 555.75h26v22.75h-26zM1082.25 552.5h26v26h-26zM1082.25 552.5h26v22.75h-26zM1082.25 549.25h26v26h-26zM1082.25 549.25h26v22.75h-26zM1082.25 546h26v26h-26zM1082.25 546h26v22.75h-26zM1082.25 542.75h26v26h-26zM1082.25 542.75h26v22.75h-26zM1082.25 539.5h26v26h-26zM1082.25 539.5h26v22.75h-26zM1082.25 536.25h26v26h-26zM1082.25 536.25h26v22.75h-26zM1085.5 533h22.75v26h-22.75zM1085.5 533h22.75v22.75h-22.75zM1085.5 529.75h26v26h-26zM1085.5 529.75h26v22.75h-26zM1085.5 526.5h26v26h-26zM1085.5 526.5h26v22.75h-26zM1088.75 523.25h22.75v26h-22.75zM1088.75 523.25h26v26h-26zM1088.75 523.25h26v22.75h-26zM1088.75 520h26v26h-26zM1088.75 520h26v22.75h-26zM1092 516.75h22.75v26h-22.75zM1092 516.75h26v26h-26zM1092 516.75h26v22.75h-26zM1092 513.5h26v26h-26zM1095.25 513.5h22.75v26h-22.75zM1095.25 513.5h22.75v22.75h-22.75zM1095.25 510.25h26v26h-26zM1095.25 510.25h26v22.75h-26zM1098.5 507h22.75v26h-22.75zM1098.5 507h26v26h-26zM1098.5 507h26v22.75h-26zM1098.5 503.75h26v26h-26zM1101.75 503.75h22.75v26h-22.75zM1101.75 503.75h26v22.75h-26zM1101.75 500.5h26v26h-26zM1105 500.5h22.75v26h-22.75zM1105 500.5h26v22.75h-26zM1105 497.25h26v26h-26zM1108.25 497.25h22.75v26h-22.75zM1108.25 497.25h26v22.75h-26zM1108.25 494h26v26h-26zM1111.5 494h22.75v26h-22.75zM1111.5 494h26v22.75h-26zM1111.5 490.75h26v26h-26zM1114.75 490.75h22.75v26h-22.75zM1114.75 490.75h26v26h-26zM1114.75 490.75h26v22.75h-26zM1114.75 487.5h26v26h-26zM1118 487.5h22.75v26h-22.75zM1118 487.5h26v26h-26zM1118 487.5h26v22.75h-26zM1121.25 484.25h22.75v26h-22.75zM1121.25 484.25h26v26h-26zM1124.5 484.25h22.75v22.75h-22.75zM1124.5 481h26v26h-26zM1127.75 481h22.75v26h-22.75zM1127.75 481h26v22.75h-26zM1131 477.75h22.75v26h-22.75zM1131 477.75h26v26h-26zM1134.25 477.75h22.75v22.75h-22.75zM1134.25 474.5h26v26h-26zM1137.5 474.5h22.75v26h-22.75zM1137.5 474.5h26v26h-26zM1137.5 474.5h26v22.75h-26zM1140.75 471.25h22.75v26h-22.75zM1140.75 471.25h26v26h-26zM1144 471.25h22.75v22.75h-22.75zM1144 471.25h26v22.75h-26zM1144 468h26v26h-26zM1147.25 468h22.75v26h-22.75zM1147.25 468h26v26h-26zM1150.5 468h22.75v22.75h-22.75zM1150.5 468h26v22.75h-26zM1150.5 464.75h26v26h-26zM1153.75 464.75h22.75v26h-22.75zM1153.75 464.75h26v26h-26zM1157 464.75h22.75v22.75h-22.75zM1157 464.75h26v22.75h-26zM1157 461.5h26v26h-26zM1160.25 461.5h22.75v26h-22.75zM1160.25 461.5h26v26h-26zM1160.25 461.5h26v22.75h-26zM1163.5 461.5h22.75v22.75h-22.75zM1163.5 461.5h26v22.75h-26zM1163.5 458.25h26v26h-26zM1166.75 458.25h22.75v26h-22.75zM1166.75 458.25h26v26h-26zM1170 458.25h22.75v22.75h-22.75zM1170 458.25h26v22.75h-26zM1173.25 455h22.75v26h-22.75zM1173.25 455h26v26h-26zM1176.5 455h22.75v26h-22.75zM1176.5 455h26v22.75h-26zM1179.75 455h22.75v22.75h-22.75zM1179.75 451.75h26v26h-26zM1183 451.75h22.75v26h-22.75zM1183 451.75h26v26h-26zM1186.25 451.75h22.75v22.75h-22.75zM1186.25 451.75h26v22.75h-26zM1186.25 448.5h26v26h-26zM1189.5 448.5h22.75v26h-22.75zM1189.5 448.5h26v26h-26zM1192.75 448.5h22.75v26h-22.75zM1192.75 448.5h26v26h-26zM1192.75 448.5h26v22.75h-26zM1196 448.5h22.75v22.75h-22.75zM1196 445.25h26v26h-26zM1199.25 445.25h22.75v26h-22.75zM1199.25 445.25h26v26h-26zM1202.5 445.25h22.75v26h-22.75zM1202.5 445.25h26v22.75h-26zM1205.75 445.25h22.75v22.75h-22.75zM1205.75 442h26v26h-26zM1209 442h22.75v26h-22.75zM1209 442h26v26h-26zM1212.25 442h22.75v22.75h-22.75zM1212.25 442h26v22.75h-26zM1215.5 442h22.75v22.75h-22.75zM1215.5 438.75h22.75v26h-22.75zM1215.5 438.75h26v26h-26zM1218.75 438.75h22.75v26h-22.75zM1218.75 438.75h26v26h-26zM1222 438.75h22.75v26h-22.75zM1222 438.75h26v22.75h-26zM1225.25 435.5h22.75v26h-22.75zM1225.25 435.5h26v26h-26zM1228.5 435.5h22.75v26h-22.75zM1228.5 435.5h26v26h-26zM1231.75 435.5h22.75v26h-22.75zM1231.75 435.5h26v22.75h-26zM1235 435.5h22.75v22.75h-22.75zM1235 432.25h26v26h-26zM1238.25 432.25h22.75v26h-22.75zM1238.25 432.25h26v26h-26zM1241.5 432.25h22.75v26h-22.75zM1241.5 432.25h26v26h-26zM1241.5 432.25h26v22.75h-26zM1244.75 432.25h22.75v22.75h-22.75zM1244.75 432.25h26v22.75h-26zM1248 429h22.75v26h-22.75zM1248 429h26v26h-26zM1251.25 429h22.75v26h-22.75zM1251.25 429h26v26h-26zM1254.5 429h22.75v26h-22.75zM1254.5 429h26v22.75h-26zM1257.75 429h22.75v22.75h-22.75zM1257.75 425.75h26v26h-26zM1261 425.75h22.75v26h-22.75zM1261 425.75h26v26h-26zM1264.25 425.75h22.75v26h-22.75zM1264.25 425.75h26v26h-26zM1267.5 425.75h22.75v22.75h-22.75zM1267.5 425.75h26v22.75h-26zM1270.75 425.75h22.75v22.75h-22.75zM1270.75 422.5h26v26h-26zM1274 422.5h22.75v26h-22.75zM1274 422.5h26v26h-26zM1277.25 422.5h22.75v26h-22.75zM1277.25 422.5h26v26h-26zM1280.5 422.5h22.75v22.75h-22.75zM1280.5 422.5h26v22.75h-26zM1283.75 422.5h22.75v22.75h-22.75zM1283.75 419.25h26v26h-26zM1287 419.25h22.75v26h-22.75zM1287 419.25h26v26h-26zM1290.25 419.25h22.75v26h-22.75zM1290.25 419.25h26v26h-26zM1293.5 419.25h22.75v22.75h-22.75zM1293.5 419.25h26v22.75h-26zM1296.75 416h22.75v26h-22.75zM1296.75 416h26v26h-26zM1300 416h22.75v26h-22.75zM1300 416h26v26h-26zM1303.25 416h22.75v26h-22.75zM1303.25 416h26v26h-26zM1306.5 416h22.75v22.75h-22.75zM1306.5 416h26v22.75h-26zM1309.75 416h22.75v22.75h-22.75zM1309.75 416h26v22.75h-26zM1309.75 412.75h26v26h-26zM1313 412.75h22.75v26h-22.75zM1313 412.75h26v26h-26zM1316.25 412.75h22.75v26h-22.75zM1316.25 412.75h26v26h-26zM1319.5 412.75h22.75v26h-22.75zM1319.5 412.75h26v26h-26zM1319.5 412.75h26v22.75h-26zM1322.75 412.75h22.75v22.75h-22.75zM1322.75 412.75h26v22.75h-26zM1322.75 409.5h26v26h-26zM1326 409.5h22.75v26h-22.75zM1326 409.5h26v26h-26zM1329.25 409.5h22.75v26h-22.75zM1329.25 409.5h26v26h-26zM1332.5 409.5h22.75v26h-22.75zM1332.5 409.5h26v26h-26zM1335.75 409.5h22.75v22.75h-22.75zM1335.75 409.5h26v22.75h-26zM1339 409.5h22.75v22.75h-22.75zM1339 409.5h26v22.75h-26zM1339 406.25h26v26h-26zM1342.25 406.25h22.75v26h-22.75zM1342.25 406.25h26v26h-26zM1345.5 406.25h22.75v26h-22.75zM1345.5 406.25h26v26h-26zM1348.75 406.25h22.75v26h-22.75zM1348.75 406.25h26v26h-26zM1352 406.25h22.75v22.75h-22.75zM1352 406.25h26v22.75h-26zM1355.25 406.25h22.75v22.75h-22.75zM1355.25 403h26v26h-26zM1358.5 403h22.75v26h-22.75zM1358.5 403h26v26h-26zM1361.75 403h22.75v26h-22.75zM1361.75 403h26v26h-26zM1365 403h22.75v26h-22.75zM1365 403h26v26h-26zM1365 403h26v22.75h-26zM1368.25 403h22.75v22.75h-22.75zM1368.25 403h26v22.75h-26zM1371.5 403h22.75v22.75h-22.75zM1371.5 403h26v22.75h-26zM1371.5 399.75h26v26h-26zM1374.75 399.75h22.75v26h-22.75zM1374.75 399.75h26v26h-26zM1378 399.75h22.75v26h-22.75zM1378 399.75h26v26h-26zM1381.25 399.75h22.75v26h-22.75zM1381.25 399.75h26v26h-26zM1381.25 399.75h26v22.75h-26zM1384.5 399.75h22.75v22.75h-22.75zM1384.5 399.75h26v22.75h-26zM1387.75 399.75h22.75v22.75h-22.75zM1387.75 399.75h26v22.75h-26zM1387.75 396.5h26v26h-26zM1391 396.5h22.75v26h-22.75zM1391 396.5h26v26h-26zM1394.25 396.5h22.75v26h-22.75zM1394.25 396.5h26v26h-26zM1397.5 396.5h22.75v26h-22.75zM1397.5 396.5h26v26h-26zM1400.75 396.5h22.75v26h-22.75zM1400.75 396.5h26v22.75h-26zM1404 396.5h22.75v22.75h-22.75zM1404 396.5h26v22.75h-26zM1407.25 393.25h22.75v26h-22.75zM1407.25 393.25h26v26h-26zM1410.5 393.25h22.75v26h-22.75zM1410.5 393.25h26v26h-26zM1413.75 393.25h22.75v26h-22.75zM1413.75 393.25h26v26h-26zM1417 393.25h22.75v26h-22.75zM1417 393.25h26v26h-26zM1420.25 393.25h22.75v22.75h-22.75zM1420.25 393.25h26v22.75h-26zM1423.5 393.25h22.75v22.75h-22.75zM1423.5 393.25h26v22.75h-26zM1426.75 390h22.75v26h-22.75zM1426.75 390h26v26h-26zM1430 390h22.75v26h-22.75zM1430 390h26v26h-26zM1433.25 390h22.75v26h-22.75zM1433.25 390h26v26h-26zM1436.5 390h22.75v26h-22.75zM1436.5 390h26v26h-26zM1436.5 390h26v22.75h-26zM1439.75 390h22.75v22.75h-22.75zM1439.75 390h26v22.75h-26zM1443 390h22.75v22.75h-22.75zM1443 390h26v22.75h-26zM1443 386.75h26v26h-26zM1446.25 386.75h22.75v26h-22.75zM1446.25 386.75h26v26h-26zM1449.5 386.75h22.75v26h-22.75zM1449.5 386.75h26v26h-26zM1452.75 386.75h22.75v26h-22.75zM1452.75 386.75h26v26h-26zM1456 386.75h22.75v26h-22.75zM1456 386.75h26v26h-26zM1459.25 386.75h22.75v22.75h-22.75zM1459.25 386.75h26v22.75h-26zM1462.5 386.75h22.75v22.75h-22.75zM1462.5 386.75h26v22.75h-26zM1462.5 383.5h26v26h-26zM1465.75 383.5h22.75v26h-22.75zM1465.75 383.5h26v26h-26zM1469 383.5h22.75v26h-22.75zM1469 383.5h26v26h-26zM1472.25 383.5h22.75v26h-22.75zM1472.25 383.5h26v26h-26zM1475.5 383.5h22.75v26h-22.75zM1475.5 383.5h26v26h-26zM1478.75 383.5h22.75v22.75h-22.75zM1478.75 383.5h26v22.75h-26zM1482 383.5h22.75v22.75h-22.75zM1482 383.5h26v22.75h-26zM1485.25 380.25h22.75v26h-22.75zM1485.25 380.25h26v26h-26zM1488.5 380.25h22.75v26h-22.75zM1488.5 380.25h26v26h-26zM1491.75 380.25h22.75v26h-22.75zM1491.75 380.25h26v26h-26zM1495 380.25h22.75v26h-22.75zM1495 380.25h26v26h-26zM1498.25 380.25h22.75v26h-22.75zM1498.25 380.25h26v26h-26zM1498.25 380.25h26v22.75h-26zM1501.5 380.25h22.75v22.75h-22.75zM1501.5 380.25h26v22.75h-26zM1504.75 380.25h22.75v22.75h-22.75zM1504.75 380.25h26v22.75h-26zM1504.75 377h26v26h-26zM1508 377h22.75v26h-22.75zM1508 377h26v26h-26zM1511.25 377h22.75v26h-22.75zM1511.25 377h26v26h-26zM1514.5 377h22.75v26h-22.75zM1514.5 377h26v26h-26zM1517.75 377h22.75v26h-22.75zM1517.75 377h26v26h-26zM1521 377h22.75v26h-22.75zM1521 377h26v22.75h-26zM1524.25 377h22.75v22.75h-22.75zM1524.25 377h26v22.75h-26zM1527.5 377h22.75v22.75h-22.75zM1527.5 377h26v22.75h-26zM1527.5 373.75h26v26h-26zM1530.75 373.75h22.75v26h-22.75zM1530.75 373.75h26v26h-26zM1534 373.75h22.75v26h-22.75zM1534 373.75h26v26h-26zM1537.25 373.75h22.75v26h-22.75zM1537.25 373.75h26v26h-26zM1540.5 373.75h22.75v26h-22.75zM1540.5 373.75h26v26h-26zM1543.75 373.75h22.75v26h-22.75zM1543.75 373.75h26v22.75h-26zM1547 373.75h22.75v22.75h-22.75zM1547 373.75h26v22.75h-26zM1550.25 373.75h22.75v22.75h-22.75zM1550.25 373.75h26v22.75h-26zM1550.25 370.5h26v26h-26zM1553.5 370.5h22.75v26h-22.75zM1553.5 370.5h26v26h-26zM1556.75 370.5h22.75v26h-22.75zM1556.75 370.5h26v26h-26zM1560 370.5h22.75v26h-22.75zM1560 370.5h26v26h-26zM1563.25 370.5h22.75v26h-22.75zM1563.25 370.5h26v26h-26zM1566.5 370.5h22.75v26h-22.75zM1566.5 370.5h26v26h-26zM1566.5 370.5h26v22.75h-26zM1569.75 370.5h22.75v22.75h-22.75zM1569.75 370.5h26v22.75h-26zM1573 370.5h22.75v22.75h-22.75zM1573 370.5h26v22.75h-26zM1576.25 367.25h22.75v26h-22.75zM1576.25 367.25h26v26h-26zM1579.5 367.25h22.75v26h-22.75zM1579.5 367.25h26v26h-26zM1582.75 367.25h22.75v26h-22.75zM1582.75 367.25h26v26h-26zM1586 367.25h22.75v26h-22.75zM1586 367.25h26v26h-26zM1589.25 367.25h22.75v26h-22.75zM1589.25 367.25h26v26h-26zM1592.5 367.25h22.75v26h-22.75zM1592.5 367.25h26v22.75h-26zM1595.75 367.25h22.75v22.75h-22.75zM1595.75 367.25h26v22.75h-26zM1599 367.25h22.75v22.75h-22.75zM1599 367.25h26v22.75h-26zM1599 364h26v26h-26zM1602.25 364h22.75v26h-22.75zM1602.25 364h26v26h-26zM1605.5 364h22.75v26h-22.75zM1605.5 364h26v26h-26zM1608.75 364h22.75v26h-22.75zM1608.75 364h26v26h-26zM1612 364h22.75v26h-22.75zM1612 364h26v26h-26zM1615.25 364h22.75v26h-22.75zM1615.25 364h26v26h-26zM1618.5 364h22.75v26h-22.75zM1618.5 364h26v22.75h-26zM1621.75 364h22.75v22.75h-22.75zM1621.75 364h26v22.75h-26zM1625 364h22.75v22.75h-22.75zM1625 364h26v22.75h-26zM1625 360.75h26v26h-26zM1628.25 360.75h22.75v26h-22.75zM1628.25 360.75h26v26h-26zM1631.5 360.75h22.75v26h-22.75zM1631.5 360.75h26v26h-26zM1634.75 360.75h22.75v26h-22.75zM1634.75 360.75h26v26h-26zM1638 360.75h22.75v26h-22.75zM1638 360.75h26v26h-26zM1641.25 360.75h22.75v26h-22.75zM1641.25 360.75h26v26h-26zM1644.5 360.75h22.75v26h-22.75zM1644.5 360.75h26v22.75h-26zM1647.75 360.75h22.75v22.75h-22.75zM1647.75 360.75h26v22.75h-26zM1651 360.75h22.75v22.75h-22.75zM1651 360.75h26v22.75h-26zM1654.25 357.5h22.75v26h-22.75zM1654.25 357.5h26v26h-26zM1657.5 357.5h22.75v26h-22.75zM1657.5 357.5h26v26h-26zM1660.75 357.5h22.75v26h-22.75zM1660.75 357.5h26v26h-26zM1664 357.5h22.75v26h-22.75zM1664 357.5h26v26h-26zM1667.25 357.5h22.75v26h-22.75zM1667.25 357.5h26v26h-26zM1670.5 357.5h22.75v26h-22.75zM1670.5 357.5h26v26h-26zM1670.5 357.5h26v22.75h-26zM1673.75 357.5h22.75v22.75h-22.75zM1673.75 357.5h26v22.75h-26zM1677 357.5h22.75v22.75h-22.75zM1677 357.5h26v22.75h-26zM1680.25 357.5h22.75v22.75h-22.75zM1680.25 357.5h26v22.75h-26zM1680.25 354.25h26v26h-26zM1683.5 354.25h22.75v26h-22.75zM1683.5 354.25h26v26h-26zM1686.75 354.25h22.75v26h-22.75zM1686.75 354.25h26v26h-26zM1690 354.25h22.75v26h-22.75zM1690 354.25h26v26h-26zM1693.25 354.25h22.75v26h-22.75zM1693.25 354.25h26v26h-26zM1696.5 354.25h22.75v26h-22.75zM1696.5 354.25h26v26h-26zM1699.75 354.25h22.75v26h-22.75zM1699.75 354.25h26v26h-26zM1699.75 354.25h26v22.75h-26zM1703 354.25h22.75v22.75h-22.75zM1703 354.25h26v22.75h-26zM1706.25 354.25h22.75v22.75h-22.75zM1706.25 354.25h26v22.75h-26zM1709.5 354.25h22.75v22.75h-22.75zM1709.5 351h26v26h-26zM1712.75 351h22.75v26h-22.75zM1712.75 351h26v26h-26zM1716 351h22.75v26h-22.75zM1716 351h26v26h-26zM1719.25 351h22.75v26h-22.75zM1719.25 351h26v26h-26zM1722.5 351h22.75v26h-22.75zM1722.5 351h26v26h-26zM1725.75 351h22.75v26h-22.75zM1725.75 351h26v26h-26zM1729 351h22.75v26h-22.75zM1729 351h26v22.75h-26zM1732.25 351h22.75v22.75h-22.75zM1732.25 351h26v22.75h-26zM1735.5 351h22.75v22.75h-22.75zM1735.5 351h26v22.75h-26zM1738.75 351h22.75v22.75h-22.75zM1738.75 351h26v22.75h-26zM1738.75 347.75h26v26h-26zM1742 347.75h22.75v26h-22.75zM1742 347.75h26v26h-26zM1745.25 347.75h22.75v26h-22.75zM1745.25 347.75h26v26h-26zM1748.5 347.75h22.75v26h-22.75zM1748.5 347.75h26v26h-26zM1751.75 347.75h22.75v26h-22.75zM1751.75 347.75h26v26h-26zM1755 347.75h22.75v26h-22.75zM1755 347.75h26v26h-26zM1758.25 347.75h22.75v26h-22.75zM1758.25 347.75h26v26h-26zM1761.5 347.75h22.75v22.75h-22.75zM1761.5 347.75h26v22.75h-26zM1764.75 347.75h22.75v22.75h-22.75zM1764.75 347.75h26v22.75h-26zM1768 347.75h22.75v22.75h-22.75zM1768 347.75h26v22.75h-26zM1771.25 344.5h22.75v26h-22.75zM1771.25 344.5h26v26h-26zM1774.5 344.5h22.75v26h-22.75zM1774.5 344.5h26v26h-26zM1777.75 344.5h22.75v26h-22.75zM1777.75 344.5h26v26h-26zM1781 344.5h22.75v26h-22.75zM1781 344.5h26v26h-26zM1784.25 344.5h22.75v26h-22.75zM1784.25 344.5h26v26h-26zM1787.5 344.5h22.75v26h-22.75zM1787.5 344.5h26v26h-26zM1790.75 344.5h22.75v26h-22.75zM1790.75 344.5h26v26h-26zM1790.75 344.5h26v22.75h-26zM1794 344.5h22.75v22.75h-22.75zM1794 344.5h26v22.75h-26zM1797.25 344.5h22.75v22.75h-22.75zM1797.25 344.5h26v22.75h-26zM1800.5 344.5h22.75v22.75h-22.75zM1800.5 344.5h26v22.75h-26zM1800.5 341.25h26v26h-26zM1803.75 341.25h22.75v26h-22.75zM1803.75 341.25h26v26h-26zM1807 341.25h22.75v26h-22.75zM1807 341.25h26v26h-26zM1810.25 341.25h22.75v26h-22.75zM1810.25 341.25h26v26h-26zM1813.5 341.25h22.75v26h-22.75zM1813.5 341.25h26v26h-26zM1816.75 341.25h22.75v26h-22.75zM1816.75 341.25h26v26h-26zM1820 341.25h22.75v26h-22.75zM1820 341.25h26v26h-26zM1823.25 341.25h22.75v26h-22.75zM1823.25 341.25h26v26h-26zM1823.25 341.25h26v22.75h-26zM1826.5 341.25h22.75v22.75h-22.75zM1826.5 341.25h26v22.75h-26zM1829.75 341.25h22.75v22.75h-22.75zM1829.75 341.25h26v22.75h-26zM1833 341.25h22.75v22.75h-22.75zM1833 341.25h26v22.75h-26zM1836.25 338h22.75v26h-22.75zM1836.25 338h26v26h-26zM1839.5 338h22.75v26h-22.75zM1839.5 338h26v26h-26zM1842.75 338h22.75v26h-22.75zM1842.75 338h26v26h-26zM1846 338h22.75v26h-22.75zM1846 338h26v26h-26zM1849.25 338h22.75v26h-22.75zM1849.25 338h26v26h-26zM1852.5 338h22.75v26h-22.75zM1852.5 338h26v26h-26zM1855.75 338h22.75v26h-22.75zM1855.75 338h26v26h-26zM1859 338h22.75v26h-22.75zM1859 338h26v22.75h-26zM1862.25 338h22.75v22.75h-22.75zM1862.25 338h26v22.75h-26zM1865.5 338h22.75v22.75h-22.75zM1865.5 338h26v22.75h-26zM1868.75 338h22.75v22.75h-22.75zM1868.75 338h26v22.75h-26zM1868.75 334.75h26v26h-26zM1872 334.75h22.75v26h-22.75zM1872 334.75h26v26h-26zM1875.25 334.75h22.75v26h-22.75zM1875.25 334.75h26v26h-26zM1878.5 334.75h22.75v26h-22.75zM1878.5 334.75h26v26h-26zM1881.75 334.75h22.75v26h-22.75zM1881.75 334.75h26v26h-26zM1885 334.75h22.75v26h-22.75zM1885 334.75h26v26h-26zM1888.25 334.75h22.75v26h-22.75zM1888.25 334.75h26v26h-26zM1891.5 334.75h22.75v26h-22.75zM1891.5 334.75h26v26h-26zM1894.75 334.75h22.75v22.75h-22.75zM1894.75 334.75h26v22.75h-26zM1898 334.75h22.75v22.75h-22.75zM1898 334.75h26v22.75h-26zM1901.25 334.75h22.75v22.75h-22.75zM1901.25 334.75h26v22.75h-26zM1904.5 334.75h22.75v22.75h-22.75zM1904.5 334.75h26v22.75h-26zM1904.5 331.5h26v26h-26zM1907.75 331.5h22.75v26h-22.75zM1907.75 331.5h26v26h-26zM1911 331.5h22.75v26h-22.75zM1911 331.5h26v26h-26zM1914.25 331.5h22.75v26h-22.75zM1914.25 331.5h26v26h-26zM1917.5 331.5h22.75v26h-22.75zM1917.5 331.5h26v26h-26zM1920.75 331.5h22.75v26h-22.75zM1920.75 331.5h26v26h-26zM1924 331.5h22.75v26h-22.75zM1924 331.5h26v26h-26zM1927.25 331.5h22.75v26h-22.75zM1927.25 331.5h26v26h-26zM1930.5 331.5h22.75v26h-22.75zM1930.5 331.5h26v22.75h-26zM1933.75 331.5h22.75v22.75h-22.75zM1933.75 331.5h26v22.75h-26zM1937 331.5h22.75v22.75h-22.75zM1937 331.5h26v22.75h-26zM1940.25 331.5h22.75v22.75h-22.75zM1940.25 331.5h26v22.75h-26zM1943.5 328.25h22.75v26h-22.75zM1943.5 328.25h26v26h-26zM1946.75 328.25h22.75v26h-22.75zM1946.75 328.25h26v26h-26zM1950 328.25h22.75v26h-22.75zM1950 328.25h26v26h-26zM1953.25 328.25h22.75v26h-22.75zM1953.25 328.25h26v26h-26zM1956.5 328.25h22.75v26h-22.75zM1956.5 328.25h26v26h-26zM1959.75 328.25h22.75v26h-22.75zM1959.75 328.25h26v26h-26zM1963 328.25h22.75v26h-22.75zM1963 328.25h26v26h-26zM1966.25 328.25h22.75v26h-22.75zM1966.25 328.25h26v26h-26zM1969.5 328.25h22.75v22.75h-22.75zM1969.5 328.25h26v22.75h-26zM1972.75 328.25h22.75v22.75h-22.75zM1972.75 328.25h26v22.75h-26zM1976 328.25h22.75v22.75h-22.75zM1976 328.25h26v22.75h-26z"/>
<path fill="#ff00ff" d="M256.75 1049.75h26v26h-26zM260 1049.75h22.75v26h-22.75zM260 1049.75h26v26h-26zM263.25 1049.75h22.75v26h-22.75zM263.25 1049.75h26v26h-26zM266.5 1049.75h22.75v26h-22.75zM266.5 1049.75h26v26h-26zM269.75 1049.75h22.75v26h-22.75zM269.75 1049.75h26v26h-26zM273 1049.75h22.75v22.75h-22.75zM273 1049.75h26v22.75h-26zM276.25 1049.75h22.75v22.75h-22.75zM276.25 1049.75h26v22.75h-26zM279.5 1049.75h22.75v22.75h-22.75zM279.5 1049.75h26v22.75h-26zM282.75 1049.75h22.75v22.75h-22.75zM282.75 1046.5h26v26h-26zM286 1046.5h22.75v26h-22.75zM286 1046.5h26v26h-26zM289.25 1046.5h22.75v26h-22.75zM289.25 1046.5h26v26h-26zM292.5 1046.5h22.75v26h-22.75zM292.5 1046.5h26v26h-26zM295.75 1046.5h22.75v26h-22.75zM295.75 1046.5h26v26h-26zM299 1046.5h22.75v26h-22.75zM299 1046.5h26v26h-26zM302.25 1046.5h22.75v26h-22.75zM302.25 1046.5h26v26h-26zM305.5 1046.5h22.75v26h-22.75zM305.5 1046.5h26v26h-26zM305.5 1046.5h26v22.75h-26zM308.75 1046.5h22.75v22.75h-22.75zM308.75 1046.5h26v22.75h-26zM312 1046.5h22.75v22.75h-22.75zM312 1046.5h26v22.75h-26zM315.25 1046.5h22.75v22.75h-22.75zM315.25 1046.5h26v22.75h-26zM315.25 1043.25h26v26h-26zM318.5 1043.25h22.75v26h-22.75zM318.5 1043.25h26v26h-26zM321.75 1043.25h22.75v26h-22.75zM321.75 1043.25h26v26h-26zM325 1043.25h22.75v26h-22.75zM325 1043.25h26v26h-26zM328.25 1043.25h22.75v26h-22.75zM328.25 1043.25h26v26h-26zM331.5 1043.25h22.75v26h-22.75zM331.5 1043.25h26v26h-26zM334.75 1043.25h22.75v26h-22.75zM334.75 1043.25h26v26h-26zM338 1043.25h22.75v26h-22.75zM338 1043.25h26v22.75h-26zM341.25 1043.25h22.75v22.75h-22.75zM341.25 1043.25h26v22.75h-26zM344.5 1043.25h22.75v22.75h-22.75zM344.5 1043.25h26v22.75h-26zM347.75 1043.25h22.75v22.75h-22.75zM347.75 1040h26v26h-26zM351 1040h22.75v26h-22.75zM351 1040h26v26h-26zM354.25 1040h22.75v26h-22.75zM354.25 1040h26v26h-26zM357.5 1040h22.75v26h-22.75zM357.5 1040h26v26h-26zM360.75 1040h22.75v26h-22.75zM360.75 1040h26v26h-26zM364 1040h22.75v26h-22.75zM364 1040h26v26h-26zM367.25 1040h22.75v26h-22.75zM367.25 1040h26v26h-26zM370.5 1040h22.75v22.75h-22.75zM370.5 1040h26v22.75h-26zM373.75 1040h22.75v22.75h-22.75zM373.75 1040h26v22.75h-26zM377 1040h22.75v22.75h-22.75zM377 1040h26v22.75h-26zM380.25 1040h22.75v22.75h-22.75zM380.25 1036.75h26v26h-26zM383.5 1036.75h22.75v26h-22.75zM383.5 1036.75h26v26h-26zM386.75 1036.75h22.75v26h-22.75zM386.75 1036.75h26v26h-26zM390 1036.75h22.75v26h-22.75zM390 1036.75h26v26h-26zM393.25 1036.75h22.75v26h-22.75zM393.25 1036.75h26v26h-26zM396.5 1036.75h22.75v26h-22.75zM396.5 1036.75h26v26h-26zM399.75 1036.75h22.75v26h-22.75zM399.75 1036.75h26v26h-26zM399.75 1036.75h26v22.75h-26zM403 1036.75h22.75v22.75h-22.75zM403 1036.75h26v22.75h-26zM406.25 1036.75h22.75v22.75h-22.75zM406.25 1036.75h26v22.75h-26zM409.5 1036.75h22.75v22.75h-22.75zM409.5 1033.5h26v26h-26zM412.75 1033.5h22.75v26h-22.75zM412.75 1033.5h26v26h-26zM416 1033.5h22.75v26h-22.75zM416 1033.5h26v26h-26zM419.25 1033.5h22.75v26h-22.75zM419.25 1033.5h26v26h-26zM422.5 1033.5h22.75v26h-22.75zM422.5 1033.5h26v26h-26zM425.75 1033.5h22.75v26h-22.75zM425.75 1033.5h26v26h-26zM429 1033.5h22.75v26h-22.75zM429 1033.5h26v26h-26zM429 1033.5h26v22.75h-26zM432.25 1033.5h22.75v22.75h-22.75zM432.25 1033.5h26v22.75h-26zM435.5 1033.5h22.75v22.75h-22.75zM435.5 1033.5h26v22.75h-26zM438.75 1033.5h22.75v22.75h-22.75zM438.75 1033.5h26v22.75h-26zM438.75 1030.25h26v26h-26zM442 1030.25h22.75v26h-22.75zM442 1030.25h26v26h-26zM445.25 1030.25h22.75v26h-22.75zM445.25 1030.25h26v26h-26zM448.5 1030.25h22.75v26h-22.75zM448.5 1030.25h26v26h-26zM451.75 1030.25h22.75v26h-22.75zM451.75 1030.25h26v26h-26zM455 1030.25h22.75v26h-22.75zM455 1030.25h26v26h-26zM458.25 1030.25h22.75v26h-22.75zM458.25 1030.25h26v26h-26zM461.5 1030.25h22.75v22.75h-22.75zM461.5 1030.25h26v22.75h-26zM464.75 1030.25h22.75v22.75h-22.75zM464.75 1030.25h26v22.75h-26zM468 1030.25h22.75v22.75h-22.75zM468 1027h26v26h-26zM471.25 1027h22.75v26h-22.75zM471.25 1027h26v26h-26zM474.5 1027h22.75v26h-22.75zM474.5 1027h26v26h-26zM477.75 1027h22.75v26h-22.75zM477.75 1027h26v26h-26zM481 1027h22.75v26h-22.75zM481 1027h26v26h-26zM484.25 1027h22.75v26h-22.75zM484.25 1027h26v26h-26zM487.5 1027h22.75v26h-22.75zM487.5 1027h26v26h-26zM487.5 1027h26v22.75h-26zM490.75 1027h22.75v22.75h-22.75zM490.75 1027h26v22.75h-26zM494 1027h22.75v22.75h-22.75zM494 1027h26v22.75h-26zM497.25 1027h22.75v22.75h-22.75zM497.25 1023.75h26v26h-26zM500.5 1023.75h22.75v26h-22.75zM500.5 1023.75h26v26h-26zM503.75 1023.75h22.75v26h-22.75zM503.75 1023.75h26v26h-26zM507 1023.75h22.75v26h-22.75zM507 1023.75h26v26h-26zM510.25 1023.75h22.75v26h-22.75zM510.25 1023.75h26v26h-26zM513.5 1023.75h22.75v26h-22.75zM513.5 1023.75h26v26h-26zM516.75 1023.75h22.75v22.75h-22.75zM516.75 1023.75h26v22.75h-26zM520 1023.75h22.75v22.75h-22.75zM520 1023.75h26v22.75h-26zM523.25 1023.75h22.75v22.75h-22.75zM523.25 1023.75h26v22.75h-26zM523.25 1020.5h26v26h-26zM526.5 1020.5h22.75v26h-22.75zM526.5 1020.5h26v26h-26zM529.75 1020.5h22.75v26h-22.75zM529.75 1020.5h26v26h-26zM533 1020.5h22.75v26h-22.75zM533 1020.5h26v26h-26zM536.25 1020.5h22.75v26h-22.75zM536.25 1020.5h26v26h-26zM539.5 1020.5h22.75v26h-22.75zM539.5 1020.5h26v26h-26zM542.75 1020.5h22.75v26h-22.75zM542.75 1020.5h26v22.75h-26zM546 1020.5h22.75v22.75h-22.75zM546 1020.5h26v22.75h-26zM549.25 1020.5h22.75v22.75h-22.75zM549.25 1020.5h26v22.75h-26zM549.25 1017.25h26v26h-26zM552.5 1017.25h22.75v26h-22.75zM552.5 1017.25h26v26h-26zM555.75 1017.25h22.75v26h-22.75zM555.75 1017.25h26v26h-26zM559 1017.25h22.75v26h-22.75zM559 1017.25h26v26h-26zM562.25 1017.25h22.75v26h-22.75zM562.25 1017.25h26v26h-26zM565.5 1017.25h22.75v26h-22.75zM565.5 1017.25h26v26h-26zM568.75 1017.25h22.75v26h-22.75zM568.75 1017.25h26v22.75h-26zM572 1017.25h22.75v22.75h-22.75zM572 1017.25h26v22.75h-26zM575.25 1017.25h22.75v22.75h-22.75zM575.25 1017.25h26v22.75h-26zM575.25 1014h26v26h-26zM578.5 1014h22.75v26h-22.75zM578.5 1014h26v26h-26zM581.75 1014h22.75v26h-22.75zM581.75 1014h26v26h-26zM585 1014h22.75v26h-22.75zM585 1014h26v26h-26zM588.25 1014h22.75v26h-22.75zM588.25 1014h26v26h-26zM591.5 1014h22.75v26h-22.75zM591.5 1014h26v26h-26zM594.75 1014h22.75v26h-22.75zM594.75 1014h26v22.75h-26zM598 1014h22.75v22.75h-22.75zM598 1014h26v22.75h-26zM601.25 1014h22.75v22.75h-22.75zM601.25 1014h26v22.75h-26zM601.25 1010.75h26v26h-26zM604.5 1010.75h22.75v26h-22.75zM604.5 1010.75h26v26h-26zM607.75 1010.75h22.75v26h-22.75zM607.75 1010.75h26v26h-26zM611 1010.75h22.75v26h-22.75zM611 1010.75h26v26h-26zM614.25 1010.75h22.75v26h-22.75zM614.25 1010.75h26v26h-26zM617.5 1010.75h22.75v26h-22.75zM617.5 1010.75h26v26h-26zM617.5 1010.75h26v22.75h-26zM620.75 1010.75h22.75v22.75h-22.75zM620.75 1010.75h26v22.75h-26zM624 1010.75h22.75v22.75h-22.75zM624 1010.75h26v22.75h-26zM627.25 1010.75h22.75v22.75h-22.75zM627.25 1007.5h26v26h-26zM630.5 1007.5h22.75v26h-22.75zM630.5 1007.5h26v26h-26zM633.75 1007.5h22.75v26h-22.75zM633.75 1007.5h26v26h-26zM637 1007.5h22.75v26h-22.75zM637 1007.5h26v26h-26zM640.25 1007.5h22.75v26h-22.75zM640.25 1007.5h26v26h-26zM643.5 1007.5h22.75v22.75h-22.75zM643.5 1007.5h26v22.75h-26zM646.75 1007.5h22.75v22.75h-22.75zM646.75 1007.5h26v22.75h-26zM650 1007.5h22.75v22.75h-22.75zM650 1007.5h26v22.75h-26zM650 1004.25h26v26h-26zM653.25 1004.25h22.75v26h-22.75zM653.25 1004.25h26v26h-26zM656.5 1004.25h22.75v26h-22.75zM656.5 1004.25h26v26h-26zM659.75 1004.25h22.75v26h-22.75zM659.75 1004.25h26v26h-26zM663 1004.25h22.75v26h-22.75zM663 1004.25h26v26h-26zM666.25 1004.25h22.75v26h-22.75zM666.25 1004.25h26v22.75h-26zM669.5 1004.25h22.75v22.75h-22.75zM669.5 1004.25h26v22.75h-26zM672.75 1004.25h22.75v22.75h-22.75zM672.75 1004.25h26v22.75h-26zM672.75 1001h26v26h-26zM676 1001h22.75v26h-22.75zM676 1001h26v26h-26zM679.25 1001h22.75v26h-22.75zM679.25 1001h26v26h-26zM682.5 1001h22.75v26h-22.75zM682.5 1001h26v26h-26zM685.75 1001h22.75v26h-22.75zM685.75 1001h26v26h-26zM689 1001h22.75v26h-22.75zM689 1001h26v22.75h-26zM692.25 1001h22.75v22.75h-22.75zM692.25 1001h26v22.75h-26zM695.5 1001h22.75v22.75h-22.75zM695.5 1001h26v22.75h-26zM695.5 997.75h26v26h-26zM698.75 997.75h22.75v26h-22.75zM698.75 997.75h26v26h-26zM702 997.75h22.75v26h-22.75zM702 997.75h26v26h-26zM705.25 997.75h22.75v26h-22.75zM705.25 997.75h26v26h-26zM708.5 997.75h22.75v26h-22.75zM708.5 997.75h26v26h-26zM711.75 997.75h22.75v22.75h-22.75zM711.75 997.75h26v22.75h-26zM715 997.75h22.75v22.75h-22.75zM715 997.75h26v22.75h-26zM718.25 997.75h22.75v22.75h-22.75zM718.25 994.5h26v26h-26zM721.5 994.5h22.75v26h-22.75zM721.5 994.5h26v26h-26zM724.75 994.5h22.75v26h-22.75zM724.75 994.5h26v26h-26zM728 994.5h22.75v26h-22.75zM728 994.5h26v26h-26zM731.25 994.5h22.75v26h-22.75zM731.25 994.5h26v26h-26zM731.25 994.5h26v22.75h-26zM734.5 994.5h22.75v22.75h-22.75zM734.5 994.5h26v22.75h-26zM737.75 994.5h22.75v22.75h-22.75zM737.75 994.5h26v22.75h-26zM741 991.25h22.75v26h-22.75zM741 991.25h26v26h-26zM744.25 991.25h22.75v26h-22.75zM744.25 991.25h26v26h-26zM747.5 991.25h22.75v26h-22.75zM747.5 991.25h26v26h-26zM750.75 991.25h22.75v26h-22.75zM750.75 991.25h26v26h-26zM754 991.25h22.75v26h-22.75zM754 991.25h26v22.75h-26zM757.25 991.25h22.75v22.75h-22.75zM757.25 991.25h26v22.75h-26zM760.5 991.25h22.75v22.75h-22.75zM760.5 988h26v26h-26zM763.75 988h22.75v26h-22.75zM763.75 988h26v26h-26zM767 988h22.75v26h-22.75zM767 988h26v26h-26zM770.25 988h22.75v26h-22.75zM770.25 988h26v26h-26zM773.5 988h22.75v26h-22.75zM773.5 988h26v26h-26zM773.5 988h26v22.75h-26zM776.75 988h22.75v22.75h-22.75zM776.75 988h26v22.75h-26zM780 988h22.75v22.75h-22.75zM780 984.75h26v26h-26zM783.25 984.75h22.75v26h-22.75zM783.25 984.75h26v26h-26zM786.5 984.75h22.75v26h-22.75zM786.5 984.75h26v26h-26zM789.75 984.75h22.75v26h-22.75zM789.75 984.75h26v26h-26zM793 984.75h22.75v26h-22.75zM793 984.75h26v26h-26zM793 984.75h26v22.75h-26zM796.25 984.75h22.75v22.75h-22.75zM796.25 984.75h26v22.75h-26zM799.5 984.75h22.75v22.75h-22.75zM799.5 984.75h26v22.75h-26zM799.5 981.5h26v26h-26zM802.75 981.5h22.75v26h-22.75zM802.75 981.5h26v26h-26zM806 981.5h22.75v26h-22.75zM806 981.5h26v26h-26zM809.25 981.5h22.75v26h-22.75zM809.25 981.5h26v26h-26zM812.5 981.5h22.75v26h-22.75zM812.5 981.5h26v26h-26zM812.5 981.5h26v22.75h-26zM815.75 981.5h22.75v22.75h-22.75zM815.75 981.5h26v22.75h-26zM819 981.5h22.75v22.75h-22.75zM819 978.25h26v26h-26zM822.25 978.25h22.75v26h-22.75zM822.25 978.25h26v26h-26zM825.5 978.25h22.75v26h-22.75zM825.5 978.25h26v26h-26zM828.75 978.25h22.75v26h-22.75zM828.75 978.25h26v26h-26zM832 978.25h22.75v26h-22.75zM832 978.25h26v22.75h-26zM835.25 978.25h22.75v22.75h-22.75zM835.25 978.25h26v22.75h-26zM838.5 975h22.75v26h-22.75zM838.5 975h26v26h-26zM841.75 975h22.75v26h-22.75zM841.75 975h26v26h-26zM845 975h22.75v26h-22.75zM845 975h26v26h-26zM848.25 975h22.75v26h-22.75zM848.25 975h26v26h-26zM851.5 975h22.75v22.75h-22.75zM851.5 975h26v22.75h-26zM854.75 975h22.75v22.75h-22.75zM854.75 975h26v22.75h-26zM854.75 971.75h26v26h-26zM858 971.75h22.75v26h-22.75zM858 971.75h26v26h-26zM861.25 971.75h22.75v26h-22.75zM861.25 971.75h26v26h-26zM864.5 971.75h22.75v26h-22.75zM864.5 971.75h26v26h-26zM867.75 971.75h22.75v26h-22.75zM867.75 971.75h26v22.75h-26zM871 971.75h22.75v22.75h-22.75zM871 971.75h26v22.75h-26zM874.25 968.5h22.75v26h-22.75zM874.25 968.5h26v26h-26zM877.5 968.5h22.75v26h-22.75zM877.5 968.5h26v26h-26zM880.75 968.5h22.75v26h-22.75zM880.75 968.5h26v26h-26zM884 968.5h22.75v26h-22.75zM884 968.5h26v26h-26zM884 968.5h26v22.75h-26zM887.25 968.5h22.75v22.75h-22.75zM887.25 968.5h26v22.75h-26zM890.5 965.25h22.75v26h-22.75zM890.5 965.25h26v26h-26zM893.75 965.25h22.75v26h-22.75zM893.75 965.25h26v26h-26zM897 965.25h22.75v26h-22.75zM897 965.25h26v26h-26zM900.25 965.25h22.75v26h-22.75zM900.25 965.25h26v26h-26zM900.25 965.25h26v22.75h-26zM903.5 965.25h22.75v22.75h-22.75zM903.5 965.25h26v22.75h-26zM906.75 965.25h22.75v22.75h-22.75zM906.75 962h26v26h-26zM910 962h22.75v26h-22.75zM910 962h26v26h-26zM913.25 962h22.75v26h-22.75zM913.25 962h26v26h-26zM916.5 962h22.75v26h-22.75zM916.5 962h26v26h-26zM916.5 962h26v22.75h-26zM919.75 962h22.75v22.75h-22.75zM919.75 962h26v22.75h-26zM923 958.75h22.75v26h-22.75zM923 958.75h26v26h-26zM926.25 958.75h22.75v26h-22.75zM926.25 958.75h26v26h-26zM929.5 958.75h22.75v26h-22.75zM929.5 958.75h26v26h-26zM932.75 958.75h22.75v26h-22.75zM932.75 958.75h26v22.75h-26zM936 958.75h22.75v22.75h-22.75zM936 958.75h26v22.75h-26zM936 955.5h26v26h-26zM939.25 955.5h22.75v26h-22.75zM939.25 955.5h26v26h-26zM942.5 955.5h22.75v26h-22.75zM942.5 955.5h26v26h-26zM945.75 955.5h22.75v26h-22.75zM945.75 955.5h26v26h-26zM949 955.5h22.75v22.75h-22.75zM949 955.5h26v22.75h-26zM952.25 955.5h22.75v22.75h-22.75zM952.25 952.25h26v26h-26zM955.5 952.25h22.75v26h-22.75zM955.5 952.25h26v26h-26zM958.75 952.25h22.75v26h-22.75zM958.75 952.25h26v26h-26zM962 952.25h22.75v26h-22.75zM962 952.25h26v26h-26zM962 952.25h26v22.75h-26zM965.25 952.25h22.75v22.75h-22.75zM965.25 952.25h26v22.75h-26zM965.25 949h26v26h-26zM968.5 949h22.75v26h-22.75zM968.5 949h26v26h-26zM971.75 949h22.75v26h-22.75zM971.75 949h26v26h-26zM975 949h22.75v26h-22.75zM975 949h26v26h-26zM975 949h26v22.75h-26zM978.25 949h22.75v22.75h-22.75zM978.25 949h26v22.75h-26zM981.5 949h22.75v22.75h-22.75zM981.5 945.75h26v26h-26zM984.75 945.75h22.75v26h-22.75zM984.75 945.75h26v26h-26zM988 945.75h22.75v26h-22.75zM988 945.75h26v26h-26zM991.25 945.75h22.75v22.75h-22.75zM991.25 945.75h26v22.75h-26zM994.5 945.75h22.75v22.75h-22.75zM994.5 945.75h26v22.75h-26zM994.5 942.5h26v26h-26zM997.75 942.5h22.75v26h-22.75zM997.75 942.5h26v26h-26zM1001 942.5h22.75v26h-22.75zM1001 942.5h26v26h-26zM1004.25 942.5h22.75v26h-22.75zM1004.25 942.5h26v22.75h-26zM1007.5 942.5h22.75v22.75h-22.75zM1007.5 939.25h26v26h-26zM1010.75 939.25h22.75v26h-22.75zM1010.75 939.25h26v26h-26zM1014 939.25h22.75v26h-22.75zM1014 939.25h26v26h-26zM1017.25 939.25h22.75v22.75h-22.75zM1017.25 939.25h26v22.75h-26zM1020.5 939.25h22.75v22.75h-22.75zM1020.5 936h26v26h-26zM1023.75 936h22.75v26h-22.75zM1023.75 936h26v26h-26zM1027 936h22.75v26h-22.75zM1027 936h26v26h-26zM1030.25 936h22.75v22.75h-22.75zM1030.25 936h26v22.75h-26zM1033.5 936h22.75v22.75h-22.75zM1033.5 932.75h22.75v26h-22.75zM1033.5 932.75h26v26h-26zM1036.75 932.75h22.75v26h-22.75zM1036.75 932.75h26v26h-26zM1040 932.75h22.75v26h-22.75zM1040 932.75h26v26h-26zM1040 932.75h26v22.75h-26zM1043.25 932.75h22.75v22.75h-22.75zM1043.25 932.75h26v22.75h-26zM1043.25 929.5h26v26h-26zM1046.5 929.5h22.75v26h-22.75zM1046.5 929.5h26v26h-26zM1049.75 929.5h22.75v26h-22.75zM1049.75 929.5h26v26h-26zM1053 929.5h22.75v26h-22.75zM1053 929.5h26v22.75h-26zM1056.25 929.5h22.75v22.75h-22.75zM1056.25 926.25h26v26h-26zM1059.5 926.25h22.75v26h-22.75zM1059.5 926.25h26v26h-26zM1062.75 926.25h22.75v26h-22.75zM1062.75 926.25h26v26h-26zM1062.75 926.25h26v22.75h-26zM1066 926.25h22.75v22.75h-22.75zM1066 926.25h26v22.75h-26zM1066 923h26v26h-26zM1069.25 923h22.75v26h-22.75zM1069.25 923h26v26h-26zM1072.5 923h22.75v26h-22.75zM1072.5 923h26v26h-26zM1075.75 923h22.75v26h-22.75zM1075.75 923h26v22.75h-26zM1079 919.75h22.75v26h-22.75zM1079 919.75h26v26h-26zM1082.25 919.75h22.75v26h-22.75zM1082.25 919.75h26v26h-26zM1085.5 919.75h22.75v26h-22.75zM1085.5 919.75h26v22.75h-26zM1088.75 919.75h22.75v22.75h-22.75zM1088.75 916.5h26v26h-26zM1092 916.5h22.75v26h-22.75zM1092 916.5h26v26h-26zM1095.25 916.5h22.75v26h-22.75zM1095.25 916.5h26v22.75h-26zM1098.5 916.5h22.75v22.75h-22.75zM1098.5 913.25h26v26h-26zM1101.75 913.25h22.75v26h-22.75zM1101.75 913.25h26v26h-26zM1105 913.25h22.75v26h-22.75zM1105 913.25h26v26h-26zM1105 913.25h26v22.75h-26zM1108.25 913.25h22.75v22.75h-22.75zM1108.25 910h26v26h-26zM1111.5 910h22.75v26h-22.75zM1111.5 910h26v26h-26zM1114.75 910h22.75v26h-22.75zM1114.75 910h22.75v22.75h-22.75zM1114.75 910h26v22.75h-26zM1118 906.75h22.75v26h-22.75zM1118 906.75h26v26h-26zM1121.25 906.75h22.75v26h-22.75zM1121.25 906.75h26v26h-26zM1124.5 906.75h22.75v22.75h-22.75zM1124.5 906.75h26v22.75h-26zM1127.75 903.5h22.75v26h-22.75zM1127.75 903.5h26v26h-26zM1131 903.5h22.75v26h-22.75zM1131 903.5h26v26h-26zM1131 903.5h26v22.75h-26zM1134.25 903.5h22.75v22.75h-22.75zM1134.25 903.5h26v22.75h-26zM1134.25 900.25h26v26h-26zM1137.5 900.25h22.75v26h-22.75zM1137.5 900.25h26v26h-26zM1140.75 900.25h22.75v26h-22.75zM1140.75 900.25h26v22.75h-26zM1144 897h22.75v26h-22.75zM1144 897h26v26h-26zM1147.25 897h22.75v26h-22.75zM1147.25 897h26v26h-26zM1147.25 897h26v22.75h-26zM1150.5 897h22.75v22.75h-22.75zM1150.5 893.75h26v26h-26zM1153.75 893.75h22.75v26h-22.75zM1153.75 893.75h26v26h-26zM1157 893.75h22.75v22.75h-22.75zM1157 893.75h26v22.75h-26zM1160.25 890.5h22.75v26h-22.75zM1160.25 890.5h26v26h-26zM1163.5 890.5h22.75v26h-22.75zM1163.5 890.5h26v22.75h-26zM1166.75 890.5h22.75v22.75h-22.75zM1166.75 887.25h22.75v26h-22.75zM1166.75 887.25h26v26h-26zM1170 887.25h22.75v26h-22.75zM1170 887.25h26v26h-26zM1170 887.25h26v22.75h-26zM1173.25 884h22.75v26h-22.75zM1173.25 884h26v26h-26zM1176.5 884h22.75v26h-22.75zM1176.5 884h26v26h-26zM1176.5 884h26v22.75h-26zM1179.75 884h22.75v22.75h-22.75zM1179.75 880.75h26v26h-26zM1183 880.75h22.75v26h-22.75zM1183 880.75h26v26h-26zM1183 880.75h26v22.75h-26zM1186.25 880.75h22.75v22.75h-22.75zM1186.25 877.5h26v26h-26zM1189.5 877.5h22.75v26h-22.75zM1189.5 877.5h26v26h-26zM1189.5 877.5h26v22.75h-26zM1192.75 874.25h22.75v26h-22.75zM1192.75 874.25h26v26h-26zM1196 874.25h22.75v26h-22.75zM1196 874.25h26v22.75h-26zM1196 871h26v26h-26zM1199.25 871h22.75v26h-22.75zM1199.25 871h26v26h-26zM1202.5 871h22.75v22.75h-22.75zM1202.5 871h26v22.75h-26zM1202.5 867.75h26v26h-26zM1205.75 867.75h22.75v26h-22.75zM1205.75 867.75h26v26h-26zM1205.75 867.75h26v22.75h-26zM1209 867.75h22.75v22.75h-22.75zM1209 864.5h22.75v26h-22.75zM1209 864.5h26v26h-26zM1212.25 864.5h22.75v26h-22.75zM1212.25 864.5h22.75v22.75h-22.75zM1212.25 864.5h26v22.75h-26zM1212.25 861.25h26v26h-26zM1215.5 861.25h22.75v26h-22.75zM1215.5 861.25h26v26h-26zM1215.5 861.25h26v22.75h-26zM1218.75 858h22.75v26h-22.75zM1218.75 858h26v26h-26zM1222 858h22.75v22.75h-22.75zM1222 854.75h26v26h-26zM1225.25 854.75h22.75v26h-22.75zM1225.25 854.75h22.75v22.75h-22.75zM1225.25 854.75h26v22.75h-26zM1225.25 851.5h26v26h-26zM1228.5 851.5h22.75v26h-22.75zM1228.5 851.5h26v26h-26zM1228.5 851.5h26v22.75h-26zM1228.5 848.25h26v26h-26zM1231.75 848.25h22.75v26h-22.75zM1231.75 848.25h26v26h-26zM1231.75 848.25h26v22.75h-26zM1235 845h22.75v26h-22.75zM1235 845h26v26h-26zM1235 845h26v22.75h-26zM1238.25 845h22.75v22.75h-22.75zM1238.25 841.75h22.75v26h-22.75zM1238.25 841.75h26v26h-26zM1238.25 841.75h26v22.75h-26zM1241.5 838.5h22.75v26h-22.75zM1241.5 838.5h26v26h-26zM1241.5 838.5h26v22.75h-26zM1244.75 835.25h22.75v26h-22.75zM1244.75 835.25h26v26h-26zM1244.75 835.25h26v22.75h-26zM1244.75 832h26v26h-26zM1248 832h22.75v26h-22.75zM1248 832h26v26h-26zM1248 832h26v22.75h-26zM1248 828.75h26v26h-26zM1251.25 828.75h22.75v26h-22.75zM1251.25 828.75h22.75v22.75h-22.75zM1251.25 825.5h26v26h-26zM1251.25 825.5h26v22.75h-26zM1254.5 822.25h22.75v26h-22.75zM1254.5 822.25h26v26h-26zM1254.5 822.25h26v22.75h-26zM1254.5 819h26v26h-26zM1257.75 819h22.75v26h-22.75zM1257.75 819h22.75v22.75h-22.75zM1257.75 815.75h26v26h-26zM1257.75 815.75h26v22.75h-26zM1257.75 812.5h26v26h-26zM1261 812.5h22.75v26h-22.75zM1261 812.5h22.75v22.75h-22.75zM1261 809.25h22.75v26h-22.75zM1261 809.25h26v26h-26zM1261 809.25h26v22.75h-26zM1261 806h26v26h-26zM1261 806h26v22.75h-26zM1264.25 802.75h22.75v26h-22.75zM1264.25 802.75h22.75v22.75h-22.75zM1264.25 799.5h22.75v26h-22.75zM1264.25 799.5h26v26h-26zM1264.25 799.5h26v22.75h-26zM1264.25 796.25h26v26h-26zM1264.25 796.25h26v22.75h-26zM1264.25 793h26v26h-26zM1264.25 793h26v22.75h-26zM1264.25 789.75h26v26h-26zM1264.25 789.75h26v22.75h-26zM1264.25 786.5h26v26h-26zM1264.25 786.5h26v22.75h-26zM1264.25 783.25h26v26h-26zM1264.25 783.25h26v22.75h-26zM1264.25 780h26v26h-26zM1264.25 780h26v22.75h-26zM1264.25 776.75h26v26h-26zM1264.25 776.75h26v22.75h-26zM1264.25 773.5h26v26h-26zM1264.25 773.5h26v22.75h-26zM1264.25 770.25h26v26h-26zM1264.25 770.25h26v22.75h-26zM1264.25 767h22.75v26h-22.75zM1264.25 767h22.75v22.75h-22.75zM1261 763.75h26v26h-26zM1261 763.75h26v22.75h-26zM1261 760.5h26v26h-26zM1261 760.5h26v22.75h-26zM1261 757.25h26v26h-26zM1261 757.25h22.75v26h-22.75zM1261 757.25h22.75v22.75h-22.75zM1257.75 754h26v26h-26zM1257.75 754h26v22.75h-26zM1257.75 750.75h26v26h-26zM1257.75 750.75h22.75v22.75h-22.75zM1257.75 747.5h22.75v26h-22.75zM1254.5 747.5h26v26h-26zM1254.5 747.5h26v22.75h-26zM1254.5 744.25h26v26h-26zM1254.5 744.25h22.75v22.75h-22.75zM1254.5 741h22.75v26h-22.75zM1251.25 741h26v26h-26zM1251.25 741h26v22.75h-26zM1251.25 737.75h26v26h-26zM1251.25 737.75h22.75v26h-22.75zM1251.25 737.75h22.75v22.75h-22.75zM1248 734.5h26v26h-26zM1248 734.5h26v22.75h-26zM1248 731.25h22.75v26h-22.75zM1244.75 731.25h26v22.75h-26zM1244.75 728h26v26h-26zM1244.75 728h22.75v22.75h-22.75zM1244.75 724.75h22.75v26h-22.75zM1241.5 724.75h26v26h-26zM1241.5 724.75h26v22.75h-26zM1241.5 721.5h26v26h-26zM1241.5 721.5h22.75v26h-22.75zM1238.25 721.5h26v26h-26zM1238.25 721.5h26v22.75h-26zM1238.25 718.25h26v26h-26zM1238.25 718.25h22.75v26h-22.75zM1238.25 718.25h22.75v22.75h-22.75zM1235 718.25h26v22.75h-26zM1235 715h26v26h-26zM1235 715h22.75v22.75h-22.75zM1231.75 711.75h26v26h-26zM1231.75 711.75h26v22.75h-26zM1231.75 708.5h22.75v26h-22.75zM1228.5 708.5h26v26h-26zM1228.5 708.5h26v22.75h-26zM1228.5 705.25h26v26h-26zM1228.5 705.25h22.75v26h-22.75zM1225.25 705.25h26v26h-26zM1225.25 705.25h26v22.75h-26zM1225.25 702h26v26h-26zM1225.25 702h22.75v26h-22.75zM1222 702h26v26h-26zM1222 702h26v22.75h-26zM1222 698.75h26v26h-26zM1222 698.75h22.75v26h-22.75zM1218.75 698.75h26v22.75h-26zM1218.75 695.5h26v26h-26zM1218.75 695.5h22.75v26h-22.75zM1218.75 695.5h22.75v22.75h-22.75zM1215.5 695.5h26v22.75h-26zM1215.5 692.25h26v26h-26zM1215.5 692.25h22.75v26h-22.75zM1212.25 692.25h26v22.75h-26zM1212.25 689h26v26h-26zM1212.25 689h22.75v22.75h-22.75zM1209 689h26v22.75h-26zM1209 685.75h26v26h-26zM1209 685.75h22.75v26h-22.75zM1209 685.75h22.75v22.75h-22.75zM1205.75 682.5h26v26h-26zM1205.75 682.5h22.75v22.75h-22.75zM1202.5 682.5h26v22.75h-26zM1202.5 679.25h26v26h-26zM1202.5 679.25h22.75v22.75h-22.75zM1199.25 676h26v26h-26zM1199.25 676h22.75v26h-22.75zM1199.25 676h22.75v22.75h-22.75zM1196 672.75h26v26h-26zM1196 672.75h22.75v22.75h-22.75zM1192.75 672.75h26v22.75h-26zM1192.75 669.5h26v26h-26zM1192.75 669.5h22.75v26h-22.75zM1192.75 669.5h22.75v22.75h-22.75zM1189.5 666.25h26v26h-26zM1189.5 666.25h22.75v22.75h-22.75zM1186.25 666.25h26v22.75h-26zM1186.25 663h26v26h-26zM1186.25 663h22.75v26h-22.75zM1186.25 663h22.75v22.75h-22.75zM1183 659.75h26v26h-26zM1183 659.75h22.75v26h-22.75zM1179.75 659.75h26v22.75h-26zM1179.75 656.5h26v26h-26zM1179.75 656.5h22.75v26h-22.75zM1179.75 656.5h22.75v22.75h-22.75zM1176.5 656.5h26v22.75h-26zM1176.5 653.25h26v26h-26zM1176.5 653.25h22.75v26h-22.75zM1173.25 653.25h26v22.75h-26zM1173.25 650h26v26h-26zM1173.25 650h22.75v26h-22.75zM1170 650h26v22.75h-26zM1170 646.75h26v26h-26zM1170 646.75h22.75v26h-22.75zM1166.75 646.75h26v22.75h-26zM1166.75 643.5h26v26h-26zM1166.75 643.5h22.75v26h-22.75zM1163.5 643.5h26v22.75h-26zM1163.5 640.25h26v26h-26zM1163.5 640.25h22.75v26h-22.75zM1160.25 640.25h26v22.75h-26zM1160.25 637h26v26h-26zM1160.25 637h22.75v26h-22.75zM1157 637h26v22.75h-26zM1157 633.75h26v26h-26zM1157 633.75h22.75v26h-22.75zM1153.75 633.75h26v22.75h-26zM1153.75 630.5h26v26h-26zM1153.75 630.5h22.75v26h-22.75zM1150.5 630.5h26v26h-26zM1150.5 630.5h26v22.75h-26zM1150.5 627.25h26v26h-26zM1150.5 627.25h22.75v26h-22.75zM1147.25 627.25h26v22.75h-26zM1147.25 624h26v26h-26zM1147.25 624h22.75v26h-22.75zM1144 624h26v26h-26zM1144 624h26v22.75h-26zM1144 620.75h26v26h-26zM1144 620.75h22.75v26h-22.75zM1140.75 620.75h26v22.75h-26zM1140.75 617.5h26v26h-26zM1140.75 617.5h22.75v26h-22.75zM1137.5 617.5h26v22.75h-26zM1137.5 614.25h26v26h-26zM1137.5 614.25h22.75v26h-22.75zM1137.5 614.25h22.75v22.75h-22.75zM1134.25 611h26v26h-26zM1134.25 611h22.75v26h-22.75zM1131 611h26v22.75h-26zM1131 607.75h26v26h-26zM1131 607.75h22.75v22.75h-22.75zM1127.75 604.5h26v26h-26zM1127.75 604.5h26v22.75h-26zM1127.75 604.5h22.75v22.75h-22.75zM1124.5 601.25h26v26h-26zM1124.5 601.25h26v22.75h-26zM1124.5 598h22.75v26h-22.75zM1121.25 598h26v26h-26zM1121.25 598h26v22.75h-26zM1121.25 594.75h26v26h-26zM1121.25 594.75h22.75v26h-22.75zM1118 594.75h26v26h-26zM1118 594.75h26v22.75h-26zM1118 591.5h26v26h-26zM1118 591.5h22.75v26h-22.75zM1114.75 591.5h26v22.75h-26zM1114.75 588.25h26v26h-26zM1114.75 588.25h22.75v22.75h-22.75zM1111.5 585h26v26h-26zM1111.5 585h26v22.75h-26zM1111.5 581.75h22.75v26h-22.75zM1108.25 581.75h26v26h-26zM1108.25 581.75h26v22.75h-26zM1108.25 578.5h26v26h-26zM1108.25 578.5h22.75v26h-22.75zM1108.25 578.5h22.75v22.75h-22.75zM1105 575.25h26v26h-26zM1105 575.25h26v22.75h-26zM1105 572h22.75v26h-22.75zM1101.75 572h26v26h-26zM1101.75 572h26v22.75h-26zM1101.75 568.75h26v26h-26zM1101.75 568.75h22.75v22.75h-22.75zM1101.75 565.5h22.75v26h-22.75zM1098.5 565.5h26v26h-26zM1098.5 565.5h26v22.75h-26zM1098.5 562.25h26v26h-26zM1098.5 562.25h22.75v22.75h-22.75zM1098.5 559h22.75v26h-22.75zM1095.25 559h26v26h-26zM1095.25 559h26v22.75h-26zM1095.25 555.75h26v26h-26zM1095.25 555.75h26v22.75h-26zM1095.25 552.5h22.75v26h-22.75zM1092 552.5h26v22.75h-26zM1092 549.25h26v26h-26zM1092 549.25h26v22.75h-26zM1092 546h26v26h-26zM1092 546h26v22.75h-26zM1092 542.75h26v26h-26zM1092 542.75h22.75v26h-22.75zM1092 542.75h22.75v22.75h-22.75zM1092 539.5h22.75v26h-22.75zM1092 539.5h22.75v22.75h-22.75zM1092 536.25h22.75v26h-22.75zM1088.75 536.25h26v26h-26zM1088.75 536.25h26v22.75h-26zM1088.75 533h26v26h-26zM1088.75 533h26v22.75h-26zM1088.75 529.75h26v26h-26zM1088.75 529.75h26v22.75h-26zM1088.75 526.5h26v26h-26zM1088.75 526.5h26v22.75h-26zM1092 523.25h22.75v26h-22.75zM1092 523.25h22.75v22.75h-22.75zM1092 520h22.75v26h-22.75zM1092 520h26v22.75h-26zM1092 516.75h26v26h-26zM1092 516.75h26v22.75h-26zM1092 513.5h26v26h-26zM1092 513.5h26v22.75h-26zM1092 510.25h26v26h-26zM1095.25 510.25h22.75v26h-22.75zM1095.25 510.25h22.75v22.75h-22.75zM1095.25 507h26v26h-26zM1095.25 507h26v22.75h-26zM1095.25 503.75h26v26h-26zM1098.5 503.75h22.75v26h-22.75zM1098.5 503.75h22.75v22.75h-22.75zM1098.5 500.5h26v26h-26zM1098.5 500.5h26v22.75h-26zM1101.75 497.25h22.75v26h-22.75zM1101.75 497.25h26v26h-26zM1101.75 497.25h26v22.75h-26zM1101.75 494h26v26h-26zM1105 494h22.75v26h-22.75zM1105 494h22.75v22.75h-22.75zM1105 490.75h26v26h-26zM1108.25 490.75h22.75v22.75h-22.75zM1108.25 487.5h22.75v26h-22.75zM1108.25 487.5h26v26h-26zM1108.25 487.5h26v22.75h-26zM1111.5 484.25h22.75v26h-22.75zM1111.5 484.25h26v26h-26zM1111.5 484.25h26v22.75h-26zM1114.75 481h22.75v26h-22.75zM1114.75 481h26v26h-26zM1114.75 481h26v22.75h-26zM1118 481h22.75v22.75h-22.75zM1118 477.75h22.75v26h-22.75zM1118 477.75h26v26h-26zM1118 477.75h26v22.75h-26zM1121.25 477.75h22.75v22.75h-22.75zM1121.25 474.5h26v26h-26zM1124.5 474.5h22.75v22.75h-22.75zM1124.5 474.5h26v22.75h-26zM1124.5 471.25h26v26h-26zM1127.75 471.25h22.75v26h-22.75zM1127.75 471.25h26v26h-26zM1127.75 471.25h26v22.75h-26zM1131 468h22.75v26h-22.75zM1131 468h26v26h-26zM1134.25 468h22.75v22.75h-22.75zM1134.25 468h26v22.75h-26zM1134.25 464.75h26v26h-26zM1137.5 464.75h22.75v26h-22.75zM1137.5 464.75h26v26h-26zM1137.5 464.75h26v22.75h-26zM1140.75 464.75h22.75v22.75h-22.75zM1140.75 461.5h22.75v26h-22.75zM1140.75 461.5h26v26h-26zM1144 461.5h22.75v26h-22.75zM1144 461.5h26v22.75h-26zM1144 458.25h26v26h-26zM1147.25 458.25h22.75v26h-22.75zM1147.25 458.25h26v26h-26zM1150.5 458.25h22.75v22.75h-22.75zM1150.5 458.25h26v22.75h-26zM1150.5 455h26v26h-26zM1153.75 455h22.75v26h-22.75zM1153.75 455h26v26h-26zM1157 455h22.75v22.75h-22.75zM1157 455h26v22.75h-26zM1160.25 451.75h22.75v26h-22.75zM1160.25 451.75h26v26h-26zM1163.5 451.75h22.75v26h-22.75zM1163.5 451.75h26v22.75h-26zM1163.5 448.5h26v26h-26zM1166.75 448.5h22.75v26h-22.75zM1166.75 448.5h26v26h-26zM1170 448.5h22.75v26h-22.75zM1170 448.5h26v26h-26zM1170 448.5h26v22.75h-26zM1173.25 445.25h22.75v26h-22.75zM1173.25 445.25h26v26h-26zM1176.5 445.25h22.75v26h-22.75zM1176.5 445.25h26v26h-26zM1176.5 445.25h26v22.75h-26zM1179.75 445.25h22.75v22.75h-22.75zM1179.75 445.25h26v22.75h-26zM1179.75 442h26v26h-26zM1183 442h22.75v26h-22.75zM1183 442h26v26h-26zM1186.25 442h22.75v26h-22.75zM1186.25 442h26v22.75h-26zM1189.5 442h22.75v22.75h-22.75zM1189.5 438.75h26v26h-26zM1192.75 438.75h22.75v26h-22.75zM1192.75 438.75h26v26h-26zM1196 438.75h22.75v22.75h-22.75zM1196 438.75h26v22.75h-26zM1196 435.5h26v26h-26zM1199.25 435.5h22.75v26h-22.75zM1199.25 435.5h26v26h-26zM1202.5 435.5h22.75v26h-22.75zM1202.5 435.5h26v26h-26zM1202.5 435.5h26v22.75h-26zM1205.75 435.5h22.75v22.75h-22.75zM1205.75 435.5h26v22.75h-26zM1205.75 432.25h26v26h-26zM1209 432.25h22.75v26h-22.75zM1209 432.25h26v26h-26zM1212.25 432.25h22.75v26h-22.75zM1212.25 432.25h26v26h-26zM1212.25 432.25h26v22.75h-26zM1215.5 432.25h22.75v22.75h-22.75zM1215.5 432.25h26v22.75h-26zM1218.75 429h22.75v26h-22.75zM1218.75 429h26v26h-26zM1222 429h22.75v26h-22.75zM1222 429h26v26h-26zM1225.25 429h22.75v22.75h-22.75zM1225.25 429h26v22.75h-26zM1228.5 429h22.75v22.75h-22.75zM1228.5 425.75h26v26h-26zM1231.75 425.75h22.75v26h-22.75zM1231.75 425.75h26v26h-26zM1235 425.75h22.75v26h-22.75zM1235 425.75h26v26h-26zM1235 425.75h26v22.75h-26zM1238.25 425.75h22.75v22.75h-22.75zM1238.25 422.5h26v26h-26zM1241.5 422.5h22.75v26h-22.75zM1241.5 422.5h26v26h-26zM1244.75 422.5h22.75v26h-22.75zM1244.75 422.5h26v26h-26zM1244.75 422.5h26v22.75h-26zM1248 422.5h22.75v22.75h-22.75zM1248 422.5h26v22.75h-26zM1251.25 419.25h22.75v26h-22.75zM1251.25 419.25h26v26h-26zM1254.5 419.25h22.75v26h-22.75zM1254.5 419.25h26v26h-26zM1257.75 419.25h22.75v26h-22.75zM1257.75 419.25h26v26h-26zM1257.75 419.25h26v22.75h-26zM1261 419.25h22.75v22.75h-22.75zM1261 419.25h26v22.75h-26zM1261 416h26v26h-26zM1264.25 416h22.75v26h-22.75zM1264.25 416h26v26h-26zM1267.5 416h22.75v26h-22.75zM1267.5 416h26v26h-26zM1270.75 416h22.75v26h-22.75zM1270.75 416h26v26h-26zM1270.75 416h26v22.75h-26zM1274 416h22.75v22.75h-22.75zM1274 416h26v22.75h-26zM1274 412.75h26v26h-26zM1277.25 412.75h22.75v26h-22.75zM1277.25 412.75h26v26h-26zM1280.5 412.75h22.75v26h-22.75zM1280.5 412.75h26v26h-26zM1283.75 412.75h22.75v26h-22.75zM1283.75 412.75h26v22.75h-26zM1287 412.75h22.75v22.75h-22.75zM1287 412.75h26v22.75h-26zM1287 409.5h26v26h-26zM1290.25 409.5h22.75v26h-22.75zM1290.25 409.5h26v26h-26zM1293.5 409.5h22.75v26h-22.75zM1293.5 409.5h26v26h-26zM1296.75 409.5h22.75v26h-22.75zM1296.75 409.5h26v26h-26zM1296.75 409.5h26v22.75h-26zM1300 409.5h22.75v22.75h-22.75zM1300 409.5h26v22.75h-26zM1300 406.25h26v26h-26zM1303.25 406.25h22.75v26h-22.75zM1303.25 406.25h26v26h-26zM1306.5 406.25h22.75v26h-22.75zM1306.5 406.25h26v26h-26zM1309.75 406.25h22.75v26h-22.75zM1309.75 406.25h26v26h-26zM1313 406.25h22.75v22.75h-22.75zM1313 406.25h26v22.75h-26zM1316.25 406.25h22.75v22.75h-22.75zM1316.25 403h26v26h-26zM1319.5 403h22.75v26h-22.75zM1319.5 403h26v26h-26zM1322.75 403h22.75v26h-22.75zM1322.75 403h26v26h-26zM1326 403h22.75v26h-22.75zM1326 403h26v26h-26zM1326 403h26v22.75h-26zM1329.25 403h22.75v22.75h-22.75zM1329.25 403h26v22.75h-26zM1332.5 399.75h22.75v26h-22.75zM1332.5 399.75h26v26h-26zM1335.75 399.75h22.75v26h-22.75zM1335.75 399.75h26v26h-26zM1339 399.75h22.75v26h-22.75zM1339 399.75h26v26h-26zM1342.25 399.75h22.75v26h-22.75zM1342.25 399.75h26v22.75h-26zM1345.5 399.75h22.75v22.75h-22.75zM1345.5 399.75h26v22.75h-26zM1348.75 396.5h22.75v26h-22.75zM1348.75 396.5h26v26h-26zM1352 396.5h22.75v26h-22.75zM1352 396.5h26v26h-26zM1355.25 396.5h22.75v26h-22.75zM1355.25 396.5h26v26h-26zM1358.5 396.5h22.75v26h-22.75zM1358.5 396.5h26v22.75h-26zM1361.75 396.5h22.75v22.75h-22.75zM1361.75 396.5h26v22.75h-26zM1365 393.25h22.75v26h-22.75zM1365 393.25h26v26h-26zM1368.25 393.25h22.75v26h-22.75zM1368.25 393.25h26v26h-26zM1371.5 393.25h22.75v26h-22.75zM1371.5 393.25h26v26h-26zM1374.75 393.25h22.75v26h-22.75zM1374.75 393.25h26v26h-26zM1374.75 393.25h26v22.75h-26zM1378 393.25h22.75v22.75h-22.75zM1378 393.25h26v22.75h-26zM1381.25 393.25h22.75v22.75h-22.75zM1381.25 390h26v26h-26zM1384.5 390h22.75v26h-22.75zM1384.5 390h26v26h-26zM1387.75 390h22.75v26h-22.75zM1387.75 390h26v26h-26zM1391 390h22.75v26h-22.75zM1391 390h26v26h-26zM1394.25 390h22.75v22.75h-22.75zM1394.25 390h26v22.75h-26zM1397.5 390h22.75v22.75h-22.75zM1397.5 390h26v22.75h-26zM1397.5 386.75h26v26h-26zM1400.75 386.75h22.75v26h-22.75zM1400.75 386.75h26v26h-26zM1404 386.75h22.75v26h-22.75zM1404 386.75h26v26h-26zM1407.25 386.75h22.75v26h-22.75zM1407.25 386.75h26v26h-26zM1410.5 386.75h22.75v26h-22.75zM1410.5 386.75h26v26h-26zM1410.5 386.75h26v22.75h-26zM1413.75 386.75h22.75v22.75h-22.75zM1413.75 386.75h26v22.75h-26zM1417 386.75h22.75v22.75h-22.75zM1417 383.5h26v26h-26zM1420.25 383.5h22.75v26h-22.75zM1420.25 383.5h26v26h-26zM1423.5 383.5h22.75v26h-22.75zM1423.5 383.5h26v26h-26zM1426.75 383.5h22.75v26h-22.75zM1426.75 383.5h26v26h-26zM1430 383.5h22.75v26h-22.75zM1430 383.5h26v26h-26zM1430 383.5h26v22.75h-26zM1433.25 383.5h22.75v22.75h-22.75zM1433.25 383.5h26v22.75h-26zM1436.5 383.5h22.75v22.75h-22.75zM1436.5 383.5h26v22.75h-26zM1436.5 380.25h26v26h-26zM1439.75 380.25h22.75v26h-22.75zM1439.75 380.25h26v26h-26zM1443 380.25h22.75v26h-22.75zM1443 380.25h26v26h-26zM1446.25 380.25h22.75v26h-22.75zM1446.25 380.25h26v26h-26zM1449.5 380.25h22.75v26h-22.75zM1449.5 380.25h26v26h-26zM1449.5 380.25h26v22.75h-26zM1452.75 380.25h22.75v22.75h-22.75zM1452.75 380.25h26v22.75h-26zM1456 380.25h22.75v22.75h-22.75zM1456 380.25h26v22.75h-26zM1456 377h26v26h-26zM1459.25 377h22.75v26h-22.75zM1459.25 377h26v26h-26zM1462.5 377h22.75v26h-22.75zM1462.5 377h26v26h-26zM1465.75 377h22.75v26h-22.75zM1465.75 377h26v26h-26zM1469 377h22.75v26h-22.75zM1469 377h26v26h-26zM1472.25 377h22.75v22.75h-22.75zM1472.25 377h26v22.75h-26zM1475.5 377h22.75v22.75h-22.75zM1475.5 377h26v22.75h-26zM1478.75 373.75h22.75v26h-22.75zM1478.75 373.75h26v26h-26zM1482 373.75h22.75v26h-22.75zM1482 373.75h26v26h-26zM1485.25 373.75h22.75v26h-22.75zM1485.25 373.75h26v26h-26zM1488.5 373.75h22.75v26h-22.75zM1488.5 373.75h26v26h-26zM1491.75 373.75h22.75v26h-22.75zM1491.75 373.75h26v26h-26zM1491.75 373.75h26v22.75h-26zM1495 373.75h22.75v22.75h-22.75zM1495 373.75h26v22.75h-26zM1498.25 373.75h22.75v22.75h-22.75zM1498.25 373.75h26v22.75h-26zM1498.25 370.5h26v26h-26zM1501.5 370.5h22.75v26h-22.75zM1501.5 370.5h26v26h-26zM1504.75 370.5h22.75v26h-22.75zM1504.75 370.5h26v26h-26zM1508 370.5h22.75v26h-22.75zM1508 370.5h26v26h-26zM1511.25 370.5h22.75v26h-22.75zM1511.25 370.5h26v26h-26zM1514.5 370.5h22.75v26h-22.75zM1514.5 370.5h26v26h-26zM1514.5 370.5h26v22.75h-26zM1517.75 370.5h22.75v22.75h-22.75zM1517.75 370.5h26v22.75h-26zM1521 370.5h22.75v22.75h-22.75zM1521 370.5h26v22.75h-26zM1521 367.25h26v26h-26zM1524.25 367.25h22.75v26h-22.75zM1524.25 367.25h26v26h-26zM1527.5 367.25h22.75v26h-22.75zM1527.5 367.25h26v26h-26zM1530.75 367.25h22.75v26h-22.75zM1530.75 367.25h26v26h-26zM1534 367.25h22.75v26h-22.75zM1534 367.25h26v26h-26zM1537.25 367.25h22.75v26h-22.75zM1537.25 367.25h26v26h-26zM1537.25 367.25h26v22.75h-26zM1540.5 367.25h22.75v22.75h-22.75zM1540.5 367.25h26v22.75h-26zM1543.75 367.25h22.75v22.75h-22.75zM1543.75 367.25h26v22.75h-26zM1547 364h22.75v26h-22.75zM1547 364h26v26h-26zM1550.25 364h22.75v26h-22.75zM1550.25 364h26v26h-26zM1553.5 364h22.75v26h-22.75zM1553.5 364h26v26h-26zM1556.75 364h22.75v26h-22.75zM1556.75 364h26v26h-26zM1560 364h22.75v26h-22.75zM1560 364h26v26h-26zM1563.25 364h22.75v22.75h-22.75zM1563.25 364h26v22.75h-26zM1566.5 364h22.75v22.75h-22.75zM1566.5 364h26v22.75h-26zM1569.75 364h22.75v22.75h-22.75zM1569.75 364h26v22.75h-26zM1569.75 360.75h26v26h-26zM1573 360.75h22.75v26h-22.75zM1573 360.75h26v26h-26zM1576.25 360.75h22.75v26h-22.75zM1576.25 360.75h26v26h-26zM1579.5 360.75h22.75v26h-22.75zM1579.5 360.75h26v26h-26zM1582.75 360.75h22.75v26h-22.75zM1582.75 360.75h26v26h-26zM1586 360.75h22.75v26h-22.75zM1586 360.75h26v26h-26zM1586 360.75h26v22.75h-26zM1589.25 360.75h22.75v22.75h-22.75zM1589.25 360.75h26v22.75h-26zM1592.5 360.75h22.75v22.75h-22.75zM1592.5 360.75h26v22.75h-26zM1595.75 360.75h22.75v22.75h-22.75zM1595.75 357.5h26v26h-26zM1599 357.5h22.75v26h-22.75zM1599 357.5h26v26h-26zM1602.25 357.5h22.75v26h-22.75zM1602.25 357.5h26v26h-26zM1605.5 357.5h22.75v26h-22.75zM1605.5 357.5h26v26h-26zM1608.75 357.5h22.75v26h-22.75zM1608.75 357.5h26v26h-26zM1612 357.5h22.75v26h-22.75zM1612 357.5h26v26h-26zM1615.25 357.5h22.75v22.75h-22.75zM1615.25 357.5h26v22.75h-26zM1618.5 357.5h22.75v22.75h-22.75zM1618.5 357.5h26v22.75h-26zM1621.75 357.5h22.75v22.75h-22.75zM1621.75 354.25h26v26h-26zM1625 354.25h22.75v26h-22.75zM1625 354.25h26v26h-26zM1628.25 354.25h22.75v26h-22.75zM1628.25 354.25h26v26h-26zM1631.5 354.25h22.75v26h-22.75zM1631.5 354.25h26v26h-26zM1634.75 354.25h22.75v26h-22.75zM1634.75 354.25h26v26h-26zM1638 354.25h22.75v26h-22.75zM1638 354.25h26v26h-26zM1641.25 354.25h22.75v26h-22.75zM1641.25 354.25h26v22.75h-26zM1644.5 354.25h22.75v22.75h-22.75zM1644.5 354.25h26v22.75h-26zM1647.75 354.25h22.75v22.75h-22.75zM1647.75 354.25h26v22.75h-26zM1651 351h22.75v26h-22.75zM1651 351h26v26h-26zM1654.25 351h22.75v26h-22.75zM1654.25 351h26v26h-26zM1657.5 351h22.75v26h-22.75zM1657.5 351h26v26h-26zM1660.75 351h22.75v26h-22.75zM1660.75 351h26v26h-26zM1664 351h22.75v26h-22.75zM1664 351h26v26h-26zM1667.25 351h22.75v26h-22.75zM1667.25 351h26v26h-26zM1667.25 351h26v22.75h-26zM1670.5 351h22.75v22.75h-22.75zM1670.5 351h26v22.75h-26zM1673.75 351h22.75v22.75h-22.75zM1673.75 351h26v22.75h-26zM1677 351h22.75v22.75h-22.75zM1677 351h26v22.75h-26zM1677 347.75h26v26h-26zM1680.25 347.75h22.75v26h-22.75zM1680.25 347.75h26v26h-26zM1683.5 347.75h22.75v26h-22.75zM1683.5 347.75h26v26h-26zM1686.75 347.75h22.75v26h-22.75zM1686.75 347.75h26v26h-26zM1690 347.75h22.75v26h-22.75zM1690 347.75h26v26h-26zM1693.25 347.75h22.75v26h-22.75zM1693.25 347.75h26v26h-26zM1696.5 347.75h22.75v26h-22.75zM1696.5 347.75h26v26h-26zM1699.75 347.75h22.75v22.75h-22.75zM1699.75 347.75h26v22.75h-26zM1703 347.75h22.75v22.75h-22.75zM1703 347.75h26v22.75h-26zM1706.25 347.75h22.75v22.75h-22.75zM1706.25 347.75h26v22.75h-26zM1706.25 344.5h26v26h-26zM1709.5 344.5h22.75v26h-22.75zM1709.5 344.5h26v26h-26zM1712.75 344.5h22.75v26h-22.75zM1712.75 344.5h26v26h-26zM1716 344.5h22.75v26h-22.75zM1716 344.5h26v26h-26zM1719.25 344.5h22.75v26h-22.75zM1719.25 344.5h26v26h-26zM1722.5 344.5h22.75v26h-22.75zM1722.5 344.5h26v26h-26zM1725.75 344.5h22.75v26h-22.75zM1725.75 344.5h26v26h-26zM1729 344.5h22.75v26h-22.75zM1729 344.5h26v22.75h-26zM1732.25 344.5h22.75v22.75h-22.75zM1732.25 344.5h26v22.75h-26zM1735.5 344.5h22.75v22.75h-22.75zM1735.5 344.5h26v22.75h-26zM1738.75 344.5h22.75v22.75h-22.75zM1738.75 341.25h26v26h-26zM1742 341.25h22.75v26h-22.75zM1742 341.25h26v26h-26zM1745.25 341.25h22.75v26h-22.75zM1745.25 341.25h26v26h-26zM1748.5 341.25h22.75v26h-22.75zM1748.5 341.25h26v26h-26zM1751.75 341.25h22.75v26h-22.75zM1751.75 341.25h26v26h-26zM1755 341.25h22.75v26h-22.75zM1755 341.25h26v26h-26zM1758.25 341.25h22.75v26h-22.75zM1758.25 341.25h26v26h-26zM1761.5 341.25h22.75v22.75h-22.75zM1761.5 341.25h26v22.75h-26zM1764.75 341.25h22.75v22.75h-22.75zM1764.75 341.25h26v22.75h-26zM1768 341.25h22.75v22.75h-22.75zM1768 341.25h26v22.75h-26zM1771.25 338h22.75v26h-22.75zM1771.25 338h26v26h-26zM1774.5 338h22.75v26h-22.75zM1774.5 338h26v26h-26zM1777.75 338h22.75v26h-22.75zM1777.75 338h26v26h-26zM1781 338h22.75v26h-22.75zM1781 338h26v26h-26zM1784.25 338h22.75v26h-22.75zM1784.25 338h26v26h-26zM1787.5 338h22.75v26h-22.75zM1787.5 338h26v26h-26zM1790.75 338h22.75v26h-22.75zM1790.75 338h26v26h-26zM1790.75 338h26v22.75h-26zM1794 338h22.75v22.75h-22.75zM1794 338h26v22.75h-26zM1797.25 338h22.75v22.75h-22.75zM1797.25 338h26v22.75h-26zM1800.5 338h22.75v22.75h-22.75zM1800.5 338h26v22.75h-26zM1803.75 334.75h22.75v26h-22.75zM1803.75 334.75h26v26h-26zM1807 334.75h22.75v26h-22.75zM1807 334.75h26v26h-26zM1810.25 334.75h22.75v26h-22.75zM1810.25 334.75h26v26h-26zM1813.5 334.75h22.75v26h-22.75zM1813.5 334.75h26v26h-26zM1816.75 334.75h22.75v26h-22.75zM1816.75 334.75h26v26h-26zM1820 334.75h22.75v26h-22.75zM1820 334.75h26v26h-26zM1823.25 334.75h22.75v26h-22.75zM1823.25 334.75h26v26h-26zM1826.5 334.75h22.75v26h-22.75zM1826.5 334.75h26v22.75h-26zM1829.75 334.75h22.75v22.75h-22.75zM1829.75 334.75h26v22.75h-26zM1833 334.75h22.75v22.75h-22.75zM1833 334.75h26v22.75h-26zM1836.25 334.75h22.75v22.75h-22.75zM1836.25 334.75h26v22.75h-26zM1836.25 331.5h26v26h-26zM1839.5 331.5h22.75v26h-22.75zM1839.5 331.5h26v26h-26zM1842.75 331.5h22.75v26h-22.75zM1842.75 331.5h26v26h-26zM1846 331.5h22.75v26h-22.75zM1846 331.5h26v26h-26zM1849.25 331.5h22.75v26h-22.75zM1849.25 331.5h26v26h-26zM1852.5 331.5h22.75v26h-22.75zM1852.5 331.5h26v26h-26zM1855.75 331.5h22.75v26h-22.75zM1855.75 331.5h26v26h-26zM1859 331.5h22.75v26h-22.75zM1859 331.5h26v26h-26zM1862.25 331.5h22.75v26h-22.75zM1862.25 331.5h26v22.75h-26zM1865.5 331.5h22.75v22.75h-22.75zM1865.5 331.5h26v22.75h-26zM1868.75 331.5h22.75v22.75h-22.75zM1868.75 331.5h26v22.75h-26zM1872 331.5h22.75v22.75h-22.75zM1872 331.5h26v22.75h-26zM1872 328.25h26v26h-26zM1875.25 328.25h22.75v26h-22.75zM1875.25 328.25h26v26h-26zM1878.5 328.25h22.75v26h-22.75zM1878.5 328.25h26v26h-26zM1881.75 328.25h22.75v26h-22.75zM1881.75 328.25h26v26h-26zM1885 328.25h22.75v26h-22.75zM1885 328.25h26v26h-26zM1888.25 328.25h22.75v26h-22.75zM1888.25 328.25h26v26h-26zM1891.5 328.25h22.75v26h-22.75zM1891.5 328.25h26v26h-26zM1894.75 328.25h22.75v26h-22.75zM1894.75 328.25h26v26h-26zM1898 328.25h22.75v26h-22.75zM1898 328.25h26v22.75h-26zM1901.25 328.25h22.75v22.75h-22.75zM1901.25 328.25h26v22.75h-26zM1904.5 328.25h22.75v22.75h-22.75zM1904.5 328.25h26v22.75h-26zM1907.75 328.25h22.75v22.75h-22.75zM1907.75 328.25h26v22.75h-26zM1911 325h22.75v26h-22.75zM1911 325h26v26h-26zM1914.25 325h22.75v26h-22.75zM1914.25 325h26v26h-26zM1917.5 325h22.75v26h-22.75zM1917.5 325h26v26h-26zM1920.75 325h22.75v26h-22.75zM1920.75 325h26v26h-26zM1924 325h22.75v26h-22.75zM1924 325h26v26h-26zM1927.25 325h22.75v26h-22.75zM1927.25 325h26v26h-26zM1930.5 325h22.75v26h-22.75zM1930.5 325h26v26h-26zM1933.75 325h22.75v26h-22.75zM1933.75 325h26v26h-26zM1937 325h22.75v22.75h-22.75zM1937 325h26v22.75h-26zM1940.25 325h22.75v22.75h-22.75zM1940.25 325h26v22.75h-26zM1943.5 325h22.75v22.75h-22.75zM1943.5 325h26v22.75h-26zM1946.75 325h22.75v22.75h-22.75zM1946.75 325h26v22.75h-26zM1946.75 321.75h26v26h-26zM1950 321.75h22.75v26h-22.75zM1950 321.75h26v26h-26zM1953.25 321.75h22.75v26h-22.75zM1953.25 321.75h26v26h-26zM1956.5 321.75h22.75v26h-22.75zM1956.5 321.75h26v26h-26zM1959.75 321.75h22.75v26h-22.75zM1959.75 321.75h26v26h-26zM1963 321.75h22.75v26h-22.75zM1963 321.75h26v26h-26zM1966.25 321.75h22.75v26h-22.75zM1966.25 321.75h26v26h-26zM1969.5 321.75h22.75v26h-22.75zM1969.5 321.75h26v26h-26zM1972.75 321.75h22.75v26h-22.75zM1972.75 321.75h26v26h-26zM1972.75 321.75h26v22.75h-26zM1976 321.75h22.75v22.75h-22.75zM1976 321.75h26v22.75h-26z"/>
</g>
<g class="tk tx">
<text transform="translate(264.00 1297.70) scale(1 1.035)" text-anchor="end">0.0</text>
<text transform="translate(264.00 1176.62) scale(1 1.035)" text-anchor="end">0.1</text>
<text transform="translate(264.00 1055.53) scale(1 1.035)" text-anchor="end">0.2</text>
<text transform="translate(264.00 934.44) scale(1 1.035)" text-anchor="end">0.3</text>
<text transform="translate(264.00 813.36) scale(1 1.035)" text-anchor="end">0.4</text>
<text transform="translate(264.00 692.27) scale(1 1.035)" text-anchor="end">0.5</text>
<text transform="translate(264.00 571.19) scale(1 1.035)" text-anchor="end">0.6</text>
<text transform="translate(264.00 450.11) scale(1 1.035)" text-anchor="end">0.7</text>
<text transform="translate(264.00 329.02) scale(1 1.035)" text-anchor="end">0.8</text>
<text transform="translate(264.00 207.94) scale(1 1.035)" text-anchor="end">0.9</text>
<text transform="translate(264.00 86.85) scale(1 1.035)" text-anchor="end">1.0</text>
<text transform="translate(304.50 1370.50) scale(1 1.035)" text-anchor="middle">216</text>
<text transform="translate(487.06 1370.50) scale(1 1.035)" text-anchor="middle">217</text>
<text transform="translate(669.61 1370.50) scale(1 1.035)" text-anchor="middle">218</text>
<text transform="translate(852.17 1370.50) scale(1 1.035)" text-anchor="middle">219</text>
<text transform="translate(1034.72 1370.50) scale(1 1.035)" text-anchor="middle">220</text>
<text transform="translate(1217.28 1370.50) scale(1 1.035)" text-anchor="middle">221</text>
<text transform="translate(1399.83 1370.50) scale(1 1.035)" text-anchor="middle">222</text>
<text transform="translate(1582.39 1370.50) scale(1 1.035)" text-anchor="middle">223</text>
<text transform="translate(1764.94 1370.50) scale(1 1.035)" text-anchor="middle">224</text>
<text transform="translate(1947.50 1370.50) scale(1 1.035)" text-anchor="middle">225</text>
</g>
<g class="tx">
<text transform="translate(1071.40 1478.70) scale(1 1.01)" text-anchor="start" font-size="74"><tspan class="it">T</tspan> [K]</text>
<text transform="translate(92.70 607.40) rotate(-90) scale(1 1.04)" font-size="77" text-anchor="middle" class="it">Nhs</text>
</g>
<rect x="1683.00" y="462.00" width="534.00" height="805.70" fill="#fff" stroke="#000" stroke-width="2.4"/>
<g class="lg lgt">
<rect x="1795.85" y="561.30" width="32.50" height="31.60" fill="#0000ff"/>
<text transform="translate(1902.60 598.40) scale(1 1.01)" text-anchor="start"><tspan class="it">J</tspan>/<tspan class="it">k</tspan><tspan class="sub" dx="0" dy="22.6">B</tspan><tspan dx="0.7" dy="-22.6">=11 K</tspan></text>
<rect x="1795.85" y="641.60" width="32.50" height="32.50" fill="#ff8000"/>
<text transform="translate(1902.60 677.30) scale(1 1.01)" text-anchor="start"><tspan class="it">J</tspan>/<tspan class="it">k</tspan><tspan class="sub" dx="0" dy="22.6">B</tspan><tspan dx="0.7" dy="-22.6">=12 K</tspan></text>
<rect x="1795.85" y="723.30" width="32.50" height="31.70" fill="#008000"/>
<text transform="translate(1902.60 757.40) scale(1 1.01)" text-anchor="start"><tspan class="it">J</tspan>/<tspan class="it">k</tspan><tspan class="sub" dx="0" dy="22.6">B</tspan><tspan dx="0.7" dy="-22.6">=13 K</tspan></text>
<rect x="1795.85" y="803.30" width="32.50" height="29.90" fill="#000000"/>
<text transform="translate(1902.60 837.60) scale(1 1.01)" text-anchor="start"><tspan class="it">J</tspan>/<tspan class="it">k</tspan><tspan class="sub" dx="0" dy="22.6">B</tspan><tspan dx="0.7" dy="-22.6">=15 K</tspan></text>
<rect x="1795.85" y="881.50" width="32.50" height="32.50" fill="#800080"/>
<text transform="translate(1902.60 917.70) scale(1 1.01)" text-anchor="start"><tspan class="it">J</tspan>/<tspan class="it">k</tspan><tspan class="sub" dx="0" dy="22.6">B</tspan><tspan dx="0.7" dy="-22.6">=16 K</tspan></text>
<rect x="1795.85" y="962.80" width="32.50" height="32.40" fill="#ff0000"/>
<text transform="translate(1902.60 997.90) scale(1 1.01)" text-anchor="start"><tspan class="it">J</tspan>/<tspan class="it">k</tspan><tspan class="sub" dx="0" dy="22.6">B</tspan><tspan dx="0.7" dy="-22.6">=17 K</tspan></text>
<rect x="1795.85" y="1044.00" width="32.50" height="32.40" fill="#808000"/>
<text transform="translate(1902.60 1077.50) scale(1 1.01)" text-anchor="start"><tspan class="it">J</tspan>/<tspan class="it">k</tspan><tspan class="sub" dx="0" dy="22.6">B</tspan><tspan dx="0.7" dy="-22.6">=18 K</tspan></text>
<rect x="1795.85" y="1121.50" width="32.50" height="32.10" fill="#ff00ff"/>
<text transform="translate(1902.60 1157.60) scale(1 1.01)" text-anchor="start"><tspan class="it">J</tspan>/<tspan class="it">k</tspan><tspan class="sub" dx="0" dy="22.6">B</tspan><tspan dx="0.7" dy="-22.6">=19 K</tspan></text>
</g>
</g>
</svg></body></html>
